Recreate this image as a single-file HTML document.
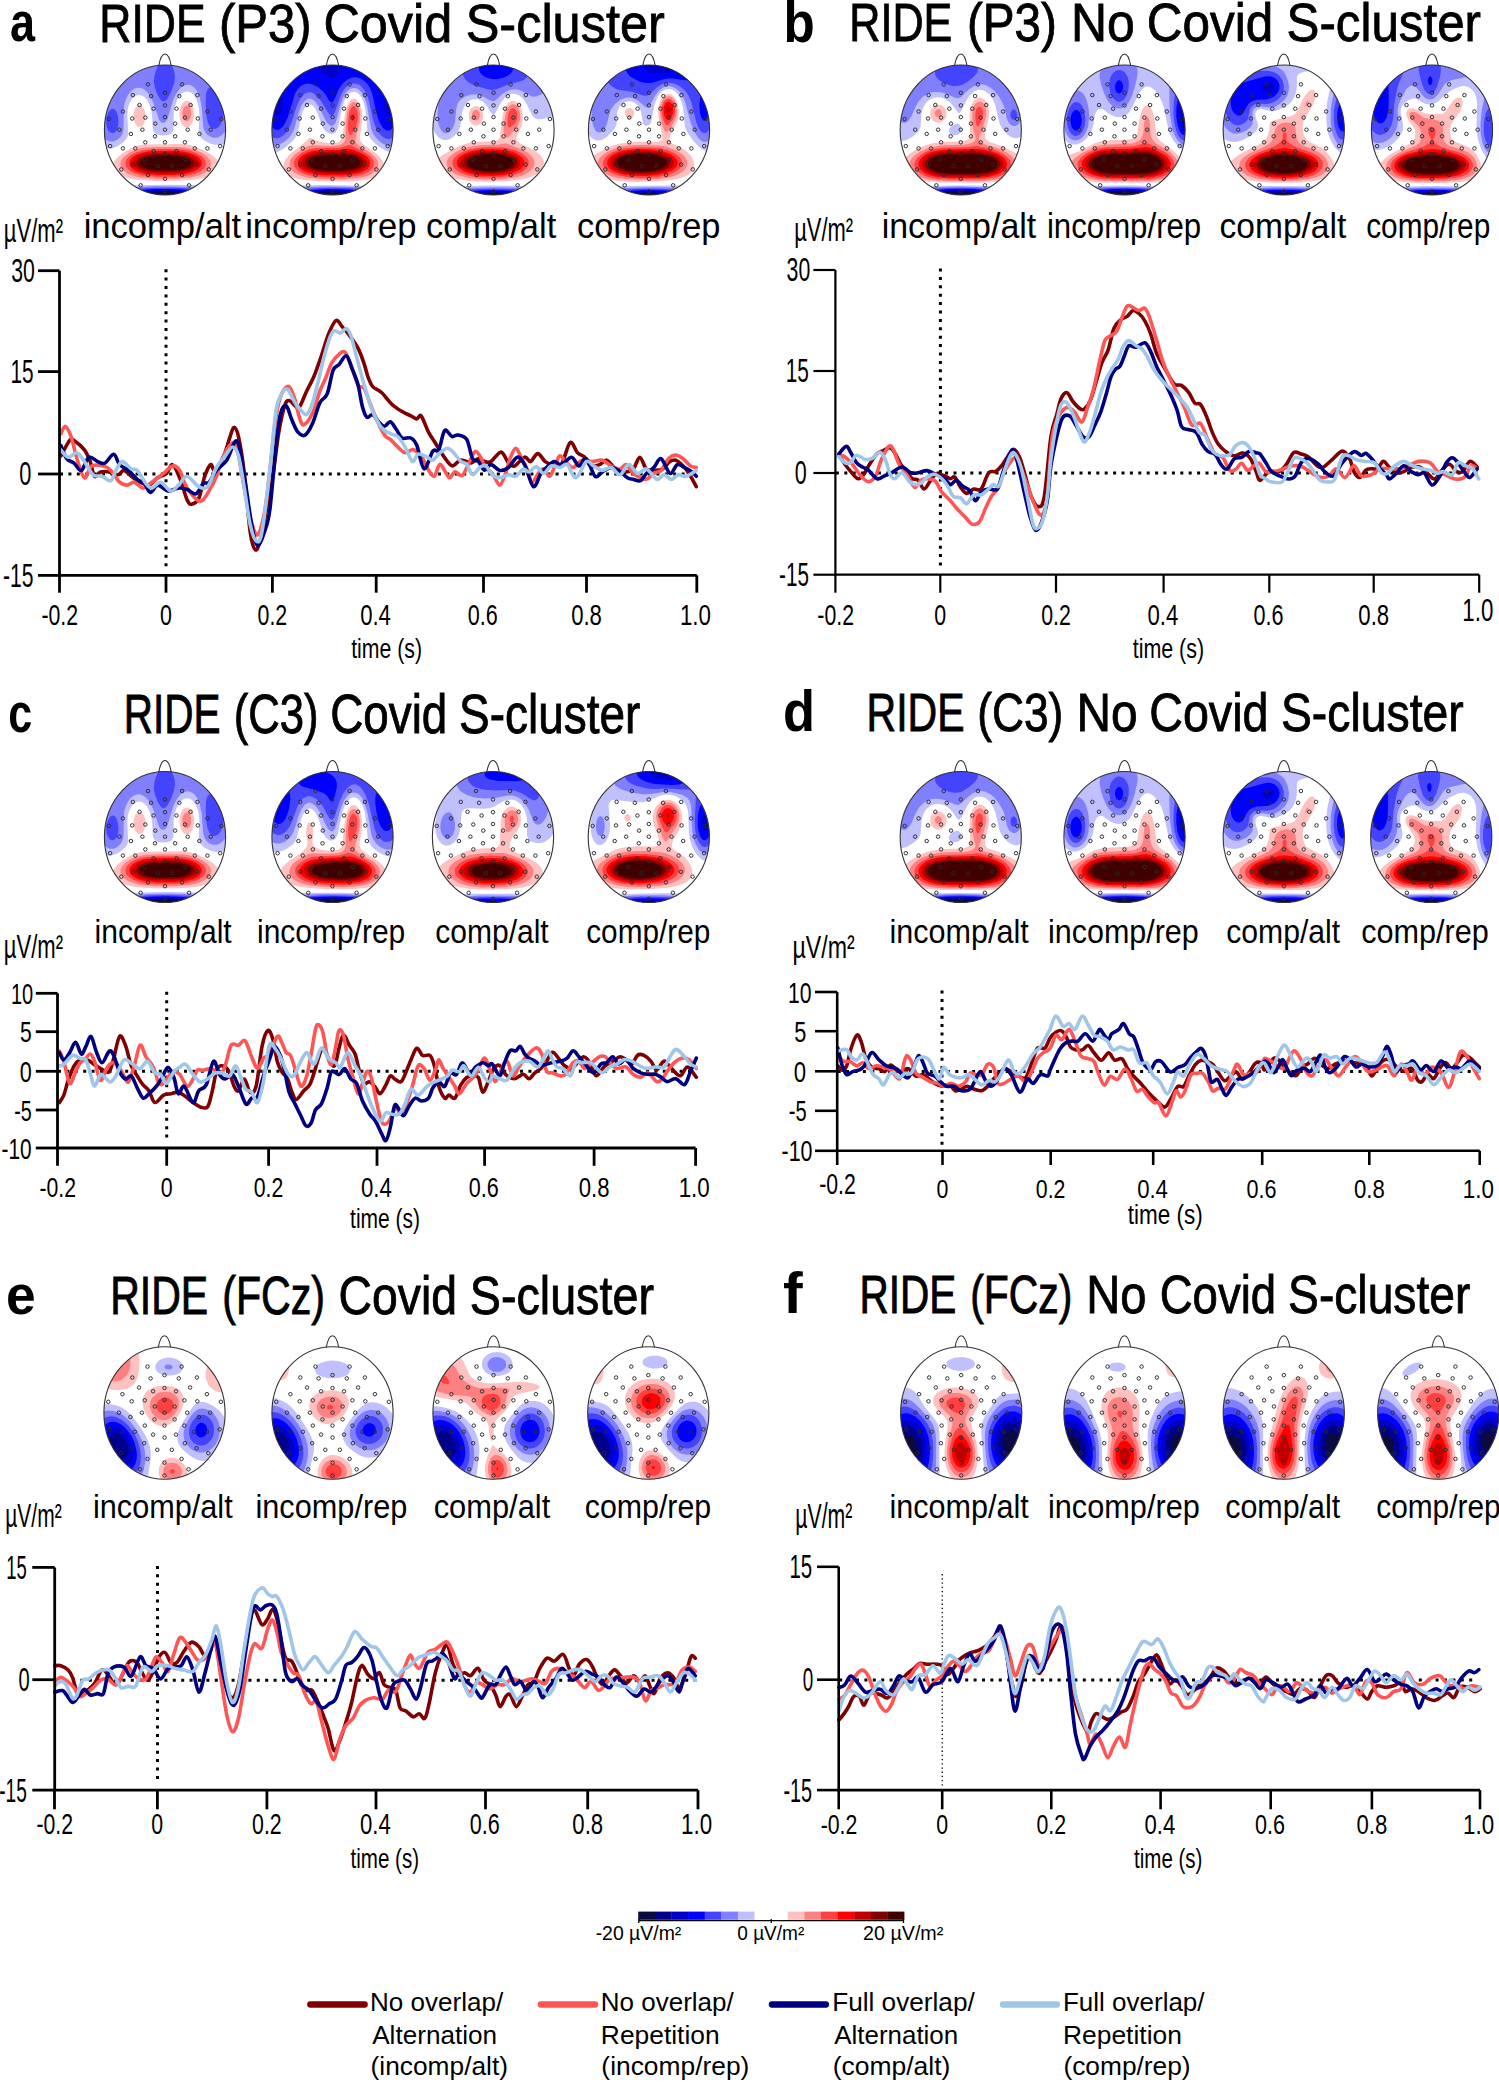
<!DOCTYPE html>
<html><head><meta charset="utf-8"><style>
html,body{margin:0;padding:0;background:#fff;}
body{width:1499px;height:2083px;overflow:hidden;}
svg{display:block;}
text{font-family:"Liberation Sans",sans-serif;font-kerning:none;}
</style></head><body>
<svg width="1499" height="2083" viewBox="0 0 1499 2083">
<rect width="1499" height="2083" fill="#fff"/>
<text transform="translate(9.88 41.46) scale(0.4501 0.5512)" font-size="100" font-weight="bold" fill="#000">a</text>
<text transform="translate(783.62 41.84) scale(0.5120 0.5706)" font-size="100" font-weight="bold" fill="#000">b</text>
<text transform="translate(8.32 732.26) scale(0.4305 0.5549)" font-size="100" font-weight="bold" fill="#000">c</text>
<text transform="translate(783.05 731.24) scale(0.5239 0.5774)" font-size="100" font-weight="bold" fill="#000">d</text>
<text transform="translate(5.91 1314.26) scale(0.5343 0.5549)" font-size="100" font-weight="bold" fill="#000">e</text>
<text transform="translate(782.99 1312.80) scale(0.5914 0.5769)" font-size="100" font-weight="bold" fill="#000">f</text>
<text transform="translate(99.35 41.60) scale(0.4448 0.5407)" font-size="100" fill="#000" stroke="#000" stroke-width="0.8" vector-effect="non-scaling-stroke">RIDE</text>
<text transform="translate(218.96 41.60) scale(0.4906 0.5407)" font-size="100" fill="#000" stroke="#000" stroke-width="0.8" vector-effect="non-scaling-stroke">(P3)</text>
<text transform="translate(323.44 41.60) scale(0.5038 0.5407)" font-size="100" fill="#000" stroke="#000" stroke-width="0.8" vector-effect="non-scaling-stroke">Covid</text>
<text transform="translate(465.71 41.60) scale(0.5047 0.5407)" font-size="100" fill="#000" stroke="#000" stroke-width="0.8" vector-effect="non-scaling-stroke">S-cluster</text>
<text transform="translate(849.26 41.40) scale(0.4315 0.5436)" font-size="100" fill="#000" stroke="#000" stroke-width="0.8" vector-effect="non-scaling-stroke">RIDE</text>
<text transform="translate(966.95 41.40) scale(0.4765 0.5436)" font-size="100" fill="#000" stroke="#000" stroke-width="0.8" vector-effect="non-scaling-stroke">(P3)</text>
<text transform="translate(1071.00 41.40) scale(0.4999 0.5436)" font-size="100" fill="#000" stroke="#000" stroke-width="0.8" vector-effect="non-scaling-stroke">No</text>
<text transform="translate(1146.79 41.40) scale(0.4944 0.5436)" font-size="100" fill="#000" stroke="#000" stroke-width="0.8" vector-effect="non-scaling-stroke">Covid</text>
<text transform="translate(1286.56 41.40) scale(0.4931 0.5436)" font-size="100" fill="#000" stroke="#000" stroke-width="0.8" vector-effect="non-scaling-stroke">S-cluster</text>
<text transform="translate(123.78 732.50) scale(0.4046 0.5523)" font-size="100" fill="#000" stroke="#000" stroke-width="0.8" vector-effect="non-scaling-stroke">RIDE</text>
<text transform="translate(233.70 732.50) scale(0.4362 0.5523)" font-size="100" fill="#000" stroke="#000" stroke-width="0.8" vector-effect="non-scaling-stroke">(C3)</text>
<text transform="translate(330.27 732.50) scale(0.4579 0.5523)" font-size="100" fill="#000" stroke="#000" stroke-width="0.8" vector-effect="non-scaling-stroke">Covid</text>
<text transform="translate(459.11 732.50) scale(0.4594 0.5523)" font-size="100" fill="#000" stroke="#000" stroke-width="0.8" vector-effect="non-scaling-stroke">S-cluster</text>
<text transform="translate(866.53 731.40) scale(0.4103 0.5407)" font-size="100" fill="#000" stroke="#000" stroke-width="0.8" vector-effect="non-scaling-stroke">RIDE</text>
<text transform="translate(977.25 731.40) scale(0.4428 0.5407)" font-size="100" fill="#000" stroke="#000" stroke-width="0.8" vector-effect="non-scaling-stroke">(C3)</text>
<text transform="translate(1076.38 731.40) scale(0.4782 0.5407)" font-size="100" fill="#000" stroke="#000" stroke-width="0.8" vector-effect="non-scaling-stroke">No</text>
<text transform="translate(1149.23 731.40) scale(0.4665 0.5407)" font-size="100" fill="#000" stroke="#000" stroke-width="0.8" vector-effect="non-scaling-stroke">Covid</text>
<text transform="translate(1280.90 731.40) scale(0.4635 0.5407)" font-size="100" fill="#000" stroke="#000" stroke-width="0.8" vector-effect="non-scaling-stroke">S-cluster</text>
<text transform="translate(110.13 1314.00) scale(0.4103 0.5422)" font-size="100" fill="#000" stroke="#000" stroke-width="0.8" vector-effect="non-scaling-stroke">RIDE</text>
<text transform="translate(222.25 1314.00) scale(0.4114 0.5422)" font-size="100" fill="#000" stroke="#000" stroke-width="0.8" vector-effect="non-scaling-stroke">(FCz)</text>
<text transform="translate(338.55 1314.00) scale(0.4637 0.5422)" font-size="100" fill="#000" stroke="#000" stroke-width="0.8" vector-effect="non-scaling-stroke">Covid</text>
<text transform="translate(469.78 1314.00) scale(0.4669 0.5422)" font-size="100" fill="#000" stroke="#000" stroke-width="0.8" vector-effect="non-scaling-stroke">S-cluster</text>
<text transform="translate(859.47 1313.30) scale(0.4054 0.5407)" font-size="100" fill="#000" stroke="#000" stroke-width="0.8" vector-effect="non-scaling-stroke">RIDE</text>
<text transform="translate(970.26 1313.30) scale(0.4088 0.5407)" font-size="100" fill="#000" stroke="#000" stroke-width="0.8" vector-effect="non-scaling-stroke">(FCz)</text>
<text transform="translate(1086.33 1313.30) scale(0.4713 0.5407)" font-size="100" fill="#000" stroke="#000" stroke-width="0.8" vector-effect="non-scaling-stroke">No</text>
<text transform="translate(1159.69 1313.30) scale(0.4555 0.5407)" font-size="100" fill="#000" stroke="#000" stroke-width="0.8" vector-effect="non-scaling-stroke">Covid</text>
<text transform="translate(1288.10 1313.30) scale(0.4620 0.5407)" font-size="100" fill="#000" stroke="#000" stroke-width="0.8" vector-effect="non-scaling-stroke">S-cluster</text>
<text transform="translate(83.69 238.30) scale(0.3457 0.3450)" font-size="100" fill="#000">incomp/alt</text>
<text transform="translate(245.18 238.30) scale(0.3462 0.3450)" font-size="100" fill="#000">incomp/rep</text>
<text transform="translate(426.04 238.30) scale(0.3446 0.3450)" font-size="100" fill="#000">comp/alt</text>
<text transform="translate(577.04 238.30) scale(0.3440 0.3450)" font-size="100" fill="#000">comp/rep</text>
<text transform="translate(881.73 237.50) scale(0.3390 0.3588)" font-size="100" fill="#000">incomp/alt</text>
<text transform="translate(1046.91 237.50) scale(0.3121 0.3588)" font-size="100" fill="#000">incomp/rep</text>
<text transform="translate(1219.58 237.50) scale(0.3352 0.3588)" font-size="100" fill="#000">comp/alt</text>
<text transform="translate(1366.24 237.50) scale(0.2975 0.3588)" font-size="100" fill="#000">comp/rep</text>
<text transform="translate(94.49 942.50) scale(0.3011 0.3312)" font-size="100" fill="#000">incomp/alt</text>
<text transform="translate(257.00 942.50) scale(0.2997 0.3312)" font-size="100" fill="#000">incomp/rep</text>
<text transform="translate(435.22 942.50) scale(0.3003 0.3312)" font-size="100" fill="#000">comp/alt</text>
<text transform="translate(586.24 942.50) scale(0.2975 0.3312)" font-size="100" fill="#000">comp/rep</text>
<text transform="translate(889.46 942.50) scale(0.3056 0.3312)" font-size="100" fill="#000">incomp/alt</text>
<text transform="translate(1047.96 942.50) scale(0.3049 0.3312)" font-size="100" fill="#000">incomp/rep</text>
<text transform="translate(1226.22 942.50) scale(0.3016 0.3312)" font-size="100" fill="#000">comp/alt</text>
<text transform="translate(1361.20 942.50) scale(0.3061 0.3312)" font-size="100" fill="#000">comp/rep</text>
<text transform="translate(92.95 1517.50) scale(0.3067 0.3312)" font-size="100" fill="#000">incomp/alt</text>
<text transform="translate(255.45 1517.50) scale(0.3070 0.3312)" font-size="100" fill="#000">incomp/rep</text>
<text transform="translate(433.69 1517.50) scale(0.3084 0.3312)" font-size="100" fill="#000">comp/alt</text>
<text transform="translate(584.71 1517.50) scale(0.3036 0.3312)" font-size="100" fill="#000">comp/rep</text>
<text transform="translate(889.46 1517.50) scale(0.3056 0.3312)" font-size="100" fill="#000">incomp/alt</text>
<text transform="translate(1047.95 1517.50) scale(0.3070 0.3312)" font-size="100" fill="#000">incomp/rep</text>
<text transform="translate(1225.21 1517.50) scale(0.3043 0.3312)" font-size="100" fill="#000">comp/alt</text>
<text transform="translate(1376.23 1517.50) scale(0.2987 0.3312)" font-size="100" fill="#000">comp/rep</text>
<text transform="translate(3.79 241.70) scale(0.2208 0.3299)" font-size="100" fill="#000">µV/m²</text>
<text transform="translate(794.20 241.30) scale(0.2193 0.3241)" font-size="100" fill="#000">µV/m²</text>
<text transform="translate(3.79 958.30) scale(0.2208 0.3241)" font-size="100" fill="#000">µV/m²</text>
<text transform="translate(792.41 958.30) scale(0.2320 0.3198)" font-size="100" fill="#000">µV/m²</text>
<text transform="translate(5.26 1527.30) scale(0.2100 0.3387)" font-size="100" fill="#000">µV/m²</text>
<text transform="translate(795.25 1528.30) scale(0.2127 0.3488)" font-size="100" fill="#000">µV/m²</text>
<path d="M60.0 472.5h3.0v3.0h-3.0zM68.4 472.5h3.0v3.0h-3.0zM76.8 472.5h3.0v3.0h-3.0zM85.2 472.5h3.0v3.0h-3.0zM93.6 472.5h3.0v3.0h-3.0zM102.0 472.5h3.0v3.0h-3.0zM110.4 472.5h3.0v3.0h-3.0zM118.8 472.5h3.0v3.0h-3.0zM127.2 472.5h3.0v3.0h-3.0zM135.6 472.5h3.0v3.0h-3.0zM144.0 472.5h3.0v3.0h-3.0zM152.4 472.5h3.0v3.0h-3.0zM160.8 472.5h3.0v3.0h-3.0zM169.2 472.5h3.0v3.0h-3.0zM177.6 472.5h3.0v3.0h-3.0zM186.0 472.5h3.0v3.0h-3.0zM194.4 472.5h3.0v3.0h-3.0zM202.8 472.5h3.0v3.0h-3.0zM211.2 472.5h3.0v3.0h-3.0zM219.6 472.5h3.0v3.0h-3.0zM228.0 472.5h3.0v3.0h-3.0zM236.4 472.5h3.0v3.0h-3.0zM244.8 472.5h3.0v3.0h-3.0zM253.2 472.5h3.0v3.0h-3.0zM261.6 472.5h3.0v3.0h-3.0zM270.0 472.5h3.0v3.0h-3.0zM278.4 472.5h3.0v3.0h-3.0zM286.8 472.5h3.0v3.0h-3.0zM295.2 472.5h3.0v3.0h-3.0zM303.6 472.5h3.0v3.0h-3.0zM312.0 472.5h3.0v3.0h-3.0zM320.4 472.5h3.0v3.0h-3.0zM328.8 472.5h3.0v3.0h-3.0zM337.2 472.5h3.0v3.0h-3.0zM345.6 472.5h3.0v3.0h-3.0zM354.0 472.5h3.0v3.0h-3.0zM362.4 472.5h3.0v3.0h-3.0zM370.8 472.5h3.0v3.0h-3.0zM379.2 472.5h3.0v3.0h-3.0zM387.6 472.5h3.0v3.0h-3.0zM396.0 472.5h3.0v3.0h-3.0zM404.4 472.5h3.0v3.0h-3.0zM412.8 472.5h3.0v3.0h-3.0zM421.2 472.5h3.0v3.0h-3.0zM429.6 472.5h3.0v3.0h-3.0zM438.0 472.5h3.0v3.0h-3.0zM446.4 472.5h3.0v3.0h-3.0zM454.8 472.5h3.0v3.0h-3.0zM463.2 472.5h3.0v3.0h-3.0zM471.6 472.5h3.0v3.0h-3.0zM480.0 472.5h3.0v3.0h-3.0zM488.4 472.5h3.0v3.0h-3.0zM496.8 472.5h3.0v3.0h-3.0zM505.2 472.5h3.0v3.0h-3.0zM513.6 472.5h3.0v3.0h-3.0zM522.0 472.5h3.0v3.0h-3.0zM530.4 472.5h3.0v3.0h-3.0zM538.8 472.5h3.0v3.0h-3.0zM547.2 472.5h3.0v3.0h-3.0zM555.6 472.5h3.0v3.0h-3.0zM564.0 472.5h3.0v3.0h-3.0zM572.4 472.5h3.0v3.0h-3.0zM580.8 472.5h3.0v3.0h-3.0zM589.2 472.5h3.0v3.0h-3.0zM597.6 472.5h3.0v3.0h-3.0zM606.0 472.5h3.0v3.0h-3.0zM614.4 472.5h3.0v3.0h-3.0zM622.8 472.5h3.0v3.0h-3.0zM631.2 472.5h3.0v3.0h-3.0zM639.6 472.5h3.0v3.0h-3.0zM648.0 472.5h3.0v3.0h-3.0zM656.4 472.5h3.0v3.0h-3.0zM664.8 472.5h3.0v3.0h-3.0zM673.2 472.5h3.0v3.0h-3.0zM681.6 472.5h3.0v3.0h-3.0zM690.0 472.5h3.0v3.0h-3.0z" fill="#000"/>
<path d="M164.5 269.2h3.0v3.0h-3.0zM164.5 277.6h3.0v3.0h-3.0zM164.5 286.0h3.0v3.0h-3.0zM164.5 294.4h3.0v3.0h-3.0zM164.5 302.8h3.0v3.0h-3.0zM164.5 311.2h3.0v3.0h-3.0zM164.5 319.6h3.0v3.0h-3.0zM164.5 328.0h3.0v3.0h-3.0zM164.5 336.4h3.0v3.0h-3.0zM164.5 344.8h3.0v3.0h-3.0zM164.5 353.2h3.0v3.0h-3.0zM164.5 361.6h3.0v3.0h-3.0zM164.5 370.0h3.0v3.0h-3.0zM164.5 378.4h3.0v3.0h-3.0zM164.5 386.8h3.0v3.0h-3.0zM164.5 395.2h3.0v3.0h-3.0zM164.5 403.6h3.0v3.0h-3.0zM164.5 412.0h3.0v3.0h-3.0zM164.5 420.4h3.0v3.0h-3.0zM164.5 428.8h3.0v3.0h-3.0zM164.5 437.2h3.0v3.0h-3.0zM164.5 445.6h3.0v3.0h-3.0zM164.5 454.0h3.0v3.0h-3.0zM164.5 462.4h3.0v3.0h-3.0zM164.5 470.8h3.0v3.0h-3.0zM164.5 479.2h3.0v3.0h-3.0zM164.5 487.6h3.0v3.0h-3.0zM164.5 496.0h3.0v3.0h-3.0zM164.5 504.4h3.0v3.0h-3.0zM164.5 512.8h3.0v3.0h-3.0zM164.5 521.2h3.0v3.0h-3.0zM164.5 529.6h3.0v3.0h-3.0zM164.5 538.0h3.0v3.0h-3.0zM164.5 546.4h3.0v3.0h-3.0zM164.5 554.8h3.0v3.0h-3.0zM164.5 563.2h3.0v3.0h-3.0z" fill="#000"/>
<path d="M60.9 455.8C62.4 453.2 67.5 443.0 69.7 440.4C71.9 437.8 71.5 438.8 74.0 440.4C76.5 442.0 81.7 446.4 84.4 449.9C87.1 453.4 88.5 457.2 90.2 461.6C91.9 466.0 92.9 474.6 94.6 476.3C96.3 478.0 98.0 472.6 100.5 471.9C103.0 471.2 106.4 471.4 109.3 471.9C112.2 472.4 115.6 475.1 118.1 474.8C120.5 474.6 121.8 470.1 124.0 470.4C126.2 470.6 128.6 474.3 131.3 476.3C134.0 478.3 137.2 480.7 140.1 482.2C143.0 483.7 146.0 485.8 148.9 485.1C151.8 484.4 154.8 479.8 157.7 477.8C160.6 475.9 164.1 475.6 166.5 473.4C168.9 471.2 170.2 463.9 172.4 464.6C174.6 465.3 177.2 471.9 179.7 477.8C182.1 483.7 185.1 495.4 187.1 499.8C189.1 504.2 189.6 504.4 191.5 504.2C193.4 503.9 196.6 502.9 198.8 498.3C201.0 493.7 202.7 481.9 204.7 476.3C206.7 470.7 208.9 465.6 210.6 464.6C212.3 463.6 212.8 471.9 215.0 470.4C217.2 468.9 221.4 461.2 223.8 455.8C226.2 450.4 227.9 443.0 229.6 438.2C231.3 433.4 232.5 427.4 234.0 427.2C235.5 426.9 236.8 429.0 238.5 436.7C240.2 444.4 242.4 457.5 244.3 473.4C246.2 489.3 248.4 519.4 250.2 532.1C252.0 544.8 253.6 548.5 255.3 549.7C257.0 550.9 258.4 547.2 260.5 539.4C262.6 531.6 265.7 513.2 267.8 502.7C269.9 492.1 271.1 487.9 272.9 476.1C274.7 464.3 276.8 443.8 278.8 432.1C280.8 420.4 283.0 411.0 284.7 405.7C286.4 400.4 287.4 400.5 289.1 400.5C290.8 400.5 293.3 404.6 295.0 405.7C296.7 406.8 297.4 409.6 299.4 407.1C301.3 404.7 304.3 396.1 306.7 391.0C309.1 385.9 311.6 382.2 314.0 376.3C316.4 370.4 318.9 362.9 321.4 355.8C323.8 348.7 326.3 339.7 328.7 333.8C331.1 327.9 333.8 321.7 336.0 320.5C338.2 319.3 339.7 323.9 341.9 326.4C344.1 328.8 346.6 331.5 349.3 335.2C352.0 338.9 355.7 343.8 358.1 348.4C360.5 353.0 362.2 358.2 363.9 363.1C365.6 368.0 366.8 373.9 368.3 377.8C369.8 381.7 370.5 384.2 372.7 386.6C374.9 389.1 378.3 389.6 381.5 392.5C384.7 395.4 388.4 401.0 391.8 404.2C395.2 407.4 398.9 409.6 402.1 411.5C405.3 413.4 408.4 414.7 410.9 415.9C413.3 417.1 415.1 418.9 416.8 418.9C418.5 418.9 419.2 413.8 421.2 416.0C423.1 418.2 426.1 427.5 428.5 432.1C430.9 436.7 433.4 439.9 435.8 443.8C438.2 447.7 440.5 451.9 443.2 455.6C445.9 459.3 449.1 465.1 452.0 465.8C454.9 466.5 457.6 460.5 460.8 460.0C464.0 459.5 468.2 463.1 471.1 462.9C474.0 462.6 476.1 458.7 478.4 458.5C480.7 458.3 482.9 461.1 485.0 461.6C487.1 462.1 488.2 463.2 490.9 461.6C493.6 460.0 498.2 451.9 501.1 452.1C504.0 452.4 506.3 460.8 508.5 463.1C510.7 465.4 511.7 467.0 514.4 466.0C517.1 465.0 521.9 457.9 524.6 457.2C527.3 456.5 528.3 462.2 530.5 461.6C532.7 461.0 535.3 453.6 537.8 453.6C540.2 453.6 542.8 459.8 545.2 461.6C547.7 463.4 549.8 464.1 552.5 464.6C555.2 465.1 558.4 468.3 561.3 464.6C564.2 460.9 567.4 444.6 570.1 442.6C572.8 440.6 575.0 450.4 577.5 452.8C580.0 455.2 582.6 455.0 584.8 457.2C587.0 459.4 588.2 464.8 590.7 466.0C593.2 467.2 596.8 465.6 599.5 464.6C602.2 463.6 604.3 459.7 606.8 460.2C609.2 460.7 611.3 465.6 614.2 467.5C617.1 469.4 621.2 471.6 624.4 471.9C627.6 472.1 630.6 471.4 633.2 469.0C635.8 466.6 637.6 457.2 639.8 457.2C642.0 457.2 643.8 466.8 646.4 469.0C649.0 471.2 652.5 470.4 655.2 470.4C657.9 470.4 660.2 470.5 662.6 469.0C665.0 467.5 667.7 463.1 669.9 461.6C672.1 460.1 673.6 459.5 675.8 460.2C678.0 460.9 680.9 463.8 683.1 466.0C685.3 468.2 686.8 470.0 689.0 473.4C691.2 476.8 695.1 484.4 696.3 486.6" fill="none" stroke="#7f0000" stroke-width="3.6" stroke-linejoin="round" stroke-linecap="round"/>
<path d="M60.9 433.8C61.6 432.6 63.6 425.9 65.3 426.4C67.0 426.9 69.1 431.3 71.1 436.7C73.0 442.1 74.8 451.8 77.0 458.7C79.2 465.6 82.0 476.6 84.4 477.8C86.9 479.0 88.5 468.0 91.7 466.0C94.9 464.0 100.2 465.3 103.4 466.0C106.6 466.7 108.1 467.7 110.8 470.4C113.5 473.1 116.9 479.8 119.6 482.2C122.3 484.6 124.5 485.1 126.9 485.1C129.4 485.1 131.6 481.7 134.3 482.2C137.0 482.7 140.2 488.1 143.1 488.1C146.0 488.1 148.5 484.6 151.9 482.2C155.3 479.8 160.2 476.1 163.6 473.4C167.0 470.7 169.7 466.5 172.4 466.0C175.1 465.5 177.2 466.7 179.7 470.4C182.1 474.1 183.7 483.0 187.1 488.1C190.5 493.2 196.4 501.3 200.3 501.3C204.2 501.3 207.9 492.3 210.6 488.1C213.3 483.9 214.4 481.2 216.4 476.3C218.4 471.4 219.9 464.1 222.3 458.7C224.8 453.3 228.7 445.7 231.1 444.0C233.5 442.3 234.8 441.0 237.0 448.4C239.2 455.8 242.1 476.6 244.3 488.1C246.5 499.6 248.0 509.6 250.2 517.4C252.4 525.2 255.1 536.2 257.5 535.0C259.9 533.8 262.8 521.1 264.9 510.1C267.0 499.1 268.2 484.2 270.0 468.8C271.8 453.4 273.9 429.9 275.9 417.4C277.8 404.9 279.5 399.0 281.7 393.9C283.9 388.8 286.9 385.6 289.1 386.6C291.3 387.6 293.3 394.7 295.0 399.8C296.7 404.9 297.9 413.2 299.4 417.4C300.9 421.6 301.6 425.5 303.8 424.8C306.0 424.1 309.9 418.6 312.6 413.0C315.3 407.4 317.7 396.9 319.9 391.0C322.1 385.1 323.9 382.4 325.8 377.8C327.8 373.2 329.4 367.0 331.6 363.1C333.8 359.2 336.8 356.1 339.0 354.3C341.2 352.5 342.9 350.4 344.9 352.1C346.8 353.8 348.5 359.1 350.7 364.6C352.9 370.1 355.9 381.2 358.1 385.1C360.3 389.0 361.9 385.2 363.9 388.1C365.8 391.0 367.8 397.8 369.8 402.7C371.8 407.6 373.2 412.0 375.7 417.4C378.1 422.8 382.1 431.3 384.5 435.0C386.9 438.7 388.1 437.4 390.3 439.4C392.5 441.4 395.2 444.6 397.7 446.8C400.1 449.0 402.3 452.1 405.0 452.6C407.7 453.1 410.9 448.7 413.8 449.7C416.7 450.7 420.2 455.1 422.6 458.5C425.1 461.9 426.5 467.3 428.5 470.2C430.5 473.1 432.4 477.1 434.4 476.1C436.3 475.1 437.8 464.1 440.2 464.4C442.6 464.6 446.7 476.4 449.1 477.6C451.6 478.8 452.7 472.1 454.9 471.7C457.1 471.3 459.9 477.1 462.3 475.4C464.8 473.7 467.4 465.4 469.6 461.4C471.8 457.4 473.6 451.7 475.5 451.2C477.4 450.7 479.7 455.8 481.3 458.5C482.9 461.2 483.2 465.0 485.0 467.5C486.8 470.0 489.9 470.5 492.3 473.4C494.8 476.3 497.5 485.1 499.7 485.1C501.9 485.1 503.8 477.8 505.5 473.4C507.2 469.0 508.3 462.9 510.0 458.7C511.7 454.5 513.8 448.4 515.8 448.4C517.8 448.4 519.7 455.0 521.7 458.7C523.7 462.4 525.9 466.5 527.6 470.4C529.3 474.3 530.0 481.9 532.0 482.2C534.0 482.4 537.3 474.1 539.3 471.9C541.2 469.7 542.0 468.3 543.7 469.0C545.4 469.7 547.7 477.0 549.6 476.3C551.5 475.6 553.7 468.0 555.4 464.6C557.1 461.2 558.2 456.3 559.9 455.8C561.6 455.3 563.5 459.7 565.7 461.6C567.9 463.6 570.4 467.7 573.1 467.5C575.8 467.3 578.7 461.2 581.9 460.2C585.1 459.2 588.7 461.6 592.1 461.6C595.5 461.6 599.2 459.5 602.4 460.2C605.6 460.9 608.3 464.5 611.2 466.0C614.1 467.5 617.5 469.2 620.0 469.0C622.5 468.8 623.9 464.1 625.9 464.6C627.9 465.1 629.8 469.9 631.8 471.9C633.8 473.8 635.2 475.1 637.6 476.3C640.0 477.5 643.7 479.8 646.4 479.3C649.1 478.8 651.3 474.9 653.8 473.4C656.2 471.9 658.6 472.8 661.1 470.4C663.6 467.9 666.0 461.3 668.5 458.7C671.0 456.1 673.4 455.0 675.8 455.0C678.2 455.0 680.6 456.9 683.1 458.7C685.6 460.5 688.3 464.5 690.5 466.0C692.7 467.5 695.3 467.2 696.3 467.5" fill="none" stroke="#ff5555" stroke-width="3.6" stroke-linejoin="round" stroke-linecap="round"/>
<path d="M60.9 445.5C61.9 447.7 64.5 455.8 66.7 458.7C68.9 461.6 71.6 461.2 74.1 463.1C76.5 465.1 79.0 471.4 81.4 470.4C83.9 469.4 86.1 458.7 88.8 457.2C91.5 455.7 94.9 460.6 97.6 461.6C100.3 462.6 102.2 464.3 104.9 463.1C107.6 461.9 111.2 454.1 113.7 454.3C116.2 454.6 117.1 461.9 119.6 464.6C122.0 467.3 125.5 467.9 128.4 470.4C131.3 472.8 134.5 477.1 137.2 479.3C139.9 481.5 142.3 481.5 144.5 483.7C146.7 485.9 148.2 492.3 150.4 492.5C152.6 492.7 154.8 485.4 157.7 485.1C160.6 484.9 164.6 490.5 168.0 491.0C171.4 491.5 175.1 488.4 178.3 488.1C181.5 487.9 184.2 488.5 187.1 489.5C190.0 490.5 193.2 494.9 195.9 493.9C198.6 492.9 201.0 485.6 203.2 483.7C205.4 481.8 206.9 484.4 209.1 482.2C211.3 480.0 213.5 474.1 216.4 470.4C219.3 466.7 223.3 465.1 226.7 460.2C230.1 455.3 234.1 438.4 237.0 441.1C239.9 443.8 241.9 462.4 244.3 476.3C246.8 490.2 249.5 513.2 251.7 524.7C253.9 536.2 255.3 544.3 257.5 545.3C259.7 546.3 262.8 536.8 264.9 530.6C267.0 524.5 268.2 522.4 270.0 508.4C271.8 494.4 274.2 462.4 275.9 446.8C277.6 431.2 278.6 421.4 280.3 414.5C282.0 407.6 284.2 404.7 286.1 405.7C288.1 406.7 290.0 415.9 292.0 420.3C294.0 424.7 295.7 429.7 297.9 432.1C300.1 434.6 302.8 436.5 305.2 435.0C307.6 433.5 310.2 428.7 312.6 423.3C315.1 417.9 317.5 407.6 319.9 402.7C322.3 397.8 325.0 399.3 327.2 393.9C329.4 388.5 331.1 375.3 333.1 370.4C335.1 365.5 336.8 367.0 339.0 364.6C341.2 362.2 344.1 355.1 346.3 355.8C348.5 356.5 350.2 364.1 352.2 369.0C354.2 373.9 356.4 378.8 358.1 385.1C359.8 391.5 361.0 401.7 362.5 407.1C364.0 412.5 365.2 416.2 366.9 417.4C368.6 418.6 370.8 413.8 372.7 414.5C374.6 415.2 376.6 419.9 378.6 421.8C380.6 423.8 382.6 426.2 384.5 426.2C386.4 426.2 388.4 421.3 390.3 421.8C392.2 422.3 394.2 426.5 396.2 429.2C398.2 431.9 399.7 436.5 402.1 438.0C404.6 439.5 408.4 436.8 410.9 438.0C413.3 439.2 414.6 440.2 416.8 445.3C419.0 450.4 421.4 467.8 424.1 468.8C426.8 469.8 430.4 454.4 432.9 451.2C435.3 448.0 436.8 453.1 438.8 449.7C440.8 446.3 442.5 432.8 444.7 430.6C446.9 428.4 449.8 435.8 452.0 436.5C454.2 437.2 455.4 434.5 457.9 435.0C460.3 435.5 464.3 435.5 466.7 439.4C469.1 443.3 470.6 454.8 472.5 458.5C474.4 462.2 476.4 459.4 478.4 461.4C480.4 463.3 482.2 469.7 484.3 470.2C486.4 470.7 488.3 464.6 490.9 464.6C493.5 464.6 496.8 469.9 499.7 470.4C502.6 470.9 505.6 469.7 508.5 467.5C511.4 465.3 514.6 457.7 517.3 457.2C520.0 456.7 521.9 459.7 524.6 464.6C527.3 469.5 530.7 485.1 533.4 486.6C536.1 488.1 538.6 476.6 540.8 473.4C543.0 470.2 544.4 469.5 546.6 467.5C548.8 465.5 551.5 462.1 554.0 461.6C556.5 461.1 558.4 465.3 561.3 464.6C564.2 463.9 568.7 457.0 571.6 457.2C574.5 457.4 576.5 465.8 578.9 466.0C581.3 466.2 583.6 457.0 586.3 458.7C589.0 460.4 592.4 474.1 595.1 476.3C597.8 478.5 599.7 473.4 602.4 471.9C605.1 470.4 608.5 467.8 611.2 467.5C613.9 467.2 615.9 468.7 618.6 470.4C621.3 472.1 625.0 476.3 627.4 477.8C629.8 479.3 631.0 478.8 633.2 479.3C635.4 479.8 638.4 481.7 640.6 480.7C642.8 479.7 644.2 475.6 646.4 473.4C648.6 471.2 651.3 469.9 653.8 467.5C656.2 465.1 658.4 457.7 661.1 458.7C663.8 459.7 667.3 472.4 670.0 473.4C672.7 474.4 674.9 465.6 677.3 464.6C679.7 463.6 682.1 466.3 684.6 467.5C687.1 468.7 690.0 470.4 692.0 471.9C694.0 473.4 695.6 475.6 696.3 476.3" fill="none" stroke="#00007f" stroke-width="3.6" stroke-linejoin="round" stroke-linecap="round"/>
<path d="M60.9 449.9C62.1 451.1 65.5 456.7 68.2 457.2C70.9 457.7 74.3 452.1 77.0 452.8C79.7 453.5 81.7 457.9 84.4 461.6C87.1 465.3 90.3 472.4 93.2 474.8C96.1 477.2 99.1 475.3 102.0 476.3C104.9 477.3 108.4 481.9 110.8 480.7C113.2 479.5 114.6 472.2 116.6 469.0C118.5 465.8 120.0 461.6 122.5 461.6C125.0 461.6 128.9 467.5 131.3 469.0C133.8 470.5 134.8 467.9 137.2 470.4C139.6 472.8 143.6 480.8 146.0 483.7C148.4 486.6 149.5 488.4 151.9 488.1C154.3 487.9 157.5 481.7 160.7 482.2C163.9 482.7 167.8 490.8 171.0 491.0C174.2 491.2 177.0 486.1 179.7 483.7C182.4 481.2 183.9 475.8 187.1 476.3C190.3 476.8 195.4 484.9 198.8 486.6C202.2 488.3 204.7 489.8 207.6 486.6C210.5 483.4 213.5 472.6 216.4 467.5C219.3 462.4 222.5 459.2 225.2 455.8C227.9 452.4 230.4 447.0 232.6 447.0C234.8 447.0 236.6 448.9 238.5 455.8C240.4 462.7 242.4 476.6 244.3 488.1C246.2 499.6 248.2 515.9 250.2 524.7C252.2 533.5 254.2 539.7 256.1 540.9C258.1 542.1 259.6 544.1 261.9 532.1C264.2 520.1 267.7 488.9 270.0 468.8C272.3 448.7 273.9 424.0 275.9 411.5C277.8 399.0 279.8 397.6 281.7 393.9C283.6 390.2 285.4 388.0 287.6 389.5C289.8 391.0 292.8 399.3 295.0 402.7C297.2 406.1 298.9 408.1 300.8 410.1C302.8 412.1 304.7 415.7 306.7 414.5C308.7 413.3 310.7 408.3 312.6 402.7C314.6 397.1 316.4 388.5 318.4 380.7C320.3 372.9 322.3 363.1 324.3 355.8C326.3 348.5 328.5 340.9 330.2 336.7C331.9 332.5 332.9 331.4 334.6 330.8C336.3 330.2 338.4 333.4 340.4 333.0C342.3 332.6 344.6 328.2 346.3 328.6C348.0 329.0 349.2 331.4 350.7 335.2C352.2 339.0 353.4 345.0 355.1 351.4C356.8 357.8 359.0 366.3 361.0 373.4C363.0 380.5 364.9 387.5 366.9 393.9C368.8 400.2 370.3 405.9 372.7 411.5C375.1 417.1 378.6 424.0 381.5 427.7C384.4 431.4 387.6 432.1 390.3 433.6C393.0 435.1 395.2 434.3 397.7 436.5C400.1 438.7 402.6 442.7 405.0 446.8C407.4 450.9 410.2 460.2 412.4 461.4C414.6 462.6 415.8 454.8 418.2 454.1C420.6 453.4 424.6 456.0 427.0 457.0C429.4 458.0 430.7 460.7 432.9 460.0C435.1 459.3 437.8 454.6 440.2 452.6C442.6 450.6 445.4 448.2 447.6 448.2C449.8 448.2 451.3 450.4 453.5 452.6C455.7 454.8 458.6 459.4 460.8 461.4C463.0 463.4 464.8 462.2 466.7 464.4C468.6 466.6 470.3 474.1 472.5 474.6C474.7 475.1 477.7 468.8 479.9 467.3C482.1 465.8 483.6 464.6 485.7 465.8C487.8 467.1 490.0 472.8 492.3 474.8C494.6 476.8 497.0 477.8 499.7 477.8C502.4 477.8 505.8 475.1 508.5 474.8C511.2 474.6 513.3 477.3 515.8 476.3C518.2 475.3 521.0 469.7 523.2 469.0C525.4 468.3 526.8 472.3 529.0 471.9C531.2 471.5 533.9 466.6 536.4 466.8C538.9 467.1 541.3 473.5 543.7 473.4C546.1 473.3 548.3 467.0 551.0 466.0C553.7 465.0 557.2 467.7 559.9 467.5C562.6 467.3 564.5 462.9 567.2 464.6C569.9 466.3 572.8 478.3 576.0 477.8C579.2 477.3 583.4 463.6 586.3 461.6C589.2 459.6 590.9 464.5 593.6 466.0C596.3 467.5 599.5 470.1 602.4 470.4C605.3 470.6 608.3 466.8 611.2 467.5C614.1 468.2 617.1 475.3 620.0 474.8C622.9 474.3 625.9 464.8 628.8 464.6C631.7 464.4 634.7 472.7 637.6 473.4C640.5 474.1 643.2 468.0 646.4 469.0C649.6 470.0 653.8 478.3 656.7 479.3C659.7 480.3 661.7 474.8 664.1 474.8C666.5 474.8 669.0 479.3 671.4 479.3C673.8 479.3 676.2 475.3 678.7 474.8C681.2 474.3 683.2 477.0 686.1 476.3C689.0 475.6 694.6 471.4 696.3 470.4" fill="none" stroke="#9fc5e8" stroke-width="3.6" stroke-linejoin="round" stroke-linecap="round"/>
<path d="M59.5 270.7V575.4H696.8" fill="none" stroke="#000" stroke-width="2.8"/>
<path d="M38.0 270.7H59.5" stroke="#000" stroke-width="2.8"/>
<text transform="translate(11.19 282.00) scale(0.2125 0.3237)" font-size="100" fill="#000">30</text>
<path d="M38.0 371.6H59.5" stroke="#000" stroke-width="2.8"/>
<text transform="translate(10.41 382.90) scale(0.2082 0.3237)" font-size="100" fill="#000">15</text>
<path d="M38.0 474.0H59.5" stroke="#000" stroke-width="2.8"/>
<text transform="translate(19.15 485.30) scale(0.2176 0.3237)" font-size="100" fill="#000">0</text>
<path d="M38.0 575.4H59.5" stroke="#000" stroke-width="2.8"/>
<text transform="translate(3.06 586.70) scale(0.2112 0.3237)" font-size="100" fill="#000">-15</text>
<path d="M59.5 575.4V592.7" stroke="#000" stroke-width="2.8"/>
<text transform="translate(41.46 625.00) scale(0.2125 0.3008)" font-size="100" fill="#000">-0.2</text>
<path d="M166.0 575.4V592.7" stroke="#000" stroke-width="2.8"/>
<text transform="translate(159.97 625.00) scale(0.2134 0.3008)" font-size="100" fill="#000">0</text>
<path d="M272.4 575.4V592.7" stroke="#000" stroke-width="2.8"/>
<text transform="translate(257.57 625.00) scale(0.2129 0.3008)" font-size="100" fill="#000">0.2</text>
<path d="M376.2 575.4V592.7" stroke="#000" stroke-width="2.8"/>
<text transform="translate(360.13 625.00) scale(0.2217 0.3008)" font-size="100" fill="#000">0.4</text>
<path d="M483.5 575.4V592.7" stroke="#000" stroke-width="2.8"/>
<text transform="translate(467.76 625.00) scale(0.2157 0.3008)" font-size="100" fill="#000">0.6</text>
<path d="M586.5 575.4V592.7" stroke="#000" stroke-width="2.8"/>
<text transform="translate(571.13 625.00) scale(0.2218 0.3008)" font-size="100" fill="#000">0.8</text>
<path d="M696.8 575.4V592.7" stroke="#000" stroke-width="2.8"/>
<text transform="translate(679.90 625.00) scale(0.2235 0.3008)" font-size="100" fill="#000">1.0</text>
<text transform="translate(351.18 657.50) scale(0.2125 0.2760)" font-size="100" fill="#000">time (s)</text>
<path d="M835.9 471.5h3.0v3.0h-3.0zM844.3 471.5h3.0v3.0h-3.0zM852.7 471.5h3.0v3.0h-3.0zM861.1 471.5h3.0v3.0h-3.0zM869.5 471.5h3.0v3.0h-3.0zM877.9 471.5h3.0v3.0h-3.0zM886.3 471.5h3.0v3.0h-3.0zM894.7 471.5h3.0v3.0h-3.0zM903.1 471.5h3.0v3.0h-3.0zM911.5 471.5h3.0v3.0h-3.0zM919.9 471.5h3.0v3.0h-3.0zM928.3 471.5h3.0v3.0h-3.0zM936.7 471.5h3.0v3.0h-3.0zM945.1 471.5h3.0v3.0h-3.0zM953.5 471.5h3.0v3.0h-3.0zM961.9 471.5h3.0v3.0h-3.0zM970.3 471.5h3.0v3.0h-3.0zM978.7 471.5h3.0v3.0h-3.0zM987.1 471.5h3.0v3.0h-3.0zM995.5 471.5h3.0v3.0h-3.0zM1003.9 471.5h3.0v3.0h-3.0zM1012.3 471.5h3.0v3.0h-3.0zM1020.7 471.5h3.0v3.0h-3.0zM1029.1 471.5h3.0v3.0h-3.0zM1037.5 471.5h3.0v3.0h-3.0zM1045.9 471.5h3.0v3.0h-3.0zM1054.3 471.5h3.0v3.0h-3.0zM1062.7 471.5h3.0v3.0h-3.0zM1071.1 471.5h3.0v3.0h-3.0zM1079.5 471.5h3.0v3.0h-3.0zM1087.9 471.5h3.0v3.0h-3.0zM1096.3 471.5h3.0v3.0h-3.0zM1104.7 471.5h3.0v3.0h-3.0zM1113.1 471.5h3.0v3.0h-3.0zM1121.5 471.5h3.0v3.0h-3.0zM1129.9 471.5h3.0v3.0h-3.0zM1138.3 471.5h3.0v3.0h-3.0zM1146.7 471.5h3.0v3.0h-3.0zM1155.1 471.5h3.0v3.0h-3.0zM1163.5 471.5h3.0v3.0h-3.0zM1171.9 471.5h3.0v3.0h-3.0zM1180.3 471.5h3.0v3.0h-3.0zM1188.7 471.5h3.0v3.0h-3.0zM1197.1 471.5h3.0v3.0h-3.0zM1205.5 471.5h3.0v3.0h-3.0zM1213.9 471.5h3.0v3.0h-3.0zM1222.3 471.5h3.0v3.0h-3.0zM1230.7 471.5h3.0v3.0h-3.0zM1239.1 471.5h3.0v3.0h-3.0zM1247.5 471.5h3.0v3.0h-3.0zM1255.9 471.5h3.0v3.0h-3.0zM1264.3 471.5h3.0v3.0h-3.0zM1272.7 471.5h3.0v3.0h-3.0zM1281.1 471.5h3.0v3.0h-3.0zM1289.5 471.5h3.0v3.0h-3.0zM1297.9 471.5h3.0v3.0h-3.0zM1306.3 471.5h3.0v3.0h-3.0zM1314.7 471.5h3.0v3.0h-3.0zM1323.1 471.5h3.0v3.0h-3.0zM1331.5 471.5h3.0v3.0h-3.0zM1339.9 471.5h3.0v3.0h-3.0zM1348.3 471.5h3.0v3.0h-3.0zM1356.7 471.5h3.0v3.0h-3.0zM1365.1 471.5h3.0v3.0h-3.0zM1373.5 471.5h3.0v3.0h-3.0zM1381.9 471.5h3.0v3.0h-3.0zM1390.3 471.5h3.0v3.0h-3.0zM1398.7 471.5h3.0v3.0h-3.0zM1407.1 471.5h3.0v3.0h-3.0zM1415.5 471.5h3.0v3.0h-3.0zM1423.9 471.5h3.0v3.0h-3.0zM1432.3 471.5h3.0v3.0h-3.0zM1440.7 471.5h3.0v3.0h-3.0zM1449.1 471.5h3.0v3.0h-3.0zM1457.5 471.5h3.0v3.0h-3.0zM1465.9 471.5h3.0v3.0h-3.0zM1474.3 471.5h3.0v3.0h-3.0z" fill="#000"/>
<path d="M938.9 268.5h3.0v3.0h-3.0zM938.9 276.9h3.0v3.0h-3.0zM938.9 285.3h3.0v3.0h-3.0zM938.9 293.7h3.0v3.0h-3.0zM938.9 302.1h3.0v3.0h-3.0zM938.9 310.5h3.0v3.0h-3.0zM938.9 318.9h3.0v3.0h-3.0zM938.9 327.3h3.0v3.0h-3.0zM938.9 335.7h3.0v3.0h-3.0zM938.9 344.1h3.0v3.0h-3.0zM938.9 352.5h3.0v3.0h-3.0zM938.9 360.9h3.0v3.0h-3.0zM938.9 369.3h3.0v3.0h-3.0zM938.9 377.7h3.0v3.0h-3.0zM938.9 386.1h3.0v3.0h-3.0zM938.9 394.5h3.0v3.0h-3.0zM938.9 402.9h3.0v3.0h-3.0zM938.9 411.3h3.0v3.0h-3.0zM938.9 419.7h3.0v3.0h-3.0zM938.9 428.1h3.0v3.0h-3.0zM938.9 436.5h3.0v3.0h-3.0zM938.9 444.9h3.0v3.0h-3.0zM938.9 453.3h3.0v3.0h-3.0zM938.9 461.7h3.0v3.0h-3.0zM938.9 470.1h3.0v3.0h-3.0zM938.9 478.5h3.0v3.0h-3.0zM938.9 486.9h3.0v3.0h-3.0zM938.9 495.3h3.0v3.0h-3.0zM938.9 503.7h3.0v3.0h-3.0zM938.9 512.1h3.0v3.0h-3.0zM938.9 520.5h3.0v3.0h-3.0zM938.9 528.9h3.0v3.0h-3.0zM938.9 537.3h3.0v3.0h-3.0zM938.9 545.7h3.0v3.0h-3.0zM938.9 554.1h3.0v3.0h-3.0zM938.9 562.5h3.0v3.0h-3.0z" fill="#000"/>
<path d="M838.9 455.2C839.9 456.7 842.8 461.3 844.7 464.0C846.7 466.7 848.4 468.9 850.6 471.4C852.8 473.8 855.8 478.2 858.0 478.7C860.2 479.2 861.8 476.8 863.8 474.3C865.8 471.9 867.5 467.4 869.7 464.0C871.9 460.6 874.8 456.0 877.0 453.8C879.2 451.6 880.7 451.8 882.9 450.8C885.1 449.8 888.0 447.2 890.2 447.9C892.4 448.6 894.4 452.5 896.1 455.2C897.8 457.9 898.8 461.3 900.5 464.0C902.2 466.7 904.4 468.9 906.4 471.4C908.4 473.8 910.3 477.2 912.3 478.7C914.2 480.2 916.1 478.5 918.1 480.2C920.1 481.9 922.0 488.8 924.0 489.0C926.0 489.2 927.9 484.1 929.9 481.6C931.9 479.2 933.3 475.3 935.7 474.3C938.1 473.3 942.0 475.1 944.5 475.8C947.0 476.5 948.7 478.5 950.4 478.7C952.1 478.9 953.1 475.7 954.8 477.2C956.5 478.7 958.7 484.8 960.7 487.5C962.7 490.2 964.4 493.1 966.6 493.4C968.8 493.6 971.5 489.7 973.9 489.0C976.3 488.3 978.8 491.7 981.2 489.0C983.7 486.3 986.2 475.7 988.6 472.8C991.0 469.9 993.7 472.6 995.9 471.4C998.1 470.2 999.8 467.9 1001.8 465.5C1003.8 463.1 1005.6 459.4 1007.6 456.7C1009.6 454.0 1011.5 449.4 1013.5 449.4C1015.5 449.4 1017.4 452.3 1019.4 456.7C1021.4 461.1 1023.3 469.2 1025.3 475.8C1027.2 482.4 1028.9 491.2 1031.1 496.3C1033.3 501.4 1036.3 506.6 1038.5 506.6C1040.7 506.6 1042.2 507.9 1044.3 496.3C1046.4 484.7 1048.8 450.4 1050.9 436.8C1053.0 423.2 1055.0 421.1 1056.7 414.7C1058.4 408.3 1059.4 402.3 1061.1 398.6C1062.8 394.9 1065.0 392.2 1067.0 392.7C1069.0 393.2 1070.7 398.8 1072.9 401.5C1075.1 404.2 1078.2 407.7 1080.2 408.9C1082.2 410.1 1082.9 410.4 1084.6 408.9C1086.3 407.4 1088.5 404.8 1090.5 400.1C1092.5 395.5 1094.5 387.4 1096.4 381.0C1098.4 374.6 1100.2 367.0 1102.2 361.9C1104.2 356.8 1106.1 355.8 1108.1 350.2C1110.1 344.6 1111.8 333.3 1114.0 328.2C1116.2 323.1 1119.1 321.4 1121.3 319.4C1123.5 317.4 1125.2 317.9 1127.2 316.4C1129.2 314.9 1131.1 311.0 1133.1 310.5C1135.0 310.0 1137.0 311.8 1138.9 313.5C1140.9 315.2 1142.8 317.4 1144.8 320.8C1146.8 324.2 1148.8 328.6 1150.7 334.0C1152.7 339.4 1154.1 347.2 1156.5 353.1C1158.9 359.0 1162.3 364.2 1165.3 369.3C1168.2 374.4 1171.5 381.2 1174.2 383.9C1176.9 386.6 1179.1 383.9 1181.5 385.4C1183.9 386.9 1186.6 389.8 1188.8 392.7C1191.0 395.6 1192.7 401.0 1194.7 403.0C1196.7 405.0 1198.6 402.3 1200.6 404.5C1202.5 406.7 1204.5 411.6 1206.4 416.2C1208.4 420.8 1210.3 427.8 1212.3 432.4C1214.3 437.0 1216.0 440.9 1218.2 444.1C1220.4 447.3 1222.8 449.4 1225.5 451.4C1228.2 453.3 1231.4 455.6 1234.3 455.8C1237.2 456.1 1240.4 452.4 1243.1 452.9C1245.8 453.4 1248.3 455.6 1250.5 458.8C1252.7 462.0 1254.7 468.4 1256.3 472.0C1257.9 475.6 1257.9 480.5 1260.0 480.4C1262.1 480.3 1265.6 473.1 1268.8 471.6C1272.0 470.1 1276.2 472.8 1279.1 471.6C1282.0 470.4 1284.0 467.5 1286.4 464.3C1288.9 461.1 1291.3 454.3 1293.8 452.6C1296.2 450.9 1298.7 453.3 1301.1 454.0C1303.5 454.7 1305.7 455.0 1308.4 457.0C1311.1 459.0 1314.8 464.1 1317.2 465.8C1319.7 467.5 1320.6 468.2 1323.1 467.2C1325.5 466.2 1328.7 462.6 1331.9 459.9C1335.1 457.2 1339.3 451.4 1342.2 451.1C1345.1 450.9 1347.5 455.0 1349.5 458.4C1351.5 461.8 1352.2 468.4 1353.9 471.6C1355.6 474.8 1357.8 477.7 1359.8 477.5C1361.8 477.3 1363.8 471.7 1365.7 470.2C1367.7 468.7 1369.5 468.9 1371.5 468.7C1373.5 468.4 1375.4 469.9 1377.4 468.7C1379.4 467.5 1381.3 461.6 1383.3 461.4C1385.3 461.1 1387.0 465.2 1389.2 467.2C1391.4 469.1 1394.1 472.4 1396.5 473.1C1398.9 473.8 1401.3 472.6 1403.8 471.6C1406.2 470.6 1408.5 467.9 1411.2 467.2C1413.9 466.5 1417.1 466.0 1420.0 467.2C1422.9 468.4 1426.3 472.6 1428.8 474.6C1431.2 476.6 1432.5 479.7 1434.7 479.0C1436.9 478.3 1439.6 472.6 1442.0 470.2C1444.4 467.8 1446.8 464.1 1449.3 464.3C1451.8 464.5 1454.5 470.4 1456.7 471.6C1458.9 472.8 1460.3 473.3 1462.5 471.6C1464.7 469.9 1467.5 462.1 1469.9 461.4C1472.4 460.7 1476.0 466.2 1477.2 467.2" fill="none" stroke="#7f0000" stroke-width="3.6" stroke-linejoin="round" stroke-linecap="round"/>
<path d="M838.9 455.2C839.9 455.4 842.5 455.2 844.7 456.7C846.9 458.2 849.4 460.8 852.1 464.0C854.8 467.2 858.2 472.9 860.9 475.8C863.6 478.7 865.8 481.6 868.2 481.6C870.7 481.6 873.4 479.5 875.6 475.8C877.8 472.1 879.2 464.5 881.4 459.6C883.6 454.7 886.8 448.1 888.8 446.4C890.8 444.7 891.5 446.5 893.2 449.4C894.9 452.3 897.0 460.3 899.0 464.0C901.0 467.7 902.9 468.5 904.9 471.4C906.9 474.3 909.1 478.9 910.8 481.6C912.5 484.3 913.5 487.7 915.2 487.5C916.9 487.3 918.9 481.7 921.1 480.2C923.3 478.7 926.0 478.5 928.4 478.7C930.8 478.9 933.5 479.4 935.7 481.6C937.9 483.8 939.2 488.7 941.6 491.9C944.0 495.1 947.7 497.8 950.4 500.7C953.1 503.6 955.2 506.8 957.7 509.5C960.2 512.2 962.7 514.4 965.1 516.9C967.5 519.4 970.0 523.5 972.4 524.2C974.8 524.9 977.6 524.0 979.8 521.3C982.0 518.6 983.6 512.3 985.6 508.1C987.6 503.9 989.5 499.5 991.5 496.3C993.5 493.1 995.4 492.7 997.4 489.0C999.4 485.3 1001.2 478.5 1003.2 474.3C1005.2 470.1 1007.1 466.7 1009.1 464.0C1011.1 461.3 1013.0 457.5 1015.0 458.2C1017.0 458.9 1018.7 463.5 1020.9 468.4C1023.1 473.3 1026.0 481.6 1028.2 487.5C1030.4 493.4 1031.9 499.1 1034.1 503.7C1036.3 508.3 1039.2 516.6 1041.4 515.4C1043.6 514.2 1045.5 509.4 1047.3 496.3C1049.1 483.2 1050.2 450.4 1052.3 436.8C1054.4 423.2 1057.2 419.6 1059.7 414.7C1062.2 409.8 1064.5 407.9 1067.0 407.4C1069.5 406.9 1072.0 409.4 1074.4 411.8C1076.9 414.2 1079.5 422.8 1081.7 422.1C1083.9 421.4 1085.6 412.8 1087.6 407.4C1089.5 402.0 1091.2 398.4 1093.4 389.8C1095.6 381.2 1098.8 364.3 1100.8 356.0C1102.8 347.7 1103.5 343.3 1105.2 339.9C1106.9 336.5 1109.0 337.0 1111.0 335.5C1113.0 334.0 1115.2 333.8 1116.9 331.1C1118.6 328.4 1119.6 323.6 1121.3 319.4C1123.0 315.2 1125.2 308.1 1127.2 306.1C1129.2 304.1 1131.1 306.9 1133.1 307.6C1135.0 308.3 1137.0 310.4 1138.9 310.5C1140.9 310.6 1143.1 307.3 1144.8 308.3C1146.5 309.3 1147.2 311.1 1149.2 316.4C1151.2 321.7 1154.3 332.6 1156.5 339.9C1158.7 347.2 1160.2 354.0 1162.4 360.4C1164.6 366.8 1167.3 372.7 1169.8 378.1C1172.2 383.5 1174.7 387.8 1177.1 392.7C1179.5 397.6 1182.0 402.0 1184.4 407.4C1186.9 412.8 1189.1 422.3 1191.8 425.0C1194.5 427.7 1197.9 421.2 1200.6 423.6C1203.3 426.1 1205.5 434.6 1207.9 439.7C1210.3 444.8 1212.8 451.5 1215.2 454.4C1217.7 457.3 1220.1 454.6 1222.6 457.3C1225.0 460.0 1227.7 468.5 1229.9 470.5C1232.1 472.5 1233.8 470.3 1235.8 469.1C1237.8 467.9 1239.8 463.0 1241.7 463.2C1243.7 463.4 1245.5 470.0 1247.5 470.5C1249.5 471.0 1251.4 467.3 1253.4 466.1C1255.4 464.9 1257.2 462.3 1259.3 463.2C1261.4 464.1 1263.3 470.2 1265.9 471.6C1268.5 473.0 1271.8 472.1 1274.7 471.6C1277.6 471.1 1280.6 469.7 1283.5 468.7C1286.4 467.7 1289.6 466.3 1292.3 465.8C1295.0 465.3 1297.4 465.3 1299.6 465.8C1301.8 466.3 1303.0 467.2 1305.5 468.7C1308.0 470.2 1311.6 473.1 1314.3 474.6C1317.0 476.1 1319.1 477.3 1321.6 477.5C1324.0 477.7 1326.5 477.5 1329.0 476.0C1331.5 474.5 1333.6 468.4 1336.3 468.7C1339.0 468.9 1342.2 478.0 1345.1 477.5C1348.0 477.0 1351.2 466.1 1353.9 465.8C1356.6 465.6 1358.4 474.5 1361.3 476.0C1364.2 477.5 1368.3 475.8 1371.5 474.6C1374.7 473.4 1377.3 469.7 1380.3 468.7C1383.2 467.7 1386.0 468.7 1389.2 468.7C1392.4 468.7 1396.2 469.2 1399.4 468.7C1402.6 468.2 1405.0 467.0 1408.2 465.8C1411.4 464.6 1414.8 461.9 1418.5 461.4C1422.2 460.9 1427.0 461.1 1430.2 462.8C1433.4 464.5 1435.1 469.6 1437.6 471.6C1440.0 473.6 1442.0 473.4 1444.9 474.6C1447.8 475.8 1452.0 478.5 1455.2 479.0C1458.4 479.5 1461.3 479.7 1464.0 477.5C1466.7 475.3 1469.1 467.3 1471.3 465.8C1473.5 464.3 1476.2 468.2 1477.2 468.7" fill="none" stroke="#ff5555" stroke-width="3.6" stroke-linejoin="round" stroke-linecap="round"/>
<path d="M838.9 453.8C840.1 452.6 844.2 446.6 846.2 446.4C848.2 446.1 848.9 449.6 850.6 452.3C852.3 455.0 854.5 460.2 856.5 462.6C858.5 465.1 860.4 465.8 862.4 467.0C864.4 468.2 865.8 467.9 868.2 469.9C870.6 471.8 874.3 477.7 877.0 478.7C879.7 479.7 881.9 476.8 884.4 475.8C886.9 474.8 888.8 474.3 891.7 472.8C894.6 471.3 898.8 467.0 902.0 467.0C905.2 467.0 908.1 471.8 910.8 472.8C913.5 473.8 915.4 473.2 918.1 472.8C920.8 472.4 924.0 470.4 926.9 470.6C929.8 470.9 932.8 473.0 935.7 474.3C938.6 475.6 942.0 477.0 944.5 478.7C947.0 480.4 948.4 484.4 950.4 484.6C952.4 484.9 954.3 480.0 956.3 480.2C958.3 480.4 960.0 484.3 962.2 486.0C964.4 487.7 967.3 487.9 969.5 490.4C971.7 492.8 973.4 500.4 975.4 500.7C977.4 500.9 979.0 493.8 981.2 491.9C983.4 489.9 985.9 489.5 988.6 489.0C991.3 488.5 995.0 491.9 997.4 489.0C999.8 486.1 1001.2 477.0 1003.2 471.4C1005.2 465.8 1007.4 458.8 1009.1 455.2C1010.8 451.6 1012.0 448.6 1013.5 450.1C1015.0 451.6 1016.2 457.3 1017.9 464.0C1019.6 470.7 1021.8 481.8 1023.8 490.4C1025.8 499.0 1027.8 508.8 1029.7 515.4C1031.7 522.0 1033.5 528.9 1035.5 530.1C1037.5 531.3 1039.4 527.6 1041.4 522.7C1043.4 517.8 1045.7 510.1 1047.3 500.7C1048.9 491.3 1049.3 476.8 1050.9 466.1C1052.5 455.5 1054.8 444.9 1056.7 436.8C1058.7 428.7 1060.4 421.1 1062.6 417.7C1064.8 414.3 1067.8 415.0 1070.0 416.2C1072.2 417.4 1073.6 421.6 1075.8 425.0C1078.0 428.4 1081.0 434.8 1083.2 436.8C1085.4 438.8 1087.0 438.8 1089.0 436.8C1091.0 434.8 1092.9 429.2 1094.9 425.0C1096.9 420.8 1098.8 417.2 1100.8 411.8C1102.8 406.4 1104.9 398.6 1106.6 392.7C1108.3 386.8 1109.5 380.5 1111.0 376.6C1112.5 372.7 1113.9 371.0 1115.4 369.3C1116.9 367.6 1118.4 368.5 1119.9 366.3C1121.4 364.1 1122.8 359.4 1124.3 356.0C1125.8 352.6 1126.8 347.3 1128.7 345.8C1130.7 344.3 1133.3 347.7 1136.0 347.2C1138.7 346.7 1142.3 342.1 1144.8 342.8C1147.2 343.5 1148.8 347.7 1150.7 351.6C1152.7 355.5 1154.3 361.4 1156.5 366.3C1158.7 371.2 1161.5 376.1 1163.9 381.0C1166.4 385.9 1169.0 390.8 1171.2 395.7C1173.4 400.6 1175.4 405.2 1177.1 410.3C1178.8 415.4 1179.8 423.3 1181.5 426.5C1183.2 429.7 1185.0 428.4 1187.4 429.4C1189.9 430.4 1193.8 429.9 1196.2 432.4C1198.6 434.8 1200.0 440.9 1202.0 444.1C1204.0 447.3 1205.7 449.7 1207.9 451.4C1210.1 453.1 1213.0 452.2 1215.2 454.4C1217.4 456.6 1219.1 462.2 1221.1 464.7C1223.1 467.1 1224.8 470.1 1227.0 469.1C1229.2 468.1 1231.8 460.8 1234.3 458.8C1236.8 456.8 1239.2 458.5 1241.7 457.3C1244.2 456.1 1246.6 452.1 1249.0 451.4C1251.4 450.7 1254.5 452.5 1256.3 452.9C1258.1 453.3 1258.4 452.4 1260.0 454.0C1261.6 455.6 1264.0 459.9 1265.9 462.8C1267.9 465.7 1268.8 469.2 1271.7 471.6C1274.6 474.1 1280.5 476.3 1283.5 477.5C1286.5 478.7 1287.5 479.2 1289.4 479.0C1291.4 478.8 1293.2 478.7 1295.2 476.0C1297.2 473.3 1298.9 465.7 1301.1 462.8C1303.3 459.9 1305.5 458.1 1308.4 458.4C1311.3 458.6 1316.0 462.1 1318.7 464.3C1321.4 466.5 1322.1 469.7 1324.6 471.6C1327.0 473.6 1330.5 477.5 1333.4 476.0C1336.3 474.5 1338.8 466.8 1342.2 462.8C1345.6 458.8 1350.7 453.0 1353.9 451.8C1357.1 450.6 1359.3 455.2 1361.3 455.5C1363.3 455.8 1364.0 452.8 1365.7 453.3C1367.4 453.8 1369.5 456.3 1371.5 458.4C1373.5 460.5 1375.0 463.1 1377.4 465.8C1379.9 468.5 1384.2 472.4 1386.2 474.6C1388.2 476.8 1387.7 479.0 1389.2 479.0C1390.7 479.0 1392.6 476.8 1395.0 474.6C1397.4 472.4 1401.1 466.3 1403.8 465.8C1406.5 465.3 1408.8 470.1 1411.2 471.6C1413.7 473.1 1416.3 474.4 1418.5 474.6C1420.7 474.9 1422.2 471.4 1424.4 473.1C1426.6 474.8 1429.3 484.2 1431.7 484.9C1434.1 485.6 1436.5 481.2 1439.0 477.5C1441.5 473.8 1444.2 466.1 1446.4 462.8C1448.6 459.5 1450.3 457.7 1452.3 457.7C1454.2 457.7 1456.1 460.5 1458.1 462.8C1460.0 465.1 1462.0 469.2 1464.0 471.6C1466.0 474.1 1467.7 478.0 1469.9 477.5C1472.1 477.0 1476.0 470.2 1477.2 468.7" fill="none" stroke="#00007f" stroke-width="3.6" stroke-linejoin="round" stroke-linecap="round"/>
<path d="M838.9 456.7C839.9 457.7 842.8 461.6 844.7 462.6C846.7 463.6 848.6 463.8 850.6 462.6C852.6 461.4 854.0 455.7 856.5 455.2C859.0 454.7 862.6 459.1 865.3 459.6C868.0 460.1 870.1 459.4 872.6 458.2C875.1 457.0 877.8 451.8 880.0 452.3C882.2 452.8 884.1 457.4 885.8 461.1C887.5 464.8 888.7 471.4 890.2 474.3C891.7 477.2 892.6 478.9 894.6 478.7C896.6 478.4 899.5 472.3 902.0 472.8C904.5 473.3 907.1 479.6 909.3 481.6C911.5 483.6 913.2 484.4 915.2 484.6C917.2 484.9 919.2 484.3 921.1 483.1C923.0 481.9 924.7 478.7 926.9 477.2C929.1 475.7 931.8 474.1 934.3 474.3C936.8 474.6 939.4 476.8 941.6 478.7C943.8 480.6 945.5 483.1 947.5 486.0C949.5 488.9 951.1 494.3 953.3 496.3C955.5 498.3 958.5 496.6 960.7 497.8C962.9 499.0 964.4 504.2 966.6 503.7C968.8 503.2 971.5 496.4 973.9 494.9C976.3 493.4 978.8 495.9 981.2 494.9C983.7 493.9 986.6 490.7 988.6 489.0C990.6 487.3 991.3 485.1 993.0 484.6C994.7 484.1 996.8 488.4 998.8 486.0C1000.8 483.6 1002.7 475.0 1004.7 469.9C1006.7 464.8 1008.9 457.9 1010.6 455.2C1012.3 452.5 1013.3 451.8 1015.0 453.8C1016.7 455.8 1018.9 460.4 1020.9 467.0C1022.9 473.6 1024.8 484.1 1026.7 493.4C1028.7 502.7 1030.9 516.8 1032.6 522.7C1034.3 528.6 1035.3 529.1 1037.0 528.6C1038.7 528.1 1041.1 525.7 1042.9 519.8C1044.7 513.9 1046.4 503.6 1047.7 493.4C1049.0 483.2 1049.4 470.7 1050.9 458.8C1052.4 446.9 1055.0 431.2 1056.7 422.1C1058.4 413.1 1059.4 407.7 1061.1 404.5C1062.8 401.3 1064.8 400.8 1067.0 403.0C1069.2 405.2 1071.7 411.3 1074.4 417.7C1077.1 424.1 1080.8 438.5 1083.2 441.2C1085.6 443.9 1087.0 438.2 1089.0 433.8C1091.0 429.4 1092.9 421.6 1094.9 414.7C1096.9 407.8 1098.8 398.8 1100.8 392.7C1102.8 386.6 1104.6 382.2 1106.6 378.1C1108.5 374.0 1110.5 371.0 1112.5 367.8C1114.5 364.6 1116.7 362.4 1118.4 359.0C1120.1 355.6 1121.1 350.3 1122.8 347.2C1124.5 344.1 1126.5 340.8 1128.7 340.6C1130.9 340.4 1133.8 344.5 1136.0 345.8C1138.2 347.1 1140.0 346.8 1141.9 348.7C1143.9 350.6 1145.8 354.1 1147.7 357.5C1149.7 360.9 1151.1 365.4 1153.6 369.3C1156.0 373.2 1159.5 377.6 1162.4 381.0C1165.3 384.4 1168.3 386.9 1171.2 389.8C1174.1 392.7 1177.3 395.7 1180.0 398.6C1182.7 401.5 1185.2 404.0 1187.4 407.4C1189.6 410.8 1191.2 415.0 1193.2 419.2C1195.2 423.4 1197.1 429.7 1199.1 432.4C1201.1 435.1 1203.0 432.6 1205.0 435.3C1207.0 438.0 1208.8 445.3 1210.8 448.5C1212.8 451.7 1214.5 453.2 1216.7 454.4C1218.9 455.6 1221.9 455.8 1224.1 455.8C1226.3 455.8 1228.0 456.1 1229.9 454.4C1231.9 452.7 1233.6 447.6 1235.8 445.6C1238.0 443.6 1240.9 442.4 1243.1 442.6C1245.3 442.8 1247.0 444.3 1249.0 447.0C1251.0 449.7 1253.1 454.2 1254.9 458.8C1256.7 463.4 1258.2 471.2 1260.0 474.6C1261.8 478.0 1264.0 477.8 1265.9 479.0C1267.9 480.2 1269.0 481.4 1271.7 481.9C1274.4 482.4 1279.3 483.6 1282.0 481.9C1284.7 480.2 1285.9 475.5 1287.9 471.6C1289.9 467.7 1291.8 460.6 1293.8 458.4C1295.8 456.2 1297.4 457.7 1299.6 458.4C1301.8 459.1 1304.8 460.8 1307.0 462.8C1309.2 464.8 1310.6 467.3 1312.8 470.2C1315.0 473.1 1317.5 478.4 1320.2 480.4C1322.9 482.3 1326.6 482.1 1329.0 481.9C1331.4 481.7 1332.6 483.1 1334.8 479.0C1337.0 474.9 1340.0 460.9 1342.2 457.0C1344.4 453.1 1345.6 455.0 1348.1 455.5C1350.5 456.0 1354.0 458.9 1356.9 459.9C1359.8 460.9 1362.8 460.9 1365.7 461.4C1368.6 461.9 1371.8 460.9 1374.5 462.8C1377.2 464.8 1379.6 471.4 1381.8 473.1C1384.0 474.8 1385.5 474.3 1387.7 473.1C1389.9 471.9 1392.3 467.8 1395.0 465.8C1397.7 463.9 1400.9 461.4 1403.8 461.4C1406.7 461.4 1409.7 464.6 1412.6 465.8C1415.5 467.0 1418.5 468.0 1421.4 468.7C1424.3 469.4 1427.5 469.5 1430.2 470.2C1432.9 470.9 1435.4 472.9 1437.6 473.1C1439.8 473.3 1441.0 471.4 1443.5 471.6C1446.0 471.9 1449.9 476.1 1452.3 474.6C1454.7 473.1 1455.9 464.3 1458.1 462.8C1460.3 461.3 1463.0 464.8 1465.5 465.8C1468.0 466.8 1470.6 466.5 1472.8 468.7C1475.0 470.9 1477.7 477.3 1478.7 479.0" fill="none" stroke="#9fc5e8" stroke-width="3.6" stroke-linejoin="round" stroke-linecap="round"/>
<path d="M835.4 270.0V574.7H1479.2" fill="none" stroke="#000" stroke-width="2.2"/>
<path d="M813.4 270.0H835.4" stroke="#000" stroke-width="2.2"/>
<text transform="translate(786.59 281.30) scale(0.2125 0.3237)" font-size="100" fill="#000">30</text>
<path d="M813.4 371.0H835.4" stroke="#000" stroke-width="2.2"/>
<text transform="translate(785.71 382.30) scale(0.2082 0.3237)" font-size="100" fill="#000">15</text>
<path d="M813.4 473.0H835.4" stroke="#000" stroke-width="2.2"/>
<text transform="translate(794.86 484.30) scale(0.2155 0.3237)" font-size="100" fill="#000">0</text>
<path d="M813.4 574.7H835.4" stroke="#000" stroke-width="2.2"/>
<text transform="translate(779.08 586.00) scale(0.2061 0.3237)" font-size="100" fill="#000">-15</text>
<path d="M835.4 574.7V592.7" stroke="#000" stroke-width="2.2"/>
<text transform="translate(817.36 625.00) scale(0.2125 0.3008)" font-size="100" fill="#000">-0.2</text>
<path d="M940.3 574.7V592.7" stroke="#000" stroke-width="2.2"/>
<text transform="translate(934.27 625.00) scale(0.2134 0.3008)" font-size="100" fill="#000">0</text>
<path d="M1056.0 574.7V592.7" stroke="#000" stroke-width="2.2"/>
<text transform="translate(1041.17 625.00) scale(0.2129 0.3008)" font-size="100" fill="#000">0.2</text>
<path d="M1163.6 574.7V592.7" stroke="#000" stroke-width="2.2"/>
<text transform="translate(1147.53 625.00) scale(0.2217 0.3008)" font-size="100" fill="#000">0.4</text>
<path d="M1269.3 574.7V592.7" stroke="#000" stroke-width="2.2"/>
<text transform="translate(1253.56 625.00) scale(0.2157 0.3008)" font-size="100" fill="#000">0.6</text>
<path d="M1373.7 574.7V592.7" stroke="#000" stroke-width="2.2"/>
<text transform="translate(1358.33 625.00) scale(0.2218 0.3008)" font-size="100" fill="#000">0.8</text>
<path d="M1479.2 574.7V592.7" stroke="#000" stroke-width="2.2"/>
<text transform="translate(1462.30 620.50) scale(0.2235 0.3136)" font-size="100" fill="#000">1.0</text>
<text transform="translate(1132.68 658.00) scale(0.2144 0.2760)" font-size="100" fill="#000">time (s)</text>
<path d="M58.0 1069.8h3.0v3.0h-3.0zM66.4 1069.8h3.0v3.0h-3.0zM74.8 1069.8h3.0v3.0h-3.0zM83.2 1069.8h3.0v3.0h-3.0zM91.6 1069.8h3.0v3.0h-3.0zM100.0 1069.8h3.0v3.0h-3.0zM108.4 1069.8h3.0v3.0h-3.0zM116.8 1069.8h3.0v3.0h-3.0zM125.2 1069.8h3.0v3.0h-3.0zM133.6 1069.8h3.0v3.0h-3.0zM142.0 1069.8h3.0v3.0h-3.0zM150.4 1069.8h3.0v3.0h-3.0zM158.8 1069.8h3.0v3.0h-3.0zM167.2 1069.8h3.0v3.0h-3.0zM175.6 1069.8h3.0v3.0h-3.0zM184.0 1069.8h3.0v3.0h-3.0zM192.4 1069.8h3.0v3.0h-3.0zM200.8 1069.8h3.0v3.0h-3.0zM209.2 1069.8h3.0v3.0h-3.0zM217.6 1069.8h3.0v3.0h-3.0zM226.0 1069.8h3.0v3.0h-3.0zM234.4 1069.8h3.0v3.0h-3.0zM242.8 1069.8h3.0v3.0h-3.0zM251.2 1069.8h3.0v3.0h-3.0zM259.6 1069.8h3.0v3.0h-3.0zM268.0 1069.8h3.0v3.0h-3.0zM276.4 1069.8h3.0v3.0h-3.0zM284.8 1069.8h3.0v3.0h-3.0zM293.2 1069.8h3.0v3.0h-3.0zM301.6 1069.8h3.0v3.0h-3.0zM310.0 1069.8h3.0v3.0h-3.0zM318.4 1069.8h3.0v3.0h-3.0zM326.8 1069.8h3.0v3.0h-3.0zM335.2 1069.8h3.0v3.0h-3.0zM343.6 1069.8h3.0v3.0h-3.0zM352.0 1069.8h3.0v3.0h-3.0zM360.4 1069.8h3.0v3.0h-3.0zM368.8 1069.8h3.0v3.0h-3.0zM377.2 1069.8h3.0v3.0h-3.0zM385.6 1069.8h3.0v3.0h-3.0zM394.0 1069.8h3.0v3.0h-3.0zM402.4 1069.8h3.0v3.0h-3.0zM410.8 1069.8h3.0v3.0h-3.0zM419.2 1069.8h3.0v3.0h-3.0zM427.6 1069.8h3.0v3.0h-3.0zM436.0 1069.8h3.0v3.0h-3.0zM444.4 1069.8h3.0v3.0h-3.0zM452.8 1069.8h3.0v3.0h-3.0zM461.2 1069.8h3.0v3.0h-3.0zM469.6 1069.8h3.0v3.0h-3.0zM478.0 1069.8h3.0v3.0h-3.0zM486.4 1069.8h3.0v3.0h-3.0zM494.8 1069.8h3.0v3.0h-3.0zM503.2 1069.8h3.0v3.0h-3.0zM511.6 1069.8h3.0v3.0h-3.0zM520.0 1069.8h3.0v3.0h-3.0zM528.4 1069.8h3.0v3.0h-3.0zM536.8 1069.8h3.0v3.0h-3.0zM545.2 1069.8h3.0v3.0h-3.0zM553.6 1069.8h3.0v3.0h-3.0zM562.0 1069.8h3.0v3.0h-3.0zM570.4 1069.8h3.0v3.0h-3.0zM578.8 1069.8h3.0v3.0h-3.0zM587.2 1069.8h3.0v3.0h-3.0zM595.6 1069.8h3.0v3.0h-3.0zM604.0 1069.8h3.0v3.0h-3.0zM612.4 1069.8h3.0v3.0h-3.0zM620.8 1069.8h3.0v3.0h-3.0zM629.2 1069.8h3.0v3.0h-3.0zM637.6 1069.8h3.0v3.0h-3.0zM646.0 1069.8h3.0v3.0h-3.0zM654.4 1069.8h3.0v3.0h-3.0zM662.8 1069.8h3.0v3.0h-3.0zM671.2 1069.8h3.0v3.0h-3.0zM679.6 1069.8h3.0v3.0h-3.0zM688.0 1069.8h3.0v3.0h-3.0z" fill="#000"/>
<path d="M165.2 991.8h3.0v3.0h-3.0zM165.2 1000.2h3.0v3.0h-3.0zM165.2 1008.6h3.0v3.0h-3.0zM165.2 1017.0h3.0v3.0h-3.0zM165.2 1025.4h3.0v3.0h-3.0zM165.2 1033.8h3.0v3.0h-3.0zM165.2 1042.2h3.0v3.0h-3.0zM165.2 1050.6h3.0v3.0h-3.0zM165.2 1059.0h3.0v3.0h-3.0zM165.2 1067.4h3.0v3.0h-3.0zM165.2 1075.8h3.0v3.0h-3.0zM165.2 1084.2h3.0v3.0h-3.0zM165.2 1092.6h3.0v3.0h-3.0zM165.2 1101.0h3.0v3.0h-3.0zM165.2 1109.4h3.0v3.0h-3.0zM165.2 1117.8h3.0v3.0h-3.0zM165.2 1126.2h3.0v3.0h-3.0zM165.2 1134.6h3.0v3.0h-3.0z" fill="#000"/>
<path d="M59.4 1102.5C60.1 1101.3 62.3 1098.8 63.8 1095.1C65.3 1091.4 66.5 1085.3 68.2 1080.4C69.9 1075.5 72.1 1069.2 74.1 1065.8C76.1 1062.4 77.8 1060.9 80.0 1059.9C82.2 1058.9 84.6 1058.9 87.3 1059.9C90.0 1060.9 93.4 1064.1 96.1 1065.8C98.8 1067.5 101.2 1069.2 103.4 1070.2C105.6 1071.2 107.6 1073.6 109.3 1071.6C111.0 1069.6 112.0 1064.3 113.7 1058.4C115.4 1052.5 117.6 1038.6 119.6 1036.4C121.5 1034.2 123.5 1040.3 125.4 1045.2C127.4 1050.1 129.3 1060.7 131.3 1065.8C133.3 1070.9 135.2 1072.8 137.2 1076.0C139.2 1079.2 141.1 1082.5 143.1 1084.9C145.1 1087.4 146.9 1087.8 148.9 1090.7C150.9 1093.6 152.4 1101.8 154.8 1102.5C157.2 1103.2 160.9 1096.6 163.6 1095.1C166.3 1093.6 168.4 1094.2 170.9 1093.7C173.4 1093.2 175.9 1091.7 178.3 1092.2C180.8 1092.7 183.2 1094.9 185.6 1096.6C188.0 1098.3 190.6 1100.8 193.0 1102.5C195.4 1104.2 197.9 1106.2 200.3 1106.9C202.7 1107.6 205.7 1109.4 207.6 1106.9C209.5 1104.5 210.5 1098.1 212.0 1092.2C213.5 1086.3 214.9 1076.0 216.4 1071.6C217.9 1067.2 218.9 1066.0 220.9 1065.8C222.9 1065.6 226.0 1066.8 228.2 1070.2C230.4 1073.6 232.4 1082.9 234.1 1086.3C235.8 1089.7 236.8 1091.9 238.5 1090.7C240.2 1089.5 242.4 1078.8 244.3 1079.0C246.2 1079.2 248.2 1091.0 250.2 1092.2C252.2 1093.4 254.1 1093.9 256.1 1086.3C258.1 1078.7 260.1 1056.0 262.0 1046.7C263.9 1037.4 266.0 1031.7 267.8 1030.5C269.6 1029.3 271.3 1034.2 272.9 1039.4C274.5 1044.6 275.8 1056.0 277.3 1061.4C278.8 1066.8 280.0 1068.7 281.7 1071.6C283.4 1074.5 285.9 1075.6 287.6 1079.0C289.3 1082.4 290.5 1088.8 292.0 1092.2C293.5 1095.6 294.4 1099.8 296.4 1099.5C298.4 1099.2 301.6 1093.1 303.8 1090.7C306.0 1088.3 307.9 1087.8 309.6 1084.9C311.3 1082.0 312.5 1077.5 314.0 1073.1C315.5 1068.7 316.9 1062.6 318.4 1058.4C319.9 1054.2 321.1 1048.2 322.8 1048.2C324.5 1048.2 326.7 1055.5 328.7 1058.4C330.7 1061.3 332.9 1067.5 334.6 1065.8C336.3 1064.1 337.5 1053.3 339.0 1048.2C340.5 1043.1 341.7 1035.5 343.4 1035.0C345.1 1034.5 347.4 1042.0 349.3 1045.2C351.2 1048.4 353.4 1049.6 355.1 1054.0C356.8 1058.4 358.0 1066.7 359.5 1071.6C361.0 1076.5 362.2 1081.7 363.9 1083.4C365.6 1085.1 367.8 1081.2 369.8 1081.9C371.8 1082.6 374.0 1085.8 375.7 1087.8C377.4 1089.8 378.4 1094.2 380.1 1093.7C381.8 1093.2 384.2 1087.9 385.9 1084.9C387.6 1082.0 388.8 1077.0 390.3 1076.0C391.8 1075.0 393.0 1078.0 394.7 1079.0C396.4 1080.0 398.9 1082.6 400.6 1081.9C402.3 1081.2 403.3 1078.3 405.0 1074.6C406.7 1070.9 408.9 1064.3 410.9 1059.9C412.9 1055.5 414.9 1048.9 416.8 1048.2C418.8 1047.5 420.4 1054.3 422.6 1055.5C424.8 1056.7 428.0 1053.8 430.0 1055.5C432.0 1057.2 432.9 1060.7 434.4 1065.8C435.9 1070.9 437.1 1080.9 438.8 1086.3C440.5 1091.7 443.0 1096.6 444.7 1098.1C446.4 1099.6 447.4 1095.1 449.1 1095.1C450.8 1095.1 452.9 1099.8 454.9 1098.1C456.8 1096.4 458.8 1088.3 460.8 1084.9C462.8 1081.5 464.8 1079.0 466.7 1077.5C468.6 1076.0 470.6 1076.0 472.5 1076.0C474.4 1076.0 476.7 1074.8 478.4 1077.5C480.1 1080.2 481.0 1092.0 482.8 1092.2C484.6 1092.4 487.6 1082.7 489.4 1078.7C491.2 1074.7 492.1 1070.6 493.8 1068.4C495.5 1066.2 497.8 1064.5 499.7 1065.5C501.6 1066.5 503.1 1072.1 505.5 1074.3C507.9 1076.5 511.4 1078.7 514.4 1078.7C517.4 1078.7 520.8 1074.3 523.2 1074.3C525.6 1074.3 527.0 1079.0 529.0 1078.7C531.0 1078.5 532.9 1074.5 534.9 1072.8C536.9 1071.1 538.8 1070.4 540.8 1068.4C542.8 1066.5 544.6 1063.8 546.6 1061.1C548.6 1058.4 550.5 1052.8 552.5 1052.3C554.5 1051.8 556.4 1056.0 558.4 1058.2C560.4 1060.4 562.1 1063.8 564.3 1065.5C566.5 1067.2 569.2 1069.1 571.6 1068.4C574.0 1067.7 577.0 1063.0 578.9 1061.1C580.8 1059.1 581.8 1057.0 583.3 1056.7C584.8 1056.5 586.2 1057.6 587.7 1059.6C589.2 1061.5 590.6 1065.7 592.1 1068.4C593.6 1071.1 594.5 1076.0 596.5 1075.8C598.5 1075.6 601.2 1069.5 603.9 1067.0C606.6 1064.5 610.0 1062.8 612.7 1061.1C615.4 1059.4 617.8 1057.0 620.0 1056.7C622.2 1056.5 623.9 1058.4 625.9 1059.6C627.9 1060.8 629.8 1064.7 631.8 1064.0C633.8 1063.3 635.6 1056.7 637.6 1055.2C639.6 1053.7 641.3 1054.2 643.5 1055.2C645.7 1056.2 648.6 1058.6 650.8 1061.1C653.0 1063.5 654.5 1069.9 656.7 1069.9C658.9 1069.9 661.7 1061.3 664.1 1061.1C666.5 1060.8 668.7 1066.0 671.4 1068.4C674.1 1070.9 677.5 1076.0 680.2 1075.8C682.9 1075.6 684.8 1066.8 687.5 1067.0C690.2 1067.2 694.8 1075.5 696.3 1077.2" fill="none" stroke="#7f0000" stroke-width="3.6" stroke-linejoin="round" stroke-linecap="round"/>
<path d="M59.4 1051.1C60.1 1052.8 62.1 1056.0 63.8 1061.4C65.5 1066.8 67.8 1081.7 69.7 1083.4C71.7 1085.1 73.8 1075.0 75.5 1071.6C77.2 1068.2 78.5 1064.8 80.0 1062.8C81.5 1060.8 82.7 1061.4 84.4 1059.9C86.1 1058.4 88.5 1053.8 90.2 1054.0C91.9 1054.2 92.9 1057.0 94.6 1061.4C96.3 1065.8 98.5 1079.2 100.5 1080.4C102.5 1081.6 104.5 1071.6 106.4 1068.7C108.4 1065.8 110.2 1063.3 112.2 1062.8C114.2 1062.3 116.1 1063.6 118.1 1065.8C120.1 1068.0 122.3 1073.3 124.0 1076.0C125.7 1078.7 126.7 1083.6 128.4 1081.9C130.1 1080.2 132.4 1071.9 134.3 1065.8C136.2 1059.7 138.2 1046.7 140.1 1045.2C142.0 1043.7 143.8 1053.3 146.0 1057.0C148.2 1060.7 151.1 1062.8 153.3 1067.2C155.5 1071.6 157.2 1081.0 159.2 1083.4C161.2 1085.9 162.9 1083.9 165.1 1081.9C167.3 1079.9 170.0 1072.8 172.4 1071.6C174.8 1070.4 177.2 1072.1 179.7 1074.6C182.1 1077.0 184.9 1085.6 187.1 1086.3C189.3 1087.0 191.3 1081.7 193.0 1079.0C194.7 1076.3 195.7 1071.7 197.4 1070.2C199.1 1068.7 201.2 1070.5 203.2 1070.2C205.1 1070.0 207.1 1068.7 209.1 1068.7C211.1 1068.7 213.0 1069.5 215.0 1070.2C217.0 1070.9 219.2 1073.8 220.9 1073.1C222.6 1072.4 223.5 1070.4 225.2 1065.8C226.9 1061.2 228.9 1048.6 231.1 1045.2C233.3 1041.8 236.2 1045.9 238.5 1045.2C240.8 1044.5 242.9 1038.8 245.1 1040.8C247.3 1042.8 249.6 1052.3 251.7 1057.0C253.8 1061.7 255.6 1068.5 257.5 1068.7C259.4 1068.9 261.4 1060.9 263.4 1058.4C265.4 1056.0 267.0 1057.7 269.3 1054.0C271.6 1050.3 275.2 1038.4 277.3 1036.4C279.4 1034.5 280.2 1039.6 281.7 1042.3C283.2 1045.0 284.6 1050.4 286.1 1052.6C287.6 1054.8 289.0 1052.8 290.5 1055.5C292.0 1058.2 293.3 1063.6 295.0 1068.7C296.7 1073.8 298.9 1085.1 300.8 1086.3C302.8 1087.5 305.0 1081.4 306.7 1076.0C308.4 1070.6 309.6 1061.8 311.1 1054.0C312.6 1046.2 314.3 1034.0 315.5 1029.1C316.7 1024.2 317.2 1024.2 318.4 1024.7C319.6 1025.2 321.3 1026.9 322.8 1032.0C324.3 1037.1 325.7 1050.1 327.2 1055.5C328.7 1060.9 330.1 1066.0 331.6 1064.3C333.1 1062.6 334.8 1050.8 336.0 1045.2C337.2 1039.6 337.8 1032.2 339.0 1030.5C340.2 1028.8 341.9 1030.3 343.4 1035.0C344.9 1039.7 346.3 1051.8 347.8 1058.4C349.3 1065.0 350.5 1068.7 352.2 1074.6C353.9 1080.5 356.4 1092.2 358.1 1093.7C359.8 1095.2 361.0 1087.1 362.5 1083.4C364.0 1079.7 365.4 1072.6 366.9 1071.6C368.4 1070.6 369.8 1073.1 371.3 1077.5C372.8 1081.9 374.0 1090.8 375.7 1098.1C377.4 1105.4 379.6 1117.3 381.5 1121.5C383.4 1125.7 385.7 1124.0 387.4 1123.0C389.1 1122.0 390.3 1118.4 391.8 1115.7C393.3 1113.0 394.7 1107.2 396.2 1106.9C397.7 1106.7 398.9 1114.7 400.6 1114.2C402.3 1113.7 404.5 1108.6 406.5 1103.9C408.5 1099.2 410.4 1092.7 412.4 1086.3C414.3 1079.9 416.2 1068.7 418.2 1065.8C420.1 1062.9 422.1 1066.3 424.1 1068.7C426.1 1071.1 428.1 1080.4 430.0 1080.4C431.9 1080.4 434.3 1072.1 435.8 1068.7C437.3 1065.3 437.6 1059.9 438.8 1059.9C440.0 1059.9 441.5 1065.8 443.2 1068.7C444.9 1071.6 447.2 1074.6 449.1 1077.5C451.1 1080.4 453.2 1083.6 454.9 1086.3C456.6 1089.0 457.3 1094.2 459.3 1093.7C461.3 1093.2 464.0 1086.6 466.7 1083.4C469.4 1080.2 473.1 1078.0 475.5 1074.6C477.9 1071.2 479.7 1065.5 481.3 1062.8C482.9 1060.1 483.6 1057.3 485.0 1058.2C486.4 1059.1 487.7 1064.5 489.4 1068.4C491.1 1072.3 493.4 1081.3 495.3 1081.6C497.2 1081.8 499.2 1073.3 501.1 1069.9C503.1 1066.5 505.0 1060.1 507.0 1061.1C509.0 1062.1 510.9 1074.8 512.9 1075.8C514.9 1076.8 516.6 1070.2 518.8 1067.0C521.0 1063.8 523.2 1059.9 526.1 1056.7C529.0 1053.5 533.7 1048.2 536.4 1047.9C539.1 1047.7 540.5 1051.3 542.2 1055.2C543.9 1059.1 544.9 1068.5 546.6 1071.4C548.3 1074.3 550.3 1072.1 552.5 1072.8C554.7 1073.5 557.7 1075.5 559.9 1075.8C562.1 1076.0 563.5 1076.5 565.7 1074.3C567.9 1072.1 570.9 1064.8 573.1 1062.6C575.3 1060.4 577.0 1060.1 578.9 1061.1C580.8 1062.1 582.6 1068.2 584.8 1068.4C587.0 1068.7 589.6 1064.5 592.1 1062.6C594.6 1060.6 597.3 1057.7 599.5 1056.7C601.7 1055.7 603.3 1055.5 605.3 1056.7C607.2 1057.9 609.2 1062.0 611.2 1064.0C613.2 1066.0 614.7 1067.9 617.1 1068.4C619.5 1068.9 623.2 1066.0 625.9 1067.0C628.6 1068.0 630.8 1072.6 633.2 1074.3C635.7 1076.0 638.2 1077.5 640.6 1077.2C643.0 1077.0 645.2 1072.1 647.9 1072.8C650.6 1073.5 654.2 1080.6 656.7 1081.6C659.2 1082.6 660.9 1080.4 662.6 1078.7C664.3 1077.0 665.0 1074.1 667.0 1071.4C669.0 1068.7 671.8 1064.8 674.3 1062.6C676.8 1060.4 679.2 1058.7 681.7 1058.2C684.2 1057.7 686.6 1057.9 689.0 1059.6C691.4 1061.3 695.1 1066.9 696.3 1068.4" fill="none" stroke="#ff5555" stroke-width="3.6" stroke-linejoin="round" stroke-linecap="round"/>
<path d="M59.4 1052.6C60.1 1053.8 62.1 1059.9 63.8 1059.9C65.5 1059.9 67.8 1055.5 69.7 1052.6C71.7 1049.7 73.5 1042.1 75.5 1042.3C77.5 1042.5 79.7 1053.3 81.4 1054.0C83.1 1054.7 84.2 1049.6 85.8 1046.7C87.4 1043.8 89.3 1035.7 91.0 1036.4C92.7 1037.1 94.3 1046.7 96.1 1051.1C97.9 1055.5 99.8 1062.8 102.0 1062.8C104.2 1062.8 107.3 1052.3 109.3 1051.1C111.2 1049.9 112.0 1052.1 113.7 1055.5C115.4 1058.9 117.6 1067.7 119.6 1071.6C121.5 1075.5 123.5 1078.3 125.4 1079.0C127.4 1079.7 129.3 1074.5 131.3 1076.0C133.3 1077.5 135.2 1084.1 137.2 1087.8C139.2 1091.5 141.1 1097.1 143.1 1098.1C145.1 1099.1 146.7 1095.7 148.9 1093.7C151.1 1091.7 154.1 1089.0 156.3 1086.3C158.5 1083.6 160.2 1080.7 162.1 1077.5C164.0 1074.3 166.0 1067.2 168.0 1067.2C170.0 1067.2 172.2 1073.1 173.9 1077.5C175.6 1081.9 176.6 1092.2 178.3 1093.7C180.0 1095.2 181.8 1084.8 184.2 1086.3C186.6 1087.8 190.6 1101.8 193.0 1102.5C195.4 1103.2 196.6 1093.6 198.8 1090.7C201.0 1087.8 203.8 1089.8 206.2 1084.9C208.6 1080.0 211.3 1063.1 213.5 1061.4C215.7 1059.7 217.5 1071.7 219.4 1074.6C221.3 1077.5 223.0 1079.0 225.2 1079.0C227.4 1079.0 230.4 1073.4 232.6 1074.6C234.8 1075.8 236.3 1081.4 238.5 1086.3C240.7 1091.2 243.6 1101.9 245.8 1103.9C248.0 1105.9 249.8 1099.3 251.7 1098.1C253.6 1096.9 255.6 1100.3 257.5 1096.6C259.4 1092.9 261.4 1082.1 263.4 1076.0C265.4 1069.9 267.5 1064.8 269.3 1059.9C271.1 1055.0 272.6 1047.4 274.4 1046.7C276.2 1046.0 278.6 1051.3 280.3 1055.5C282.0 1059.7 283.2 1065.5 284.7 1071.6C286.2 1077.7 287.4 1086.8 289.1 1092.2C290.8 1097.6 293.1 1100.0 295.0 1103.9C296.9 1107.8 299.0 1112.0 300.8 1115.7C302.6 1119.4 304.3 1124.7 306.0 1125.9C307.7 1127.1 309.5 1125.7 311.1 1123.0C312.7 1120.3 313.8 1113.0 315.5 1109.8C317.2 1106.6 319.4 1107.6 321.4 1103.9C323.3 1100.2 325.5 1093.2 327.2 1087.8C328.9 1082.4 329.6 1073.8 331.6 1071.6C333.6 1069.4 336.8 1075.1 339.0 1074.6C341.2 1074.1 342.9 1068.0 344.9 1068.7C346.8 1069.4 348.8 1076.5 350.7 1079.0C352.6 1081.5 354.6 1079.7 356.6 1083.4C358.6 1087.1 360.3 1095.9 362.5 1101.0C364.7 1106.1 367.6 1110.8 369.8 1114.2C372.0 1117.6 373.8 1118.3 375.7 1121.5C377.6 1124.7 379.8 1130.1 381.5 1133.3C383.2 1136.5 384.4 1141.6 385.9 1140.6C387.4 1139.6 388.8 1133.3 390.3 1127.4C391.8 1121.5 393.2 1108.3 394.7 1105.4C396.2 1102.5 397.7 1108.1 399.2 1109.8C400.7 1111.5 401.9 1116.4 403.6 1115.7C405.3 1115.0 407.4 1108.3 409.4 1105.4C411.3 1102.5 413.3 1098.8 415.3 1098.1C417.3 1097.4 419.0 1101.0 421.2 1101.0C423.4 1101.0 426.6 1100.3 428.5 1098.1C430.4 1095.9 431.2 1090.5 432.9 1087.8C434.6 1085.1 436.8 1082.2 438.8 1081.9C440.8 1081.7 442.8 1087.8 444.7 1086.3C446.6 1084.8 448.6 1075.0 450.5 1073.1C452.4 1071.1 454.4 1076.3 456.4 1074.6C458.4 1072.9 460.1 1063.0 462.3 1062.8C464.5 1062.5 467.4 1072.4 469.6 1073.1C471.8 1073.8 473.3 1068.9 475.5 1067.2C477.7 1065.5 480.6 1063.0 482.8 1062.8C485.0 1062.6 487.1 1065.6 488.7 1065.8C490.3 1066.0 490.5 1062.3 492.3 1064.0C494.1 1065.7 497.7 1075.8 499.7 1075.8C501.7 1075.8 502.4 1068.2 504.1 1064.0C505.8 1059.8 508.1 1053.0 510.0 1050.8C511.9 1048.6 514.1 1051.5 515.8 1050.8C517.5 1050.1 518.7 1045.9 520.2 1046.4C521.7 1046.9 523.1 1051.8 524.6 1053.8C526.1 1055.8 527.3 1057.0 529.0 1058.2C530.7 1059.4 532.9 1059.9 534.9 1061.1C536.9 1062.3 538.8 1065.0 540.8 1065.5C542.8 1066.0 544.6 1064.5 546.6 1064.0C548.6 1063.5 550.0 1063.1 552.5 1062.6C555.0 1062.1 558.8 1061.8 561.3 1061.1C563.8 1060.4 565.2 1059.9 567.2 1058.2C569.2 1056.5 571.2 1051.0 573.1 1050.8C575.0 1050.5 576.7 1054.2 578.9 1056.7C581.1 1059.2 583.8 1062.8 586.3 1065.5C588.8 1068.2 591.1 1073.0 593.6 1072.8C596.1 1072.5 598.8 1065.7 601.0 1064.0C603.2 1062.3 604.8 1063.8 606.8 1062.6C608.8 1061.4 610.7 1056.5 612.7 1056.7C614.7 1056.9 616.4 1063.5 618.6 1064.0C620.8 1064.5 623.5 1058.9 625.9 1059.6C628.3 1060.3 630.8 1066.2 633.2 1068.4C635.7 1070.6 638.2 1071.8 640.6 1072.8C643.0 1073.8 645.5 1074.0 647.9 1074.3C650.3 1074.5 653.0 1073.8 655.2 1074.3C657.4 1074.8 659.1 1076.0 661.1 1077.2C663.1 1078.4 664.5 1081.3 667.0 1081.6C669.5 1081.8 672.9 1078.2 675.8 1078.7C678.7 1079.2 682.1 1085.8 684.6 1084.6C687.1 1083.4 688.5 1075.8 690.5 1071.4C692.5 1067.0 695.3 1060.4 696.3 1058.2" fill="none" stroke="#00007f" stroke-width="3.6" stroke-linejoin="round" stroke-linecap="round"/>
<path d="M59.4 1065.8C60.1 1065.5 61.6 1066.0 63.8 1064.3C66.0 1062.6 69.9 1056.5 72.6 1055.5C75.3 1054.5 77.8 1057.7 80.0 1058.4C82.2 1059.1 84.1 1057.5 85.8 1059.9C87.5 1062.4 88.7 1068.7 90.2 1073.1C91.7 1077.5 92.9 1086.0 94.6 1086.3C96.3 1086.5 98.5 1075.8 100.5 1074.6C102.5 1073.4 104.7 1077.8 106.4 1079.0C108.1 1080.2 109.1 1082.6 110.8 1081.9C112.5 1081.2 114.4 1078.3 116.6 1074.6C118.8 1070.9 121.3 1061.6 124.0 1059.9C126.7 1058.2 130.1 1062.8 132.8 1064.3C135.5 1065.8 137.7 1069.2 140.1 1068.7C142.5 1068.2 145.1 1060.7 147.5 1061.4C149.9 1062.1 152.6 1070.9 154.8 1073.1C157.0 1075.3 158.8 1072.9 160.7 1074.6C162.6 1076.3 164.3 1083.9 166.5 1083.4C168.7 1082.9 171.7 1074.3 173.9 1071.6C176.1 1068.9 177.8 1068.4 179.7 1067.2C181.6 1066.0 183.4 1063.1 185.6 1064.3C187.8 1065.5 190.6 1071.7 193.0 1074.6C195.4 1077.5 197.9 1081.2 200.3 1081.9C202.7 1082.6 205.2 1080.5 207.6 1079.0C210.0 1077.5 212.6 1074.1 215.0 1073.1C217.4 1072.1 219.9 1072.6 222.3 1073.1C224.7 1073.6 227.4 1077.2 229.6 1076.0C231.8 1074.8 233.5 1065.3 235.5 1065.8C237.5 1066.3 239.7 1075.1 241.4 1079.0C243.1 1082.9 244.1 1087.1 245.8 1089.3C247.5 1091.5 249.8 1090.0 251.7 1092.2C253.6 1094.4 255.6 1104.2 257.5 1102.5C259.4 1100.8 261.4 1091.5 263.4 1081.9C265.4 1072.4 267.2 1050.6 269.3 1045.2C271.4 1039.8 273.8 1047.1 275.9 1049.6C278.0 1052.0 279.8 1056.0 281.7 1059.9C283.6 1063.8 285.6 1070.4 287.6 1073.1C289.6 1075.8 291.5 1077.5 293.5 1076.0C295.5 1074.5 297.2 1068.2 299.4 1064.3C301.6 1060.4 304.3 1052.6 306.7 1052.6C309.1 1052.6 311.6 1065.0 314.0 1064.3C316.4 1063.6 318.9 1049.2 321.4 1048.2C323.8 1047.2 326.3 1056.0 328.7 1058.4C331.1 1060.8 334.1 1061.3 336.0 1062.8C337.9 1064.3 338.4 1068.9 340.4 1067.2C342.4 1065.5 345.4 1052.8 347.8 1052.6C350.2 1052.4 352.9 1061.9 355.1 1065.8C357.3 1069.7 359.0 1071.3 361.0 1076.0C363.0 1080.7 364.9 1088.3 366.9 1093.7C368.8 1099.1 370.5 1103.7 372.7 1108.3C374.9 1112.9 377.9 1120.8 380.1 1121.5C382.3 1122.2 383.9 1113.9 385.9 1112.7C387.8 1111.5 389.6 1114.0 391.8 1114.2C394.0 1114.5 397.0 1115.9 399.2 1114.2C401.4 1112.5 403.1 1108.1 405.0 1103.9C406.9 1099.8 408.7 1090.8 410.9 1089.3C413.1 1087.8 415.5 1095.6 418.2 1095.1C420.9 1094.6 424.3 1088.5 427.0 1086.3C429.7 1084.1 431.9 1083.1 434.4 1081.9C436.8 1080.7 439.5 1080.0 441.7 1079.0C443.9 1078.0 445.9 1077.5 447.6 1076.0C449.3 1074.5 450.1 1070.9 452.0 1070.2C453.9 1069.5 457.4 1072.3 459.3 1071.6C461.2 1070.9 461.7 1065.1 463.7 1065.8C465.7 1066.5 468.7 1075.8 471.1 1076.0C473.6 1076.2 476.2 1067.0 478.4 1067.2C480.6 1067.5 482.4 1075.0 484.3 1077.5C486.2 1080.0 488.7 1082.2 490.0 1081.9C491.3 1081.6 490.7 1076.3 492.3 1075.8C493.9 1075.3 497.2 1078.0 499.7 1078.7C502.1 1079.4 504.6 1081.9 507.0 1080.2C509.4 1078.5 512.2 1071.3 514.4 1068.4C516.6 1065.5 517.8 1063.8 520.2 1062.6C522.6 1061.4 526.1 1060.4 529.0 1061.1C531.9 1061.8 535.3 1067.5 537.8 1067.0C540.2 1066.5 542.0 1060.9 543.7 1058.2C545.4 1055.5 546.6 1050.6 548.1 1050.8C549.6 1051.0 551.0 1056.9 552.5 1059.6C554.0 1062.3 555.2 1065.5 556.9 1067.0C558.6 1068.5 560.6 1066.9 562.8 1068.4C565.0 1069.9 567.9 1076.8 570.1 1075.8C572.3 1074.8 574.0 1064.8 576.0 1062.6C578.0 1060.4 579.4 1062.6 581.9 1062.6C584.4 1062.6 588.3 1061.6 590.7 1062.6C593.1 1063.6 594.5 1066.7 596.5 1068.4C598.5 1070.1 600.2 1073.0 602.4 1072.8C604.6 1072.6 607.2 1068.5 609.7 1067.0C612.2 1065.5 614.7 1065.2 617.1 1064.0C619.5 1062.8 622.0 1060.1 624.4 1059.6C626.8 1059.1 629.3 1060.1 631.8 1061.1C634.2 1062.1 636.7 1064.3 639.1 1065.5C641.5 1066.7 643.7 1068.2 646.4 1068.4C649.1 1068.7 652.2 1067.2 655.2 1067.0C658.2 1066.8 661.6 1068.7 664.1 1067.0C666.6 1065.3 668.0 1059.6 670.0 1056.7C672.0 1053.8 673.6 1049.7 675.8 1049.4C678.0 1049.2 680.6 1052.8 683.1 1055.2C685.6 1057.6 688.3 1062.0 690.5 1064.0C692.7 1066.0 695.3 1066.5 696.3 1067.0" fill="none" stroke="#9fc5e8" stroke-width="3.6" stroke-linejoin="round" stroke-linecap="round"/>
<path d="M57.5 993.3V1148.0H695.6" fill="none" stroke="#000" stroke-width="2.8"/>
<path d="M35.8 993.3H57.5" stroke="#000" stroke-width="2.8"/>
<text transform="translate(10.97 1003.80) scale(0.2006 0.3008)" font-size="100" fill="#000">10</text>
<path d="M35.8 1031.7H57.5" stroke="#000" stroke-width="2.8"/>
<text transform="translate(19.96 1042.20) scale(0.2109 0.3008)" font-size="100" fill="#000">5</text>
<path d="M35.8 1071.3H57.5" stroke="#000" stroke-width="2.8"/>
<text transform="translate(19.66 1081.80) scale(0.2155 0.3008)" font-size="100" fill="#000">0</text>
<path d="M35.8 1110.0H57.5" stroke="#000" stroke-width="2.8"/>
<text transform="translate(14.13 1120.50) scale(0.1968 0.3008)" font-size="100" fill="#000">-5</text>
<path d="M35.8 1148.0H57.5" stroke="#000" stroke-width="2.8"/>
<text transform="translate(1.58 1158.50) scale(0.2078 0.3008)" font-size="100" fill="#000">-10</text>
<path d="M57.5 1148.0V1165.8" stroke="#000" stroke-width="2.8"/>
<text transform="translate(39.46 1197.30) scale(0.2125 0.2836)" font-size="100" fill="#000">-0.2</text>
<path d="M166.7 1148.0V1165.8" stroke="#000" stroke-width="2.8"/>
<text transform="translate(160.67 1197.30) scale(0.2134 0.2836)" font-size="100" fill="#000">0</text>
<path d="M268.6 1148.0V1165.8" stroke="#000" stroke-width="2.8"/>
<text transform="translate(253.77 1197.30) scale(0.2129 0.2836)" font-size="100" fill="#000">0.2</text>
<path d="M377.0 1148.0V1165.8" stroke="#000" stroke-width="2.8"/>
<text transform="translate(360.93 1197.30) scale(0.2217 0.2836)" font-size="100" fill="#000">0.4</text>
<path d="M484.6 1148.0V1165.8" stroke="#000" stroke-width="2.8"/>
<text transform="translate(468.86 1197.30) scale(0.2157 0.2836)" font-size="100" fill="#000">0.6</text>
<path d="M594.1 1148.0V1165.8" stroke="#000" stroke-width="2.8"/>
<text transform="translate(578.73 1197.30) scale(0.2218 0.2836)" font-size="100" fill="#000">0.8</text>
<path d="M695.6 1148.0V1165.8" stroke="#000" stroke-width="2.8"/>
<text transform="translate(678.70 1197.30) scale(0.2235 0.2836)" font-size="100" fill="#000">1.0</text>
<text transform="translate(350.08 1228.00) scale(0.2101 0.2760)" font-size="100" fill="#000">time (s)</text>
<path d="M837.7 1070.0h3.0v3.0h-3.0zM846.1 1070.0h3.0v3.0h-3.0zM854.5 1070.0h3.0v3.0h-3.0zM862.9 1070.0h3.0v3.0h-3.0zM871.3 1070.0h3.0v3.0h-3.0zM879.7 1070.0h3.0v3.0h-3.0zM888.1 1070.0h3.0v3.0h-3.0zM896.5 1070.0h3.0v3.0h-3.0zM904.9 1070.0h3.0v3.0h-3.0zM913.3 1070.0h3.0v3.0h-3.0zM921.7 1070.0h3.0v3.0h-3.0zM930.1 1070.0h3.0v3.0h-3.0zM938.5 1070.0h3.0v3.0h-3.0zM946.9 1070.0h3.0v3.0h-3.0zM955.3 1070.0h3.0v3.0h-3.0zM963.7 1070.0h3.0v3.0h-3.0zM972.1 1070.0h3.0v3.0h-3.0zM980.5 1070.0h3.0v3.0h-3.0zM988.9 1070.0h3.0v3.0h-3.0zM997.3 1070.0h3.0v3.0h-3.0zM1005.7 1070.0h3.0v3.0h-3.0zM1014.1 1070.0h3.0v3.0h-3.0zM1022.5 1070.0h3.0v3.0h-3.0zM1030.9 1070.0h3.0v3.0h-3.0zM1039.3 1070.0h3.0v3.0h-3.0zM1047.7 1070.0h3.0v3.0h-3.0zM1056.1 1070.0h3.0v3.0h-3.0zM1064.5 1070.0h3.0v3.0h-3.0zM1072.9 1070.0h3.0v3.0h-3.0zM1081.3 1070.0h3.0v3.0h-3.0zM1089.7 1070.0h3.0v3.0h-3.0zM1098.1 1070.0h3.0v3.0h-3.0zM1106.5 1070.0h3.0v3.0h-3.0zM1114.9 1070.0h3.0v3.0h-3.0zM1123.3 1070.0h3.0v3.0h-3.0zM1131.7 1070.0h3.0v3.0h-3.0zM1140.1 1070.0h3.0v3.0h-3.0zM1148.5 1070.0h3.0v3.0h-3.0zM1156.9 1070.0h3.0v3.0h-3.0zM1165.3 1070.0h3.0v3.0h-3.0zM1173.7 1070.0h3.0v3.0h-3.0zM1182.1 1070.0h3.0v3.0h-3.0zM1190.5 1070.0h3.0v3.0h-3.0zM1198.9 1070.0h3.0v3.0h-3.0zM1207.3 1070.0h3.0v3.0h-3.0zM1215.7 1070.0h3.0v3.0h-3.0zM1224.1 1070.0h3.0v3.0h-3.0zM1232.5 1070.0h3.0v3.0h-3.0zM1240.9 1070.0h3.0v3.0h-3.0zM1249.3 1070.0h3.0v3.0h-3.0zM1257.7 1070.0h3.0v3.0h-3.0zM1266.1 1070.0h3.0v3.0h-3.0zM1274.5 1070.0h3.0v3.0h-3.0zM1282.9 1070.0h3.0v3.0h-3.0zM1291.3 1070.0h3.0v3.0h-3.0zM1299.7 1070.0h3.0v3.0h-3.0zM1308.1 1070.0h3.0v3.0h-3.0zM1316.5 1070.0h3.0v3.0h-3.0zM1324.9 1070.0h3.0v3.0h-3.0zM1333.3 1070.0h3.0v3.0h-3.0zM1341.7 1070.0h3.0v3.0h-3.0zM1350.1 1070.0h3.0v3.0h-3.0zM1358.5 1070.0h3.0v3.0h-3.0zM1366.9 1070.0h3.0v3.0h-3.0zM1375.3 1070.0h3.0v3.0h-3.0zM1383.7 1070.0h3.0v3.0h-3.0zM1392.1 1070.0h3.0v3.0h-3.0zM1400.5 1070.0h3.0v3.0h-3.0zM1408.9 1070.0h3.0v3.0h-3.0zM1417.3 1070.0h3.0v3.0h-3.0zM1425.7 1070.0h3.0v3.0h-3.0zM1434.1 1070.0h3.0v3.0h-3.0zM1442.5 1070.0h3.0v3.0h-3.0zM1450.9 1070.0h3.0v3.0h-3.0zM1459.3 1070.0h3.0v3.0h-3.0zM1467.7 1070.0h3.0v3.0h-3.0zM1476.1 1070.0h3.0v3.0h-3.0z" fill="#000"/>
<path d="M940.5 990.5h3.0v3.0h-3.0zM940.5 998.9h3.0v3.0h-3.0zM940.5 1007.3h3.0v3.0h-3.0zM940.5 1015.7h3.0v3.0h-3.0zM940.5 1024.1h3.0v3.0h-3.0zM940.5 1032.5h3.0v3.0h-3.0zM940.5 1040.9h3.0v3.0h-3.0zM940.5 1049.3h3.0v3.0h-3.0zM940.5 1057.7h3.0v3.0h-3.0zM940.5 1066.1h3.0v3.0h-3.0zM940.5 1074.5h3.0v3.0h-3.0zM940.5 1082.9h3.0v3.0h-3.0zM940.5 1091.3h3.0v3.0h-3.0zM940.5 1099.7h3.0v3.0h-3.0zM940.5 1108.1h3.0v3.0h-3.0zM940.5 1116.5h3.0v3.0h-3.0zM940.5 1124.9h3.0v3.0h-3.0zM940.5 1133.3h3.0v3.0h-3.0zM940.5 1141.7h3.0v3.0h-3.0z" fill="#000"/>
<path d="M837.9 1065.8C838.6 1066.5 840.8 1070.2 842.3 1070.2C843.8 1070.2 845.2 1069.5 846.7 1065.8C848.2 1062.1 849.4 1053.3 851.1 1048.2C852.8 1043.1 855.3 1036.0 857.0 1035.0C858.7 1034.0 859.9 1038.4 861.4 1042.3C862.9 1046.2 864.1 1054.2 865.8 1058.4C867.5 1062.6 869.5 1065.5 871.7 1067.2C873.9 1068.9 876.8 1068.0 879.0 1068.7C881.2 1069.4 882.9 1072.2 884.9 1071.6C886.9 1071.0 888.6 1065.0 890.8 1065.0C893.0 1065.0 895.9 1070.7 898.1 1071.6C900.3 1072.5 902.3 1070.7 904.0 1070.2C905.7 1069.7 906.4 1067.7 908.4 1068.7C910.4 1069.7 913.2 1075.0 915.7 1076.0C918.2 1077.0 920.9 1074.1 923.1 1074.6C925.3 1075.1 927.0 1077.5 928.9 1079.0C930.8 1080.5 932.6 1082.2 934.8 1083.4C937.0 1084.6 939.6 1086.0 942.1 1086.3C944.6 1086.5 947.3 1084.2 949.5 1084.9C951.7 1085.6 953.3 1090.0 955.3 1090.7C957.2 1091.4 959.2 1090.0 961.2 1089.3C963.2 1088.6 964.9 1086.3 967.1 1086.3C969.3 1086.3 972.0 1088.6 974.4 1089.3C976.8 1090.0 979.6 1091.2 981.8 1090.7C984.0 1090.2 985.6 1088.2 987.6 1086.3C989.6 1084.3 991.5 1081.2 993.5 1079.0C995.5 1076.8 997.4 1074.8 999.4 1073.1C1001.4 1071.4 1003.2 1069.0 1005.2 1068.7C1007.2 1068.5 1008.9 1070.4 1011.1 1071.6C1013.3 1072.8 1016.0 1075.0 1018.5 1076.0C1021.0 1077.0 1023.6 1079.7 1025.8 1077.5C1028.0 1075.3 1029.8 1067.7 1031.7 1062.8C1033.7 1057.9 1035.3 1050.6 1037.5 1048.2C1039.7 1045.8 1042.8 1049.9 1044.9 1048.2C1047.0 1046.5 1048.2 1040.9 1050.0 1038.2C1051.8 1035.5 1054.0 1033.5 1055.9 1032.3C1057.9 1031.1 1060.0 1030.1 1061.7 1030.8C1063.4 1031.5 1064.6 1034.0 1066.1 1036.7C1067.6 1039.4 1068.8 1044.8 1070.5 1047.0C1072.2 1049.2 1074.4 1049.4 1076.4 1049.9C1078.4 1050.4 1080.3 1050.6 1082.3 1049.9C1084.3 1049.2 1086.2 1045.0 1088.2 1045.5C1090.2 1046.0 1091.8 1050.3 1094.0 1052.8C1096.2 1055.2 1099.0 1060.2 1101.4 1060.2C1103.9 1060.2 1106.5 1052.8 1108.7 1052.8C1110.9 1052.8 1112.4 1059.2 1114.6 1060.2C1116.8 1061.2 1119.7 1057.2 1121.9 1058.7C1124.1 1060.2 1125.8 1066.1 1127.8 1069.0C1129.8 1071.9 1131.5 1073.8 1133.7 1076.3C1135.9 1078.8 1138.6 1081.0 1141.0 1083.7C1143.4 1086.4 1145.8 1089.8 1148.3 1092.5C1150.8 1095.2 1153.0 1097.4 1155.7 1099.8C1158.4 1102.2 1162.1 1107.1 1164.5 1107.1C1166.9 1107.1 1168.1 1103.2 1170.3 1099.8C1172.5 1096.4 1175.5 1088.8 1177.7 1086.6C1179.9 1084.4 1181.6 1088.5 1183.6 1086.6C1185.5 1084.6 1187.5 1078.6 1189.4 1074.9C1191.4 1071.2 1193.3 1067.0 1195.3 1064.6C1197.3 1062.1 1199.2 1060.7 1201.2 1060.2C1203.2 1059.7 1205.0 1060.9 1207.0 1061.6C1209.0 1062.3 1210.9 1062.6 1212.9 1064.6C1214.9 1066.6 1216.8 1070.7 1218.8 1073.4C1220.8 1076.1 1222.6 1080.2 1224.6 1080.7C1226.5 1081.2 1228.5 1077.8 1230.5 1076.3C1232.5 1074.8 1234.4 1071.4 1236.4 1071.9C1238.4 1072.4 1240.1 1079.3 1242.3 1079.3C1244.5 1079.3 1247.4 1074.6 1249.6 1071.9C1251.8 1069.2 1253.5 1064.6 1255.5 1063.1C1257.5 1061.6 1259.7 1062.0 1261.3 1063.1C1262.9 1064.2 1262.9 1070.7 1265.0 1069.9C1267.1 1069.1 1271.3 1059.7 1273.8 1058.2C1276.2 1056.7 1277.5 1059.1 1279.7 1061.1C1281.9 1063.0 1284.3 1067.5 1287.0 1069.9C1289.7 1072.4 1293.3 1076.3 1295.8 1075.8C1298.2 1075.3 1299.7 1069.0 1301.7 1067.0C1303.7 1065.0 1305.4 1065.5 1307.6 1064.0C1309.8 1062.5 1312.5 1058.0 1314.9 1058.2C1317.3 1058.5 1320.0 1063.8 1322.2 1065.5C1324.4 1067.2 1325.9 1068.7 1328.1 1068.4C1330.3 1068.2 1332.7 1065.2 1335.4 1064.0C1338.1 1062.8 1341.3 1061.3 1344.3 1061.1C1347.2 1060.9 1350.2 1062.1 1353.1 1062.6C1356.0 1063.1 1359.5 1063.0 1361.9 1064.0C1364.3 1065.0 1366.0 1066.4 1367.7 1068.4C1369.4 1070.4 1370.1 1076.5 1372.1 1075.8C1374.1 1075.1 1377.3 1066.7 1379.5 1064.0C1381.7 1061.3 1383.3 1060.1 1385.3 1059.6C1387.2 1059.1 1389.2 1059.9 1391.2 1061.1C1393.2 1062.3 1394.9 1065.3 1397.1 1067.0C1399.3 1068.7 1402.0 1071.2 1404.4 1071.4C1406.9 1071.6 1409.6 1066.9 1411.8 1068.4C1414.0 1069.9 1415.9 1078.0 1417.6 1080.2C1419.3 1082.4 1420.3 1082.6 1422.0 1081.6C1423.7 1080.6 1425.9 1074.8 1427.9 1074.3C1429.9 1073.8 1431.8 1079.7 1433.8 1078.7C1435.8 1077.7 1437.8 1071.1 1439.7 1068.4C1441.7 1065.7 1443.5 1062.6 1445.5 1062.6C1447.5 1062.6 1449.4 1068.4 1451.4 1068.4C1453.4 1068.4 1455.3 1064.8 1457.3 1062.6C1459.2 1060.4 1460.9 1055.9 1463.1 1055.2C1465.3 1054.5 1468.3 1056.7 1470.5 1058.2C1472.7 1059.7 1474.8 1062.5 1476.3 1064.0C1477.8 1065.5 1478.8 1066.5 1479.3 1067.0" fill="none" stroke="#7f0000" stroke-width="3.6" stroke-linejoin="round" stroke-linecap="round"/>
<path d="M837.9 1055.5C838.9 1056.5 841.8 1060.4 843.8 1061.4C845.8 1062.4 847.5 1060.7 849.7 1061.4C851.9 1062.1 854.8 1065.6 857.0 1065.8C859.2 1066.0 860.9 1062.3 862.9 1062.8C864.9 1063.3 866.6 1068.2 868.8 1068.7C871.0 1069.2 873.7 1066.0 876.1 1065.8C878.5 1065.5 881.0 1066.5 883.4 1067.2C885.8 1067.9 888.1 1068.2 890.8 1070.2C893.5 1072.2 897.4 1080.2 899.6 1079.0C901.8 1077.8 902.8 1066.7 904.0 1062.8C905.2 1058.9 905.7 1055.7 906.9 1055.5C908.1 1055.3 909.8 1058.5 911.3 1061.4C912.8 1064.3 913.7 1070.4 915.7 1073.1C917.7 1075.8 920.7 1076.0 923.1 1077.5C925.5 1079.0 928.0 1080.9 930.4 1081.9C932.8 1082.9 935.5 1082.7 937.7 1083.4C939.9 1084.1 941.4 1086.3 943.6 1086.3C945.8 1086.3 948.5 1083.4 951.0 1083.4C953.5 1083.4 955.9 1086.5 958.3 1086.3C960.7 1086.0 963.6 1084.1 965.6 1081.9C967.6 1079.7 968.3 1074.3 970.0 1073.1C971.7 1071.9 973.9 1074.3 975.9 1074.6C977.9 1074.8 979.8 1076.3 981.8 1074.6C983.8 1072.9 985.6 1065.5 987.6 1064.3C989.6 1063.1 991.8 1064.0 993.5 1067.2C995.2 1070.4 996.2 1080.7 997.9 1083.4C999.6 1086.1 1001.6 1084.1 1003.8 1083.4C1006.0 1082.7 1008.6 1080.2 1011.1 1079.0C1013.6 1077.8 1016.0 1075.5 1018.5 1076.0C1021.0 1076.5 1023.6 1082.6 1025.8 1081.9C1028.0 1081.2 1029.8 1075.5 1031.7 1071.6C1033.7 1067.7 1035.5 1061.6 1037.5 1058.4C1039.5 1055.2 1041.3 1054.3 1043.4 1052.6C1045.5 1050.9 1047.9 1051.3 1050.0 1048.4C1052.1 1045.5 1054.0 1036.7 1055.9 1035.2C1057.9 1033.7 1059.5 1040.6 1061.7 1039.6C1063.9 1038.6 1066.9 1029.2 1069.1 1029.4C1071.3 1029.7 1073.0 1036.7 1074.9 1041.1C1076.9 1045.5 1078.6 1052.9 1080.8 1055.8C1083.0 1058.7 1086.0 1057.7 1088.2 1058.7C1090.4 1059.7 1092.3 1059.1 1094.0 1061.6C1095.7 1064.0 1096.7 1069.5 1098.4 1073.4C1100.1 1077.3 1102.3 1084.6 1104.3 1085.1C1106.3 1085.6 1108.0 1077.3 1110.2 1076.3C1112.4 1075.3 1115.0 1080.5 1117.5 1079.3C1120.0 1078.1 1122.7 1069.2 1124.9 1069.0C1127.1 1068.8 1128.8 1074.1 1130.7 1077.8C1132.7 1081.5 1134.6 1089.0 1136.6 1091.0C1138.6 1093.0 1140.5 1088.5 1142.5 1089.5C1144.5 1090.5 1146.3 1094.7 1148.3 1096.9C1150.2 1099.1 1152.5 1101.7 1154.2 1102.7C1155.9 1103.7 1156.6 1100.5 1158.6 1102.7C1160.5 1104.9 1163.7 1115.9 1165.9 1115.9C1168.1 1115.9 1170.1 1106.9 1171.8 1102.7C1173.5 1098.5 1174.7 1092.0 1176.2 1091.0C1177.7 1090.0 1179.1 1096.9 1180.6 1096.9C1182.1 1096.9 1183.3 1094.7 1185.0 1091.0C1186.7 1087.3 1188.9 1077.8 1190.9 1074.9C1192.9 1072.0 1194.8 1073.7 1196.8 1073.4C1198.8 1073.2 1200.6 1071.9 1202.6 1073.4C1204.5 1074.9 1206.8 1079.3 1208.5 1082.2C1210.2 1085.1 1211.2 1090.0 1212.9 1091.0C1214.6 1092.0 1216.8 1088.3 1218.8 1088.1C1220.8 1087.8 1222.9 1090.5 1224.6 1089.5C1226.3 1088.5 1227.4 1085.9 1229.1 1082.2C1230.8 1078.5 1233.4 1070.4 1234.9 1067.5C1236.4 1064.6 1236.4 1063.4 1237.9 1064.6C1239.4 1065.8 1241.8 1073.4 1243.7 1074.9C1245.7 1076.4 1247.6 1073.7 1249.6 1073.4C1251.6 1073.2 1253.3 1075.4 1255.5 1073.4C1257.7 1071.4 1261.2 1064.1 1262.8 1061.6C1264.4 1059.1 1263.7 1058.3 1265.0 1058.2C1266.3 1058.1 1269.0 1059.9 1270.9 1061.1C1272.9 1062.3 1274.5 1064.3 1276.7 1065.5C1278.9 1066.7 1281.9 1069.9 1284.1 1068.4C1286.3 1066.9 1288.3 1059.6 1290.0 1056.7C1291.7 1053.8 1292.7 1050.5 1294.4 1050.8C1296.1 1051.0 1298.2 1054.8 1300.2 1058.2C1302.2 1061.6 1304.1 1068.5 1306.1 1071.4C1308.1 1074.3 1310.0 1076.5 1312.0 1075.8C1314.0 1075.1 1315.6 1069.7 1317.8 1067.0C1320.0 1064.3 1323.0 1059.6 1325.2 1059.6C1327.4 1059.6 1328.8 1064.3 1331.0 1067.0C1333.2 1069.7 1336.0 1075.8 1338.4 1075.8C1340.9 1075.8 1343.0 1070.2 1345.7 1067.0C1348.4 1063.8 1352.0 1057.7 1354.5 1056.7C1357.0 1055.7 1358.2 1058.6 1360.4 1061.1C1362.6 1063.5 1365.0 1069.9 1367.7 1071.4C1370.4 1072.9 1373.3 1070.9 1376.5 1069.9C1379.7 1068.9 1383.8 1064.5 1386.8 1065.5C1389.8 1066.5 1391.8 1076.0 1394.2 1075.8C1396.7 1075.5 1399.3 1064.5 1401.5 1064.0C1403.7 1063.5 1405.7 1070.1 1407.4 1072.8C1409.1 1075.5 1410.1 1080.9 1411.8 1080.2C1413.5 1079.5 1415.4 1069.4 1417.6 1068.4C1419.8 1067.4 1422.5 1074.5 1425.0 1074.3C1427.5 1074.1 1429.6 1067.2 1432.3 1067.0C1435.0 1066.8 1438.4 1069.4 1441.1 1072.8C1443.8 1076.2 1446.3 1087.5 1448.5 1087.5C1450.7 1087.5 1452.3 1078.7 1454.3 1072.8C1456.2 1066.9 1458.2 1055.2 1460.2 1052.3C1462.2 1049.4 1463.9 1052.5 1466.1 1055.2C1468.3 1057.9 1471.2 1064.5 1473.4 1068.4C1475.6 1072.3 1478.3 1077.0 1479.3 1078.7" fill="none" stroke="#ff5555" stroke-width="3.6" stroke-linejoin="round" stroke-linecap="round"/>
<path d="M837.9 1048.2C838.6 1051.1 840.8 1061.4 842.3 1065.8C843.8 1070.2 845.0 1073.6 846.7 1074.6C848.4 1075.6 850.6 1072.3 852.6 1071.6C854.6 1070.9 856.5 1071.2 858.5 1070.2C860.5 1069.2 862.2 1068.7 864.4 1065.8C866.6 1062.9 869.3 1053.6 871.7 1052.6C874.1 1051.6 876.5 1057.7 879.0 1059.9C881.5 1062.1 883.5 1064.3 886.4 1065.8C889.3 1067.3 893.9 1067.2 896.6 1068.7C899.3 1070.2 900.5 1073.1 902.5 1074.6C904.5 1076.1 906.4 1079.0 908.4 1077.5C910.4 1076.0 912.6 1069.5 914.3 1065.8C916.0 1062.1 917.2 1056.0 918.7 1055.5C920.2 1055.0 921.6 1059.9 923.1 1062.8C924.6 1065.7 925.5 1070.9 927.5 1073.1C929.5 1075.3 932.6 1074.5 934.8 1076.0C937.0 1077.5 938.8 1080.2 940.7 1081.9C942.7 1083.6 944.3 1085.6 946.5 1086.3C948.7 1087.0 951.4 1085.6 953.9 1086.3C956.4 1087.0 958.5 1090.2 961.2 1090.7C963.9 1091.2 967.8 1090.8 970.0 1089.3C972.2 1087.8 972.7 1084.9 974.4 1081.9C976.1 1079.0 978.3 1071.6 980.3 1071.6C982.3 1071.6 984.5 1079.5 986.2 1081.9C987.9 1084.4 988.9 1086.3 990.6 1086.3C992.3 1086.3 994.2 1084.8 996.4 1081.9C998.6 1079.0 1001.3 1069.9 1003.8 1068.7C1006.2 1067.5 1008.4 1070.7 1011.1 1074.6C1013.8 1078.5 1017.2 1091.5 1019.9 1092.2C1022.6 1092.9 1025.1 1080.5 1027.3 1079.0C1029.5 1077.5 1030.9 1084.1 1033.1 1083.4C1035.3 1082.7 1038.0 1075.8 1040.5 1074.6C1043.0 1073.4 1046.2 1076.7 1047.8 1076.0C1049.4 1075.3 1048.9 1073.0 1050.0 1070.4C1051.1 1067.8 1052.7 1063.9 1054.4 1060.2C1056.1 1056.5 1058.3 1051.3 1060.3 1048.4C1062.2 1045.5 1064.1 1043.8 1066.1 1042.6C1068.0 1041.4 1070.0 1041.3 1072.0 1041.1C1074.0 1040.8 1075.7 1042.3 1077.9 1041.1C1080.1 1039.9 1082.8 1033.8 1085.2 1033.8C1087.7 1033.8 1090.6 1041.1 1092.6 1041.1C1094.6 1041.1 1095.8 1035.8 1097.0 1033.8C1098.2 1031.8 1098.7 1029.2 1099.9 1029.4C1101.1 1029.6 1102.8 1033.5 1104.3 1035.2C1105.8 1036.9 1107.5 1039.8 1108.7 1039.6C1109.9 1039.4 1109.9 1035.5 1111.6 1033.8C1113.3 1032.1 1117.0 1031.1 1119.0 1029.4C1121.0 1027.7 1121.7 1022.8 1123.4 1023.5C1125.1 1024.2 1127.6 1031.6 1129.3 1033.8C1131.0 1036.0 1132.2 1034.3 1133.7 1036.7C1135.2 1039.1 1136.6 1044.2 1138.1 1048.4C1139.6 1052.6 1141.0 1058.4 1142.5 1061.6C1144.0 1064.8 1145.4 1066.3 1146.9 1067.5C1148.4 1068.7 1149.8 1070.0 1151.3 1069.0C1152.8 1068.0 1154.0 1062.8 1155.7 1061.6C1157.4 1060.4 1159.1 1059.9 1161.5 1061.6C1163.9 1063.3 1167.6 1070.9 1170.3 1071.9C1173.0 1072.9 1175.2 1068.7 1177.7 1067.5C1180.2 1066.3 1182.8 1066.3 1185.0 1064.6C1187.2 1062.9 1188.9 1059.4 1190.9 1057.2C1192.9 1055.0 1195.1 1052.9 1196.8 1051.4C1198.5 1049.9 1199.7 1047.7 1201.2 1048.4C1202.7 1049.1 1204.4 1052.1 1205.6 1055.8C1206.8 1059.5 1207.5 1066.0 1208.5 1070.4C1209.5 1074.8 1209.9 1080.7 1211.4 1082.2C1212.9 1083.7 1215.6 1078.3 1217.3 1079.3C1219.0 1080.3 1220.2 1085.4 1221.7 1088.1C1223.2 1090.8 1224.4 1095.7 1226.1 1095.4C1227.8 1095.2 1230.0 1089.3 1232.0 1086.6C1234.0 1083.9 1235.7 1080.8 1237.9 1079.3C1240.1 1077.8 1242.8 1078.8 1245.2 1077.8C1247.6 1076.8 1250.3 1075.1 1252.5 1073.4C1254.7 1071.7 1256.3 1069.5 1258.4 1067.5C1260.5 1065.5 1263.2 1061.4 1265.0 1061.1C1266.8 1060.8 1267.9 1063.5 1269.4 1065.5C1270.9 1067.5 1272.3 1072.5 1273.8 1072.8C1275.3 1073.0 1276.7 1069.2 1278.2 1067.0C1279.7 1064.8 1281.1 1059.4 1282.6 1059.6C1284.1 1059.8 1285.5 1065.7 1287.0 1068.4C1288.5 1071.1 1289.7 1075.5 1291.4 1075.8C1293.1 1076.0 1295.1 1071.1 1297.3 1069.9C1299.5 1068.7 1302.4 1068.2 1304.6 1068.4C1306.8 1068.7 1308.5 1072.6 1310.5 1071.4C1312.5 1070.2 1314.7 1063.8 1316.4 1061.1C1318.1 1058.4 1319.3 1054.2 1320.8 1055.2C1322.3 1056.2 1323.7 1064.1 1325.2 1067.0C1326.7 1069.9 1327.6 1072.8 1329.6 1072.8C1331.5 1072.8 1334.5 1069.7 1336.9 1067.0C1339.4 1064.3 1342.1 1057.9 1344.3 1056.7C1346.5 1055.5 1348.1 1057.9 1350.1 1059.6C1352.0 1061.3 1354.0 1066.3 1356.0 1067.0C1358.0 1067.7 1359.7 1064.0 1361.9 1064.0C1364.1 1064.0 1366.8 1066.8 1369.2 1067.0C1371.6 1067.2 1374.3 1067.2 1376.5 1065.5C1378.7 1063.8 1380.7 1059.9 1382.4 1056.7C1384.1 1053.5 1385.3 1046.7 1386.8 1046.4C1388.3 1046.2 1389.7 1051.0 1391.2 1055.2C1392.7 1059.4 1393.9 1069.7 1395.6 1071.4C1397.3 1073.1 1399.3 1066.7 1401.5 1065.5C1403.7 1064.3 1406.8 1064.7 1408.8 1064.0C1410.8 1063.3 1411.2 1060.1 1413.2 1061.1C1415.2 1062.1 1418.4 1069.2 1420.6 1069.9C1422.8 1070.6 1424.2 1065.2 1426.4 1065.5C1428.6 1065.8 1431.3 1072.1 1433.8 1071.4C1436.2 1070.7 1438.6 1061.6 1441.1 1061.1C1443.5 1060.6 1446.0 1067.4 1448.5 1068.4C1451.0 1069.4 1453.6 1067.0 1455.8 1067.0C1458.0 1067.0 1459.5 1069.4 1461.7 1068.4C1463.9 1067.4 1466.8 1061.8 1469.0 1061.1C1471.2 1060.4 1473.2 1062.8 1474.9 1064.0C1476.6 1065.2 1478.6 1067.7 1479.3 1068.4" fill="none" stroke="#00007f" stroke-width="3.6" stroke-linejoin="round" stroke-linecap="round"/>
<path d="M837.9 1051.1C839.4 1050.8 844.5 1048.6 846.7 1049.6C848.9 1050.6 849.4 1055.3 851.1 1057.0C852.8 1058.7 855.0 1060.4 857.0 1059.9C859.0 1059.4 860.9 1053.0 862.9 1054.0C864.9 1055.0 867.1 1062.4 868.8 1065.8C870.5 1069.2 871.5 1072.4 873.2 1074.6C874.9 1076.8 877.3 1077.3 879.0 1079.0C880.7 1080.7 881.7 1085.6 883.4 1084.9C885.1 1084.2 887.6 1076.6 889.3 1074.6C891.0 1072.6 892.0 1072.6 893.7 1073.1C895.4 1073.6 897.7 1077.5 899.6 1077.5C901.5 1077.5 903.5 1073.8 905.4 1073.1C907.3 1072.4 909.3 1075.3 911.3 1073.1C913.3 1070.9 915.2 1062.6 917.2 1059.9C919.2 1057.2 921.2 1057.0 923.1 1057.0C925.0 1057.0 927.2 1058.0 928.9 1059.9C930.6 1061.9 931.6 1065.5 933.3 1068.7C935.0 1071.9 937.5 1079.2 939.2 1079.0C940.9 1078.8 941.9 1067.9 943.6 1067.2C945.3 1066.5 947.3 1072.9 949.5 1074.6C951.7 1076.3 954.6 1077.0 956.8 1077.5C959.0 1078.0 960.7 1078.0 962.7 1077.5C964.7 1077.0 966.7 1074.3 968.6 1074.6C970.5 1074.8 972.2 1077.3 974.4 1079.0C976.6 1080.7 979.3 1084.7 981.8 1084.9C984.2 1085.1 986.9 1080.9 989.1 1080.4C991.3 1079.9 993.0 1082.9 995.0 1081.9C997.0 1080.9 998.6 1078.3 1000.8 1074.6C1003.0 1070.9 1006.0 1060.4 1008.2 1059.9C1010.4 1059.4 1012.2 1069.4 1014.1 1071.6C1016.0 1073.8 1018.0 1074.1 1019.9 1073.1C1021.8 1072.1 1023.6 1069.0 1025.8 1065.8C1028.0 1062.6 1030.6 1057.2 1033.1 1054.0C1035.5 1050.8 1038.0 1050.1 1040.5 1046.7C1043.0 1043.3 1046.2 1036.4 1047.8 1033.5C1049.4 1030.6 1048.7 1032.3 1050.0 1029.4C1051.3 1026.5 1053.7 1016.6 1055.9 1016.1C1058.1 1015.6 1061.0 1025.2 1063.2 1026.4C1065.4 1027.6 1067.1 1023.0 1069.1 1023.5C1071.0 1024.0 1072.7 1030.6 1074.9 1029.4C1077.1 1028.2 1080.1 1016.8 1082.3 1016.1C1084.5 1015.4 1086.2 1021.8 1088.2 1025.0C1090.2 1028.2 1092.0 1033.2 1094.0 1035.2C1096.0 1037.2 1097.7 1035.7 1099.9 1036.7C1102.1 1037.7 1105.0 1038.9 1107.2 1041.1C1109.4 1043.3 1110.9 1048.9 1113.1 1049.9C1115.3 1050.9 1118.0 1047.0 1120.4 1047.0C1122.9 1047.0 1125.6 1049.4 1127.8 1049.9C1130.0 1050.4 1131.8 1047.7 1133.7 1049.9C1135.7 1052.1 1137.3 1060.9 1139.5 1063.1C1141.7 1065.3 1144.7 1061.1 1146.9 1063.1C1149.1 1065.1 1150.5 1071.7 1152.7 1074.9C1154.9 1078.1 1157.6 1079.0 1160.1 1082.2C1162.5 1085.4 1165.2 1093.9 1167.4 1093.9C1169.6 1093.9 1171.6 1085.9 1173.3 1082.2C1175.0 1078.5 1176.0 1072.9 1177.7 1071.9C1179.4 1070.9 1181.6 1077.5 1183.6 1076.3C1185.5 1075.1 1187.2 1068.3 1189.4 1064.6C1191.6 1060.9 1194.3 1055.3 1196.8 1054.3C1199.2 1053.3 1201.7 1056.8 1204.1 1058.7C1206.5 1060.7 1209.0 1064.3 1211.4 1066.0C1213.9 1067.7 1216.1 1068.0 1218.8 1069.0C1221.5 1070.0 1224.9 1070.0 1227.6 1071.9C1230.3 1073.9 1232.2 1078.2 1234.9 1080.7C1237.6 1083.2 1241.0 1086.3 1243.7 1086.6C1246.4 1086.8 1248.6 1085.4 1251.1 1082.2C1253.5 1079.0 1256.2 1070.7 1258.4 1067.5C1260.6 1064.3 1262.2 1062.2 1264.3 1063.1C1266.4 1064.0 1268.8 1073.6 1270.9 1072.8C1273.0 1072.0 1274.5 1062.8 1276.7 1058.2C1278.9 1053.6 1281.9 1045.7 1284.1 1045.0C1286.3 1044.3 1287.8 1050.1 1290.0 1053.8C1292.2 1057.5 1294.6 1066.3 1297.3 1067.0C1300.0 1067.7 1303.6 1058.9 1306.1 1058.2C1308.5 1057.5 1310.3 1060.4 1312.0 1062.6C1313.7 1064.8 1314.5 1072.6 1316.4 1071.4C1318.4 1070.2 1321.5 1057.4 1323.7 1055.2C1325.9 1053.0 1327.4 1058.0 1329.6 1058.2C1331.8 1058.5 1334.7 1055.7 1336.9 1056.7C1339.1 1057.7 1340.6 1063.8 1342.8 1064.0C1345.0 1064.2 1347.4 1058.9 1350.1 1058.2C1352.8 1057.5 1356.0 1058.9 1358.9 1059.6C1361.8 1060.3 1364.8 1062.1 1367.7 1062.6C1370.6 1063.1 1373.8 1064.3 1376.5 1062.6C1379.2 1060.9 1381.9 1053.3 1383.9 1052.3C1385.9 1051.3 1386.6 1053.5 1388.3 1056.7C1390.0 1059.9 1392.2 1069.9 1394.2 1071.4C1396.2 1072.9 1397.8 1066.5 1400.0 1065.5C1402.2 1064.5 1405.2 1065.8 1407.4 1065.5C1409.6 1065.2 1411.2 1062.8 1413.2 1064.0C1415.2 1065.2 1416.9 1070.8 1419.1 1072.8C1421.3 1074.8 1424.0 1073.8 1426.4 1075.8C1428.9 1077.8 1431.3 1084.4 1433.8 1084.6C1436.2 1084.8 1438.6 1079.7 1441.1 1077.2C1443.5 1074.8 1446.0 1070.6 1448.5 1069.9C1451.0 1069.2 1453.4 1073.0 1455.8 1072.8C1458.2 1072.5 1460.6 1069.9 1463.1 1068.4C1465.5 1066.9 1467.8 1063.5 1470.5 1064.0C1473.2 1064.5 1477.8 1070.2 1479.3 1071.4" fill="none" stroke="#9fc5e8" stroke-width="3.6" stroke-linejoin="round" stroke-linecap="round"/>
<path d="M837.2 992.0V1150.8H1479.7" fill="none" stroke="#000" stroke-width="2.6"/>
<path d="M815.0 992.0H837.2" stroke="#000" stroke-width="2.6"/>
<text transform="translate(788.09 1002.50) scale(0.2116 0.3008)" font-size="100" fill="#000">10</text>
<path d="M815.0 1031.2H837.2" stroke="#000" stroke-width="2.6"/>
<text transform="translate(794.13 1041.70) scale(0.2172 0.3008)" font-size="100" fill="#000">5</text>
<path d="M815.0 1071.3H837.2" stroke="#000" stroke-width="2.6"/>
<text transform="translate(793.83 1081.80) scale(0.2217 0.3008)" font-size="100" fill="#000">0</text>
<path d="M815.0 1110.8H837.2" stroke="#000" stroke-width="2.6"/>
<text transform="translate(788.81 1121.30) scale(0.2006 0.3008)" font-size="100" fill="#000">-5</text>
<path d="M815.0 1150.8H837.2" stroke="#000" stroke-width="2.6"/>
<text transform="translate(781.55 1161.30) scale(0.2144 0.3008)" font-size="100" fill="#000">-10</text>
<path d="M837.2 1150.8V1165.0" stroke="#000" stroke-width="2.6"/>
<text transform="translate(819.16 1194.00) scale(0.2125 0.2864)" font-size="100" fill="#000">-0.2</text>
<path d="M942.5 1150.8V1165.0" stroke="#000" stroke-width="2.6"/>
<text transform="translate(936.47 1197.60) scale(0.2134 0.2607)" font-size="100" fill="#000">0</text>
<path d="M1050.7 1150.8V1165.0" stroke="#000" stroke-width="2.6"/>
<text transform="translate(1035.87 1197.60) scale(0.2129 0.2607)" font-size="100" fill="#000">0.2</text>
<path d="M1153.2 1150.8V1165.0" stroke="#000" stroke-width="2.6"/>
<text transform="translate(1137.13 1197.60) scale(0.2217 0.2607)" font-size="100" fill="#000">0.4</text>
<path d="M1262.2 1150.8V1165.0" stroke="#000" stroke-width="2.6"/>
<text transform="translate(1246.46 1197.60) scale(0.2157 0.2607)" font-size="100" fill="#000">0.6</text>
<path d="M1369.3 1150.8V1165.0" stroke="#000" stroke-width="2.6"/>
<text transform="translate(1353.93 1197.60) scale(0.2218 0.2607)" font-size="100" fill="#000">0.8</text>
<path d="M1479.7 1150.8V1165.0" stroke="#000" stroke-width="2.6"/>
<text transform="translate(1462.80 1197.60) scale(0.2235 0.2607)" font-size="100" fill="#000">1.0</text>
<text transform="translate(1127.86 1224.00) scale(0.2251 0.2760)" font-size="100" fill="#000">time (s)</text>
<path d="M55.2 1678.7h3.0v3.0h-3.0zM63.6 1678.7h3.0v3.0h-3.0zM72.0 1678.7h3.0v3.0h-3.0zM80.4 1678.7h3.0v3.0h-3.0zM88.8 1678.7h3.0v3.0h-3.0zM97.2 1678.7h3.0v3.0h-3.0zM105.6 1678.7h3.0v3.0h-3.0zM114.0 1678.7h3.0v3.0h-3.0zM122.4 1678.7h3.0v3.0h-3.0zM130.8 1678.7h3.0v3.0h-3.0zM139.2 1678.7h3.0v3.0h-3.0zM147.6 1678.7h3.0v3.0h-3.0zM156.0 1678.7h3.0v3.0h-3.0zM164.4 1678.7h3.0v3.0h-3.0zM172.8 1678.7h3.0v3.0h-3.0zM181.2 1678.7h3.0v3.0h-3.0zM189.6 1678.7h3.0v3.0h-3.0zM198.0 1678.7h3.0v3.0h-3.0zM206.4 1678.7h3.0v3.0h-3.0zM214.8 1678.7h3.0v3.0h-3.0zM223.2 1678.7h3.0v3.0h-3.0zM231.6 1678.7h3.0v3.0h-3.0zM240.0 1678.7h3.0v3.0h-3.0zM248.4 1678.7h3.0v3.0h-3.0zM256.8 1678.7h3.0v3.0h-3.0zM265.2 1678.7h3.0v3.0h-3.0zM273.6 1678.7h3.0v3.0h-3.0zM282.0 1678.7h3.0v3.0h-3.0zM290.4 1678.7h3.0v3.0h-3.0zM298.8 1678.7h3.0v3.0h-3.0zM307.2 1678.7h3.0v3.0h-3.0zM315.6 1678.7h3.0v3.0h-3.0zM324.0 1678.7h3.0v3.0h-3.0zM332.4 1678.7h3.0v3.0h-3.0zM340.8 1678.7h3.0v3.0h-3.0zM349.2 1678.7h3.0v3.0h-3.0zM357.6 1678.7h3.0v3.0h-3.0zM366.0 1678.7h3.0v3.0h-3.0zM374.4 1678.7h3.0v3.0h-3.0zM382.8 1678.7h3.0v3.0h-3.0zM391.2 1678.7h3.0v3.0h-3.0zM399.6 1678.7h3.0v3.0h-3.0zM408.0 1678.7h3.0v3.0h-3.0zM416.4 1678.7h3.0v3.0h-3.0zM424.8 1678.7h3.0v3.0h-3.0zM433.2 1678.7h3.0v3.0h-3.0zM441.6 1678.7h3.0v3.0h-3.0zM450.0 1678.7h3.0v3.0h-3.0zM458.4 1678.7h3.0v3.0h-3.0zM466.8 1678.7h3.0v3.0h-3.0zM475.2 1678.7h3.0v3.0h-3.0zM483.6 1678.7h3.0v3.0h-3.0zM492.0 1678.7h3.0v3.0h-3.0zM500.4 1678.7h3.0v3.0h-3.0zM508.8 1678.7h3.0v3.0h-3.0zM517.2 1678.7h3.0v3.0h-3.0zM525.6 1678.7h3.0v3.0h-3.0zM534.0 1678.7h3.0v3.0h-3.0zM542.4 1678.7h3.0v3.0h-3.0zM550.8 1678.7h3.0v3.0h-3.0zM559.2 1678.7h3.0v3.0h-3.0zM567.6 1678.7h3.0v3.0h-3.0zM576.0 1678.7h3.0v3.0h-3.0zM584.4 1678.7h3.0v3.0h-3.0zM592.8 1678.7h3.0v3.0h-3.0zM601.2 1678.7h3.0v3.0h-3.0zM609.6 1678.7h3.0v3.0h-3.0zM618.0 1678.7h3.0v3.0h-3.0zM626.4 1678.7h3.0v3.0h-3.0zM634.8 1678.7h3.0v3.0h-3.0zM643.2 1678.7h3.0v3.0h-3.0zM651.6 1678.7h3.0v3.0h-3.0zM660.0 1678.7h3.0v3.0h-3.0zM668.4 1678.7h3.0v3.0h-3.0zM676.8 1678.7h3.0v3.0h-3.0zM685.2 1678.7h3.0v3.0h-3.0zM693.6 1678.7h3.0v3.0h-3.0z" fill="#000"/>
<path d="M156.0 1565.9h3.0v3.0h-3.0zM156.0 1574.3h3.0v3.0h-3.0zM156.0 1582.7h3.0v3.0h-3.0zM156.0 1591.1h3.0v3.0h-3.0zM156.0 1599.5h3.0v3.0h-3.0zM156.0 1607.9h3.0v3.0h-3.0zM156.0 1616.3h3.0v3.0h-3.0zM156.0 1624.7h3.0v3.0h-3.0zM156.0 1633.1h3.0v3.0h-3.0zM156.0 1641.5h3.0v3.0h-3.0zM156.0 1649.9h3.0v3.0h-3.0zM156.0 1658.3h3.0v3.0h-3.0zM156.0 1666.7h3.0v3.0h-3.0zM156.0 1675.1h3.0v3.0h-3.0zM156.0 1683.5h3.0v3.0h-3.0zM156.0 1691.9h3.0v3.0h-3.0zM156.0 1700.3h3.0v3.0h-3.0zM156.0 1708.7h3.0v3.0h-3.0zM156.0 1717.1h3.0v3.0h-3.0zM156.0 1725.5h3.0v3.0h-3.0zM156.0 1733.9h3.0v3.0h-3.0zM156.0 1742.3h3.0v3.0h-3.0zM156.0 1750.7h3.0v3.0h-3.0zM156.0 1759.1h3.0v3.0h-3.0zM156.0 1767.5h3.0v3.0h-3.0zM156.0 1775.9h3.0v3.0h-3.0z" fill="#000"/>
<path d="M54.9 1665.7C55.9 1665.7 58.6 1665.0 60.8 1665.7C63.0 1666.4 66.1 1668.1 68.1 1670.1C70.0 1672.0 71.0 1673.7 72.5 1677.4C74.0 1681.1 75.5 1689.2 77.0 1692.1C78.5 1695.0 79.7 1695.2 81.4 1695.0C83.1 1694.8 85.0 1692.5 87.2 1690.6C89.4 1688.6 92.1 1686.7 94.6 1683.3C97.0 1679.9 99.7 1671.6 101.9 1670.1C104.1 1668.6 105.8 1672.3 107.8 1674.5C109.8 1676.7 111.9 1681.8 113.6 1683.3C115.3 1684.8 116.3 1685.3 118.0 1683.3C119.7 1681.3 121.9 1675.2 123.9 1671.5C125.9 1667.8 127.6 1662.8 129.8 1661.3C132.0 1659.8 135.2 1661.0 137.1 1662.7C139.0 1664.4 139.8 1668.6 141.5 1671.5C143.2 1674.4 145.4 1680.3 147.4 1680.3C149.4 1680.3 151.4 1675.4 153.3 1671.5C155.2 1667.6 157.2 1660.1 159.1 1656.9C161.0 1653.7 163.0 1651.5 165.0 1652.5C167.0 1653.5 169.0 1661.0 170.9 1662.7C172.8 1664.4 174.5 1664.7 176.7 1662.7C178.9 1660.8 181.6 1654.4 184.1 1651.0C186.6 1647.6 188.9 1642.9 191.4 1642.2C193.9 1641.5 196.6 1644.4 198.8 1646.6C201.0 1648.8 202.7 1654.7 204.6 1655.4C206.5 1656.1 208.8 1654.2 210.5 1651.0C212.2 1647.8 213.2 1634.8 214.9 1636.3C216.6 1637.8 218.9 1651.2 220.8 1659.8C222.8 1668.4 224.7 1681.3 226.6 1687.7C228.5 1694.1 230.5 1698.5 232.5 1698.0C234.5 1697.5 236.4 1692.6 238.4 1684.8C240.4 1677.0 242.4 1662.0 244.3 1651.0C246.2 1640.0 248.4 1625.5 250.1 1618.7C251.8 1611.9 252.5 1608.9 254.5 1609.9C256.5 1610.9 259.7 1623.1 261.9 1624.6C264.1 1626.1 265.9 1621.2 267.7 1618.7C269.4 1616.2 270.9 1609.6 272.4 1609.6C273.9 1609.5 275.3 1613.3 276.8 1618.4C278.3 1623.5 279.7 1633.8 281.2 1640.4C282.7 1647.0 283.9 1654.7 285.6 1658.1C287.3 1661.5 289.8 1659.0 291.5 1661.0C293.2 1663.0 294.4 1666.1 295.9 1669.8C297.4 1673.5 298.6 1679.6 300.3 1683.0C302.0 1686.4 304.2 1689.1 306.2 1690.3C308.1 1691.5 310.1 1688.3 312.0 1690.3C313.9 1692.3 315.9 1697.7 317.9 1702.1C319.9 1706.5 322.1 1712.4 323.8 1716.8C325.5 1721.2 326.5 1722.9 328.2 1728.5C329.9 1734.1 332.1 1748.5 334.0 1750.5C335.9 1752.5 337.9 1744.9 339.9 1740.2C341.9 1735.5 343.8 1728.9 345.8 1722.6C347.8 1716.2 349.8 1709.9 351.7 1702.1C353.6 1694.3 355.8 1681.8 357.5 1675.7C359.2 1669.6 360.2 1665.7 361.9 1665.4C363.6 1665.2 365.8 1672.0 367.8 1674.2C369.8 1676.4 371.8 1678.8 373.7 1678.6C375.6 1678.3 377.8 1671.7 379.5 1672.7C381.2 1673.7 382.3 1682.0 384.0 1684.5C385.7 1687.0 387.9 1686.4 389.8 1687.4C391.8 1688.4 394.0 1686.9 395.7 1690.3C397.4 1693.7 398.4 1704.6 400.1 1708.0C401.8 1711.4 403.7 1709.4 405.9 1710.9C408.1 1712.4 411.1 1716.3 413.3 1716.8C415.5 1717.3 417.2 1713.6 419.2 1713.8C421.1 1714.0 423.3 1720.2 425.0 1718.2C426.7 1716.2 427.7 1709.7 429.4 1702.1C431.1 1694.5 433.3 1680.5 435.3 1672.7C437.3 1664.9 439.2 1659.7 441.2 1655.1C443.2 1650.5 445.2 1643.4 447.1 1644.9C449.1 1646.4 450.9 1659.0 452.9 1663.9C454.8 1668.8 456.8 1672.7 458.8 1674.2C460.8 1675.7 462.8 1672.5 464.7 1672.7C466.6 1673.0 468.3 1676.4 470.5 1675.7C472.7 1675.0 475.6 1667.5 477.9 1668.3C480.1 1669.0 482.0 1677.5 484.0 1680.2C486.0 1682.9 487.9 1682.1 489.9 1684.6C491.8 1687.0 494.0 1691.2 495.7 1694.9C497.4 1698.6 498.4 1706.4 500.1 1706.6C501.8 1706.8 504.3 1698.2 506.0 1696.3C507.7 1694.3 508.7 1693.2 510.4 1694.9C512.1 1696.6 514.3 1706.4 516.3 1706.6C518.3 1706.8 520.2 1700.0 522.2 1696.3C524.2 1692.6 526.0 1687.0 528.0 1684.6C530.0 1682.1 531.9 1684.3 533.9 1681.6C535.9 1678.9 537.6 1672.3 539.8 1668.4C542.0 1664.5 544.7 1659.4 547.1 1658.2C549.5 1657.0 551.7 1661.7 554.4 1661.1C557.1 1660.5 560.8 1653.3 563.3 1654.5C565.8 1655.7 567.4 1664.9 569.1 1668.4C570.8 1672.0 571.8 1676.5 573.5 1675.8C575.2 1675.1 577.2 1666.7 579.4 1664.0C581.6 1661.3 584.5 1659.1 586.7 1659.6C588.9 1660.1 590.9 1664.1 592.6 1667.0C594.3 1669.9 595.3 1674.3 597.0 1677.2C598.7 1680.1 600.9 1684.8 602.9 1684.6C604.9 1684.4 606.8 1678.2 608.7 1675.8C610.7 1673.3 612.6 1669.9 614.6 1669.9C616.6 1669.9 618.5 1673.6 620.5 1675.8C622.5 1678.0 624.2 1683.1 626.4 1683.1C628.6 1683.1 631.5 1676.0 633.7 1675.8C635.9 1675.5 637.7 1681.6 639.6 1681.6C641.5 1681.6 643.7 1675.1 645.4 1675.8C647.1 1676.5 648.3 1683.1 649.8 1686.0C651.3 1688.9 652.6 1694.6 654.3 1693.4C656.0 1692.2 657.9 1682.1 660.1 1678.7C662.3 1675.3 665.3 1673.0 667.5 1672.8C669.7 1672.5 671.3 1674.8 673.3 1677.2C675.2 1679.7 677.2 1687.7 679.2 1687.5C681.2 1687.3 683.1 1680.9 685.1 1675.8C687.1 1670.7 689.3 1659.6 691.0 1656.7C692.7 1653.8 694.6 1658.0 695.3 1658.2" fill="none" stroke="#7f0000" stroke-width="3.6" stroke-linejoin="round" stroke-linecap="round"/>
<path d="M54.9 1681.8C55.9 1681.1 58.6 1677.4 60.8 1677.4C63.0 1677.4 65.9 1680.1 68.1 1681.8C70.3 1683.5 72.0 1685.2 74.0 1687.7C76.0 1690.2 77.9 1695.5 79.9 1696.5C81.9 1697.5 83.6 1695.1 85.8 1693.6C88.0 1692.1 90.7 1689.9 93.1 1687.7C95.5 1685.5 98.0 1681.8 100.4 1680.3C102.9 1678.8 105.3 1678.2 107.8 1678.9C110.2 1679.6 112.9 1685.0 115.1 1684.7C117.3 1684.5 119.0 1680.6 121.0 1677.4C123.0 1674.2 124.8 1666.4 126.8 1665.7C128.8 1665.0 130.7 1670.8 132.7 1673.0C134.7 1675.2 136.4 1678.0 138.6 1679.0C140.8 1680.0 143.7 1681.2 145.9 1679.0C148.1 1676.8 150.1 1669.4 151.8 1665.7C153.5 1662.0 154.5 1657.4 156.2 1656.9C157.9 1656.4 160.1 1660.3 162.1 1662.7C164.1 1665.1 166.1 1673.0 168.0 1671.5C169.9 1670.0 171.9 1659.6 173.8 1654.0C175.8 1648.4 177.7 1639.8 179.7 1637.8C181.7 1635.8 183.6 1640.0 185.6 1642.2C187.6 1644.4 189.4 1648.1 191.4 1651.0C193.4 1653.9 195.3 1658.3 197.3 1659.8C199.3 1661.3 201.2 1661.0 203.2 1659.8C205.1 1658.6 207.1 1655.4 209.0 1652.5C210.9 1649.6 212.9 1638.0 214.9 1642.2C216.9 1646.4 218.9 1665.4 220.8 1677.4C222.8 1689.4 224.7 1705.0 226.6 1714.1C228.5 1723.1 230.5 1731.0 232.5 1731.7C234.5 1732.4 236.4 1726.3 238.4 1718.5C240.4 1710.7 242.4 1695.2 244.3 1684.7C246.2 1674.2 248.4 1662.2 250.1 1655.4C251.8 1648.6 252.5 1644.9 254.5 1643.7C256.5 1642.5 259.7 1650.5 261.9 1648.1C264.1 1645.6 265.9 1633.7 267.7 1629.0C269.4 1624.3 270.9 1619.5 272.4 1619.9C273.9 1620.3 275.3 1626.2 276.8 1631.6C278.3 1637.0 279.5 1646.8 281.2 1652.2C282.9 1657.6 285.1 1660.5 287.1 1663.9C289.1 1667.3 291.1 1670.7 293.0 1672.7C294.9 1674.7 296.9 1672.3 298.8 1675.7C300.8 1679.1 302.7 1688.7 304.7 1693.3C306.7 1697.9 308.7 1702.1 310.6 1703.6C312.6 1705.1 314.4 1698.7 316.4 1702.1C318.3 1705.5 320.3 1716.8 322.3 1724.1C324.3 1731.4 326.2 1740.2 328.2 1746.1C330.1 1752.0 332.1 1760.5 334.0 1759.3C335.9 1758.1 337.9 1744.4 339.9 1738.8C341.9 1733.2 343.6 1729.0 345.8 1725.6C348.0 1722.2 350.9 1721.4 353.1 1718.2C355.3 1715.0 357.0 1709.4 359.0 1706.5C361.0 1703.6 362.4 1702.1 364.9 1700.6C367.3 1699.1 370.8 1697.9 373.7 1697.7C376.6 1697.5 380.1 1700.4 382.5 1699.2C384.9 1698.0 386.1 1691.5 388.3 1690.3C390.5 1689.1 393.5 1694.2 395.7 1691.8C397.9 1689.4 399.9 1680.3 401.6 1675.7C403.3 1671.1 404.5 1667.3 406.0 1663.9C407.5 1660.5 408.9 1655.1 410.4 1655.1C411.9 1655.1 413.3 1661.7 414.8 1663.9C416.3 1666.1 417.7 1668.8 419.2 1668.3C420.7 1667.8 422.1 1663.7 423.6 1661.0C425.1 1658.3 426.1 1654.2 428.0 1652.2C429.9 1650.2 433.1 1650.5 435.3 1649.3C437.5 1648.1 439.2 1646.1 441.2 1644.9C443.2 1643.7 445.2 1640.7 447.1 1641.9C449.1 1643.1 450.9 1648.0 452.9 1652.2C454.8 1656.4 456.8 1661.3 458.8 1666.9C460.8 1672.5 462.8 1681.8 464.7 1685.9C466.6 1690.1 468.6 1692.3 470.5 1691.8C472.4 1691.3 474.4 1684.2 476.4 1683.0C478.4 1681.8 480.1 1683.5 482.3 1684.5C484.6 1685.5 487.4 1689.0 489.9 1689.0C492.4 1689.0 494.8 1685.3 497.2 1684.6C499.6 1683.9 502.1 1685.6 504.5 1684.6C506.9 1683.6 509.4 1679.2 511.9 1678.7C514.4 1678.2 516.8 1681.3 519.2 1681.6C521.7 1681.8 524.4 1680.7 526.6 1680.2C528.8 1679.7 530.2 1678.5 532.4 1678.7C534.6 1678.9 537.6 1680.9 539.8 1681.6C542.0 1682.3 543.6 1684.8 545.6 1683.1C547.6 1681.4 549.5 1673.9 551.5 1671.4C553.5 1669.0 555.4 1668.7 557.4 1668.4C559.4 1668.2 561.3 1668.9 563.3 1669.9C565.2 1670.9 567.1 1673.1 569.1 1674.3C571.1 1675.5 573.0 1675.5 575.0 1677.2C577.0 1678.9 579.2 1682.9 580.9 1684.6C582.6 1686.3 583.6 1688.0 585.3 1687.5C587.0 1687.0 588.9 1681.1 591.1 1681.6C593.3 1682.1 596.3 1689.7 598.5 1690.4C600.7 1691.1 602.3 1688.0 604.3 1686.0C606.2 1684.0 608.0 1679.9 610.2 1678.7C612.4 1677.5 615.2 1679.0 617.6 1678.7C620.0 1678.5 622.2 1677.5 624.9 1677.2C627.6 1677.0 631.2 1676.2 633.7 1677.2C636.2 1678.2 637.7 1679.2 639.6 1683.1C641.5 1687.0 643.5 1699.5 645.4 1700.7C647.3 1701.9 649.1 1692.6 651.3 1690.4C653.5 1688.2 656.4 1688.5 658.6 1687.5C660.8 1686.5 662.5 1685.1 664.5 1684.6C666.5 1684.1 668.4 1685.1 670.4 1684.6C672.4 1684.1 674.3 1684.0 676.3 1681.6C678.2 1679.1 679.9 1672.3 682.1 1669.9C684.3 1667.5 687.3 1666.8 689.5 1667.0C691.7 1667.2 694.3 1670.7 695.3 1671.4" fill="none" stroke="#ff5555" stroke-width="3.6" stroke-linejoin="round" stroke-linecap="round"/>
<path d="M54.9 1692.1C56.1 1691.8 60.3 1690.1 62.3 1690.6C64.3 1691.1 65.0 1693.0 66.7 1695.0C68.4 1697.0 70.5 1702.2 72.5 1702.4C74.5 1702.7 76.4 1698.7 78.4 1696.5C80.4 1694.3 82.3 1689.5 84.3 1689.2C86.3 1689.0 88.0 1694.3 90.2 1695.0C92.4 1695.7 95.3 1693.8 97.5 1693.6C99.7 1693.4 101.7 1696.8 103.4 1693.6C105.1 1690.4 106.1 1678.9 107.8 1674.5C109.5 1670.1 110.9 1668.3 113.6 1667.1C116.3 1665.9 121.0 1665.6 123.9 1667.1C126.9 1668.6 128.6 1677.7 131.3 1676.0C134.0 1674.3 137.7 1658.6 140.1 1656.9C142.5 1655.2 143.7 1663.8 145.9 1665.7C148.1 1667.7 150.9 1666.4 153.3 1668.6C155.8 1670.8 158.2 1678.9 160.6 1678.9C163.0 1678.9 165.6 1670.6 168.0 1668.6C170.4 1666.6 173.1 1667.6 175.3 1667.1C177.5 1666.6 179.2 1667.4 181.2 1665.7C183.1 1664.0 185.1 1656.2 187.0 1656.9C188.9 1657.6 190.9 1664.2 192.9 1670.1C194.9 1676.0 196.9 1691.4 198.8 1692.1C200.8 1692.8 202.7 1681.3 204.6 1674.5C206.5 1667.7 208.8 1657.4 210.5 1651.0C212.2 1644.6 213.2 1634.3 214.9 1636.3C216.6 1638.2 218.6 1652.9 220.8 1662.7C223.0 1672.5 225.9 1687.9 228.1 1695.0C230.3 1702.1 232.0 1706.3 234.0 1705.3C236.0 1704.3 238.0 1698.2 239.9 1689.2C241.8 1680.2 243.5 1664.5 245.7 1651.0C247.9 1637.5 250.7 1615.2 253.1 1608.4C255.5 1601.6 258.2 1610.4 260.4 1609.9C262.6 1609.4 264.3 1606.3 266.3 1605.5C268.3 1604.7 270.6 1603.8 272.4 1605.2C274.1 1606.6 275.3 1608.1 276.8 1614.0C278.3 1619.9 279.7 1630.6 281.2 1640.4C282.7 1650.2 283.9 1665.9 285.6 1672.7C287.3 1679.5 289.5 1680.5 291.5 1681.5C293.5 1682.5 295.4 1677.9 297.4 1678.6C299.3 1679.3 301.2 1684.0 303.2 1685.9C305.1 1687.9 307.1 1688.1 309.1 1690.3C311.1 1692.5 312.8 1696.2 315.0 1699.2C317.2 1702.2 319.9 1707.3 322.3 1708.0C324.7 1708.7 327.4 1705.1 329.6 1703.6C331.8 1702.1 333.5 1702.9 335.5 1699.2C337.5 1695.5 339.7 1687.1 341.4 1681.5C343.1 1675.9 344.1 1668.6 345.8 1665.4C347.5 1662.2 349.8 1664.0 351.7 1662.5C353.6 1661.0 355.6 1659.0 357.5 1656.6C359.4 1654.1 361.7 1648.8 363.4 1647.8C365.1 1646.8 366.3 1648.5 367.8 1650.7C369.3 1652.9 370.7 1655.9 372.2 1661.0C373.7 1666.1 375.1 1675.1 376.6 1681.5C378.1 1687.9 379.3 1694.8 381.0 1699.2C382.7 1703.6 384.9 1710.2 386.9 1708.0C388.8 1705.8 391.0 1690.3 392.7 1685.9C394.4 1681.5 395.2 1682.5 397.2 1681.5C399.2 1680.5 402.3 1678.9 404.5 1680.1C406.7 1681.3 408.4 1685.7 410.4 1688.9C412.3 1692.1 414.5 1699.5 416.2 1699.2C417.9 1699.0 418.9 1693.3 420.6 1687.4C422.3 1681.5 424.5 1668.3 426.5 1663.9C428.5 1659.5 430.7 1662.0 432.4 1661.0C434.1 1660.0 435.1 1659.3 436.8 1658.1C438.5 1656.9 440.8 1653.0 442.7 1653.7C444.6 1654.4 446.6 1658.3 448.5 1662.5C450.4 1666.7 452.7 1676.6 454.4 1678.6C456.1 1680.5 456.9 1673.7 458.8 1674.2C460.8 1674.7 463.7 1679.3 466.1 1681.5C468.6 1683.7 471.1 1684.7 473.5 1687.4C475.9 1690.1 479.1 1696.5 480.8 1697.7C482.6 1699.0 482.5 1697.1 484.0 1694.9C485.5 1692.7 487.9 1686.3 489.9 1684.6C491.8 1682.9 494.0 1686.1 495.7 1684.6C497.4 1683.1 498.4 1678.7 500.1 1675.8C501.8 1672.9 504.3 1667.0 506.0 1667.0C507.7 1667.0 508.9 1672.9 510.4 1675.8C511.9 1678.7 513.1 1683.6 514.8 1684.6C516.5 1685.6 518.7 1680.6 520.7 1681.6C522.7 1682.6 524.4 1690.4 526.6 1690.4C528.8 1690.4 532.0 1682.1 533.9 1681.6C535.8 1681.1 536.8 1684.8 538.3 1687.5C539.8 1690.2 541.0 1697.8 542.7 1697.8C544.4 1697.8 546.4 1690.7 548.6 1687.5C550.8 1684.3 553.7 1681.9 555.9 1678.7C558.1 1675.5 559.8 1669.1 561.8 1668.4C563.8 1667.7 566.0 1672.3 567.7 1674.3C569.4 1676.3 570.4 1679.7 572.1 1680.2C573.8 1680.7 575.7 1678.7 577.9 1677.2C580.1 1675.7 582.8 1671.9 585.3 1671.4C587.8 1670.9 590.4 1673.3 592.6 1674.3C594.8 1675.3 596.5 1675.5 598.5 1677.2C600.5 1678.9 602.3 1682.9 604.3 1684.6C606.2 1686.3 608.2 1688.7 610.2 1687.5C612.2 1686.3 614.1 1678.2 616.1 1677.2C618.1 1676.2 620.0 1679.6 622.0 1681.6C624.0 1683.6 625.4 1686.5 627.8 1689.0C630.2 1691.5 633.9 1696.3 636.6 1696.3C639.3 1696.3 641.5 1689.7 644.0 1689.0C646.5 1688.3 648.6 1693.1 651.3 1691.9C654.0 1690.7 657.4 1684.3 660.1 1681.6C662.8 1678.9 665.3 1675.8 667.5 1675.8C669.7 1675.8 671.3 1678.9 673.3 1681.6C675.2 1684.3 677.5 1692.4 679.2 1691.9C680.9 1691.4 682.1 1682.6 683.6 1678.7C685.1 1674.8 686.0 1668.9 688.0 1668.4C690.0 1667.9 694.1 1674.6 695.3 1675.8" fill="none" stroke="#00007f" stroke-width="3.6" stroke-linejoin="round" stroke-linecap="round"/>
<path d="M54.9 1686.2C55.6 1685.5 57.6 1682.3 59.3 1681.8C61.0 1681.3 63.0 1680.6 65.2 1683.3C67.4 1686.0 70.5 1696.0 72.5 1698.0C74.5 1700.0 75.3 1698.0 77.0 1695.0C78.7 1692.0 80.8 1683.0 82.8 1680.3C84.8 1677.6 86.5 1680.1 88.7 1678.9C90.9 1677.7 93.5 1674.5 96.0 1673.0C98.5 1671.5 101.2 1670.6 103.4 1670.1C105.6 1669.6 107.2 1668.9 109.2 1670.1C111.2 1671.3 113.1 1674.5 115.1 1677.4C117.1 1680.3 118.8 1686.2 121.0 1687.7C123.2 1689.2 125.9 1686.5 128.3 1686.2C130.8 1686.0 133.2 1689.4 135.7 1686.2C138.1 1683.0 140.3 1669.5 143.0 1667.1C145.7 1664.6 149.4 1671.7 151.8 1671.5C154.2 1671.3 155.0 1666.7 157.7 1665.7C160.4 1664.7 165.1 1665.2 168.0 1665.7C170.9 1666.2 172.6 1667.9 175.3 1668.6C178.0 1669.3 181.2 1669.6 184.1 1670.1C187.0 1670.6 190.4 1672.7 192.9 1671.5C195.4 1670.3 196.6 1665.6 198.8 1662.7C201.0 1659.8 203.9 1657.8 206.1 1653.9C208.3 1650.0 210.3 1644.0 212.0 1639.3C213.7 1634.6 214.9 1625.0 216.4 1626.0C217.9 1627.0 219.1 1635.8 220.8 1645.1C222.5 1654.4 224.7 1672.2 226.6 1681.8C228.5 1691.3 230.5 1701.4 232.5 1702.4C234.5 1703.4 236.4 1696.8 238.4 1687.7C240.4 1678.7 241.9 1662.8 244.3 1648.1C246.8 1633.4 250.2 1609.6 253.1 1599.6C256.0 1589.6 259.5 1588.9 261.9 1587.9C264.3 1586.9 265.9 1592.4 267.7 1593.8C269.4 1595.2 270.9 1596.0 272.4 1596.4C273.9 1596.8 275.1 1594.4 276.8 1596.4C278.5 1598.4 280.8 1602.8 282.7 1608.2C284.6 1613.6 286.6 1621.1 288.5 1628.7C290.4 1636.3 292.7 1647.8 294.4 1653.7C296.1 1659.6 297.3 1661.2 298.8 1663.9C300.3 1666.6 301.5 1670.0 303.2 1669.8C304.9 1669.6 307.1 1664.7 309.1 1662.5C311.1 1660.3 313.1 1656.4 315.0 1656.6C316.9 1656.8 318.6 1661.2 320.8 1663.9C323.0 1666.6 326.0 1672.5 328.2 1672.7C330.4 1673.0 331.8 1668.1 334.0 1665.4C336.2 1662.7 339.2 1659.8 341.4 1656.6C343.6 1653.4 345.1 1650.5 347.3 1646.3C349.5 1642.1 352.2 1632.8 354.6 1631.6C357.0 1630.4 359.2 1636.5 361.9 1639.0C364.6 1641.5 368.2 1644.8 370.7 1646.3C373.1 1647.8 374.6 1646.1 376.6 1647.8C378.6 1649.5 380.3 1653.4 382.5 1656.6C384.7 1659.8 387.4 1663.7 389.8 1666.9C392.2 1670.1 395.0 1675.2 397.2 1675.7C399.4 1676.2 400.8 1671.5 403.0 1669.8C405.2 1668.1 407.9 1667.4 410.4 1665.4C412.8 1663.5 415.3 1659.8 417.7 1658.1C420.1 1656.4 422.3 1656.1 425.0 1655.1C427.7 1654.1 431.1 1652.0 433.8 1652.2C436.5 1652.5 439.0 1655.1 441.2 1656.6C443.4 1658.1 445.2 1658.8 447.1 1661.0C449.1 1663.2 450.9 1668.1 452.9 1669.8C454.8 1671.5 456.8 1668.6 458.8 1671.3C460.8 1674.0 462.8 1681.8 464.7 1685.9C466.6 1690.1 468.6 1696.7 470.5 1696.2C472.4 1695.7 474.4 1686.9 476.4 1683.0C478.4 1679.1 480.1 1673.9 482.3 1672.7C484.6 1671.5 487.7 1674.5 489.9 1675.8C492.1 1677.0 493.5 1679.5 495.7 1680.2C497.9 1680.9 500.7 1678.7 503.1 1680.2C505.6 1681.7 508.2 1685.8 510.4 1689.0C512.6 1692.2 514.3 1698.3 516.3 1699.3C518.3 1700.3 520.2 1695.9 522.2 1694.9C524.2 1693.9 526.0 1694.6 528.0 1693.4C530.0 1692.2 531.9 1688.7 533.9 1687.5C535.9 1686.3 537.6 1684.8 539.8 1686.0C542.0 1687.2 544.9 1694.4 547.1 1694.9C549.3 1695.4 551.0 1692.4 553.0 1689.0C555.0 1685.6 556.6 1677.0 558.8 1674.3C561.0 1671.6 563.8 1673.5 566.2 1672.8C568.7 1672.1 571.0 1670.4 573.5 1669.9C576.0 1669.4 578.4 1668.9 580.9 1669.9C583.4 1670.9 585.8 1673.8 588.2 1675.8C590.6 1677.8 593.3 1681.6 595.5 1681.6C597.7 1681.6 599.4 1676.8 601.4 1675.8C603.4 1674.8 605.3 1674.6 607.3 1675.8C609.3 1677.0 611.0 1681.4 613.2 1683.1C615.4 1684.8 618.1 1685.3 620.5 1686.0C622.9 1686.7 625.3 1686.5 627.8 1687.5C630.2 1688.5 632.8 1693.4 635.2 1691.9C637.7 1690.4 640.1 1681.2 642.5 1678.7C644.9 1676.2 647.1 1677.7 649.8 1677.2C652.5 1676.7 656.1 1674.8 658.6 1675.8C661.1 1676.8 662.5 1680.4 664.5 1683.1C666.5 1685.8 668.4 1691.9 670.4 1691.9C672.4 1691.9 674.1 1686.3 676.3 1683.1C678.5 1679.9 681.4 1674.3 683.6 1672.8C685.8 1671.3 687.5 1673.1 689.5 1674.3C691.5 1675.5 694.3 1679.2 695.3 1680.2" fill="none" stroke="#9fc5e8" stroke-width="3.6" stroke-linejoin="round" stroke-linecap="round"/>
<path d="M54.7 1567.4V1790.1H698.0" fill="none" stroke="#000" stroke-width="2.8"/>
<path d="M32.3 1567.4H54.7" stroke="#000" stroke-width="2.8"/>
<text transform="translate(6.30 1578.90) scale(0.1841 0.3294)" font-size="100" fill="#000">15</text>
<path d="M32.3 1679.7H54.7" stroke="#000" stroke-width="2.8"/>
<text transform="translate(18.42 1691.20) scale(0.2008 0.3294)" font-size="100" fill="#000">0</text>
<path d="M32.3 1790.1H54.7" stroke="#000" stroke-width="2.8"/>
<text transform="translate(-0.85 1801.60) scale(0.1913 0.3294)" font-size="100" fill="#000">-15</text>
<path d="M54.5 1790.1V1809.3" stroke="#000" stroke-width="2.8"/>
<text transform="translate(36.46 1833.80) scale(0.2125 0.2879)" font-size="100" fill="#000">-0.2</text>
<path d="M157.4 1790.1V1809.3" stroke="#000" stroke-width="2.8"/>
<text transform="translate(151.37 1833.80) scale(0.2134 0.2879)" font-size="100" fill="#000">0</text>
<path d="M266.9 1790.1V1809.3" stroke="#000" stroke-width="2.8"/>
<text transform="translate(252.07 1833.80) scale(0.2129 0.2879)" font-size="100" fill="#000">0.2</text>
<path d="M376.0 1790.1V1809.3" stroke="#000" stroke-width="2.8"/>
<text transform="translate(359.93 1833.80) scale(0.2217 0.2879)" font-size="100" fill="#000">0.4</text>
<path d="M485.5 1790.1V1809.3" stroke="#000" stroke-width="2.8"/>
<text transform="translate(469.76 1833.80) scale(0.2157 0.2879)" font-size="100" fill="#000">0.6</text>
<path d="M587.7 1790.1V1809.3" stroke="#000" stroke-width="2.8"/>
<text transform="translate(572.33 1833.80) scale(0.2218 0.2879)" font-size="100" fill="#000">0.8</text>
<path d="M698.0 1790.1V1809.3" stroke="#000" stroke-width="2.8"/>
<text transform="translate(681.10 1833.80) scale(0.2235 0.2879)" font-size="100" fill="#000">1.0</text>
<text transform="translate(350.59 1868.00) scale(0.2055 0.2760)" font-size="100" fill="#000">time (s)</text>
<path d="M839.2 1678.5h3.0v3.0h-3.0zM847.6 1678.5h3.0v3.0h-3.0zM856.0 1678.5h3.0v3.0h-3.0zM864.4 1678.5h3.0v3.0h-3.0zM872.8 1678.5h3.0v3.0h-3.0zM881.2 1678.5h3.0v3.0h-3.0zM889.6 1678.5h3.0v3.0h-3.0zM898.0 1678.5h3.0v3.0h-3.0zM906.4 1678.5h3.0v3.0h-3.0zM914.8 1678.5h3.0v3.0h-3.0zM923.2 1678.5h3.0v3.0h-3.0zM931.6 1678.5h3.0v3.0h-3.0zM940.0 1678.5h3.0v3.0h-3.0zM948.4 1678.5h3.0v3.0h-3.0zM956.8 1678.5h3.0v3.0h-3.0zM965.2 1678.5h3.0v3.0h-3.0zM973.6 1678.5h3.0v3.0h-3.0zM982.0 1678.5h3.0v3.0h-3.0zM990.4 1678.5h3.0v3.0h-3.0zM998.8 1678.5h3.0v3.0h-3.0zM1007.2 1678.5h3.0v3.0h-3.0zM1015.6 1678.5h3.0v3.0h-3.0zM1024.0 1678.5h3.0v3.0h-3.0zM1032.4 1678.5h3.0v3.0h-3.0zM1040.8 1678.5h3.0v3.0h-3.0zM1049.2 1678.5h3.0v3.0h-3.0zM1057.6 1678.5h3.0v3.0h-3.0zM1066.0 1678.5h3.0v3.0h-3.0zM1074.4 1678.5h3.0v3.0h-3.0zM1082.8 1678.5h3.0v3.0h-3.0zM1091.2 1678.5h3.0v3.0h-3.0zM1099.6 1678.5h3.0v3.0h-3.0zM1108.0 1678.5h3.0v3.0h-3.0zM1116.4 1678.5h3.0v3.0h-3.0zM1124.8 1678.5h3.0v3.0h-3.0zM1133.2 1678.5h3.0v3.0h-3.0zM1141.6 1678.5h3.0v3.0h-3.0zM1150.0 1678.5h3.0v3.0h-3.0zM1158.4 1678.5h3.0v3.0h-3.0zM1166.8 1678.5h3.0v3.0h-3.0zM1175.2 1678.5h3.0v3.0h-3.0zM1183.6 1678.5h3.0v3.0h-3.0zM1192.0 1678.5h3.0v3.0h-3.0zM1200.4 1678.5h3.0v3.0h-3.0zM1208.8 1678.5h3.0v3.0h-3.0zM1217.2 1678.5h3.0v3.0h-3.0zM1225.6 1678.5h3.0v3.0h-3.0zM1234.0 1678.5h3.0v3.0h-3.0zM1242.4 1678.5h3.0v3.0h-3.0zM1250.8 1678.5h3.0v3.0h-3.0zM1259.2 1678.5h3.0v3.0h-3.0zM1267.6 1678.5h3.0v3.0h-3.0zM1276.0 1678.5h3.0v3.0h-3.0zM1284.4 1678.5h3.0v3.0h-3.0zM1292.8 1678.5h3.0v3.0h-3.0zM1301.2 1678.5h3.0v3.0h-3.0zM1309.6 1678.5h3.0v3.0h-3.0zM1318.0 1678.5h3.0v3.0h-3.0zM1326.4 1678.5h3.0v3.0h-3.0zM1334.8 1678.5h3.0v3.0h-3.0zM1343.2 1678.5h3.0v3.0h-3.0zM1351.6 1678.5h3.0v3.0h-3.0zM1360.0 1678.5h3.0v3.0h-3.0zM1368.4 1678.5h3.0v3.0h-3.0zM1376.8 1678.5h3.0v3.0h-3.0zM1385.2 1678.5h3.0v3.0h-3.0zM1393.6 1678.5h3.0v3.0h-3.0zM1402.0 1678.5h3.0v3.0h-3.0zM1410.4 1678.5h3.0v3.0h-3.0zM1418.8 1678.5h3.0v3.0h-3.0zM1427.2 1678.5h3.0v3.0h-3.0zM1435.6 1678.5h3.0v3.0h-3.0zM1444.0 1678.5h3.0v3.0h-3.0zM1452.4 1678.5h3.0v3.0h-3.0zM1460.8 1678.5h3.0v3.0h-3.0zM1469.2 1678.5h3.0v3.0h-3.0z" fill="#000"/>
<path d="M941.6 1574.1h1.3v1.3h-1.3zM941.6 1578.3h1.3v1.3h-1.3zM941.6 1582.5h1.3v1.3h-1.3zM941.6 1586.8h1.3v1.3h-1.3zM941.6 1591.0h1.3v1.3h-1.3zM941.6 1595.2h1.3v1.3h-1.3zM941.6 1599.4h1.3v1.3h-1.3zM941.6 1603.6h1.3v1.3h-1.3zM941.6 1607.8h1.3v1.3h-1.3zM941.6 1612.0h1.3v1.3h-1.3zM941.6 1616.2h1.3v1.3h-1.3zM941.6 1620.4h1.3v1.3h-1.3zM941.6 1624.6h1.3v1.3h-1.3zM941.6 1628.8h1.3v1.3h-1.3zM941.6 1633.0h1.3v1.3h-1.3zM941.6 1637.2h1.3v1.3h-1.3zM941.6 1641.4h1.3v1.3h-1.3zM941.6 1645.6h1.3v1.3h-1.3zM941.6 1649.8h1.3v1.3h-1.3zM941.6 1654.0h1.3v1.3h-1.3zM941.6 1658.2h1.3v1.3h-1.3zM941.6 1662.4h1.3v1.3h-1.3zM941.6 1666.6h1.3v1.3h-1.3zM941.6 1670.8h1.3v1.3h-1.3zM941.6 1675.0h1.3v1.3h-1.3zM941.6 1679.2h1.3v1.3h-1.3zM941.6 1683.4h1.3v1.3h-1.3zM941.6 1687.6h1.3v1.3h-1.3zM941.6 1691.8h1.3v1.3h-1.3zM941.6 1696.0h1.3v1.3h-1.3zM941.6 1700.2h1.3v1.3h-1.3zM941.6 1704.4h1.3v1.3h-1.3zM941.6 1708.6h1.3v1.3h-1.3zM941.6 1712.8h1.3v1.3h-1.3zM941.6 1717.0h1.3v1.3h-1.3zM941.6 1721.2h1.3v1.3h-1.3zM941.6 1725.4h1.3v1.3h-1.3zM941.6 1729.6h1.3v1.3h-1.3zM941.6 1733.8h1.3v1.3h-1.3zM941.6 1738.0h1.3v1.3h-1.3zM941.6 1742.2h1.3v1.3h-1.3zM941.6 1746.4h1.3v1.3h-1.3zM941.6 1750.6h1.3v1.3h-1.3zM941.6 1754.8h1.3v1.3h-1.3zM941.6 1759.0h1.3v1.3h-1.3zM941.6 1763.2h1.3v1.3h-1.3zM941.6 1767.4h1.3v1.3h-1.3zM941.6 1771.6h1.3v1.3h-1.3zM941.6 1775.8h1.3v1.3h-1.3zM941.6 1780.0h1.3v1.3h-1.3zM941.6 1784.2h1.3v1.3h-1.3z" fill="#000"/>
<path d="M838.9 1720.0C839.9 1718.8 843.1 1715.0 844.8 1712.6C846.5 1710.1 847.7 1708.0 849.2 1705.3C850.7 1702.6 851.9 1698.0 853.6 1696.5C855.3 1695.0 857.8 1695.0 859.5 1696.5C861.2 1698.0 862.2 1705.8 863.9 1705.3C865.6 1704.8 867.8 1695.5 869.8 1693.6C871.8 1691.6 873.6 1693.4 875.6 1693.6C877.6 1693.8 879.5 1694.3 881.5 1695.0C883.5 1695.7 885.4 1698.5 887.4 1698.0C889.4 1697.5 891.2 1694.5 893.2 1692.1C895.2 1689.6 896.9 1686.2 899.1 1683.3C901.3 1680.4 904.0 1677.0 906.4 1674.5C908.8 1672.0 911.6 1670.4 913.8 1668.6C916.0 1666.8 917.5 1664.2 919.7 1663.5C921.9 1662.8 924.3 1664.1 927.0 1664.2C929.7 1664.3 933.3 1664.0 935.8 1664.2C938.2 1664.5 939.8 1664.0 941.7 1665.7C943.7 1667.4 945.5 1674.0 947.5 1674.5C949.5 1675.0 951.4 1671.0 953.4 1668.6C955.4 1666.1 957.3 1662.0 959.3 1659.8C961.3 1657.6 963.2 1656.6 965.2 1655.4C967.2 1654.2 969.0 1653.2 971.0 1652.5C973.0 1651.8 974.9 1651.7 976.9 1651.0C978.9 1650.3 980.8 1649.3 982.8 1648.1C984.8 1646.9 986.6 1645.7 988.6 1643.7C990.6 1641.7 992.8 1638.5 994.5 1636.3C996.2 1634.1 997.2 1628.9 998.9 1630.4C1000.6 1631.9 1003.1 1638.5 1004.8 1645.1C1006.5 1651.7 1007.7 1662.8 1009.2 1670.1C1010.7 1677.4 1012.4 1684.8 1013.6 1689.2C1014.8 1693.6 1015.3 1697.0 1016.5 1696.5C1017.7 1696.0 1019.4 1691.3 1020.9 1686.2C1022.4 1681.1 1023.8 1670.8 1025.3 1665.7C1026.8 1660.6 1028.0 1654.9 1029.7 1655.4C1031.4 1655.9 1033.9 1665.7 1035.6 1668.6C1037.3 1671.5 1038.3 1674.3 1040.0 1673.0C1041.7 1671.7 1044.0 1664.7 1045.9 1660.8C1047.9 1656.9 1050.0 1653.2 1051.7 1649.5C1053.5 1645.8 1054.9 1642.7 1056.4 1638.7C1057.9 1634.7 1059.3 1625.5 1060.8 1625.5C1062.3 1625.5 1063.7 1631.6 1065.2 1638.7C1066.7 1645.8 1068.1 1658.3 1069.6 1668.1C1071.1 1677.9 1072.3 1689.3 1074.0 1697.4C1075.7 1705.5 1077.7 1710.9 1079.9 1716.5C1082.1 1722.1 1085.2 1730.5 1087.2 1731.2C1089.2 1731.9 1090.1 1723.8 1091.6 1720.9C1093.1 1718.0 1094.3 1714.3 1096.0 1713.6C1097.7 1712.9 1099.9 1715.5 1101.9 1716.5C1103.9 1717.5 1105.6 1719.4 1107.8 1719.4C1110.0 1719.4 1112.9 1717.7 1115.1 1716.5C1117.3 1715.3 1119.0 1713.3 1121.0 1712.1C1123.0 1710.9 1125.0 1711.7 1126.9 1709.2C1128.9 1706.8 1130.8 1702.1 1132.7 1697.4C1134.7 1692.8 1136.6 1685.2 1138.6 1681.3C1140.6 1677.4 1142.5 1676.8 1144.5 1673.9C1146.5 1671.0 1148.3 1666.9 1150.3 1663.7C1152.2 1660.5 1154.5 1655.2 1156.2 1654.9C1157.9 1654.7 1159.1 1659.0 1160.6 1662.2C1162.1 1665.4 1163.5 1670.2 1165.0 1673.9C1166.5 1677.6 1167.7 1683.2 1169.4 1684.2C1171.1 1685.2 1173.3 1679.5 1175.3 1679.8C1177.3 1680.0 1179.2 1683.2 1181.2 1685.7C1183.2 1688.2 1185.0 1693.5 1187.0 1694.5C1189.0 1695.5 1190.9 1693.0 1192.9 1691.5C1194.9 1690.0 1196.8 1687.2 1198.8 1685.7C1200.8 1684.2 1202.6 1684.2 1204.6 1682.7C1206.5 1681.2 1208.5 1679.3 1210.5 1676.9C1212.5 1674.5 1214.2 1669.1 1216.4 1668.1C1218.6 1667.1 1221.5 1669.3 1223.7 1671.0C1225.9 1672.7 1227.6 1676.3 1229.6 1678.3C1231.6 1680.2 1233.5 1682.0 1235.5 1682.7C1237.5 1683.4 1239.1 1683.4 1241.3 1682.7C1243.5 1682.0 1246.5 1678.8 1248.7 1678.3C1250.9 1677.8 1252.6 1679.1 1254.6 1679.8C1256.5 1680.5 1258.5 1683.2 1260.4 1682.7C1262.3 1682.2 1264.1 1677.0 1266.0 1677.0C1267.9 1677.0 1269.7 1680.8 1271.9 1682.8C1274.1 1684.8 1276.8 1687.2 1279.2 1688.7C1281.6 1690.2 1284.0 1690.6 1286.5 1691.6C1289.0 1692.6 1291.7 1695.1 1293.9 1694.6C1296.1 1694.1 1297.6 1689.4 1299.8 1688.7C1302.0 1688.0 1304.7 1688.7 1307.1 1690.2C1309.5 1691.7 1312.2 1698.2 1314.4 1697.5C1316.6 1696.8 1318.3 1689.5 1320.3 1685.8C1322.3 1682.1 1324.2 1677.2 1326.2 1675.5C1328.2 1673.8 1330.0 1674.3 1332.0 1675.5C1334.0 1676.7 1335.7 1680.8 1337.9 1682.8C1340.1 1684.8 1342.8 1686.7 1345.3 1687.2C1347.8 1687.7 1350.2 1685.1 1352.6 1685.8C1355.0 1686.5 1357.5 1689.4 1359.9 1691.6C1362.4 1693.8 1365.3 1699.0 1367.3 1699.0C1369.3 1699.0 1370.0 1693.8 1371.7 1691.6C1373.4 1689.4 1375.1 1686.5 1377.5 1685.8C1379.9 1685.1 1383.6 1687.2 1386.3 1687.2C1389.0 1687.2 1391.2 1686.5 1393.7 1685.8C1396.2 1685.1 1399.0 1681.8 1401.0 1682.8C1403.0 1683.8 1403.7 1690.6 1405.4 1691.6C1407.1 1692.6 1409.1 1688.7 1411.3 1688.7C1413.5 1688.7 1416.1 1690.1 1418.6 1691.6C1421.0 1693.1 1423.3 1696.0 1426.0 1697.5C1428.7 1699.0 1432.1 1700.7 1434.8 1700.4C1437.5 1700.2 1439.9 1697.2 1442.1 1696.0C1444.3 1694.8 1446.0 1692.8 1448.0 1693.1C1450.0 1693.3 1452.0 1698.5 1453.9 1697.5C1455.9 1696.5 1457.5 1688.9 1459.7 1687.2C1461.9 1685.5 1464.6 1686.5 1467.1 1687.2C1469.5 1687.9 1472.2 1691.3 1474.4 1691.6C1476.6 1691.8 1479.3 1689.2 1480.3 1688.7" fill="none" stroke="#7f0000" stroke-width="3.6" stroke-linejoin="round" stroke-linecap="round"/>
<path d="M838.9 1699.4C839.9 1698.7 842.8 1697.5 844.8 1695.0C846.8 1692.5 848.8 1688.1 850.7 1684.7C852.7 1681.3 854.5 1676.9 856.5 1674.5C858.5 1672.1 860.4 1669.8 862.4 1670.1C864.4 1670.3 866.3 1672.3 868.3 1676.0C870.3 1679.7 872.2 1687.2 874.2 1692.1C876.2 1697.0 878.0 1702.1 880.0 1705.3C882.0 1708.5 883.9 1711.5 885.9 1711.2C887.9 1711.0 890.1 1707.0 891.8 1703.8C893.5 1700.6 894.5 1695.5 896.2 1692.1C897.9 1688.7 899.8 1685.8 902.0 1683.3C904.2 1680.8 907.2 1679.9 909.4 1677.4C911.6 1675.0 913.3 1670.8 915.3 1668.6C917.2 1666.4 919.4 1663.2 921.1 1664.2C922.8 1665.2 924.0 1670.8 925.5 1674.5C927.0 1678.2 928.2 1685.2 929.9 1686.2C931.6 1687.2 933.8 1682.0 935.8 1680.3C937.8 1678.6 939.8 1678.2 941.7 1676.0C943.7 1673.8 945.5 1669.5 947.5 1667.1C949.5 1664.6 951.4 1661.5 953.4 1661.3C955.4 1661.1 957.3 1664.0 959.3 1665.7C961.3 1667.4 963.2 1671.5 965.2 1671.5C967.2 1671.5 969.0 1668.1 971.0 1665.7C973.0 1663.3 974.9 1659.1 976.9 1656.9C978.9 1654.7 980.8 1653.5 982.8 1652.5C984.8 1651.5 986.6 1653.2 988.6 1651.0C990.6 1648.8 992.8 1642.5 994.5 1639.3C996.2 1636.1 997.2 1631.9 998.9 1631.9C1000.6 1631.9 1002.8 1634.7 1004.8 1639.3C1006.8 1643.9 1009.0 1653.7 1010.7 1659.8C1012.4 1665.9 1013.4 1675.4 1015.1 1675.9C1016.8 1676.4 1019.0 1667.6 1020.9 1662.7C1022.8 1657.8 1024.8 1649.3 1026.8 1646.6C1028.8 1643.9 1030.8 1643.4 1032.7 1646.6C1034.7 1649.8 1036.5 1663.5 1038.5 1665.7C1040.5 1667.9 1042.4 1663.0 1044.4 1659.8C1046.4 1656.6 1048.0 1650.8 1050.3 1646.6C1052.5 1642.3 1055.9 1637.3 1057.9 1634.3C1059.9 1631.3 1060.8 1626.7 1062.3 1628.4C1063.8 1630.1 1065.2 1638.0 1066.7 1644.6C1068.2 1651.2 1069.6 1659.5 1071.1 1668.1C1072.6 1676.6 1073.8 1688.1 1075.5 1695.9C1077.2 1703.7 1079.5 1708.6 1081.4 1715.0C1083.4 1721.4 1085.7 1729.2 1087.2 1734.1C1088.7 1739.0 1088.7 1744.4 1090.2 1744.4C1091.7 1744.4 1094.0 1734.1 1096.0 1734.1C1098.0 1734.1 1099.9 1740.5 1101.9 1744.4C1103.9 1748.3 1105.8 1757.4 1107.8 1757.6C1109.8 1757.8 1111.6 1749.2 1113.6 1745.8C1115.5 1742.4 1117.5 1736.8 1119.5 1737.0C1121.5 1737.2 1123.7 1749.0 1125.4 1747.3C1127.1 1745.6 1128.1 1734.6 1129.8 1726.8C1131.5 1719.0 1134.0 1707.6 1135.7 1700.3C1137.4 1693.0 1138.6 1688.1 1140.1 1682.7C1141.6 1677.3 1143.0 1671.3 1144.5 1668.1C1146.0 1664.9 1147.2 1663.5 1148.9 1663.7C1150.6 1663.9 1152.8 1667.8 1154.7 1669.5C1156.7 1671.2 1158.6 1671.7 1160.6 1673.9C1162.6 1676.1 1164.8 1679.5 1166.5 1682.7C1168.2 1685.9 1169.2 1690.8 1170.9 1693.0C1172.6 1695.2 1174.8 1693.7 1176.7 1695.9C1178.7 1698.1 1180.6 1704.2 1182.6 1706.2C1184.6 1708.2 1186.5 1708.0 1188.5 1707.7C1190.5 1707.5 1192.5 1706.7 1194.4 1704.7C1196.4 1702.7 1198.5 1699.1 1200.2 1695.9C1201.9 1692.7 1202.9 1688.6 1204.6 1685.7C1206.3 1682.8 1208.5 1680.3 1210.5 1678.3C1212.5 1676.3 1214.5 1674.6 1216.4 1673.9C1218.4 1673.2 1220.2 1672.4 1222.2 1673.9C1224.2 1675.4 1226.1 1681.7 1228.1 1682.7C1230.1 1683.7 1232.0 1682.0 1234.0 1679.8C1236.0 1677.6 1238.0 1670.7 1239.9 1669.5C1241.9 1668.3 1243.5 1671.5 1245.7 1672.5C1247.9 1673.5 1250.9 1673.7 1253.1 1675.4C1255.3 1677.1 1257.0 1680.5 1258.9 1682.7C1260.9 1684.9 1262.6 1686.6 1264.8 1688.6C1267.0 1690.6 1269.8 1695.1 1271.9 1694.6C1274.1 1694.1 1275.8 1687.0 1277.7 1685.8C1279.7 1684.6 1281.6 1686.2 1283.6 1687.2C1285.6 1688.2 1287.3 1692.3 1289.5 1691.6C1291.7 1690.9 1294.6 1683.5 1296.8 1682.8C1299.0 1682.1 1300.7 1685.7 1302.7 1687.2C1304.7 1688.7 1306.4 1690.6 1308.6 1691.6C1310.8 1692.6 1313.2 1693.8 1315.9 1693.1C1318.6 1692.4 1322.0 1687.2 1324.7 1687.2C1327.4 1687.2 1329.5 1692.8 1332.0 1693.1C1334.5 1693.3 1337.0 1689.9 1339.4 1688.7C1341.9 1687.5 1344.2 1686.3 1346.7 1685.8C1349.2 1685.3 1351.9 1684.3 1354.1 1685.8C1356.3 1687.3 1358.0 1695.3 1359.9 1694.6C1361.9 1693.9 1363.8 1683.4 1365.8 1681.4C1367.8 1679.4 1369.8 1680.6 1371.7 1682.8C1373.7 1685.0 1375.1 1692.1 1377.5 1694.6C1379.9 1697.0 1383.6 1698.0 1386.3 1697.5C1389.0 1697.0 1391.2 1693.1 1393.7 1691.6C1396.2 1690.1 1398.8 1691.9 1401.0 1688.7C1403.2 1685.5 1404.7 1673.6 1406.9 1672.6C1409.1 1671.6 1411.5 1680.8 1414.2 1682.8C1416.9 1684.8 1420.3 1685.0 1423.0 1684.3C1425.7 1683.6 1427.7 1679.9 1430.4 1678.4C1433.1 1676.9 1436.8 1675.0 1439.2 1675.5C1441.7 1676.0 1443.1 1679.7 1445.1 1681.4C1447.0 1683.1 1449.0 1685.3 1450.9 1685.8C1452.9 1686.3 1454.6 1683.8 1456.8 1684.3C1459.0 1684.8 1461.6 1688.5 1464.1 1688.7C1466.5 1689.0 1469.0 1686.0 1471.5 1685.8C1474.0 1685.5 1477.6 1687.0 1478.8 1687.2" fill="none" stroke="#ff5555" stroke-width="3.6" stroke-linejoin="round" stroke-linecap="round"/>
<path d="M838.9 1687.7C839.9 1687.2 842.8 1686.7 844.8 1684.7C846.8 1682.8 848.5 1676.2 850.7 1676.0C852.9 1675.8 855.5 1680.6 858.0 1683.3C860.5 1686.0 862.9 1690.9 865.4 1692.1C867.9 1693.3 870.3 1691.1 872.7 1690.6C875.1 1690.1 877.5 1688.7 880.0 1689.2C882.5 1689.7 885.2 1694.1 887.4 1693.6C889.6 1693.1 891.2 1689.2 893.2 1686.2C895.2 1683.2 897.1 1676.9 899.1 1675.9C901.1 1674.9 902.8 1679.3 905.0 1680.3C907.2 1681.3 910.1 1682.3 912.3 1681.8C914.5 1681.3 916.0 1675.7 918.2 1677.4C920.4 1679.1 923.0 1690.9 925.5 1692.1C928.0 1693.3 930.2 1686.4 932.9 1684.7C935.6 1683.0 938.8 1684.5 941.7 1681.8C944.6 1679.1 947.8 1668.6 950.5 1668.6C953.2 1668.6 955.6 1682.3 957.8 1681.8C960.0 1681.3 961.7 1670.3 963.7 1665.7C965.7 1661.1 967.7 1654.6 969.6 1653.9C971.5 1653.2 973.2 1661.3 975.4 1661.3C977.6 1661.3 980.6 1656.1 982.8 1653.9C985.0 1651.7 986.6 1650.5 988.6 1648.1C990.6 1645.7 992.5 1643.0 994.5 1639.3C996.5 1635.6 998.4 1624.5 1000.4 1626.0C1002.4 1627.5 1004.5 1638.3 1006.2 1648.1C1007.9 1657.9 1009.2 1674.2 1010.7 1684.7C1012.2 1695.2 1013.4 1711.2 1015.1 1711.2C1016.8 1711.2 1019.0 1693.3 1020.9 1684.7C1022.8 1676.1 1024.8 1664.4 1026.8 1659.8C1028.8 1655.2 1030.8 1655.4 1032.7 1656.9C1034.7 1658.4 1036.8 1666.6 1038.5 1668.6C1040.2 1670.5 1041.4 1671.5 1042.9 1668.6C1044.4 1665.7 1045.8 1657.1 1047.3 1651.0C1048.8 1644.9 1049.9 1636.4 1051.7 1631.9C1053.5 1627.4 1056.1 1624.3 1057.9 1624.0C1059.7 1623.7 1060.8 1625.0 1062.3 1629.9C1063.8 1634.8 1065.2 1642.2 1066.7 1653.4C1068.2 1664.7 1069.6 1684.0 1071.1 1697.4C1072.6 1710.9 1073.8 1724.5 1075.5 1734.1C1077.2 1743.6 1079.9 1750.5 1081.4 1754.7C1082.9 1758.9 1082.8 1760.6 1084.3 1759.1C1085.8 1757.6 1088.2 1749.5 1090.2 1745.8C1092.2 1742.1 1093.8 1739.7 1096.0 1737.0C1098.2 1734.3 1101.0 1732.4 1103.4 1729.7C1105.9 1727.0 1108.3 1724.1 1110.7 1720.9C1113.1 1717.7 1115.8 1714.5 1118.0 1710.6C1120.2 1706.7 1121.9 1702.5 1123.9 1697.4C1125.9 1692.3 1128.1 1684.7 1129.8 1679.8C1131.5 1674.9 1132.7 1671.3 1134.2 1668.1C1135.7 1664.9 1136.9 1661.9 1138.6 1660.7C1140.3 1659.5 1142.5 1661.2 1144.5 1660.7C1146.5 1660.2 1148.6 1658.0 1150.3 1657.8C1152.0 1657.6 1153.2 1657.8 1154.7 1659.3C1156.2 1660.8 1157.4 1664.4 1159.1 1666.6C1160.8 1668.8 1163.0 1670.5 1165.0 1672.5C1167.0 1674.5 1169.0 1676.8 1170.9 1678.3C1172.9 1679.8 1174.8 1681.5 1176.7 1681.3C1178.7 1681.1 1180.6 1676.2 1182.6 1676.9C1184.6 1677.6 1186.5 1683.8 1188.5 1685.7C1190.5 1687.7 1192.5 1688.4 1194.4 1688.6C1196.4 1688.8 1198.2 1688.1 1200.2 1687.1C1202.2 1686.1 1204.1 1684.7 1206.1 1682.7C1208.1 1680.8 1210.0 1676.6 1212.0 1675.4C1214.0 1674.2 1215.8 1675.2 1217.8 1675.4C1219.8 1675.7 1221.7 1676.2 1223.7 1676.9C1225.7 1677.6 1227.6 1678.3 1229.6 1679.8C1231.6 1681.3 1233.5 1685.2 1235.5 1685.7C1237.5 1686.2 1239.1 1683.9 1241.3 1682.7C1243.5 1681.5 1246.5 1678.3 1248.7 1678.3C1250.9 1678.3 1252.6 1681.0 1254.6 1682.7C1256.5 1684.4 1258.5 1689.1 1260.4 1688.6C1262.3 1688.1 1263.8 1680.9 1266.0 1679.9C1268.2 1678.9 1270.8 1681.6 1273.3 1682.8C1275.8 1684.0 1278.2 1687.0 1280.7 1687.2C1283.2 1687.5 1285.8 1683.1 1288.0 1684.3C1290.2 1685.5 1292.2 1691.7 1293.9 1694.6C1295.6 1697.5 1296.3 1701.2 1298.3 1701.9C1300.2 1702.6 1302.9 1700.2 1305.6 1699.0C1308.3 1697.8 1312.0 1696.8 1314.4 1694.6C1316.9 1692.4 1318.3 1686.0 1320.3 1685.8C1322.3 1685.5 1324.2 1692.6 1326.2 1693.1C1328.2 1693.6 1330.0 1689.4 1332.0 1688.7C1334.0 1688.0 1335.5 1690.4 1337.9 1688.7C1340.4 1687.0 1344.2 1678.9 1346.7 1678.4C1349.2 1677.9 1350.4 1685.8 1352.6 1685.8C1354.8 1685.8 1357.5 1681.1 1359.9 1678.4C1362.4 1675.7 1364.8 1669.1 1367.3 1669.6C1369.8 1670.1 1372.4 1679.9 1374.6 1681.4C1376.8 1682.9 1378.5 1679.6 1380.5 1678.4C1382.5 1677.2 1384.1 1673.8 1386.3 1674.0C1388.5 1674.2 1391.2 1678.2 1393.7 1679.9C1396.2 1681.6 1398.8 1683.3 1401.0 1684.3C1403.2 1685.3 1404.9 1684.6 1406.9 1685.8C1408.9 1687.0 1410.8 1687.9 1412.8 1691.6C1414.8 1695.3 1416.6 1707.1 1418.6 1707.8C1420.5 1708.5 1422.5 1698.7 1424.5 1696.0C1426.5 1693.3 1428.5 1692.8 1430.4 1691.6C1432.4 1690.4 1434.2 1688.7 1436.2 1688.7C1438.2 1688.7 1440.1 1691.6 1442.1 1691.6C1444.1 1691.6 1445.8 1689.4 1448.0 1688.7C1450.2 1688.0 1453.1 1688.9 1455.3 1687.2C1457.5 1685.5 1459.0 1681.1 1461.2 1678.4C1463.4 1675.7 1466.3 1672.1 1468.5 1671.1C1470.7 1670.1 1472.7 1672.8 1474.4 1672.6C1476.1 1672.3 1478.1 1670.1 1478.8 1669.6" fill="none" stroke="#00007f" stroke-width="3.6" stroke-linejoin="round" stroke-linecap="round"/>
<path d="M838.9 1711.2C839.6 1709.0 841.6 1701.4 843.3 1698.0C845.0 1694.6 847.0 1691.3 849.2 1690.6C851.4 1689.9 854.0 1692.4 856.5 1693.6C859.0 1694.8 861.4 1698.0 863.9 1698.0C866.4 1698.0 868.5 1696.3 871.2 1693.6C873.9 1690.9 877.5 1682.3 880.0 1681.8C882.5 1681.3 883.7 1688.4 885.9 1690.6C888.1 1692.8 891.0 1695.7 893.2 1695.0C895.4 1694.3 897.4 1688.9 899.1 1686.2C900.8 1683.5 902.0 1679.2 903.5 1678.9C905.0 1678.7 906.4 1683.0 907.9 1684.7C909.4 1686.4 910.6 1690.7 912.3 1689.2C914.0 1687.7 916.0 1678.4 918.2 1675.9C920.4 1673.5 923.0 1676.2 925.5 1674.5C928.0 1672.8 930.4 1666.0 932.9 1665.7C935.4 1665.5 938.2 1673.5 940.2 1673.0C942.2 1672.5 943.1 1665.6 944.6 1662.7C946.1 1659.8 947.0 1655.9 949.0 1655.4C951.0 1654.9 954.1 1658.3 956.3 1659.8C958.5 1661.3 960.2 1664.2 962.2 1664.2C964.2 1664.2 965.7 1659.5 968.1 1659.8C970.5 1660.0 974.5 1666.7 976.9 1665.7C979.3 1664.7 980.8 1657.8 982.8 1653.9C984.8 1650.0 986.6 1644.9 988.6 1642.2C990.6 1639.5 992.5 1639.0 994.5 1637.8C996.5 1636.6 998.4 1632.2 1000.4 1634.9C1002.4 1637.6 1004.5 1647.1 1006.2 1653.9C1007.9 1660.7 1009.2 1669.3 1010.7 1675.9C1012.2 1682.5 1013.4 1693.6 1015.1 1693.6C1016.8 1693.6 1019.0 1682.0 1020.9 1675.9C1022.8 1669.8 1024.8 1659.1 1026.8 1656.9C1028.8 1654.7 1030.8 1660.3 1032.7 1662.7C1034.7 1665.1 1036.5 1672.5 1038.5 1671.5C1040.5 1670.5 1042.4 1664.5 1044.4 1656.9C1046.4 1649.3 1048.0 1634.2 1050.3 1626.0C1052.5 1617.8 1055.9 1610.2 1057.9 1607.9C1059.9 1605.6 1060.8 1608.4 1062.3 1612.3C1063.8 1616.2 1065.2 1623.1 1066.7 1631.4C1068.2 1639.7 1069.6 1651.7 1071.1 1662.2C1072.6 1672.7 1073.8 1685.5 1075.5 1694.5C1077.2 1703.5 1079.5 1710.6 1081.4 1716.5C1083.4 1722.4 1085.2 1727.2 1087.2 1729.7C1089.2 1732.2 1091.1 1732.9 1093.1 1731.2C1095.1 1729.5 1097.0 1723.6 1099.0 1719.4C1101.0 1715.2 1102.8 1707.7 1104.8 1706.2C1106.8 1704.7 1108.7 1712.3 1110.7 1710.6C1112.7 1708.9 1114.6 1701.0 1116.6 1695.9C1118.5 1690.8 1120.5 1684.4 1122.4 1679.8C1124.4 1675.2 1126.1 1672.5 1128.3 1668.1C1130.5 1663.7 1133.2 1657.8 1135.7 1653.4C1138.2 1649.0 1140.3 1643.1 1143.0 1641.6C1145.7 1640.1 1149.3 1645.1 1151.8 1644.6C1154.2 1644.1 1155.8 1638.2 1157.7 1638.7C1159.7 1639.2 1161.5 1643.6 1163.5 1647.5C1165.5 1651.4 1167.4 1658.0 1169.4 1662.2C1171.4 1666.4 1173.3 1669.3 1175.3 1672.5C1177.3 1675.7 1179.5 1677.4 1181.2 1681.3C1182.9 1685.2 1184.1 1693.2 1185.6 1695.9C1187.1 1698.6 1188.3 1699.6 1190.0 1697.4C1191.7 1695.2 1193.8 1685.4 1195.8 1682.7C1197.8 1680.0 1199.7 1683.7 1201.7 1681.3C1203.7 1678.9 1205.9 1670.5 1207.6 1668.1C1209.3 1665.6 1210.3 1665.9 1212.0 1666.6C1213.7 1667.3 1215.6 1671.0 1217.8 1672.5C1220.0 1674.0 1223.2 1674.2 1225.2 1675.4C1227.2 1676.6 1228.1 1680.0 1229.6 1679.8C1231.1 1679.5 1232.3 1673.9 1234.0 1673.9C1235.7 1673.9 1238.0 1678.1 1239.9 1679.8C1241.9 1681.5 1243.8 1683.2 1245.7 1684.2C1247.7 1685.2 1249.6 1683.8 1251.6 1685.7C1253.6 1687.7 1255.5 1693.2 1257.5 1695.9C1259.5 1698.6 1261.9 1701.5 1263.3 1701.8C1264.7 1702.1 1264.6 1699.7 1266.0 1697.5C1267.4 1695.3 1269.7 1689.9 1271.9 1688.7C1274.1 1687.5 1276.8 1688.7 1279.2 1690.2C1281.6 1691.7 1283.8 1696.0 1286.5 1697.5C1289.2 1699.0 1293.0 1700.5 1295.4 1699.0C1297.9 1697.5 1299.2 1691.4 1301.2 1688.7C1303.2 1686.0 1305.1 1682.8 1307.1 1682.8C1309.1 1682.8 1311.0 1687.5 1313.0 1688.7C1315.0 1689.9 1316.8 1688.7 1318.8 1690.2C1320.8 1691.7 1322.5 1698.0 1324.7 1697.5C1326.9 1697.0 1329.8 1687.7 1332.0 1687.2C1334.2 1686.7 1335.9 1692.4 1337.9 1694.6C1339.9 1696.8 1341.8 1699.9 1343.8 1700.4C1345.8 1700.9 1347.8 1699.9 1349.7 1697.5C1351.7 1695.1 1353.3 1687.3 1355.5 1685.8C1357.7 1684.3 1360.7 1689.7 1362.9 1688.7C1365.1 1687.7 1366.8 1682.8 1368.7 1679.9C1370.7 1677.0 1372.6 1671.8 1374.6 1671.1C1376.6 1670.4 1378.5 1673.5 1380.5 1675.5C1382.5 1677.5 1384.1 1682.8 1386.3 1682.8C1388.5 1682.8 1391.2 1676.0 1393.7 1675.5C1396.2 1675.0 1398.8 1680.2 1401.0 1679.9C1403.2 1679.7 1404.9 1673.5 1406.9 1674.0C1408.9 1674.5 1410.8 1680.3 1412.8 1682.8C1414.8 1685.2 1416.4 1687.0 1418.6 1688.7C1420.8 1690.4 1423.5 1692.4 1426.0 1693.1C1428.5 1693.8 1430.8 1692.8 1433.3 1693.1C1435.8 1693.3 1438.5 1695.8 1440.7 1694.6C1442.9 1693.4 1444.8 1688.2 1446.5 1685.8C1448.2 1683.3 1449.2 1679.9 1450.9 1679.9C1452.6 1679.9 1454.8 1683.8 1456.8 1685.8C1458.8 1687.8 1460.8 1691.4 1462.7 1691.6C1464.7 1691.8 1466.5 1687.4 1468.5 1687.2C1470.5 1687.0 1472.4 1690.2 1474.4 1690.2C1476.4 1690.2 1479.3 1687.7 1480.3 1687.2" fill="none" stroke="#9fc5e8" stroke-width="3.6" stroke-linejoin="round" stroke-linecap="round"/>
<path d="M838.7 1566.8V1790.1H1480.0" fill="none" stroke="#000" stroke-width="2.6"/>
<path d="M817.0 1566.8H838.7" stroke="#000" stroke-width="2.6"/>
<text transform="translate(789.44 1578.30) scale(0.2042 0.3294)" font-size="100" fill="#000">15</text>
<path d="M817.0 1679.7H838.7" stroke="#000" stroke-width="2.6"/>
<text transform="translate(802.86 1691.20) scale(0.1883 0.3294)" font-size="100" fill="#000">0</text>
<path d="M817.0 1790.1H838.7" stroke="#000" stroke-width="2.6"/>
<text transform="translate(783.52 1801.60) scale(0.1980 0.3294)" font-size="100" fill="#000">-15</text>
<path d="M838.7 1790.1V1809.3" stroke="#000" stroke-width="2.6"/>
<text transform="translate(820.66 1833.70) scale(0.2125 0.2764)" font-size="100" fill="#000">-0.2</text>
<path d="M942.2 1790.1V1809.3" stroke="#000" stroke-width="2.6"/>
<text transform="translate(936.17 1833.70) scale(0.2134 0.2764)" font-size="100" fill="#000">0</text>
<path d="M1051.3 1790.1V1809.3" stroke="#000" stroke-width="2.6"/>
<text transform="translate(1036.47 1833.70) scale(0.2129 0.2764)" font-size="100" fill="#000">0.2</text>
<path d="M1160.6 1790.1V1809.3" stroke="#000" stroke-width="2.6"/>
<text transform="translate(1144.53 1833.70) scale(0.2217 0.2764)" font-size="100" fill="#000">0.4</text>
<path d="M1270.7 1790.1V1809.3" stroke="#000" stroke-width="2.6"/>
<text transform="translate(1254.96 1833.70) scale(0.2157 0.2764)" font-size="100" fill="#000">0.6</text>
<path d="M1371.9 1790.1V1809.3" stroke="#000" stroke-width="2.6"/>
<text transform="translate(1356.53 1833.70) scale(0.2218 0.2764)" font-size="100" fill="#000">0.8</text>
<path d="M1480.0 1790.1V1809.3" stroke="#000" stroke-width="2.6"/>
<text transform="translate(1463.10 1833.70) scale(0.2235 0.2764)" font-size="100" fill="#000">1.0</text>
<text transform="translate(1134.09 1868.00) scale(0.2052 0.2760)" font-size="100" fill="#000">time (s)</text>
<defs></defs>
<clipPath id="ha1"><ellipse cx="165.00" cy="130.00" rx="60.60" ry="65.00"/></clipPath>
<g clip-path="url(#ha1)">
<ellipse cx="165.00" cy="130.00" rx="60.60" ry="65.00" fill="#fff"/>
<path d="M185.2 100.9L188.1 100.7L190.9 102.6L193.0 106.3L194.2 112.3L193.9 117.4L192.5 122.4L190.0 126.3L187.1 127.6L184.3 126.8L182.1 124.4L180.3 120.4L179.4 115.4L179.7 110.3L180.8 106.3L182.4 103.2ZM139.1 105.2L141.0 105.6L141.9 106.2L143.6 108.3L144.9 111.3L145.5 115.4L145.2 119.4L144.0 123.4L141.9 126.2L140.0 127.1L138.2 126.8L137.2 126.2L135.3 123.8L134.1 120.4L133.5 116.4L133.8 112.3L135.2 108.3L137.2 105.9ZM142.9 144.6L182.4 144.1L186.2 144.3L190.9 145.3L196.5 147.2L203.1 150.0L208.2 152.7L212.8 155.8L216.1 158.8L217.7 160.8L218.9 163.8L218.8 166.9L217.4 169.9L214.5 172.9L211.4 174.9L206.9 176.9L201.3 178.5L195.6 179.6L180.5 180.8L153.2 180.9L135.3 179.5L127.7 178.0L122.2 176.1L118.2 173.9L114.9 170.9L113.3 167.9L113.0 165.9L113.2 163.8L114.6 160.8L118.1 156.8L124.0 152.2L130.6 148.4L137.2 145.7Z" fill="#ffc0c0" fill-rule="evenodd"/>
<path d="M230.4 59.8L230.4 140.8L225.7 143.2L222.0 144.4L219.1 144.9L215.4 144.8L211.6 144.0L206.9 142.0L203.1 139.7L200.8 137.6L199.5 135.6L198.7 132.5L199.3 113.3L198.7 107.3L197.5 102.2L195.6 97.7L193.0 94.1L190.0 92.1L187.1 91.5L184.3 92.0L181.2 94.1L178.7 97.2L176.2 102.2L174.7 107.3L173.7 113.3L173.5 129.5L172.9 131.5L171.1 133.7L167.4 135.2L161.7 135.5L157.0 134.6L154.2 132.6L153.2 130.8L152.7 128.5L152.3 118.4L151.7 112.3L149.4 104.2L147.3 100.2L144.8 97.2L141.9 95.4L138.2 94.9L135.3 95.9L132.5 98.3L130.0 102.2L128.5 106.3L127.7 110.3L127.3 115.4L128.2 133.5L127.6 136.6L125.9 139.6L123.1 142.4L120.1 144.6L116.5 146.7L112.7 148.0L109.9 148.4L107.1 148.2L104.3 147.5L100.6 145.7L99.6 145.0L99.6 59.8ZM165.5 184.7L192.8 185.1L207.8 185.9L221.0 187.4L230.4 189.5L230.4 200.2L99.6 200.2L99.6 189.4L107.1 187.7L115.6 186.4L125.9 185.5Z" fill="#c0c0ff" fill-rule="evenodd"/>
<path d="M185.2 106.1L187.1 105.5L189.0 106.5L190.3 108.3L191.1 111.3L191.1 115.4L190.3 118.4L189.0 120.3L187.1 121.3L185.2 120.8L184.3 119.9L183.4 118.3L182.5 115.4L182.4 112.3L182.8 110.3L183.5 108.3ZM145.7 147.6L157.9 147.1L178.7 147.0L185.2 147.5L191.8 148.9L200.3 152.1L204.1 154.3L207.3 156.8L210.3 160.8L211.0 163.8L210.7 165.9L209.2 168.9L207.3 170.9L204.1 173.1L199.4 175.2L194.7 176.6L189.0 177.7L175.8 178.8L154.2 178.8L140.0 177.4L133.5 175.8L128.7 174.0L125.0 171.7L122.1 168.9L120.6 165.9L120.5 162.8L121.1 160.8L122.3 158.8L125.1 155.8L129.4 152.7L134.4 150.3L140.0 148.5Z" fill="#ff8080" fill-rule="evenodd"/>
<path d="M128.9 59.8L201.9 59.8L214.4 63.7L219.1 65.8L222.9 68.1L226.7 71.0L230.4 74.9L230.4 120.9L226.5 129.5L224.4 132.5L222.0 135.0L219.1 136.9L216.3 137.7L213.5 137.7L210.7 136.8L207.8 135.1L206.0 133.2L204.4 130.5L203.2 126.5L201.7 107.3L199.7 97.2L198.2 93.1L196.5 90.2L194.7 87.9L191.8 85.7L189.0 84.7L185.2 84.9L181.5 86.9L178.7 89.9L175.8 94.3L173.1 100.2L167.4 119.2L165.5 122.0L163.6 122.9L161.7 122.6L160.8 122.0L158.9 119.5L153.5 103.2L151.3 98.2L148.8 94.1L146.6 91.5L143.8 89.2L141.0 88.0L138.2 87.7L134.4 88.6L130.6 91.4L127.8 95.2L125.5 100.2L124.4 104.2L123.8 109.3L123.6 128.5L122.9 132.5L121.5 135.6L120.0 137.6L117.8 139.6L113.7 141.6L109.9 141.6L106.1 139.9L104.3 138.2L102.3 135.6L99.6 129.3L99.6 76.8L104.5 71.9L110.2 67.9L117.4 64.1ZM138.2 187.0L156.1 186.3L175.8 186.4L193.7 187.2L206.9 188.5L221.0 191.4L230.4 194.9L230.4 200.2L99.6 200.2L99.6 194.9L105.2 192.5L111.8 190.6L120.3 188.9Z" fill="#8080ff" fill-rule="evenodd"/>
<path d="M148.5 149.6L159.8 149.1L175.8 149.1L183.4 149.6L190.0 150.8L196.5 153.2L202.3 156.8L204.2 158.8L205.4 160.8L205.9 162.8L205.8 164.8L204.3 167.9L202.2 169.9L199.1 171.9L195.6 173.5L187.1 175.7L174.9 176.8L156.1 176.8L142.9 175.5L138.2 174.3L133.5 172.6L129.7 170.4L127.0 167.9L125.8 165.9L125.3 162.8L126.3 159.8L128.8 156.8L132.5 154.1L137.2 152.0L142.9 150.4Z" fill="#ff4040" fill-rule="evenodd"/>
<path d="M162.2 59.8L167.8 59.8L169.8 61.8L171.7 64.9L173.4 68.9L174.5 72.9L175.0 77.0L174.2 83.0L171.0 92.1L167.4 98.7L165.5 100.7L163.6 101.4L162.5 101.2L160.8 100.0L157.9 95.6L155.0 88.1L153.9 82.0L154.4 76.0L156.1 69.9L158.9 63.8ZM210.7 87.0L212.6 86.7L215.4 87.4L217.3 88.6L219.1 90.5L221.0 93.3L222.3 96.2L224.0 103.2L224.2 107.3L224.0 112.3L222.3 120.4L221.0 123.6L219.1 126.4L217.3 128.1L215.4 128.9L213.5 128.9L211.6 128.1L209.2 125.5L207.5 121.4L206.4 115.4L205.7 103.2L206.0 94.1L206.8 91.1L207.8 89.1L208.8 88.0ZM111.8 108.9L113.7 108.8L114.6 109.2L116.5 111.7L117.9 116.4L118.5 121.4L118.3 125.5L117.1 129.5L115.6 131.8L114.6 132.6L112.7 133.2L109.9 132.3L108.0 130.1L106.7 126.5L106.2 122.4L106.6 117.4L107.9 113.3L109.9 110.3ZM147.6 188.1L161.7 187.7L175.8 187.8L190.0 188.6L201.3 189.8L211.6 191.8L219.5 194.1L225.7 197.2L228.9 200.2L101.1 200.2L103.0 198.2L106.1 196.1L110.9 194.0L116.9 192.1L130.6 189.5Z" fill="#4444ff" fill-rule="evenodd"/>
<path d="M147.6 151.6L157.0 150.9L171.1 150.8L180.5 151.2L187.1 152.2L192.8 153.9L198.0 156.8L200.9 159.8L201.7 161.8L201.8 163.8L201.1 165.9L199.6 167.9L197.1 169.9L193.7 171.6L185.2 173.9L173.9 175.0L157.0 175.0L144.8 173.7L140.0 172.5L136.0 170.9L132.7 168.9L130.7 166.9L129.6 164.8L129.5 161.8L130.3 159.8L131.9 157.8L134.6 155.8L138.2 154.0L142.9 152.5Z" fill="#ff0000" fill-rule="evenodd"/>
<path d="M154.2 189.1L166.4 188.9L178.7 189.2L189.0 189.9L199.4 191.3L207.8 193.0L214.6 195.1L219.1 197.3L222.5 200.2L107.5 200.2L109.6 198.2L113.0 196.2L117.4 194.4L123.1 192.8L137.2 190.3Z" fill="#0000ff" fill-rule="evenodd"/>
<path d="M153.2 152.7L173.9 152.5L180.5 152.9L186.2 153.8L191.8 155.8L195.2 157.8L197.7 160.8L198.2 163.8L197.3 165.9L195.4 167.9L190.0 170.7L182.4 172.6L172.1 173.4L157.0 173.3L146.6 172.2L139.1 169.9L135.8 167.9L133.9 165.9L133.0 163.8L133.4 160.8L134.8 158.8L137.2 156.9L140.0 155.4L143.8 154.1Z" fill="#c00000" fill-rule="evenodd"/>
<path d="M158.9 190.1L179.6 190.5L196.5 192.3L204.1 193.9L209.7 195.7L214.7 198.2L217.1 200.2L112.9 200.2L115.2 198.2L119.1 196.2L128.7 193.3L142.9 191.1Z" fill="#0000c8" fill-rule="evenodd"/>
<path d="M149.5 154.7L157.0 154.0L168.3 153.9L176.8 154.2L183.4 155.0L189.0 156.7L192.5 158.8L194.2 160.8L194.6 161.8L194.6 163.8L193.7 165.6L192.5 166.9L188.1 169.3L181.5 171.0L173.0 171.7L158.9 171.7L149.5 170.9L142.1 168.9L140.0 167.8L137.7 165.9L136.6 163.8L136.6 161.8L137.6 159.8L138.6 158.8L142.9 156.4Z" fill="#800000" fill-rule="evenodd"/>
<path d="M162.6 191.1L179.6 191.6L194.7 193.4L205.2 196.2L209.6 198.2L212.2 200.2L117.8 200.2L120.4 198.2L124.0 196.5L133.5 193.8L146.6 191.9Z" fill="#00008a" fill-rule="evenodd"/>
<path d="M155.1 155.7L172.1 155.5L182.4 156.6L186.4 157.8L189.7 159.8L191.0 161.8L191.0 163.8L190.0 165.4L188.1 166.9L182.8 168.9L175.8 169.9L165.5 170.2L155.1 169.9L148.4 168.9L143.1 166.9L141.7 165.9L140.2 163.8L140.2 161.8L140.7 160.8L142.9 158.8L148.0 156.8Z" fill="#400000" fill-rule="evenodd"/>
<path d="M146.6 193.1L165.5 192.1L174.9 192.4L184.3 193.2L192.8 194.5L199.6 196.2L204.7 198.2L207.6 200.2L122.4 200.2L125.3 198.2L130.6 196.1L138.2 194.3Z" fill="#0a0a40" fill-rule="evenodd"/>
</g>
<path d="M148.0 84.4m-1.75 0a1.75 1.75 0 1 0 3.5 0a1.75 1.75 0 1 0 -3.5 0M182.1 84.4m-1.75 0a1.75 1.75 0 1 0 3.5 0a1.75 1.75 0 1 0 -3.5 0M132.8 95.1m-1.75 0a1.75 1.75 0 1 0 3.5 0a1.75 1.75 0 1 0 -3.5 0M151.1 96.1m-1.75 0a1.75 1.75 0 1 0 3.5 0a1.75 1.75 0 1 0 -3.5 0M165.0 92.8m-1.75 0a1.75 1.75 0 1 0 3.5 0a1.75 1.75 0 1 0 -3.5 0M179.3 96.1m-1.75 0a1.75 1.75 0 1 0 3.5 0a1.75 1.75 0 1 0 -3.5 0M197.4 95.1m-1.75 0a1.75 1.75 0 1 0 3.5 0a1.75 1.75 0 1 0 -3.5 0M139.5 105.0m-1.75 0a1.75 1.75 0 1 0 3.5 0a1.75 1.75 0 1 0 -3.5 0M153.6 108.7m-1.75 0a1.75 1.75 0 1 0 3.5 0a1.75 1.75 0 1 0 -3.5 0M165.0 105.4m-1.75 0a1.75 1.75 0 1 0 3.5 0a1.75 1.75 0 1 0 -3.5 0M176.5 108.7m-1.75 0a1.75 1.75 0 1 0 3.5 0a1.75 1.75 0 1 0 -3.5 0M190.6 105.0m-1.75 0a1.75 1.75 0 1 0 3.5 0a1.75 1.75 0 1 0 -3.5 0M122.9 111.5m-1.75 0a1.75 1.75 0 1 0 3.5 0a1.75 1.75 0 1 0 -3.5 0M207.4 111.5m-1.75 0a1.75 1.75 0 1 0 3.5 0a1.75 1.75 0 1 0 -3.5 0M108.8 119.0m-1.75 0a1.75 1.75 0 1 0 3.5 0a1.75 1.75 0 1 0 -3.5 0M132.2 118.5m-1.75 0a1.75 1.75 0 1 0 3.5 0a1.75 1.75 0 1 0 -3.5 0M145.3 117.6m-1.75 0a1.75 1.75 0 1 0 3.5 0a1.75 1.75 0 1 0 -3.5 0M165.0 117.1m-1.75 0a1.75 1.75 0 1 0 3.5 0a1.75 1.75 0 1 0 -3.5 0M184.9 117.6m-1.75 0a1.75 1.75 0 1 0 3.5 0a1.75 1.75 0 1 0 -3.5 0M197.8 118.5m-1.75 0a1.75 1.75 0 1 0 3.5 0a1.75 1.75 0 1 0 -3.5 0M221.4 119.0m-1.75 0a1.75 1.75 0 1 0 3.5 0a1.75 1.75 0 1 0 -3.5 0M119.4 129.7m-1.75 0a1.75 1.75 0 1 0 3.5 0a1.75 1.75 0 1 0 -3.5 0M142.4 129.7m-1.75 0a1.75 1.75 0 1 0 3.5 0a1.75 1.75 0 1 0 -3.5 0M155.3 123.6m-1.75 0a1.75 1.75 0 1 0 3.5 0a1.75 1.75 0 1 0 -3.5 0M165.0 129.7m-1.75 0a1.75 1.75 0 1 0 3.5 0a1.75 1.75 0 1 0 -3.5 0M175.1 123.6m-1.75 0a1.75 1.75 0 1 0 3.5 0a1.75 1.75 0 1 0 -3.5 0M187.7 129.7m-1.75 0a1.75 1.75 0 1 0 3.5 0a1.75 1.75 0 1 0 -3.5 0M210.7 129.7m-1.75 0a1.75 1.75 0 1 0 3.5 0a1.75 1.75 0 1 0 -3.5 0M130.9 133.9m-1.75 0a1.75 1.75 0 1 0 3.5 0a1.75 1.75 0 1 0 -3.5 0M155.0 136.3m-1.75 0a1.75 1.75 0 1 0 3.5 0a1.75 1.75 0 1 0 -3.5 0M175.1 136.3m-1.75 0a1.75 1.75 0 1 0 3.5 0a1.75 1.75 0 1 0 -3.5 0M199.4 133.9m-1.75 0a1.75 1.75 0 1 0 3.5 0a1.75 1.75 0 1 0 -3.5 0M110.1 146.1m-1.75 0a1.75 1.75 0 1 0 3.5 0a1.75 1.75 0 1 0 -3.5 0M145.3 142.3m-1.75 0a1.75 1.75 0 1 0 3.5 0a1.75 1.75 0 1 0 -3.5 0M165.0 142.3m-1.75 0a1.75 1.75 0 1 0 3.5 0a1.75 1.75 0 1 0 -3.5 0M184.9 142.3m-1.75 0a1.75 1.75 0 1 0 3.5 0a1.75 1.75 0 1 0 -3.5 0M220.2 146.1m-1.75 0a1.75 1.75 0 1 0 3.5 0a1.75 1.75 0 1 0 -3.5 0M122.9 148.4m-1.75 0a1.75 1.75 0 1 0 3.5 0a1.75 1.75 0 1 0 -3.5 0M135.3 148.4m-1.75 0a1.75 1.75 0 1 0 3.5 0a1.75 1.75 0 1 0 -3.5 0M153.6 151.2m-1.75 0a1.75 1.75 0 1 0 3.5 0a1.75 1.75 0 1 0 -3.5 0M176.5 151.2m-1.75 0a1.75 1.75 0 1 0 3.5 0a1.75 1.75 0 1 0 -3.5 0M194.8 148.4m-1.75 0a1.75 1.75 0 1 0 3.5 0a1.75 1.75 0 1 0 -3.5 0M207.4 148.4m-1.75 0a1.75 1.75 0 1 0 3.5 0a1.75 1.75 0 1 0 -3.5 0M165.0 154.0m-1.75 0a1.75 1.75 0 1 0 3.5 0a1.75 1.75 0 1 0 -3.5 0M144.7 159.6m-1.75 0a1.75 1.75 0 1 0 3.5 0a1.75 1.75 0 1 0 -3.5 0M185.4 159.6m-1.75 0a1.75 1.75 0 1 0 3.5 0a1.75 1.75 0 1 0 -3.5 0M132.8 164.6m-1.75 0a1.75 1.75 0 1 0 3.5 0a1.75 1.75 0 1 0 -3.5 0M157.8 166.2m-1.75 0a1.75 1.75 0 1 0 3.5 0a1.75 1.75 0 1 0 -3.5 0M172.3 166.2m-1.75 0a1.75 1.75 0 1 0 3.5 0a1.75 1.75 0 1 0 -3.5 0M197.1 164.6m-1.75 0a1.75 1.75 0 1 0 3.5 0a1.75 1.75 0 1 0 -3.5 0M121.3 169.4m-1.75 0a1.75 1.75 0 1 0 3.5 0a1.75 1.75 0 1 0 -3.5 0M208.8 169.4m-1.75 0a1.75 1.75 0 1 0 3.5 0a1.75 1.75 0 1 0 -3.5 0M148.0 175.0m-1.75 0a1.75 1.75 0 1 0 3.5 0a1.75 1.75 0 1 0 -3.5 0M182.1 175.0m-1.75 0a1.75 1.75 0 1 0 3.5 0a1.75 1.75 0 1 0 -3.5 0M165.0 178.8m-1.75 0a1.75 1.75 0 1 0 3.5 0a1.75 1.75 0 1 0 -3.5 0M140.7 185.3m-1.75 0a1.75 1.75 0 1 0 3.5 0a1.75 1.75 0 1 0 -3.5 0M189.1 185.3m-1.75 0a1.75 1.75 0 1 0 3.5 0a1.75 1.75 0 1 0 -3.5 0M165.0 191.4m-1.75 0a1.75 1.75 0 1 0 3.5 0a1.75 1.75 0 1 0 -3.5 0" fill="none" stroke="#2a2a2a" stroke-width="0.95"/>
<ellipse cx="165.00" cy="130.00" rx="60.60" ry="65.00" fill="none" stroke="#333" stroke-width="1.1"/>
<path d="M158.8 65.6C160.0 59.0 161.5 54.0 165.0 54.0C168.5 54.0 170.0 59.0 171.2 65.6" fill="none" stroke="#333" stroke-width="1.1"/>
<clipPath id="ha2"><ellipse cx="332.50" cy="130.00" rx="60.60" ry="65.00"/></clipPath>
<g clip-path="url(#ha2)">
<ellipse cx="332.50" cy="130.00" rx="60.60" ry="65.00" fill="#fff"/>
<path d="M351.8 99.0L354.6 98.6L357.5 100.4L359.8 104.2L361.4 109.3L362.0 114.3L362.1 119.4L361.6 125.5L359.9 135.6L359.9 138.6L360.4 140.6L361.6 142.6L363.7 144.6L376.3 153.7L379.4 156.8L381.7 159.8L383.6 163.8L383.9 166.9L383.2 169.9L381.3 172.9L379.1 174.9L375.7 177.0L367.8 179.5L356.5 180.9L340.5 181.4L318.8 181.2L303.8 180.0L298.1 178.9L293.4 177.5L290.0 176.0L286.8 173.6L284.7 170.9L283.4 166.9L283.7 163.8L285.4 159.8L287.6 156.8L290.5 153.7L302.4 144.6L309.4 137.9L311.3 137.9L316.1 140.6L318.8 141.6L327.3 143.0L332.0 143.2L335.8 142.8L338.6 141.9L340.5 140.6L341.8 138.6L342.7 135.6L344.4 117.4L346.1 108.3L348.6 102.2L349.9 100.5ZM309.4 123.9L310.0 125.5L309.4 126.3Z" fill="#ffc0c0" fill-rule="evenodd"/>
<path d="M397.9 59.8L397.9 151.2L395.1 152.2L392.3 152.5L389.5 152.1L385.7 150.7L381.9 148.6L377.2 145.2L373.1 141.6L370.4 138.6L368.7 135.6L367.5 131.5L365.8 112.3L364.7 106.3L363.6 102.2L361.9 98.2L359.3 94.5L356.5 92.3L353.7 91.7L350.9 92.4L349.0 93.8L346.9 96.2L344.6 100.2L341.9 108.3L338.1 127.5L336.7 130.8L334.9 132.9L333.0 133.8L330.1 133.8L327.3 132.6L324.8 130.5L322.2 126.5L317.7 113.3L315.1 108.3L312.3 105.2L310.4 104.3L308.5 104.4L305.7 106.3L302.8 111.2L301.0 117.4L297.9 132.5L296.1 136.6L293.4 140.3L285.9 147.0L282.1 149.5L278.4 151.5L275.5 152.4L272.7 152.7L269.9 152.3L267.1 151.2L267.1 59.8ZM320.7 185.0L365.9 185.7L381.0 186.5L390.4 187.7L397.9 189.6L397.9 200.2L267.1 200.2L267.1 189.6L268.0 189.3L276.5 187.3L285.9 186.2L301.0 185.4Z" fill="#c0c0ff" fill-rule="evenodd"/>
<path d="M352.7 102.2L354.6 102.2L355.6 102.6L357.5 104.6L359.3 109.2L360.1 114.3L359.7 122.4L355.8 136.6L355.4 139.6L355.6 141.6L356.6 143.6L358.4 145.4L370.6 153.0L373.9 155.8L376.3 158.8L377.8 161.8L378.2 164.8L377.5 167.9L375.4 170.9L373.2 172.9L369.7 174.9L365.9 176.4L361.2 177.6L349.9 179.0L334.9 179.4L317.9 178.9L306.6 177.4L298.1 174.8L294.8 172.9L292.4 170.9L290.8 168.9L289.6 165.9L289.6 162.8L290.6 159.8L292.6 156.8L295.3 154.0L303.8 148.3L308.5 146.1L312.3 145.3L330.1 145.9L336.7 145.6L340.8 144.6L343.8 142.6L344.9 140.6L345.4 138.6L345.8 123.4L347.1 112.2L348.2 108.3L349.5 105.3L350.9 103.4Z" fill="#ff8080" fill-rule="evenodd"/>
<path d="M397.9 59.8L397.9 142.3L396.1 143.9L393.2 145.3L390.4 145.9L387.6 145.6L384.8 144.7L381.9 143.1L378.8 140.6L375.8 137.6L373.1 133.5L371.0 128.5L367.3 107.3L366.1 102.2L364.2 97.2L362.0 93.1L359.3 90.1L356.5 88.3L353.7 87.9L350.9 88.6L348.0 90.5L345.7 93.1L343.8 96.2L340.9 103.2L336.0 121.4L334.9 123.7L333.0 125.6L332.0 125.9L330.1 125.6L327.3 123.0L324.6 118.4L319.2 107.3L315.1 101.4L313.2 99.8L311.3 98.9L309.4 98.6L307.5 98.9L305.7 100.0L303.8 101.9L301.2 106.3L298.9 112.3L294.4 128.6L292.5 132.7L289.7 136.9L284.8 141.6L279.3 144.8L274.6 145.5L271.8 144.9L269.9 144.0L267.1 141.8L267.1 59.8ZM308.5 187.1L326.4 186.5L345.2 186.7L362.2 187.5L376.3 188.9L388.5 191.4L393.7 193.1L397.9 195.0L397.9 200.2L267.1 200.2L267.1 195.1L274.6 192.0L281.2 190.2L288.7 188.9Z" fill="#8080ff" fill-rule="evenodd"/>
<path d="M351.8 107.1L353.7 106.3L355.6 107.2L356.3 108.3L357.5 111.3L358.0 116.4L357.4 121.4L355.6 127.3L352.7 133.1L350.9 135.1L349.9 135.0L348.6 132.5L348.0 128.9L348.0 123.4L349.0 113.3L349.9 110.3ZM349.0 144.9L350.9 145.2L365.0 152.4L369.8 155.8L372.4 158.8L373.4 160.8L373.9 162.8L373.6 165.9L371.9 168.9L369.7 170.9L365.9 173.2L362.2 174.6L356.5 176.0L343.3 177.3L325.4 177.3L313.2 176.2L304.3 173.9L301.0 172.5L298.1 170.7L295.4 167.9L294.4 165.9L293.9 163.8L294.1 161.8L294.8 159.8L296.2 157.6L301.0 153.3L307.5 149.9L311.3 148.8L315.1 148.3L338.6 147.7L343.3 146.8Z" fill="#ff4040" fill-rule="evenodd"/>
<path d="M397.9 59.8L397.9 131.9L396.1 134.8L394.2 136.9L392.3 138.2L389.5 139.1L387.6 139.1L384.8 138.2L382.3 136.6L380.1 134.5L377.2 130.5L374.5 124.4L372.8 118.4L369.0 101.2L367.4 96.2L365.5 92.1L363.1 88.4L360.3 85.6L357.5 84.0L353.7 83.4L350.9 84.0L348.0 85.6L345.3 88.1L343.3 90.6L340.0 97.2L334.9 112.2L333.6 114.3L332.0 115.6L331.1 115.6L329.2 114.3L321.2 101.2L318.1 97.2L315.1 94.4L312.3 92.8L309.4 92.2L306.6 92.7L304.7 93.7L301.9 96.3L298.9 101.2L296.4 107.3L291.2 123.4L289.4 127.5L286.8 131.7L284.0 135.0L280.2 137.6L276.5 138.5L272.7 137.5L269.9 135.2L267.1 131.3L267.1 59.8ZM319.8 188.0L333.9 187.8L348.0 188.2L360.3 189.0L371.6 190.4L381.0 192.3L387.6 194.4L393.0 197.2L396.2 200.2L268.8 200.2L270.7 198.2L274.6 195.7L279.3 193.7L285.9 191.8L301.0 189.4Z" fill="#4444ff" fill-rule="evenodd"/>
<path d="M353.7 114.2L354.2 115.4L354.3 117.4L353.7 119.9L352.7 120.9L351.9 119.4L351.9 117.4L352.7 114.5ZM339.6 149.7L347.1 148.8L349.9 148.9L354.6 150.2L362.2 153.4L366.9 156.6L369.4 159.8L370.3 162.8L369.7 165.9L367.8 168.5L365.0 170.6L361.2 172.4L357.5 173.6L346.2 175.3L331.1 175.6L317.9 174.8L308.5 172.8L304.7 171.3L301.9 169.7L299.8 167.9L298.0 164.8L297.9 161.8L298.6 159.8L299.9 157.8L303.4 154.7L308.5 152.2L312.3 151.1L317.9 150.3Z" fill="#ff0000" fill-rule="evenodd"/>
<path d="M282.1 60.7L284.8 59.8L379.1 59.8L386.5 62.8L389.5 64.8L391.4 66.6L394.1 70.9L395.6 76.0L397.9 88.6L397.9 114.0L396.7 119.4L394.9 124.4L392.3 128.5L389.5 130.4L387.6 130.6L385.7 130.1L382.9 127.9L380.1 123.6L378.0 118.4L376.3 112.3L372.3 94.1L369.6 87.1L366.7 83.0L363.1 79.9L358.4 77.7L354.6 77.3L351.8 77.7L348.0 79.2L345.2 81.2L342.4 83.9L338.8 89.1L333.9 100.4L332.0 102.4L331.1 102.4L329.2 100.7L325.2 94.1L322.6 90.9L318.8 87.7L315.1 85.3L311.3 83.9L307.5 83.5L303.8 84.3L301.0 85.8L297.6 89.1L294.9 94.1L288.1 116.4L284.4 124.4L282.1 127.4L279.3 129.5L276.5 129.9L274.6 129.3L272.4 127.5L270.3 124.4L268.5 120.4L267.1 115.3L267.1 82.5L268.9 73.5L269.9 70.9L271.5 67.9L273.3 65.9L275.7 63.8ZM327.3 189.1L349.9 189.6L368.8 191.7L376.3 193.4L381.9 195.1L386.6 197.4L389.9 200.2L275.1 200.2L277.2 198.2L281.2 195.9L286.0 194.1L292.5 192.4L307.5 190.2Z" fill="#0000ff" fill-rule="evenodd"/>
<path d="M325.4 151.7L347.1 151.1L353.7 152.2L360.1 154.7L364.0 157.4L366.6 160.8L366.9 163.8L366.1 165.9L364.4 167.9L361.4 169.9L358.4 171.2L349.9 173.1L337.7 173.9L323.6 173.6L313.2 172.1L308.5 170.5L305.4 168.9L303.0 166.9L301.7 164.8L301.2 162.8L302.1 159.8L304.7 156.8L307.5 155.0L311.3 153.5L315.1 152.6Z" fill="#c00000" fill-rule="evenodd"/>
<path d="M330.1 62.8L334.9 62.8L339.3 63.8L341.5 64.9L342.6 65.9L343.1 66.9L342.6 68.9L340.0 71.9L334.9 76.7L332.0 78.0L329.2 77.0L320.1 70.9L318.3 68.9L318.1 67.9L318.5 66.9L319.5 65.9L321.5 64.9L324.5 63.8ZM277.4 93.8L279.3 93.3L281.2 94.5L282.7 98.2L283.1 102.2L282.7 107.3L281.3 112.3L279.3 115.4L277.4 116.2L275.8 115.4L274.6 113.6L273.5 110.3L273.1 106.3L273.4 102.2L274.4 98.2L275.5 95.8ZM385.7 99.2L387.4 99.2L388.5 100.2L389.5 102.2L390.2 105.3L390.4 108.3L389.9 111.3L389.2 113.3L388.5 114.2L387.6 114.7L386.5 114.3L385.1 112.3L383.8 107.5L384.1 102.2L384.8 100.2ZM312.3 191.0L323.6 190.3L335.8 190.2L347.1 190.6L358.4 191.7L367.8 193.2L375.3 195.1L380.3 197.2L384.4 200.2L280.6 200.2L284.7 197.2L291.5 194.6L301.0 192.5Z" fill="#0000c8" fill-rule="evenodd"/>
<path d="M319.8 153.7L344.3 153.0L351.8 153.7L356.5 155.3L360.8 157.8L363.3 160.8L363.6 163.8L361.6 166.9L359.3 168.4L356.5 169.7L349.9 171.4L340.5 172.2L327.3 172.2L317.9 171.2L310.4 169.0L308.2 167.9L305.9 165.9L304.8 163.8L304.7 161.8L305.5 159.8L307.5 157.8L312.3 155.3Z" fill="#800000" fill-rule="evenodd"/>
<path d="M314.1 192.0L324.5 191.4L334.9 191.2L345.2 191.6L355.6 192.6L364.0 193.9L370.6 195.6L376.3 197.9L379.5 200.2L285.5 200.2L289.7 197.4L295.8 195.1L303.8 193.4Z" fill="#00008a" fill-rule="evenodd"/>
<path d="M329.2 154.7L345.2 154.7L351.8 155.7L355.6 157.1L358.4 159.0L360.3 161.8L360.1 163.8L358.8 165.9L357.5 166.9L352.7 169.0L345.2 170.3L334.9 170.7L324.5 170.4L317.0 169.2L311.0 166.9L309.4 165.5L308.3 163.8L308.2 161.8L309.2 159.8L311.3 158.1L313.2 157.1L319.8 155.4Z" fill="#400000" fill-rule="evenodd"/>
<path d="M315.1 193.1L333.9 192.2L351.8 193.3L360.3 194.6L366.7 196.2L371.9 198.2L374.9 200.2L290.1 200.2L293.1 198.2L299.1 195.9L306.6 194.2Z" fill="#0a0a40" fill-rule="evenodd"/>
</g>
<path d="M315.5 84.4m-1.75 0a1.75 1.75 0 1 0 3.5 0a1.75 1.75 0 1 0 -3.5 0M349.6 84.4m-1.75 0a1.75 1.75 0 1 0 3.5 0a1.75 1.75 0 1 0 -3.5 0M300.3 95.1m-1.75 0a1.75 1.75 0 1 0 3.5 0a1.75 1.75 0 1 0 -3.5 0M318.6 96.1m-1.75 0a1.75 1.75 0 1 0 3.5 0a1.75 1.75 0 1 0 -3.5 0M332.5 92.8m-1.75 0a1.75 1.75 0 1 0 3.5 0a1.75 1.75 0 1 0 -3.5 0M346.8 96.1m-1.75 0a1.75 1.75 0 1 0 3.5 0a1.75 1.75 0 1 0 -3.5 0M364.9 95.1m-1.75 0a1.75 1.75 0 1 0 3.5 0a1.75 1.75 0 1 0 -3.5 0M307.0 105.0m-1.75 0a1.75 1.75 0 1 0 3.5 0a1.75 1.75 0 1 0 -3.5 0M321.1 108.7m-1.75 0a1.75 1.75 0 1 0 3.5 0a1.75 1.75 0 1 0 -3.5 0M332.5 105.4m-1.75 0a1.75 1.75 0 1 0 3.5 0a1.75 1.75 0 1 0 -3.5 0M344.0 108.7m-1.75 0a1.75 1.75 0 1 0 3.5 0a1.75 1.75 0 1 0 -3.5 0M358.1 105.0m-1.75 0a1.75 1.75 0 1 0 3.5 0a1.75 1.75 0 1 0 -3.5 0M290.4 111.5m-1.75 0a1.75 1.75 0 1 0 3.5 0a1.75 1.75 0 1 0 -3.5 0M374.9 111.5m-1.75 0a1.75 1.75 0 1 0 3.5 0a1.75 1.75 0 1 0 -3.5 0M276.3 119.0m-1.75 0a1.75 1.75 0 1 0 3.5 0a1.75 1.75 0 1 0 -3.5 0M299.7 118.5m-1.75 0a1.75 1.75 0 1 0 3.5 0a1.75 1.75 0 1 0 -3.5 0M312.8 117.6m-1.75 0a1.75 1.75 0 1 0 3.5 0a1.75 1.75 0 1 0 -3.5 0M332.5 117.1m-1.75 0a1.75 1.75 0 1 0 3.5 0a1.75 1.75 0 1 0 -3.5 0M352.4 117.6m-1.75 0a1.75 1.75 0 1 0 3.5 0a1.75 1.75 0 1 0 -3.5 0M365.3 118.5m-1.75 0a1.75 1.75 0 1 0 3.5 0a1.75 1.75 0 1 0 -3.5 0M388.9 119.0m-1.75 0a1.75 1.75 0 1 0 3.5 0a1.75 1.75 0 1 0 -3.5 0M286.9 129.7m-1.75 0a1.75 1.75 0 1 0 3.5 0a1.75 1.75 0 1 0 -3.5 0M309.9 129.7m-1.75 0a1.75 1.75 0 1 0 3.5 0a1.75 1.75 0 1 0 -3.5 0M322.8 123.6m-1.75 0a1.75 1.75 0 1 0 3.5 0a1.75 1.75 0 1 0 -3.5 0M332.5 129.7m-1.75 0a1.75 1.75 0 1 0 3.5 0a1.75 1.75 0 1 0 -3.5 0M342.6 123.6m-1.75 0a1.75 1.75 0 1 0 3.5 0a1.75 1.75 0 1 0 -3.5 0M355.2 129.7m-1.75 0a1.75 1.75 0 1 0 3.5 0a1.75 1.75 0 1 0 -3.5 0M378.2 129.7m-1.75 0a1.75 1.75 0 1 0 3.5 0a1.75 1.75 0 1 0 -3.5 0M298.4 133.9m-1.75 0a1.75 1.75 0 1 0 3.5 0a1.75 1.75 0 1 0 -3.5 0M322.5 136.3m-1.75 0a1.75 1.75 0 1 0 3.5 0a1.75 1.75 0 1 0 -3.5 0M342.6 136.3m-1.75 0a1.75 1.75 0 1 0 3.5 0a1.75 1.75 0 1 0 -3.5 0M366.9 133.9m-1.75 0a1.75 1.75 0 1 0 3.5 0a1.75 1.75 0 1 0 -3.5 0M277.6 146.1m-1.75 0a1.75 1.75 0 1 0 3.5 0a1.75 1.75 0 1 0 -3.5 0M312.8 142.3m-1.75 0a1.75 1.75 0 1 0 3.5 0a1.75 1.75 0 1 0 -3.5 0M332.5 142.3m-1.75 0a1.75 1.75 0 1 0 3.5 0a1.75 1.75 0 1 0 -3.5 0M352.4 142.3m-1.75 0a1.75 1.75 0 1 0 3.5 0a1.75 1.75 0 1 0 -3.5 0M387.7 146.1m-1.75 0a1.75 1.75 0 1 0 3.5 0a1.75 1.75 0 1 0 -3.5 0M290.4 148.4m-1.75 0a1.75 1.75 0 1 0 3.5 0a1.75 1.75 0 1 0 -3.5 0M302.8 148.4m-1.75 0a1.75 1.75 0 1 0 3.5 0a1.75 1.75 0 1 0 -3.5 0M321.1 151.2m-1.75 0a1.75 1.75 0 1 0 3.5 0a1.75 1.75 0 1 0 -3.5 0M344.0 151.2m-1.75 0a1.75 1.75 0 1 0 3.5 0a1.75 1.75 0 1 0 -3.5 0M362.3 148.4m-1.75 0a1.75 1.75 0 1 0 3.5 0a1.75 1.75 0 1 0 -3.5 0M374.9 148.4m-1.75 0a1.75 1.75 0 1 0 3.5 0a1.75 1.75 0 1 0 -3.5 0M332.5 154.0m-1.75 0a1.75 1.75 0 1 0 3.5 0a1.75 1.75 0 1 0 -3.5 0M312.2 159.6m-1.75 0a1.75 1.75 0 1 0 3.5 0a1.75 1.75 0 1 0 -3.5 0M352.9 159.6m-1.75 0a1.75 1.75 0 1 0 3.5 0a1.75 1.75 0 1 0 -3.5 0M300.3 164.6m-1.75 0a1.75 1.75 0 1 0 3.5 0a1.75 1.75 0 1 0 -3.5 0M325.3 166.2m-1.75 0a1.75 1.75 0 1 0 3.5 0a1.75 1.75 0 1 0 -3.5 0M339.8 166.2m-1.75 0a1.75 1.75 0 1 0 3.5 0a1.75 1.75 0 1 0 -3.5 0M364.6 164.6m-1.75 0a1.75 1.75 0 1 0 3.5 0a1.75 1.75 0 1 0 -3.5 0M288.8 169.4m-1.75 0a1.75 1.75 0 1 0 3.5 0a1.75 1.75 0 1 0 -3.5 0M376.3 169.4m-1.75 0a1.75 1.75 0 1 0 3.5 0a1.75 1.75 0 1 0 -3.5 0M315.5 175.0m-1.75 0a1.75 1.75 0 1 0 3.5 0a1.75 1.75 0 1 0 -3.5 0M349.6 175.0m-1.75 0a1.75 1.75 0 1 0 3.5 0a1.75 1.75 0 1 0 -3.5 0M332.5 178.8m-1.75 0a1.75 1.75 0 1 0 3.5 0a1.75 1.75 0 1 0 -3.5 0M308.2 185.3m-1.75 0a1.75 1.75 0 1 0 3.5 0a1.75 1.75 0 1 0 -3.5 0M356.6 185.3m-1.75 0a1.75 1.75 0 1 0 3.5 0a1.75 1.75 0 1 0 -3.5 0M332.5 191.4m-1.75 0a1.75 1.75 0 1 0 3.5 0a1.75 1.75 0 1 0 -3.5 0" fill="none" stroke="#2a2a2a" stroke-width="0.95"/>
<ellipse cx="332.50" cy="130.00" rx="60.60" ry="65.00" fill="none" stroke="#333" stroke-width="1.1"/>
<path d="M326.3 65.6C327.5 59.0 329.0 54.0 332.5 54.0C336.0 54.0 337.5 59.0 338.7 65.6" fill="none" stroke="#333" stroke-width="1.1"/>
<clipPath id="ha3"><ellipse cx="493.50" cy="130.00" rx="60.60" ry="65.00"/></clipPath>
<g clip-path="url(#ha3)">
<ellipse cx="493.50" cy="130.00" rx="60.60" ry="65.00" fill="#fff"/>
<path d="M511.9 101.0L513.7 100.9L515.6 101.4L517.5 102.6L519.1 104.2L521.3 108.3L522.7 114.3L522.8 119.4L522.0 124.4L520.3 129.3L516.7 136.6L516.3 138.6L516.6 139.9L517.7 141.6L520.5 143.6L531.6 148.9L536.3 151.7L539.2 154.0L541.7 156.8L543.7 160.8L543.8 164.8L542.3 168.9L539.7 171.9L536.3 174.4L532.6 176.3L527.9 178.0L521.3 179.5L506.2 181.3L486.4 181.7L469.5 181.0L456.2 179.0L451.6 177.7L446.9 175.8L443.1 173.5L440.3 170.9L438.2 167.9L437.3 164.8L437.4 161.8L438.1 159.8L439.5 157.8L441.6 155.8L451.7 149.7L461.0 145.3L468.5 143.1L478.0 141.7L494.0 141.2L496.8 140.6L498.4 139.6L499.2 138.6L499.9 136.6L501.2 124.4L503.0 114.3L504.4 109.3L505.7 106.3L507.9 103.2L510.0 101.7ZM474.2 106.2L477.0 106.1L479.8 107.6L481.9 110.3L483.0 114.3L482.9 118.4L481.7 121.7L479.8 124.2L477.0 125.8L474.2 125.6L471.4 123.6L469.5 120.4L468.7 117.4L468.9 113.3L469.8 110.3L471.4 108.0Z" fill="#ffc0c0" fill-rule="evenodd"/>
<path d="M558.9 59.8L558.9 114.3L550.5 117.0L542.9 118.9L538.2 119.3L535.4 118.6L532.6 115.9L526.8 104.2L523.5 99.2L519.4 95.5L515.6 94.0L512.8 93.8L510.0 94.4L507.2 95.8L505.3 97.3L501.2 102.2L494.9 113.8L494.0 114.7L493.0 114.8L491.1 113.1L486.4 105.3L482.7 101.5L480.8 100.4L478.0 99.3L473.3 99.3L470.4 100.3L467.6 102.2L465.7 104.3L463.9 107.3L461.9 113.3L460.3 126.5L458.7 130.5L456.7 133.5L452.5 137.6L448.9 139.6L445.0 140.3L441.9 139.6L438.4 137.3L435.3 133.5L428.1 118.1L428.1 59.8ZM466.7 186.1L492.1 185.6L517.5 185.7L532.6 186.4L543.9 187.6L552.4 189.2L558.9 191.0L558.9 200.2L428.1 200.2L428.1 191.1L435.6 189.2L445.0 187.6Z" fill="#c0c0ff" fill-rule="evenodd"/>
<path d="M510.9 104.8L512.8 104.3L514.7 104.6L516.6 105.8L517.8 107.3L518.9 109.3L519.8 112.3L520.2 115.4L520.0 119.4L518.9 123.4L516.6 127.7L509.0 136.4L507.2 137.5L506.2 137.4L504.6 135.6L503.7 132.5L503.5 128.5L504.0 123.4L505.3 115.3L506.6 110.3L508.2 107.3ZM475.1 109.9L477.0 110.1L478.0 110.7L479.2 112.3L479.8 114.3L479.7 116.4L478.9 118.6L478.0 119.7L476.1 120.6L474.2 120.0L473.3 119.2L472.3 117.4L471.9 115.4L472.5 112.3L473.3 111.2ZM506.2 143.3L508.1 143.9L520.3 148.9L525.9 151.7L530.2 154.7L532.9 157.8L533.9 159.8L534.5 161.8L534.5 163.8L534.0 165.9L532.2 168.9L528.9 171.9L525.6 173.9L520.7 176.0L514.7 177.6L500.6 179.4L483.6 179.5L469.5 178.2L459.1 175.6L455.3 173.9L451.6 171.6L448.8 168.9L447.1 165.9L446.7 162.8L447.1 160.8L448.1 158.8L449.6 156.8L454.5 152.7L462.0 149.0L467.6 147.2L475.1 145.8L483.6 145.0L497.7 144.7Z" fill="#ff8080" fill-rule="evenodd"/>
<path d="M444.5 59.8L545.0 59.8L549.7 64.9L552.9 69.9L554.4 75.0L554.4 79.0L552.7 84.0L548.9 89.1L542.2 94.1L536.3 96.6L533.5 96.8L531.6 96.4L521.3 90.7L517.5 89.5L514.7 89.2L510.9 89.7L506.2 91.6L502.5 94.1L495.9 100.0L493.0 101.3L490.2 100.6L481.7 95.8L477.0 94.4L471.4 94.5L467.6 95.5L464.8 96.7L459.9 100.2L458.3 102.2L457.3 104.2L456.4 108.3L455.0 121.4L453.9 125.5L452.6 128.5L450.7 131.1L448.8 132.5L446.9 133.1L445.0 133.0L443.1 132.2L441.2 130.2L439.7 127.5L438.4 123.4L437.8 119.4L437.5 114.3L438.6 100.2L438.4 96.2L437.5 91.9L433.9 83.0L433.0 78.0L433.9 72.9L435.9 68.9L439.0 64.9ZM467.6 188.1L483.6 187.4L502.4 187.3L517.5 187.8L530.7 189.0L542.0 190.9L552.4 194.0L558.9 197.5L558.9 200.2L428.1 200.2L428.1 197.6L428.6 197.2L432.8 194.9L438.4 192.7L451.6 189.8Z" fill="#8080ff" fill-rule="evenodd"/>
<path d="M512.8 108.3L514.7 108.9L516.6 111.3L517.4 114.3L517.2 118.4L516.2 121.4L514.7 123.6L511.9 126.1L509.0 127.4L508.1 126.8L507.5 124.4L507.5 119.4L508.1 114.7L509.0 111.7L510.0 110.1L510.9 109.1ZM481.7 147.6L490.2 147.3L503.4 147.5L508.1 148.2L514.7 150.1L521.3 153.1L526.1 156.8L527.6 158.8L528.5 160.8L528.7 162.8L528.4 164.8L526.7 167.9L524.7 169.9L521.3 172.2L517.3 173.9L512.8 175.3L507.2 176.5L494.0 177.6L479.8 177.3L473.3 176.4L467.6 175.2L462.9 173.7L459.1 171.9L456.2 169.9L453.5 166.9L452.4 163.8L452.7 160.8L454.4 157.8L458.2 154.3L462.0 152.2L467.6 150.0L474.2 148.5Z" fill="#ff4040" fill-rule="evenodd"/>
<path d="M467.9 59.8L524.0 59.8L526.4 62.8L527.9 65.9L528.9 69.9L528.7 72.9L527.6 76.0L526.2 78.0L524.1 79.8L521.6 81.0L509.0 84.3L495.9 89.5L492.1 89.9L487.4 89.3L476.4 86.1L471.4 84.1L467.6 81.7L464.8 78.7L462.9 74.8L462.4 71.9L462.5 69.9L464.1 64.9ZM478.9 189.1L492.1 188.7L505.3 188.9L517.5 189.6L527.9 190.8L536.3 192.4L543.9 194.5L549.6 197.2L553.1 200.2L433.9 200.2L436.0 198.2L439.4 196.2L444.1 194.3L449.7 192.7L462.9 190.3Z" fill="#4444ff" fill-rule="evenodd"/>
<path d="M481.7 149.6L490.2 149.2L500.6 149.6L506.2 150.3L512.8 152.1L518.5 154.7L522.2 157.8L524.0 160.8L524.3 162.8L523.9 164.8L522.8 166.9L520.3 169.2L517.5 171.0L513.7 172.7L504.3 174.9L492.1 175.9L479.8 175.4L469.5 173.4L465.3 171.9L462.0 170.2L459.1 167.9L457.5 165.9L456.8 163.8L457.0 160.8L458.8 157.8L462.0 155.2L465.7 153.2L470.4 151.6L476.1 150.3Z" fill="#ff0000" fill-rule="evenodd"/>
<path d="M485.2 59.8L507.2 59.8L510.1 61.8L512.4 64.9L513.2 67.9L512.9 69.9L512.0 71.9L510.0 74.1L507.2 76.0L502.6 78.0L495.9 79.2L492.1 79.1L488.3 78.2L485.2 77.0L482.1 75.0L480.3 72.9L479.0 69.9L479.0 66.9L479.8 64.9L481.2 62.8ZM489.3 190.1L510.0 190.5L526.9 192.5L533.5 194.0L539.2 195.8L544.0 198.2L546.3 200.2L440.7 200.2L443.1 198.2L447.0 196.2L457.3 193.1L472.3 191.0Z" fill="#0000ff" fill-rule="evenodd"/>
<path d="M478.9 151.7L486.4 151.0L494.9 151.0L502.4 151.6L509.0 153.0L514.7 155.3L518.1 157.8L520.2 160.8L520.4 163.8L519.5 165.9L517.6 167.9L514.7 169.8L511.9 171.1L503.4 173.3L494.0 174.2L482.7 173.9L473.3 172.4L469.5 171.3L465.7 169.5L463.3 167.9L461.5 165.9L460.6 163.8L460.8 160.8L461.9 158.8L463.8 157.0L466.7 155.2L470.1 153.7Z" fill="#c00000" fill-rule="evenodd"/>
<path d="M475.1 192.1L485.5 191.4L496.8 191.3L507.2 191.7L516.6 192.6L525.0 193.9L531.6 195.6L537.3 197.9L540.4 200.2L446.6 200.2L451.3 197.2L457.1 195.1L465.7 193.3Z" fill="#0000c8" fill-rule="evenodd"/>
<path d="M484.6 152.7L497.7 152.8L503.4 153.5L508.3 154.7L512.8 156.8L515.3 158.8L516.7 160.8L516.9 163.8L515.8 165.9L514.7 167.0L511.9 168.9L509.0 170.1L501.5 171.9L492.1 172.7L482.7 172.3L474.2 170.8L470.4 169.5L467.6 168.0L466.1 166.9L464.5 164.8L463.9 162.8L464.3 160.8L465.6 158.8L468.3 156.8L475.1 154.1Z" fill="#800000" fill-rule="evenodd"/>
<path d="M478.9 193.1L496.8 192.5L513.7 193.6L526.6 196.2L531.9 198.2L534.9 200.2L452.1 200.2L455.4 198.1L462.0 195.8L470.0 194.1Z" fill="#00008a" fill-rule="evenodd"/>
<path d="M480.8 154.6L487.4 154.0L494.0 154.0L500.6 154.6L505.3 155.7L509.0 157.1L511.9 159.0L513.6 161.8L513.5 163.8L512.1 165.9L510.9 166.9L506.9 168.9L500.6 170.5L492.1 171.2L483.6 170.9L477.0 169.8L471.7 167.9L469.5 166.4L468.0 164.8L467.5 163.8L467.4 161.8L468.4 159.8L469.4 158.8L474.2 156.2Z" fill="#400000" fill-rule="evenodd"/>
<path d="M481.7 194.1L496.8 193.7L510.9 194.7L517.5 195.7L523.2 197.1L526.9 198.6L529.6 200.2L457.4 200.2L460.9 198.2L466.7 196.4L473.3 195.1Z" fill="#0a0a40" fill-rule="evenodd"/>
</g>
<path d="M476.5 84.4m-1.75 0a1.75 1.75 0 1 0 3.5 0a1.75 1.75 0 1 0 -3.5 0M510.6 84.4m-1.75 0a1.75 1.75 0 1 0 3.5 0a1.75 1.75 0 1 0 -3.5 0M461.3 95.1m-1.75 0a1.75 1.75 0 1 0 3.5 0a1.75 1.75 0 1 0 -3.5 0M479.6 96.1m-1.75 0a1.75 1.75 0 1 0 3.5 0a1.75 1.75 0 1 0 -3.5 0M493.5 92.8m-1.75 0a1.75 1.75 0 1 0 3.5 0a1.75 1.75 0 1 0 -3.5 0M507.8 96.1m-1.75 0a1.75 1.75 0 1 0 3.5 0a1.75 1.75 0 1 0 -3.5 0M525.9 95.1m-1.75 0a1.75 1.75 0 1 0 3.5 0a1.75 1.75 0 1 0 -3.5 0M468.0 105.0m-1.75 0a1.75 1.75 0 1 0 3.5 0a1.75 1.75 0 1 0 -3.5 0M482.1 108.7m-1.75 0a1.75 1.75 0 1 0 3.5 0a1.75 1.75 0 1 0 -3.5 0M493.5 105.4m-1.75 0a1.75 1.75 0 1 0 3.5 0a1.75 1.75 0 1 0 -3.5 0M505.0 108.7m-1.75 0a1.75 1.75 0 1 0 3.5 0a1.75 1.75 0 1 0 -3.5 0M519.1 105.0m-1.75 0a1.75 1.75 0 1 0 3.5 0a1.75 1.75 0 1 0 -3.5 0M451.4 111.5m-1.75 0a1.75 1.75 0 1 0 3.5 0a1.75 1.75 0 1 0 -3.5 0M535.9 111.5m-1.75 0a1.75 1.75 0 1 0 3.5 0a1.75 1.75 0 1 0 -3.5 0M437.3 119.0m-1.75 0a1.75 1.75 0 1 0 3.5 0a1.75 1.75 0 1 0 -3.5 0M460.7 118.5m-1.75 0a1.75 1.75 0 1 0 3.5 0a1.75 1.75 0 1 0 -3.5 0M473.8 117.6m-1.75 0a1.75 1.75 0 1 0 3.5 0a1.75 1.75 0 1 0 -3.5 0M493.5 117.1m-1.75 0a1.75 1.75 0 1 0 3.5 0a1.75 1.75 0 1 0 -3.5 0M513.4 117.6m-1.75 0a1.75 1.75 0 1 0 3.5 0a1.75 1.75 0 1 0 -3.5 0M526.3 118.5m-1.75 0a1.75 1.75 0 1 0 3.5 0a1.75 1.75 0 1 0 -3.5 0M549.9 119.0m-1.75 0a1.75 1.75 0 1 0 3.5 0a1.75 1.75 0 1 0 -3.5 0M447.9 129.7m-1.75 0a1.75 1.75 0 1 0 3.5 0a1.75 1.75 0 1 0 -3.5 0M470.9 129.7m-1.75 0a1.75 1.75 0 1 0 3.5 0a1.75 1.75 0 1 0 -3.5 0M483.8 123.6m-1.75 0a1.75 1.75 0 1 0 3.5 0a1.75 1.75 0 1 0 -3.5 0M493.5 129.7m-1.75 0a1.75 1.75 0 1 0 3.5 0a1.75 1.75 0 1 0 -3.5 0M503.6 123.6m-1.75 0a1.75 1.75 0 1 0 3.5 0a1.75 1.75 0 1 0 -3.5 0M516.2 129.7m-1.75 0a1.75 1.75 0 1 0 3.5 0a1.75 1.75 0 1 0 -3.5 0M539.2 129.7m-1.75 0a1.75 1.75 0 1 0 3.5 0a1.75 1.75 0 1 0 -3.5 0M459.4 133.9m-1.75 0a1.75 1.75 0 1 0 3.5 0a1.75 1.75 0 1 0 -3.5 0M483.5 136.3m-1.75 0a1.75 1.75 0 1 0 3.5 0a1.75 1.75 0 1 0 -3.5 0M503.6 136.3m-1.75 0a1.75 1.75 0 1 0 3.5 0a1.75 1.75 0 1 0 -3.5 0M527.9 133.9m-1.75 0a1.75 1.75 0 1 0 3.5 0a1.75 1.75 0 1 0 -3.5 0M438.6 146.1m-1.75 0a1.75 1.75 0 1 0 3.5 0a1.75 1.75 0 1 0 -3.5 0M473.8 142.3m-1.75 0a1.75 1.75 0 1 0 3.5 0a1.75 1.75 0 1 0 -3.5 0M493.5 142.3m-1.75 0a1.75 1.75 0 1 0 3.5 0a1.75 1.75 0 1 0 -3.5 0M513.4 142.3m-1.75 0a1.75 1.75 0 1 0 3.5 0a1.75 1.75 0 1 0 -3.5 0M548.7 146.1m-1.75 0a1.75 1.75 0 1 0 3.5 0a1.75 1.75 0 1 0 -3.5 0M451.4 148.4m-1.75 0a1.75 1.75 0 1 0 3.5 0a1.75 1.75 0 1 0 -3.5 0M463.8 148.4m-1.75 0a1.75 1.75 0 1 0 3.5 0a1.75 1.75 0 1 0 -3.5 0M482.1 151.2m-1.75 0a1.75 1.75 0 1 0 3.5 0a1.75 1.75 0 1 0 -3.5 0M505.0 151.2m-1.75 0a1.75 1.75 0 1 0 3.5 0a1.75 1.75 0 1 0 -3.5 0M523.3 148.4m-1.75 0a1.75 1.75 0 1 0 3.5 0a1.75 1.75 0 1 0 -3.5 0M535.9 148.4m-1.75 0a1.75 1.75 0 1 0 3.5 0a1.75 1.75 0 1 0 -3.5 0M493.5 154.0m-1.75 0a1.75 1.75 0 1 0 3.5 0a1.75 1.75 0 1 0 -3.5 0M473.2 159.6m-1.75 0a1.75 1.75 0 1 0 3.5 0a1.75 1.75 0 1 0 -3.5 0M513.9 159.6m-1.75 0a1.75 1.75 0 1 0 3.5 0a1.75 1.75 0 1 0 -3.5 0M461.3 164.6m-1.75 0a1.75 1.75 0 1 0 3.5 0a1.75 1.75 0 1 0 -3.5 0M486.3 166.2m-1.75 0a1.75 1.75 0 1 0 3.5 0a1.75 1.75 0 1 0 -3.5 0M500.8 166.2m-1.75 0a1.75 1.75 0 1 0 3.5 0a1.75 1.75 0 1 0 -3.5 0M525.6 164.6m-1.75 0a1.75 1.75 0 1 0 3.5 0a1.75 1.75 0 1 0 -3.5 0M449.8 169.4m-1.75 0a1.75 1.75 0 1 0 3.5 0a1.75 1.75 0 1 0 -3.5 0M537.3 169.4m-1.75 0a1.75 1.75 0 1 0 3.5 0a1.75 1.75 0 1 0 -3.5 0M476.5 175.0m-1.75 0a1.75 1.75 0 1 0 3.5 0a1.75 1.75 0 1 0 -3.5 0M510.6 175.0m-1.75 0a1.75 1.75 0 1 0 3.5 0a1.75 1.75 0 1 0 -3.5 0M493.5 178.8m-1.75 0a1.75 1.75 0 1 0 3.5 0a1.75 1.75 0 1 0 -3.5 0M469.2 185.3m-1.75 0a1.75 1.75 0 1 0 3.5 0a1.75 1.75 0 1 0 -3.5 0M517.6 185.3m-1.75 0a1.75 1.75 0 1 0 3.5 0a1.75 1.75 0 1 0 -3.5 0M493.5 191.4m-1.75 0a1.75 1.75 0 1 0 3.5 0a1.75 1.75 0 1 0 -3.5 0" fill="none" stroke="#2a2a2a" stroke-width="0.95"/>
<ellipse cx="493.50" cy="130.00" rx="60.60" ry="65.00" fill="none" stroke="#333" stroke-width="1.1"/>
<path d="M487.3 65.6C488.5 59.0 490.0 54.0 493.5 54.0C497.0 54.0 498.5 59.0 499.7 65.6" fill="none" stroke="#333" stroke-width="1.1"/>
<clipPath id="ha4"><ellipse cx="649.00" cy="130.00" rx="60.60" ry="65.00"/></clipPath>
<g clip-path="url(#ha4)">
<ellipse cx="649.00" cy="130.00" rx="60.60" ry="65.00" fill="#fff"/>
<path d="M667.4 94.0L670.2 94.1L672.1 95.0L675.3 98.2L677.6 103.2L678.8 110.3L678.6 115.4L677.5 120.4L670.6 135.6L669.6 138.6L669.6 140.6L670.8 142.6L672.1 143.6L681.5 148.1L685.6 150.7L689.0 153.7L691.4 156.8L693.8 161.8L694.3 165.9L693.1 169.9L690.9 172.8L688.2 174.9L684.0 177.0L678.7 178.6L672.1 179.9L655.1 181.5L633.5 181.9L618.2 181.0L606.5 179.0L601.4 177.4L597.7 175.6L593.9 173.1L591.6 170.9L589.6 167.9L588.7 163.8L589.2 160.8L591.0 157.8L593.2 155.8L596.3 153.7L610.9 146.3L617.5 143.9L626.9 142.4L638.2 141.7L656.1 141.9L658.9 141.6L661.1 140.6L662.0 139.6L662.3 137.6L658.3 116.4L658.1 111.3L658.4 107.3L659.7 102.2L661.7 98.2L664.5 95.2ZM627.8 108.2L629.7 107.9L631.6 108.4L632.6 109.3L633.8 111.3L634.2 113.3L633.5 116.3L632.5 117.6L630.6 118.8L628.8 118.9L627.4 118.4L625.9 117.0L625.1 115.4L624.7 113.3L625.1 111.3L626.3 109.3Z" fill="#ffc0c0" fill-rule="evenodd"/>
<path d="M714.4 59.8L714.4 145.9L712.6 147.9L709.7 149.9L707.9 150.5L705.0 150.5L702.2 149.5L699.4 147.5L693.8 141.6L688.0 133.5L685.5 128.5L684.6 124.4L683.0 107.3L681.7 102.2L680.2 98.2L677.7 94.1L674.9 91.2L672.1 89.6L669.2 88.9L665.5 89.5L662.7 91.0L659.8 93.7L657.5 97.2L655.7 101.2L654.4 105.3L651.4 121.1L650.4 123.5L648.5 125.3L646.6 125.8L644.8 125.5L643.8 124.8L642.9 123.4L641.2 112.3L639.7 108.3L637.6 105.3L635.3 103.2L632.5 101.7L629.7 101.2L626.9 101.4L624.0 102.6L622.2 103.9L620.0 106.3L618.8 108.3L617.6 111.3L617.0 114.3L616.7 122.4L616.2 125.5L614.6 128.5L611.2 132.5L606.0 137.6L601.4 140.1L598.6 140.6L596.7 140.5L593.0 138.9L591.1 137.3L588.9 134.5L583.6 124.5L583.6 59.8ZM628.8 186.0L674.9 185.6L690.0 186.4L701.3 187.7L707.9 189.0L714.4 190.9L714.4 200.2L583.6 200.2L583.6 191.2L593.0 188.9L602.4 187.6L613.7 186.6Z" fill="#c0c0ff" fill-rule="evenodd"/>
<path d="M666.4 96.7L668.3 96.3L670.2 96.6L672.1 97.6L673.6 99.2L674.9 101.2L676.1 104.2L677.0 110.3L676.3 116.4L674.4 121.4L669.2 129.9L667.4 131.8L666.4 132.0L665.5 131.7L664.5 130.7L662.8 126.5L660.5 117.4L659.9 111.3L660.3 106.3L661.5 102.2L663.6 98.8ZM627.8 145.6L637.2 144.9L647.6 145.0L663.6 146.0L668.3 147.2L677.7 151.2L681.5 153.6L683.9 155.8L685.5 157.8L686.9 160.8L687.2 163.8L686.9 165.9L685.3 168.9L682.4 171.7L678.9 173.9L674.9 175.7L669.2 177.3L663.6 178.4L647.6 179.8L629.7 179.5L616.5 177.7L610.9 176.1L606.2 174.1L602.8 171.9L599.7 168.9L598.1 165.9L597.7 163.8L597.9 161.8L598.6 159.8L599.9 157.8L603.0 154.7L608.0 151.4L614.6 148.4L620.3 146.8Z" fill="#ff8080" fill-rule="evenodd"/>
<path d="M585.2 59.8L714.4 59.8L714.4 132.2L713.4 134.5L710.7 139.0L708.8 140.8L706.9 141.8L705.0 142.1L703.1 141.7L701.3 140.8L698.8 138.6L695.3 133.5L692.1 126.5L689.7 119.4L685.5 103.2L684.0 99.2L682.0 95.2L679.0 91.1L675.8 88.4L673.0 86.9L669.2 86.1L666.4 86.3L663.6 87.2L658.9 90.7L655.4 95.2L649.5 105.9L647.6 107.4L645.7 107.2L638.2 100.7L635.3 99.0L632.5 97.9L629.7 97.5L625.9 97.7L622.2 98.9L619.3 100.4L614.7 104.2L611.1 109.3L609.6 113.3L606.8 124.4L604.3 129.5L601.4 132.1L599.6 132.6L597.7 132.3L596.5 131.5L594.9 129.7L593.0 125.2L592.0 119.4L591.3 108.3L590.1 103.2L588.2 99.2L583.6 93.4L583.6 61.4ZM625.0 188.1L641.9 187.4L660.8 187.3L674.9 187.8L687.1 189.0L699.4 191.2L708.4 194.1L714.4 197.5L714.4 200.2L583.6 200.2L583.6 197.6L584.1 197.2L588.3 194.9L594.9 192.5L608.0 189.7Z" fill="#8080ff" fill-rule="evenodd"/>
<path d="M667.4 98.9L670.2 99.1L671.8 100.2L673.0 101.7L674.6 105.3L675.2 110.3L674.8 114.3L673.0 119.0L670.2 123.1L667.4 125.4L666.4 125.3L665.5 124.5L663.6 120.6L662.1 115.4L661.6 110.3L662.1 106.3L663.6 102.2L665.5 99.9ZM630.6 147.7L640.1 147.2L650.4 147.5L660.8 148.6L667.4 150.1L674.0 152.9L676.9 154.7L679.2 156.8L680.8 158.8L681.7 160.8L682.0 162.8L681.7 164.8L680.1 167.9L678.1 169.9L674.9 172.1L670.2 174.2L659.8 176.7L644.8 177.9L629.7 177.4L618.4 175.5L613.7 174.0L609.4 171.9L606.6 169.9L604.1 166.9L603.0 163.8L603.4 160.8L605.1 157.8L608.3 154.7L612.7 152.1L617.5 150.2L624.0 148.6Z" fill="#ff4040" fill-rule="evenodd"/>
<path d="M611.3 59.8L713.8 59.8L714.4 60.7L714.4 111.0L712.6 121.6L711.0 126.5L709.5 129.5L706.9 132.5L705.0 133.3L702.2 132.4L700.2 130.5L698.4 127.5L696.3 122.4L691.3 102.2L688.9 96.2L686.2 92.1L683.3 89.1L679.4 86.1L675.8 84.2L673.0 83.2L669.2 82.7L663.6 83.6L660.8 84.9L657.4 87.1L649.5 94.3L647.6 95.4L645.7 95.8L642.9 95.5L631.6 91.7L618.4 89.8L615.6 88.7L612.8 87.1L609.3 84.0L607.0 81.0L605.6 78.0L604.8 73.9L605.1 69.9L606.1 66.9L607.8 63.8ZM635.3 189.1L648.5 188.7L661.7 188.9L673.0 189.5L683.4 190.7L692.8 192.5L700.3 194.8L705.2 197.2L708.7 200.2L589.4 200.2L591.5 198.2L594.9 196.2L599.6 194.3L605.2 192.7L618.4 190.4Z" fill="#4444ff" fill-rule="evenodd"/>
<path d="M667.4 101.8L669.2 101.7L671.4 103.2L672.9 106.3L673.3 110.3L672.6 114.3L671.1 117.3L669.2 119.2L667.4 119.7L665.7 118.4L664.5 116.1L663.8 113.3L663.5 110.3L663.7 107.3L664.5 104.8L665.5 103.2ZM629.7 149.7L638.2 149.1L648.5 149.3L657.0 150.2L664.5 151.7L670.2 153.9L674.5 156.8L676.9 159.8L677.6 161.8L677.5 163.8L676.8 165.9L674.9 168.3L672.1 170.4L668.3 172.2L658.9 174.8L646.6 176.0L632.5 175.8L622.2 174.3L617.5 172.9L613.7 171.2L610.2 168.9L608.4 166.9L607.1 163.8L607.4 160.8L609.2 157.8L611.4 155.8L614.6 153.7L619.3 151.8L624.0 150.6Z" fill="#ff0000" fill-rule="evenodd"/>
<path d="M629.7 59.8L699.0 59.8L700.8 61.8L702.6 64.9L703.3 67.9L703.4 70.9L702.8 73.9L701.3 77.4L699.4 79.4L697.5 80.0L684.3 80.3L673.0 78.6L668.3 78.5L662.7 79.4L651.4 82.9L645.7 83.0L641.0 81.9L635.3 79.6L631.0 77.0L627.9 73.9L626.2 70.9L625.7 66.9L626.6 63.8ZM702.2 92.7L703.1 92.4L704.1 92.8L706.0 95.1L707.5 99.2L708.4 104.2L708.6 110.3L707.9 115.4L706.9 118.4L705.0 120.6L704.1 120.7L703.1 120.2L701.4 117.4L700.3 113.9L699.6 109.3L699.4 104.2L699.8 99.2L700.8 95.2ZM645.7 190.1L665.5 190.5L682.4 192.5L689.0 193.9L694.7 195.7L699.6 198.2L701.9 200.2L596.2 200.2L598.6 198.2L602.5 196.2L613.0 193.1L627.8 191.0Z" fill="#0000ff" fill-rule="evenodd"/>
<path d="M667.4 106.0L668.3 105.5L669.8 106.3L670.4 107.3L670.8 109.3L670.2 112.6L669.2 113.9L668.3 114.3L667.4 113.9L666.4 112.6L666.0 110.3L666.4 107.3ZM627.8 151.6L636.3 150.8L645.7 150.8L654.2 151.6L661.7 153.0L667.4 155.1L671.4 157.8L673.6 160.8L673.8 163.8L672.9 165.9L671.0 167.9L665.5 171.0L657.0 173.3L646.6 174.4L634.4 174.3L625.0 173.1L617.5 170.7L614.4 168.9L612.1 166.9L610.9 164.8L610.5 161.8L611.3 159.8L612.8 157.8L615.4 155.8L619.3 153.8Z" fill="#c00000" fill-rule="evenodd"/>
<path d="M647.9 59.8L681.6 59.8L684.7 62.8L685.2 63.8L685.3 65.9L684.3 67.9L683.3 68.9L680.5 70.5L677.7 71.4L660.8 73.3L654.2 73.2L650.4 72.4L647.6 71.1L645.7 69.7L644.2 67.9L643.6 65.9L643.9 63.8L645.3 61.8ZM631.6 192.1L652.3 191.3L662.7 191.7L672.1 192.5L680.5 193.9L687.1 195.6L692.8 197.9L695.9 200.2L602.2 200.2L606.9 197.2L612.7 195.1L621.2 193.3Z" fill="#0000c8" fill-rule="evenodd"/>
<path d="M631.6 152.7L639.1 152.2L647.6 152.5L655.1 153.3L660.8 154.6L665.5 156.5L668.6 158.8L670.0 160.8L670.2 163.8L668.2 166.9L665.5 168.7L662.7 170.0L655.1 171.9L644.8 172.9L634.4 172.8L625.9 171.6L619.3 169.4L616.8 167.9L614.8 165.9L613.8 163.8L613.7 161.8L614.5 159.8L616.4 157.8L619.3 155.9L622.2 154.7L626.9 153.4Z" fill="#800000" fill-rule="evenodd"/>
<path d="M634.4 193.1L652.3 192.5L669.2 193.6L675.8 194.7L682.2 196.2L687.4 198.2L690.4 200.2L607.6 200.2L610.9 198.1L617.5 195.8L625.0 194.2Z" fill="#00008a" fill-rule="evenodd"/>
<path d="M636.3 153.7L648.5 154.0L654.2 154.7L658.9 155.9L662.7 157.4L665.5 159.4L666.9 161.8L666.8 163.8L665.5 165.8L664.2 166.9L658.9 169.3L651.4 170.9L641.9 171.6L633.5 171.3L625.9 170.0L620.7 167.9L619.2 166.9L617.3 164.8L616.7 162.8L617.1 160.8L618.7 158.8L620.3 157.6L623.1 156.2L626.9 155.0Z" fill="#400000" fill-rule="evenodd"/>
<path d="M637.2 194.1L652.3 193.7L666.4 194.7L673.0 195.7L678.7 197.1L682.4 198.5L685.2 200.2L612.9 200.2L616.5 198.2L622.2 196.4L628.8 195.1Z" fill="#0a0a40" fill-rule="evenodd"/>
</g>
<path d="M632.0 84.4m-1.75 0a1.75 1.75 0 1 0 3.5 0a1.75 1.75 0 1 0 -3.5 0M666.1 84.4m-1.75 0a1.75 1.75 0 1 0 3.5 0a1.75 1.75 0 1 0 -3.5 0M616.8 95.1m-1.75 0a1.75 1.75 0 1 0 3.5 0a1.75 1.75 0 1 0 -3.5 0M635.1 96.1m-1.75 0a1.75 1.75 0 1 0 3.5 0a1.75 1.75 0 1 0 -3.5 0M649.0 92.8m-1.75 0a1.75 1.75 0 1 0 3.5 0a1.75 1.75 0 1 0 -3.5 0M663.3 96.1m-1.75 0a1.75 1.75 0 1 0 3.5 0a1.75 1.75 0 1 0 -3.5 0M681.4 95.1m-1.75 0a1.75 1.75 0 1 0 3.5 0a1.75 1.75 0 1 0 -3.5 0M623.5 105.0m-1.75 0a1.75 1.75 0 1 0 3.5 0a1.75 1.75 0 1 0 -3.5 0M637.6 108.7m-1.75 0a1.75 1.75 0 1 0 3.5 0a1.75 1.75 0 1 0 -3.5 0M649.0 105.4m-1.75 0a1.75 1.75 0 1 0 3.5 0a1.75 1.75 0 1 0 -3.5 0M660.5 108.7m-1.75 0a1.75 1.75 0 1 0 3.5 0a1.75 1.75 0 1 0 -3.5 0M674.6 105.0m-1.75 0a1.75 1.75 0 1 0 3.5 0a1.75 1.75 0 1 0 -3.5 0M606.9 111.5m-1.75 0a1.75 1.75 0 1 0 3.5 0a1.75 1.75 0 1 0 -3.5 0M691.4 111.5m-1.75 0a1.75 1.75 0 1 0 3.5 0a1.75 1.75 0 1 0 -3.5 0M592.8 119.0m-1.75 0a1.75 1.75 0 1 0 3.5 0a1.75 1.75 0 1 0 -3.5 0M616.2 118.5m-1.75 0a1.75 1.75 0 1 0 3.5 0a1.75 1.75 0 1 0 -3.5 0M629.3 117.6m-1.75 0a1.75 1.75 0 1 0 3.5 0a1.75 1.75 0 1 0 -3.5 0M649.0 117.1m-1.75 0a1.75 1.75 0 1 0 3.5 0a1.75 1.75 0 1 0 -3.5 0M668.9 117.6m-1.75 0a1.75 1.75 0 1 0 3.5 0a1.75 1.75 0 1 0 -3.5 0M681.8 118.5m-1.75 0a1.75 1.75 0 1 0 3.5 0a1.75 1.75 0 1 0 -3.5 0M705.4 119.0m-1.75 0a1.75 1.75 0 1 0 3.5 0a1.75 1.75 0 1 0 -3.5 0M603.4 129.7m-1.75 0a1.75 1.75 0 1 0 3.5 0a1.75 1.75 0 1 0 -3.5 0M626.4 129.7m-1.75 0a1.75 1.75 0 1 0 3.5 0a1.75 1.75 0 1 0 -3.5 0M639.3 123.6m-1.75 0a1.75 1.75 0 1 0 3.5 0a1.75 1.75 0 1 0 -3.5 0M649.0 129.7m-1.75 0a1.75 1.75 0 1 0 3.5 0a1.75 1.75 0 1 0 -3.5 0M659.1 123.6m-1.75 0a1.75 1.75 0 1 0 3.5 0a1.75 1.75 0 1 0 -3.5 0M671.7 129.7m-1.75 0a1.75 1.75 0 1 0 3.5 0a1.75 1.75 0 1 0 -3.5 0M694.7 129.7m-1.75 0a1.75 1.75 0 1 0 3.5 0a1.75 1.75 0 1 0 -3.5 0M614.9 133.9m-1.75 0a1.75 1.75 0 1 0 3.5 0a1.75 1.75 0 1 0 -3.5 0M639.0 136.3m-1.75 0a1.75 1.75 0 1 0 3.5 0a1.75 1.75 0 1 0 -3.5 0M659.1 136.3m-1.75 0a1.75 1.75 0 1 0 3.5 0a1.75 1.75 0 1 0 -3.5 0M683.4 133.9m-1.75 0a1.75 1.75 0 1 0 3.5 0a1.75 1.75 0 1 0 -3.5 0M594.1 146.1m-1.75 0a1.75 1.75 0 1 0 3.5 0a1.75 1.75 0 1 0 -3.5 0M629.3 142.3m-1.75 0a1.75 1.75 0 1 0 3.5 0a1.75 1.75 0 1 0 -3.5 0M649.0 142.3m-1.75 0a1.75 1.75 0 1 0 3.5 0a1.75 1.75 0 1 0 -3.5 0M668.9 142.3m-1.75 0a1.75 1.75 0 1 0 3.5 0a1.75 1.75 0 1 0 -3.5 0M704.2 146.1m-1.75 0a1.75 1.75 0 1 0 3.5 0a1.75 1.75 0 1 0 -3.5 0M606.9 148.4m-1.75 0a1.75 1.75 0 1 0 3.5 0a1.75 1.75 0 1 0 -3.5 0M619.3 148.4m-1.75 0a1.75 1.75 0 1 0 3.5 0a1.75 1.75 0 1 0 -3.5 0M637.6 151.2m-1.75 0a1.75 1.75 0 1 0 3.5 0a1.75 1.75 0 1 0 -3.5 0M660.5 151.2m-1.75 0a1.75 1.75 0 1 0 3.5 0a1.75 1.75 0 1 0 -3.5 0M678.8 148.4m-1.75 0a1.75 1.75 0 1 0 3.5 0a1.75 1.75 0 1 0 -3.5 0M691.4 148.4m-1.75 0a1.75 1.75 0 1 0 3.5 0a1.75 1.75 0 1 0 -3.5 0M649.0 154.0m-1.75 0a1.75 1.75 0 1 0 3.5 0a1.75 1.75 0 1 0 -3.5 0M628.7 159.6m-1.75 0a1.75 1.75 0 1 0 3.5 0a1.75 1.75 0 1 0 -3.5 0M669.4 159.6m-1.75 0a1.75 1.75 0 1 0 3.5 0a1.75 1.75 0 1 0 -3.5 0M616.8 164.6m-1.75 0a1.75 1.75 0 1 0 3.5 0a1.75 1.75 0 1 0 -3.5 0M641.8 166.2m-1.75 0a1.75 1.75 0 1 0 3.5 0a1.75 1.75 0 1 0 -3.5 0M656.3 166.2m-1.75 0a1.75 1.75 0 1 0 3.5 0a1.75 1.75 0 1 0 -3.5 0M681.1 164.6m-1.75 0a1.75 1.75 0 1 0 3.5 0a1.75 1.75 0 1 0 -3.5 0M605.3 169.4m-1.75 0a1.75 1.75 0 1 0 3.5 0a1.75 1.75 0 1 0 -3.5 0M692.8 169.4m-1.75 0a1.75 1.75 0 1 0 3.5 0a1.75 1.75 0 1 0 -3.5 0M632.0 175.0m-1.75 0a1.75 1.75 0 1 0 3.5 0a1.75 1.75 0 1 0 -3.5 0M666.1 175.0m-1.75 0a1.75 1.75 0 1 0 3.5 0a1.75 1.75 0 1 0 -3.5 0M649.0 178.8m-1.75 0a1.75 1.75 0 1 0 3.5 0a1.75 1.75 0 1 0 -3.5 0M624.7 185.3m-1.75 0a1.75 1.75 0 1 0 3.5 0a1.75 1.75 0 1 0 -3.5 0M673.1 185.3m-1.75 0a1.75 1.75 0 1 0 3.5 0a1.75 1.75 0 1 0 -3.5 0M649.0 191.4m-1.75 0a1.75 1.75 0 1 0 3.5 0a1.75 1.75 0 1 0 -3.5 0" fill="none" stroke="#2a2a2a" stroke-width="0.95"/>
<ellipse cx="649.00" cy="130.00" rx="60.60" ry="65.00" fill="none" stroke="#333" stroke-width="1.1"/>
<path d="M642.8 65.6C644.0 59.0 645.5 54.0 649.0 54.0C652.5 54.0 654.0 59.0 655.2 65.6" fill="none" stroke="#333" stroke-width="1.1"/>
<clipPath id="hb1"><ellipse cx="960.75" cy="130.00" rx="60.60" ry="65.00"/></clipPath>
<g clip-path="url(#hb1)">
<ellipse cx="960.75" cy="130.00" rx="60.60" ry="65.00" fill="#fff"/>
<path d="M977.2 98.1L979.1 97.6L981.0 97.8L983.9 99.2L985.7 101.0L987.1 103.2L988.7 108.3L989.2 112.3L988.8 117.4L985.0 134.5L985.1 137.6L986.0 139.6L987.6 141.1L989.5 142.0L998.9 144.9L1004.5 147.2L1020.6 155.8L1025.2 158.8L1026.2 159.8L1026.2 170.9L1025.3 171.9L1021.5 174.9L1017.8 177.0L1008.3 180.1L995.1 182.1L977.2 182.7L940.5 182.5L923.6 181.1L916.0 179.6L910.4 177.7L905.5 174.9L902.3 171.9L900.6 168.9L900.2 166.9L900.7 163.8L902.3 160.8L904.9 157.8L909.7 153.7L918.8 148.0L926.4 144.9L933.9 143.1L943.3 141.9L962.2 141.4L966.1 140.6L968.8 138.9L969.7 137.2L970.2 134.5L969.5 117.4L970.1 109.3L971.3 105.3L972.8 102.2L974.4 100.1ZM935.8 105.0L939.6 104.7L942.4 105.8L944.9 108.3L946.3 111.3L946.4 115.4L945.4 118.4L943.3 120.8L940.5 122.4L937.7 122.7L934.9 121.9L932.0 119.4L930.5 116.4L930.2 112.3L931.1 109.3L933.0 106.7Z" fill="#ffc0c0" fill-rule="evenodd"/>
<path d="M1026.2 59.8L1026.2 131.1L1022.4 135.7L1020.5 137.1L1017.7 138.1L1015.8 138.3L1013.0 137.8L1010.2 136.5L1007.4 134.4L1002.8 129.5L999.9 124.4L998.7 120.4L995.6 106.3L993.7 101.2L992.1 98.2L989.0 94.1L985.7 91.4L982.9 90.2L979.1 89.8L976.3 90.4L974.4 91.3L969.9 95.2L966.5 100.2L961.2 111.1L959.3 112.9L958.4 112.8L957.5 112.0L952.6 105.3L949.9 102.3L945.2 98.9L941.4 97.6L937.7 97.2L933.9 97.7L930.1 99.3L927.6 101.2L925.7 103.2L922.9 108.3L921.4 114.3L920.6 126.5L919.5 129.5L917.9 131.9L912.7 136.6L906.6 139.9L903.8 140.7L901.0 140.9L898.1 140.4L896.2 139.6L895.3 139.1L895.3 59.8ZM954.6 124.2L957.5 123.6L959.3 124.5L960.8 126.5L961.6 129.5L961.2 131.5L959.8 133.5L958.2 134.5L955.6 135.2L953.7 135.2L951.4 134.5L949.9 133.5L948.8 131.5L948.9 129.5L950.1 127.5L951.8 125.9ZM925.4 186.0L953.7 185.4L972.5 185.6L999.8 186.4L1015.8 187.9L1026.2 189.8L1026.2 200.2L895.3 200.2L895.3 189.5L907.5 187.3Z" fill="#c0c0ff" fill-rule="evenodd"/>
<path d="M977.2 102.2L980.1 101.5L981.9 102.2L983.3 103.2L985.2 106.3L986.3 111.3L986.2 114.3L985.6 118.4L981.9 130.5L978.9 138.6L979.3 140.6L981.2 142.6L984.9 144.6L997.0 148.0L1002.7 150.2L1008.3 153.5L1012.4 156.8L1015.7 160.8L1016.5 162.8L1016.9 164.8L1016.3 167.9L1015.2 169.9L1013.6 171.9L1011.2 173.9L1007.8 176.0L1003.6 177.7L998.9 179.0L987.6 180.7L973.5 181.2L944.7 181.0L931.1 179.9L924.5 178.5L919.8 176.9L916.0 174.9L912.2 171.9L910.6 169.9L909.4 166.9L909.3 163.8L910.3 160.8L911.5 158.8L914.2 155.8L917.9 152.9L921.7 150.7L928.3 148.0L937.7 145.9L945.2 145.2L963.1 144.7L967.8 144.2L972.5 142.6L974.9 140.6L975.6 138.6L973.7 131.5L972.9 127.5L972.3 119.4L972.3 113.3L972.9 109.3L973.9 106.3L975.3 103.9ZM937.7 109.3L938.9 109.3L940.5 110.1L941.8 112.3L941.7 114.3L941.2 115.4L940.3 116.4L938.6 117.0L936.7 116.6L935.8 115.9L934.7 113.3L934.9 112.1L935.8 110.3Z" fill="#ff8080" fill-rule="evenodd"/>
<path d="M1026.2 59.8L1026.2 96.6L1023.8 106.3L1021.9 116.4L1020.6 120.4L1018.7 123.9L1015.8 126.0L1013.0 126.1L1010.2 124.4L1008.3 122.0L1006.7 118.4L1004.9 109.3L1003.6 105.3L1001.1 100.2L998.6 96.2L994.4 91.1L990.4 87.7L985.7 85.1L981.0 84.3L977.2 84.8L972.5 86.9L968.2 90.1L961.2 96.9L958.4 98.2L955.6 97.9L946.2 93.7L940.5 92.2L933.9 92.0L930.1 92.8L927.3 93.9L922.6 97.0L918.7 101.2L915.8 106.3L911.3 116.4L908.5 120.7L906.6 122.3L904.7 123.0L901.9 122.6L900.0 121.1L898.1 118.5L895.3 111.9L895.3 59.8ZM940.5 187.0L959.3 186.6L976.3 186.9L993.2 187.8L1007.4 189.4L1017.7 191.5L1026.2 194.4L1026.2 200.2L895.3 200.2L895.3 194.2L901.9 191.8L909.4 190.0L917.9 188.7Z" fill="#8080ff" fill-rule="evenodd"/>
<path d="M978.2 107.0L980.1 106.7L981.9 108.2L982.7 110.3L983.0 113.3L982.4 117.4L981.0 121.7L979.1 125.5L978.2 126.2L977.2 126.0L976.3 124.3L975.5 120.4L975.2 116.4L975.4 113.3L976.0 110.3L976.9 108.3ZM976.3 146.1L980.1 146.5L994.2 149.8L1001.7 152.9L1006.4 156.2L1009.6 159.8L1010.6 161.8L1011.0 163.8L1010.9 165.9L1010.3 167.9L1008.2 170.9L1004.3 173.9L998.9 176.4L992.3 178.1L979.1 179.5L949.9 179.5L936.7 178.7L931.1 177.7L926.4 176.4L922.6 174.8L918.8 172.4L916.4 169.9L914.8 166.9L914.4 164.8L914.9 161.8L917.3 157.8L922.2 153.7L928.3 150.8L934.9 148.9L942.4 147.8L965.0 147.2Z" fill="#ff4040" fill-rule="evenodd"/>
<path d="M946.1 59.8L967.8 59.8L972.1 61.8L976.0 64.9L977.7 67.9L977.8 70.9L976.2 73.9L973.4 77.0L968.6 81.0L963.1 84.4L960.3 85.5L956.5 86.1L952.7 85.9L948.9 85.1L943.7 83.0L938.9 80.0L936.3 77.0L935.0 73.9L935.1 69.9L936.5 66.9L939.6 63.5ZM1013.0 109.6L1014.9 109.8L1016.2 111.3L1016.9 113.3L1017.0 115.4L1016.5 117.4L1015.1 119.4L1014.0 119.8L1012.1 119.2L1011.1 118.0L1010.6 116.4L1010.5 113.3L1011.1 111.4ZM946.2 188.1L961.2 187.8L975.3 188.1L988.5 188.9L1000.8 190.3L1010.2 192.2L1017.7 194.5L1023.0 197.2L1025.5 199.2L1026.2 200.2L895.3 200.2L896.9 198.2L901.0 195.6L905.7 193.7L912.3 191.8L926.4 189.5Z" fill="#4444ff" fill-rule="evenodd"/>
<path d="M944.3 149.7L977.2 148.8L981.9 149.3L990.4 151.0L997.0 153.2L1002.8 156.8L1004.8 158.8L1006.1 160.8L1006.9 163.8L1006.7 165.9L1005.5 168.6L1003.6 170.7L1000.8 172.8L997.9 174.3L989.5 176.8L978.2 177.9L949.0 177.9L937.7 177.1L932.0 175.9L926.6 173.9L923.1 171.9L920.0 168.9L918.6 165.9L918.5 162.8L919.8 159.8L922.6 156.7L926.4 154.1L931.1 152.1L937.7 150.5Z" fill="#ff0000" fill-rule="evenodd"/>
<path d="M948.0 189.1L961.2 188.8L973.5 189.1L985.7 189.9L996.1 191.2L1004.5 192.8L1012.1 195.1L1016.6 197.2L1020.3 200.2L901.1 200.2L903.2 198.2L906.6 196.2L911.3 194.3L917.0 192.7L930.1 190.5Z" fill="#0000ff" fill-rule="evenodd"/>
<path d="M941.4 151.7L949.0 151.1L976.3 150.8L981.0 151.1L987.6 152.2L995.1 154.6L999.8 157.5L1002.6 160.8L1003.3 162.8L1003.4 164.8L1002.8 166.9L1001.5 168.9L999.3 170.9L996.1 172.8L988.5 175.2L979.1 176.4L949.9 176.4L940.5 175.9L934.9 174.8L930.1 173.2L926.4 171.2L923.7 168.9L922.4 166.9L921.8 163.8L922.6 160.8L924.5 158.4L927.3 156.1L931.1 154.2L935.8 152.7Z" fill="#c00000" fill-rule="evenodd"/>
<path d="M949.0 190.1L971.6 190.1L982.9 190.8L992.3 191.9L999.8 193.4L1006.4 195.2L1011.1 197.2L1015.1 200.2L906.3 200.2L908.6 198.2L911.3 196.7L920.7 193.5L933.0 191.4Z" fill="#0000c8" fill-rule="evenodd"/>
<path d="M949.0 152.7L977.2 152.5L982.9 153.0L987.6 153.9L993.2 155.8L997.8 158.8L999.9 161.8L1000.3 164.8L999.6 166.9L998.0 168.9L993.2 172.0L985.7 174.1L977.2 174.9L949.0 174.9L940.5 174.3L935.8 173.3L931.1 171.5L928.3 169.8L925.6 166.9L924.9 164.8L925.3 161.8L927.3 158.9L930.1 156.8L933.9 155.1L938.6 153.7Z" fill="#800000" fill-rule="evenodd"/>
<path d="M948.0 191.1L968.8 190.9L979.1 191.5L988.5 192.6L996.7 194.1L1002.7 195.8L1007.9 198.2L1010.4 200.2L911.0 200.2L915.4 197.2L924.5 194.2L934.9 192.3Z" fill="#00008a" fill-rule="evenodd"/>
<path d="M942.4 154.7L949.0 154.2L963.1 154.5L975.3 154.1L983.8 154.7L989.5 156.2L994.4 158.8L996.9 161.8L997.3 164.8L995.6 167.9L993.2 169.8L991.1 170.9L985.7 172.6L978.2 173.4L949.0 173.5L943.3 173.2L938.6 172.4L934.9 171.2L932.0 169.8L929.5 167.9L928.2 165.9L927.8 163.8L928.3 161.8L929.7 159.8L932.0 158.0L934.9 156.5Z" fill="#400000" fill-rule="evenodd"/>
<path d="M948.0 192.1L966.9 191.8L984.8 193.2L992.3 194.5L998.5 196.2L1003.3 198.2L1006.1 200.2L915.3 200.2L920.2 197.2L926.4 195.1L935.8 193.3Z" fill="#0a0a40" fill-rule="evenodd"/>
</g>
<path d="M943.7 84.4m-1.75 0a1.75 1.75 0 1 0 3.5 0a1.75 1.75 0 1 0 -3.5 0M977.9 84.4m-1.75 0a1.75 1.75 0 1 0 3.5 0a1.75 1.75 0 1 0 -3.5 0M928.6 95.1m-1.75 0a1.75 1.75 0 1 0 3.5 0a1.75 1.75 0 1 0 -3.5 0M946.8 96.1m-1.75 0a1.75 1.75 0 1 0 3.5 0a1.75 1.75 0 1 0 -3.5 0M960.8 92.8m-1.75 0a1.75 1.75 0 1 0 3.5 0a1.75 1.75 0 1 0 -3.5 0M975.1 96.1m-1.75 0a1.75 1.75 0 1 0 3.5 0a1.75 1.75 0 1 0 -3.5 0M993.1 95.1m-1.75 0a1.75 1.75 0 1 0 3.5 0a1.75 1.75 0 1 0 -3.5 0M935.3 105.0m-1.75 0a1.75 1.75 0 1 0 3.5 0a1.75 1.75 0 1 0 -3.5 0M949.3 108.7m-1.75 0a1.75 1.75 0 1 0 3.5 0a1.75 1.75 0 1 0 -3.5 0M960.8 105.4m-1.75 0a1.75 1.75 0 1 0 3.5 0a1.75 1.75 0 1 0 -3.5 0M972.3 108.7m-1.75 0a1.75 1.75 0 1 0 3.5 0a1.75 1.75 0 1 0 -3.5 0M986.3 105.0m-1.75 0a1.75 1.75 0 1 0 3.5 0a1.75 1.75 0 1 0 -3.5 0M918.6 111.5m-1.75 0a1.75 1.75 0 1 0 3.5 0a1.75 1.75 0 1 0 -3.5 0M1003.1 111.5m-1.75 0a1.75 1.75 0 1 0 3.5 0a1.75 1.75 0 1 0 -3.5 0M904.6 119.0m-1.75 0a1.75 1.75 0 1 0 3.5 0a1.75 1.75 0 1 0 -3.5 0M928.0 118.5m-1.75 0a1.75 1.75 0 1 0 3.5 0a1.75 1.75 0 1 0 -3.5 0M941.1 117.6m-1.75 0a1.75 1.75 0 1 0 3.5 0a1.75 1.75 0 1 0 -3.5 0M960.8 117.1m-1.75 0a1.75 1.75 0 1 0 3.5 0a1.75 1.75 0 1 0 -3.5 0M980.7 117.6m-1.75 0a1.75 1.75 0 1 0 3.5 0a1.75 1.75 0 1 0 -3.5 0M993.5 118.5m-1.75 0a1.75 1.75 0 1 0 3.5 0a1.75 1.75 0 1 0 -3.5 0M1017.2 119.0m-1.75 0a1.75 1.75 0 1 0 3.5 0a1.75 1.75 0 1 0 -3.5 0M915.2 129.7m-1.75 0a1.75 1.75 0 1 0 3.5 0a1.75 1.75 0 1 0 -3.5 0M938.1 129.7m-1.75 0a1.75 1.75 0 1 0 3.5 0a1.75 1.75 0 1 0 -3.5 0M951.0 123.6m-1.75 0a1.75 1.75 0 1 0 3.5 0a1.75 1.75 0 1 0 -3.5 0M960.8 129.7m-1.75 0a1.75 1.75 0 1 0 3.5 0a1.75 1.75 0 1 0 -3.5 0M970.9 123.6m-1.75 0a1.75 1.75 0 1 0 3.5 0a1.75 1.75 0 1 0 -3.5 0M983.5 129.7m-1.75 0a1.75 1.75 0 1 0 3.5 0a1.75 1.75 0 1 0 -3.5 0M1006.4 129.7m-1.75 0a1.75 1.75 0 1 0 3.5 0a1.75 1.75 0 1 0 -3.5 0M926.7 133.9m-1.75 0a1.75 1.75 0 1 0 3.5 0a1.75 1.75 0 1 0 -3.5 0M950.7 136.3m-1.75 0a1.75 1.75 0 1 0 3.5 0a1.75 1.75 0 1 0 -3.5 0M970.9 136.3m-1.75 0a1.75 1.75 0 1 0 3.5 0a1.75 1.75 0 1 0 -3.5 0M995.2 133.9m-1.75 0a1.75 1.75 0 1 0 3.5 0a1.75 1.75 0 1 0 -3.5 0M905.8 146.1m-1.75 0a1.75 1.75 0 1 0 3.5 0a1.75 1.75 0 1 0 -3.5 0M941.1 142.3m-1.75 0a1.75 1.75 0 1 0 3.5 0a1.75 1.75 0 1 0 -3.5 0M960.8 142.3m-1.75 0a1.75 1.75 0 1 0 3.5 0a1.75 1.75 0 1 0 -3.5 0M980.7 142.3m-1.75 0a1.75 1.75 0 1 0 3.5 0a1.75 1.75 0 1 0 -3.5 0M1016.0 146.1m-1.75 0a1.75 1.75 0 1 0 3.5 0a1.75 1.75 0 1 0 -3.5 0M918.6 148.4m-1.75 0a1.75 1.75 0 1 0 3.5 0a1.75 1.75 0 1 0 -3.5 0M931.1 148.4m-1.75 0a1.75 1.75 0 1 0 3.5 0a1.75 1.75 0 1 0 -3.5 0M949.3 151.2m-1.75 0a1.75 1.75 0 1 0 3.5 0a1.75 1.75 0 1 0 -3.5 0M972.3 151.2m-1.75 0a1.75 1.75 0 1 0 3.5 0a1.75 1.75 0 1 0 -3.5 0M990.5 148.4m-1.75 0a1.75 1.75 0 1 0 3.5 0a1.75 1.75 0 1 0 -3.5 0M1003.1 148.4m-1.75 0a1.75 1.75 0 1 0 3.5 0a1.75 1.75 0 1 0 -3.5 0M960.8 154.0m-1.75 0a1.75 1.75 0 1 0 3.5 0a1.75 1.75 0 1 0 -3.5 0M940.4 159.6m-1.75 0a1.75 1.75 0 1 0 3.5 0a1.75 1.75 0 1 0 -3.5 0M981.2 159.6m-1.75 0a1.75 1.75 0 1 0 3.5 0a1.75 1.75 0 1 0 -3.5 0M928.6 164.6m-1.75 0a1.75 1.75 0 1 0 3.5 0a1.75 1.75 0 1 0 -3.5 0M953.5 166.2m-1.75 0a1.75 1.75 0 1 0 3.5 0a1.75 1.75 0 1 0 -3.5 0M968.1 166.2m-1.75 0a1.75 1.75 0 1 0 3.5 0a1.75 1.75 0 1 0 -3.5 0M992.9 164.6m-1.75 0a1.75 1.75 0 1 0 3.5 0a1.75 1.75 0 1 0 -3.5 0M917.0 169.4m-1.75 0a1.75 1.75 0 1 0 3.5 0a1.75 1.75 0 1 0 -3.5 0M1004.6 169.4m-1.75 0a1.75 1.75 0 1 0 3.5 0a1.75 1.75 0 1 0 -3.5 0M943.7 175.0m-1.75 0a1.75 1.75 0 1 0 3.5 0a1.75 1.75 0 1 0 -3.5 0M977.9 175.0m-1.75 0a1.75 1.75 0 1 0 3.5 0a1.75 1.75 0 1 0 -3.5 0M960.8 178.8m-1.75 0a1.75 1.75 0 1 0 3.5 0a1.75 1.75 0 1 0 -3.5 0M936.4 185.3m-1.75 0a1.75 1.75 0 1 0 3.5 0a1.75 1.75 0 1 0 -3.5 0M984.9 185.3m-1.75 0a1.75 1.75 0 1 0 3.5 0a1.75 1.75 0 1 0 -3.5 0M960.8 191.4m-1.75 0a1.75 1.75 0 1 0 3.5 0a1.75 1.75 0 1 0 -3.5 0" fill="none" stroke="#2a2a2a" stroke-width="0.95"/>
<ellipse cx="960.75" cy="130.00" rx="60.60" ry="65.00" fill="none" stroke="#333" stroke-width="1.1"/>
<path d="M954.5 65.6C955.8 59.0 957.2 54.0 960.8 54.0C964.2 54.0 965.8 59.0 967.0 65.6" fill="none" stroke="#333" stroke-width="1.1"/>
<clipPath id="hb2"><ellipse cx="1124.50" cy="130.00" rx="60.60" ry="65.00"/></clipPath>
<g clip-path="url(#hb2)">
<ellipse cx="1124.50" cy="130.00" rx="60.60" ry="65.00" fill="#fff"/>
<path d="M1146.6 105.2L1148.5 105.5L1150.4 107.2L1152.9 112.3L1154.6 119.4L1156.2 133.5L1157.0 136.4L1158.1 138.6L1160.9 141.6L1169.2 147.5L1175.3 152.7L1182.3 159.8L1186.1 164.8L1187.0 167.9L1186.4 170.9L1184.3 173.9L1181.9 176.0L1177.7 178.3L1172.7 180.0L1166.4 181.3L1157.9 182.2L1142.9 182.8L1099.5 182.4L1085.5 181.0L1074.1 178.5L1070.1 177.0L1066.2 174.9L1063.4 172.9L1060.6 169.9L1059.1 166.6L1059.1 162.6L1060.0 160.5L1061.9 158.4L1065.6 156.3L1078.8 151.4L1093.0 144.0L1097.7 142.2L1102.4 141.1L1110.8 140.3L1127.8 139.6L1131.6 138.9L1134.2 137.6L1136.1 135.6L1137.4 132.5L1139.6 118.4L1141.5 111.3L1143.8 107.1L1144.7 106.1Z" fill="#ffc0c0" fill-rule="evenodd"/>
<path d="M1189.9 59.8L1189.9 150.1L1186.2 150.6L1184.3 150.2L1181.5 148.8L1177.5 145.7L1173.4 140.6L1170.5 135.6L1168.6 130.5L1163.9 108.3L1162.4 103.2L1160.8 99.4L1157.7 94.1L1154.2 89.8L1150.4 87.1L1147.6 86.4L1145.7 86.8L1143.8 87.7L1141.0 90.6L1138.2 95.2L1131.6 108.8L1129.7 111.6L1126.9 114.5L1125.0 115.7L1122.1 116.7L1119.3 117.1L1116.5 116.9L1113.7 116.1L1110.8 114.8L1103.3 109.6L1100.5 108.9L1098.6 109.3L1096.7 111.0L1095.1 114.3L1094.3 117.4L1093.5 124.4L1091.6 130.5L1089.5 134.5L1086.5 138.6L1081.7 142.5L1076.9 144.4L1072.2 144.5L1067.9 142.6L1064.7 139.6L1062.1 135.6L1060.5 131.5L1059.1 125.5L1059.1 59.8ZM1091.1 186.0L1117.4 185.5L1136.3 185.6L1163.6 186.5L1180.5 188.0L1189.9 189.8L1189.9 200.2L1059.1 200.2L1059.1 189.8L1073.2 187.3Z" fill="#c0c0ff" fill-rule="evenodd"/>
<path d="M1146.6 117.1L1147.6 117.2L1148.5 118.2L1149.5 120.7L1150.0 124.4L1150.5 134.5L1151.3 137.6L1153.1 140.6L1154.9 142.6L1157.5 144.6L1166.4 149.6L1171.1 153.1L1175.6 157.8L1178.1 161.8L1179.0 165.9L1178.5 168.9L1176.8 171.9L1173.3 174.9L1169.5 177.0L1164.5 178.7L1158.1 180.0L1151.3 180.8L1140.0 181.2L1104.3 180.9L1093.0 179.6L1083.5 177.2L1076.9 173.8L1074.6 171.9L1072.2 168.9L1071.2 165.9L1071.3 163.8L1072.6 160.8L1074.3 158.8L1078.0 155.8L1082.7 152.7L1092.0 147.9L1097.7 146.0L1104.3 144.8L1131.6 143.5L1135.4 142.6L1139.1 140.6L1141.1 138.6L1142.7 135.6L1143.4 132.5L1144.3 121.4L1145.4 118.4Z" fill="#ff8080" fill-rule="evenodd"/>
<path d="M1110.8 59.8L1128.5 59.8L1132.0 61.8L1134.4 63.8L1136.1 65.9L1137.4 68.9L1137.7 72.9L1136.9 78.0L1134.8 87.1L1132.2 95.2L1129.9 100.2L1127.8 103.5L1125.0 106.3L1122.1 107.9L1119.3 108.4L1116.5 108.1L1113.7 106.8L1110.6 104.2L1108.2 101.2L1105.8 97.2L1103.6 92.1L1101.2 85.1L1099.6 77.0L1099.6 73.9L1100.2 70.9L1101.0 68.9L1103.0 65.9L1106.0 62.8ZM1179.6 67.7L1182.4 67.2L1185.2 67.6L1188.1 68.8L1189.9 70.2L1189.9 144.5L1187.1 145.6L1184.3 145.5L1181.5 144.2L1178.5 141.6L1175.7 137.6L1173.8 133.5L1172.3 128.5L1170.3 116.4L1169.6 106.3L1169.3 94.1L1169.5 85.1L1170.1 80.0L1171.7 75.0L1173.6 71.9L1176.8 69.1ZM1075.1 90.8L1077.9 90.4L1079.8 90.9L1082.6 93.0L1084.5 95.6L1086.4 99.6L1088.0 105.3L1088.8 110.3L1089.2 116.4L1088.4 125.5L1087.3 129.5L1085.4 133.5L1083.2 136.6L1080.7 138.7L1077.9 140.1L1075.1 140.5L1072.2 139.8L1070.4 138.7L1068.5 137.0L1066.6 134.2L1065.4 131.5L1064.2 127.5L1063.5 123.4L1063.2 118.4L1064.1 109.3L1066.6 100.7L1068.5 97.0L1070.4 94.4L1072.2 92.5ZM1104.3 187.1L1122.1 186.7L1139.1 186.9L1157.0 187.9L1171.1 189.4L1181.5 191.5L1189.9 194.4L1189.9 200.2L1059.1 200.2L1059.1 194.4L1065.6 192.0L1074.1 190.0L1082.6 188.6Z" fill="#8080ff" fill-rule="evenodd"/>
<path d="M1143.8 143.5L1146.6 143.2L1149.5 144.0L1164.5 151.8L1169.8 155.8L1173.0 159.8L1174.4 163.8L1174.4 165.9L1173.8 167.9L1171.9 170.9L1168.3 173.9L1164.1 176.0L1158.9 177.6L1152.3 178.9L1141.0 179.6L1109.0 179.5L1097.7 178.4L1088.2 175.8L1084.3 173.9L1081.4 171.9L1079.4 169.9L1077.7 166.9L1077.4 164.8L1077.7 162.8L1078.5 160.8L1080.9 157.8L1086.4 153.6L1093.9 149.9L1099.5 148.3L1107.1 147.2L1133.4 146.2L1137.2 145.5Z" fill="#ff4040" fill-rule="evenodd"/>
<path d="M1116.5 70.5L1118.4 70.1L1121.2 70.3L1123.1 71.2L1125.0 72.7L1127.7 77.0L1128.9 82.0L1128.6 89.1L1126.8 95.2L1125.1 98.2L1123.1 100.2L1121.2 101.3L1119.3 101.7L1117.4 101.5L1115.6 100.6L1112.7 97.8L1110.4 93.1L1109.2 87.1L1109.3 82.0L1110.6 77.0L1113.1 72.9ZM1183.4 80.9L1185.2 80.9L1187.1 81.6L1189.9 84.1L1189.9 138.7L1188.1 140.2L1185.2 140.8L1182.4 139.9L1180.5 138.4L1178.6 136.0L1176.8 132.5L1174.6 124.4L1173.4 113.3L1173.8 101.2L1175.6 91.1L1177.2 87.1L1178.6 84.5L1180.5 82.4ZM1075.1 102.2L1076.9 102.1L1078.8 102.7L1080.7 104.2L1082.3 106.3L1084.5 111.7L1085.4 118.4L1084.8 125.5L1083.0 130.5L1081.7 132.6L1079.8 134.5L1077.9 135.6L1076.0 136.0L1074.1 135.7L1072.2 134.7L1069.5 131.5L1067.6 126.5L1066.8 120.4L1067.3 114.3L1069.2 108.3L1071.8 104.2L1073.2 103.1ZM1109.9 188.1L1125.0 187.8L1139.1 188.1L1152.3 188.9L1164.5 190.3L1173.9 192.2L1181.5 194.5L1186.8 197.2L1189.3 199.2L1189.9 200.2L1059.1 200.2L1060.8 198.2L1064.7 195.8L1069.4 193.8L1076.0 191.9L1090.1 189.5Z" fill="#4444ff" fill-rule="evenodd"/>
<path d="M1145.7 146.9L1149.5 147.6L1157.9 151.1L1164.5 154.8L1167.9 157.8L1170.3 161.8L1170.7 163.8L1170.5 165.9L1169.2 168.9L1166.4 171.7L1162.6 174.0L1157.3 176.0L1151.3 177.3L1141.0 178.1L1110.8 178.0L1099.5 176.8L1091.1 174.4L1088.1 172.9L1085.2 170.9L1083.3 168.9L1081.9 165.9L1081.7 163.8L1082.2 161.8L1083.3 159.8L1085.0 157.8L1090.1 154.0L1096.7 151.2L1101.4 150.1L1108.0 149.2L1130.6 148.8Z" fill="#ff0000" fill-rule="evenodd"/>
<path d="M1117.4 80.8L1119.3 80.3L1120.9 81.0L1122.1 82.5L1123.0 85.1L1123.1 88.1L1122.3 91.1L1121.2 92.6L1119.3 93.6L1117.5 93.1L1116.5 92.1L1115.6 90.3L1115.0 88.1L1115.0 86.1L1115.6 83.5ZM1182.4 90.9L1184.3 90.1L1186.2 90.4L1188.1 91.7L1189.9 94.3L1189.9 132.1L1188.1 134.4L1185.2 135.6L1182.4 134.5L1180.6 132.5L1179.4 130.5L1177.4 124.4L1176.3 116.4L1176.3 108.3L1177.5 100.2L1179.6 94.4ZM1075.1 110.1L1076.9 110.0L1077.9 110.4L1079.8 112.3L1081.1 115.4L1081.7 119.4L1081.5 123.4L1080.1 127.5L1077.9 129.9L1076.0 130.5L1074.1 129.9L1072.2 127.9L1071.1 125.5L1070.4 121.4L1070.7 117.4L1071.5 114.3L1073.2 111.4ZM1112.7 189.1L1125.9 188.8L1138.2 189.2L1150.4 190.0L1160.8 191.3L1169.2 193.0L1176.1 195.1L1180.5 197.3L1184.0 200.2L1065.0 200.2L1067.1 198.2L1070.5 196.2L1075.7 194.1L1081.7 192.5L1094.8 190.4Z" fill="#0000ff" fill-rule="evenodd"/>
<path d="M1145.7 149.4L1150.4 150.3L1157.0 152.9L1162.0 155.8L1165.3 158.8L1167.1 161.8L1167.4 164.8L1166.2 167.9L1163.6 170.7L1159.8 172.9L1155.1 174.7L1150.4 175.8L1141.0 176.5L1111.8 176.5L1101.4 175.5L1093.9 173.4L1091.0 171.9L1088.2 169.9L1086.4 167.9L1085.5 165.9L1085.2 163.8L1085.7 161.8L1086.8 159.8L1088.2 158.1L1093.0 154.8L1098.6 152.6L1103.3 151.6L1109.0 151.0L1129.7 150.7Z" fill="#c00000" fill-rule="evenodd"/>
<path d="M1183.4 99.1L1185.2 98.6L1187.1 99.6L1188.8 102.2L1189.9 105.6L1189.9 122.8L1188.1 127.3L1187.1 128.5L1185.2 129.3L1183.4 128.7L1181.5 126.3L1179.8 121.4L1179.2 116.4L1179.2 110.3L1180.1 105.3L1181.5 101.4ZM1112.7 190.1L1135.3 190.1L1146.6 190.8L1156.0 192.0L1163.6 193.4L1170.2 195.2L1174.9 197.2L1178.8 200.2L1070.2 200.2L1072.5 198.2L1076.0 196.3L1084.5 193.6L1096.7 191.4Z" fill="#0000c8" fill-rule="evenodd"/>
<path d="M1144.7 151.4L1148.5 151.8L1153.2 153.3L1158.2 155.8L1161.7 158.4L1163.6 160.8L1164.4 163.8L1163.6 166.9L1160.9 169.9L1157.9 171.7L1153.2 173.5L1148.5 174.5L1141.0 175.1L1111.8 175.0L1103.3 174.2L1095.8 172.1L1093.0 170.6L1090.7 168.9L1089.1 166.9L1088.4 164.8L1088.8 161.8L1091.1 158.6L1095.4 155.8L1100.5 153.9L1109.9 152.5L1128.7 152.5Z" fill="#800000" fill-rule="evenodd"/>
<path d="M1185.2 110.9L1186.2 112.4L1186.4 114.3L1186.2 116.8L1185.2 118.3L1184.1 117.4L1183.6 114.3L1184.3 111.3ZM1112.7 191.1L1133.4 191.0L1152.3 192.6L1160.4 194.1L1166.4 195.8L1171.6 198.2L1174.2 200.2L1074.8 200.2L1079.2 197.2L1088.2 194.2L1099.5 192.2Z" fill="#00008a" fill-rule="evenodd"/>
<path d="M1145.7 153.2L1150.4 154.1L1154.2 155.6L1157.9 157.9L1160.6 160.8L1161.5 163.8L1161.1 165.9L1158.9 168.7L1156.0 170.6L1152.3 172.1L1147.6 173.1L1141.0 173.6L1126.9 173.3L1112.7 173.6L1104.3 172.8L1097.7 170.9L1094.8 169.4L1093.0 167.9L1091.4 164.8L1091.7 161.8L1094.2 158.8L1097.7 156.7L1102.4 155.1L1110.8 154.0L1126.9 154.2Z" fill="#400000" fill-rule="evenodd"/>
<path d="M1111.8 192.1L1130.6 191.8L1148.5 193.2L1156.0 194.5L1162.2 196.2L1167.1 198.2L1169.9 200.2L1079.1 200.2L1084.0 197.2L1090.1 195.1L1099.5 193.3Z" fill="#0a0a40" fill-rule="evenodd"/>
</g>
<path d="M1107.5 84.4m-1.75 0a1.75 1.75 0 1 0 3.5 0a1.75 1.75 0 1 0 -3.5 0M1141.6 84.4m-1.75 0a1.75 1.75 0 1 0 3.5 0a1.75 1.75 0 1 0 -3.5 0M1092.3 95.1m-1.75 0a1.75 1.75 0 1 0 3.5 0a1.75 1.75 0 1 0 -3.5 0M1110.6 96.1m-1.75 0a1.75 1.75 0 1 0 3.5 0a1.75 1.75 0 1 0 -3.5 0M1124.5 92.8m-1.75 0a1.75 1.75 0 1 0 3.5 0a1.75 1.75 0 1 0 -3.5 0M1138.8 96.1m-1.75 0a1.75 1.75 0 1 0 3.5 0a1.75 1.75 0 1 0 -3.5 0M1156.9 95.1m-1.75 0a1.75 1.75 0 1 0 3.5 0a1.75 1.75 0 1 0 -3.5 0M1099.0 105.0m-1.75 0a1.75 1.75 0 1 0 3.5 0a1.75 1.75 0 1 0 -3.5 0M1113.1 108.7m-1.75 0a1.75 1.75 0 1 0 3.5 0a1.75 1.75 0 1 0 -3.5 0M1124.5 105.4m-1.75 0a1.75 1.75 0 1 0 3.5 0a1.75 1.75 0 1 0 -3.5 0M1136.0 108.7m-1.75 0a1.75 1.75 0 1 0 3.5 0a1.75 1.75 0 1 0 -3.5 0M1150.1 105.0m-1.75 0a1.75 1.75 0 1 0 3.5 0a1.75 1.75 0 1 0 -3.5 0M1082.4 111.5m-1.75 0a1.75 1.75 0 1 0 3.5 0a1.75 1.75 0 1 0 -3.5 0M1166.9 111.5m-1.75 0a1.75 1.75 0 1 0 3.5 0a1.75 1.75 0 1 0 -3.5 0M1068.3 119.0m-1.75 0a1.75 1.75 0 1 0 3.5 0a1.75 1.75 0 1 0 -3.5 0M1091.7 118.5m-1.75 0a1.75 1.75 0 1 0 3.5 0a1.75 1.75 0 1 0 -3.5 0M1104.8 117.6m-1.75 0a1.75 1.75 0 1 0 3.5 0a1.75 1.75 0 1 0 -3.5 0M1124.5 117.1m-1.75 0a1.75 1.75 0 1 0 3.5 0a1.75 1.75 0 1 0 -3.5 0M1144.4 117.6m-1.75 0a1.75 1.75 0 1 0 3.5 0a1.75 1.75 0 1 0 -3.5 0M1157.3 118.5m-1.75 0a1.75 1.75 0 1 0 3.5 0a1.75 1.75 0 1 0 -3.5 0M1180.9 119.0m-1.75 0a1.75 1.75 0 1 0 3.5 0a1.75 1.75 0 1 0 -3.5 0M1078.9 129.7m-1.75 0a1.75 1.75 0 1 0 3.5 0a1.75 1.75 0 1 0 -3.5 0M1101.9 129.7m-1.75 0a1.75 1.75 0 1 0 3.5 0a1.75 1.75 0 1 0 -3.5 0M1114.8 123.6m-1.75 0a1.75 1.75 0 1 0 3.5 0a1.75 1.75 0 1 0 -3.5 0M1124.5 129.7m-1.75 0a1.75 1.75 0 1 0 3.5 0a1.75 1.75 0 1 0 -3.5 0M1134.6 123.6m-1.75 0a1.75 1.75 0 1 0 3.5 0a1.75 1.75 0 1 0 -3.5 0M1147.2 129.7m-1.75 0a1.75 1.75 0 1 0 3.5 0a1.75 1.75 0 1 0 -3.5 0M1170.2 129.7m-1.75 0a1.75 1.75 0 1 0 3.5 0a1.75 1.75 0 1 0 -3.5 0M1090.4 133.9m-1.75 0a1.75 1.75 0 1 0 3.5 0a1.75 1.75 0 1 0 -3.5 0M1114.5 136.3m-1.75 0a1.75 1.75 0 1 0 3.5 0a1.75 1.75 0 1 0 -3.5 0M1134.6 136.3m-1.75 0a1.75 1.75 0 1 0 3.5 0a1.75 1.75 0 1 0 -3.5 0M1158.9 133.9m-1.75 0a1.75 1.75 0 1 0 3.5 0a1.75 1.75 0 1 0 -3.5 0M1069.6 146.1m-1.75 0a1.75 1.75 0 1 0 3.5 0a1.75 1.75 0 1 0 -3.5 0M1104.8 142.3m-1.75 0a1.75 1.75 0 1 0 3.5 0a1.75 1.75 0 1 0 -3.5 0M1124.5 142.3m-1.75 0a1.75 1.75 0 1 0 3.5 0a1.75 1.75 0 1 0 -3.5 0M1144.4 142.3m-1.75 0a1.75 1.75 0 1 0 3.5 0a1.75 1.75 0 1 0 -3.5 0M1179.7 146.1m-1.75 0a1.75 1.75 0 1 0 3.5 0a1.75 1.75 0 1 0 -3.5 0M1082.4 148.4m-1.75 0a1.75 1.75 0 1 0 3.5 0a1.75 1.75 0 1 0 -3.5 0M1094.8 148.4m-1.75 0a1.75 1.75 0 1 0 3.5 0a1.75 1.75 0 1 0 -3.5 0M1113.1 151.2m-1.75 0a1.75 1.75 0 1 0 3.5 0a1.75 1.75 0 1 0 -3.5 0M1136.0 151.2m-1.75 0a1.75 1.75 0 1 0 3.5 0a1.75 1.75 0 1 0 -3.5 0M1154.3 148.4m-1.75 0a1.75 1.75 0 1 0 3.5 0a1.75 1.75 0 1 0 -3.5 0M1166.9 148.4m-1.75 0a1.75 1.75 0 1 0 3.5 0a1.75 1.75 0 1 0 -3.5 0M1124.5 154.0m-1.75 0a1.75 1.75 0 1 0 3.5 0a1.75 1.75 0 1 0 -3.5 0M1104.2 159.6m-1.75 0a1.75 1.75 0 1 0 3.5 0a1.75 1.75 0 1 0 -3.5 0M1144.9 159.6m-1.75 0a1.75 1.75 0 1 0 3.5 0a1.75 1.75 0 1 0 -3.5 0M1092.3 164.6m-1.75 0a1.75 1.75 0 1 0 3.5 0a1.75 1.75 0 1 0 -3.5 0M1117.3 166.2m-1.75 0a1.75 1.75 0 1 0 3.5 0a1.75 1.75 0 1 0 -3.5 0M1131.8 166.2m-1.75 0a1.75 1.75 0 1 0 3.5 0a1.75 1.75 0 1 0 -3.5 0M1156.6 164.6m-1.75 0a1.75 1.75 0 1 0 3.5 0a1.75 1.75 0 1 0 -3.5 0M1080.8 169.4m-1.75 0a1.75 1.75 0 1 0 3.5 0a1.75 1.75 0 1 0 -3.5 0M1168.3 169.4m-1.75 0a1.75 1.75 0 1 0 3.5 0a1.75 1.75 0 1 0 -3.5 0M1107.5 175.0m-1.75 0a1.75 1.75 0 1 0 3.5 0a1.75 1.75 0 1 0 -3.5 0M1141.6 175.0m-1.75 0a1.75 1.75 0 1 0 3.5 0a1.75 1.75 0 1 0 -3.5 0M1124.5 178.8m-1.75 0a1.75 1.75 0 1 0 3.5 0a1.75 1.75 0 1 0 -3.5 0M1100.2 185.3m-1.75 0a1.75 1.75 0 1 0 3.5 0a1.75 1.75 0 1 0 -3.5 0M1148.6 185.3m-1.75 0a1.75 1.75 0 1 0 3.5 0a1.75 1.75 0 1 0 -3.5 0M1124.5 191.4m-1.75 0a1.75 1.75 0 1 0 3.5 0a1.75 1.75 0 1 0 -3.5 0" fill="none" stroke="#2a2a2a" stroke-width="0.95"/>
<ellipse cx="1124.50" cy="130.00" rx="60.60" ry="65.00" fill="none" stroke="#333" stroke-width="1.1"/>
<path d="M1118.3 65.6C1119.5 59.0 1121.0 54.0 1124.5 54.0C1128.0 54.0 1129.5 59.0 1130.7 65.6" fill="none" stroke="#333" stroke-width="1.1"/>
<clipPath id="hb3"><ellipse cx="1283.75" cy="130.00" rx="60.60" ry="65.00"/></clipPath>
<g clip-path="url(#hb3)">
<ellipse cx="1283.75" cy="130.00" rx="60.60" ry="65.00" fill="#fff"/>
<path d="M1311.5 89.8L1313.4 89.9L1314.7 91.1L1315.4 94.1L1315.1 98.2L1313.9 102.2L1312.3 106.3L1304.8 118.4L1303.5 121.4L1302.6 126.5L1303.3 133.5L1304.8 137.6L1306.8 140.0L1310.6 142.5L1318.1 145.9L1321.9 148.1L1326.6 152.2L1330.4 156.8L1333.3 161.8L1334.7 166.9L1334.2 170.9L1333.2 172.9L1331.6 174.9L1328.9 177.0L1324.7 178.8L1314.4 181.1L1298.3 182.5L1276.7 182.7L1260.7 181.9L1247.4 180.0L1242.8 178.8L1238.1 177.0L1234.7 174.9L1232.3 172.9L1230.2 169.9L1229.5 166.9L1229.6 164.8L1230.4 162.8L1232.5 159.8L1236.0 156.8L1240.6 153.7L1247.5 150.0L1259.0 144.6L1262.4 142.6L1264.4 140.9L1266.3 138.5L1268.1 134.5L1269.3 129.5L1269.7 123.4L1269.9 122.4L1270.8 121.4L1282.3 118.0L1290.8 116.2L1294.6 114.3L1297.4 110.7L1302.1 100.5L1304.9 95.7L1308.7 91.4Z" fill="#ffc0c0" fill-rule="evenodd"/>
<path d="M1230.2 59.8L1287.8 59.8L1294.6 60.4L1313.4 60.1L1319.1 60.7L1323.9 61.8L1331.3 64.2L1338.3 65.9L1341.7 67.6L1345.4 71.4L1349.2 76.5L1349.2 151.9L1346.4 153.5L1343.5 153.8L1340.7 152.8L1337.9 150.8L1335.0 147.7L1331.7 142.6L1329.4 137.6L1327.9 132.5L1326.9 126.5L1326.3 118.4L1326.4 111.3L1327.0 103.2L1329.4 91.1L1334.4 77.0L1335.0 73.9L1334.8 71.9L1333.6 69.9L1331.3 68.5L1329.4 68.2L1323.8 68.6L1304.9 71.7L1301.2 72.7L1298.8 73.9L1297.4 75.7L1296.8 78.0L1296.9 87.1L1296.1 92.1L1294.3 97.2L1291.8 101.4L1288.9 104.2L1285.9 106.3L1280.1 109.3L1275.7 111.0L1271.0 111.3L1261.6 109.1L1258.8 109.3L1256.9 110.3L1255.7 112.3L1255.4 114.3L1255.8 117.4L1258.0 124.4L1257.9 127.5L1256.9 129.7L1255.0 132.2L1249.7 136.6L1241.8 140.5L1235.3 142.0L1229.6 141.4L1226.8 140.4L1224.0 138.6L1221.0 135.6L1218.3 131.5L1218.3 71.7L1223.0 65.7ZM1261.6 186.1L1313.4 186.2L1327.5 186.9L1339.8 188.2L1349.2 190.4L1349.2 200.2L1218.3 200.2L1218.3 190.6L1226.8 188.7L1236.2 187.3L1247.5 186.5Z" fill="#c0c0ff" fill-rule="evenodd"/>
<path d="M1307.8 100.6L1308.6 101.2L1308.2 103.2L1306.8 105.5L1305.9 106.2L1305.2 105.3L1305.7 103.2L1306.8 101.3ZM1286.1 122.4L1291.8 123.0L1293.6 124.1L1294.6 125.2L1295.6 128.5L1296.6 138.6L1297.4 140.6L1299.3 143.0L1303.4 145.7L1318.1 151.8L1322.5 154.7L1325.3 157.8L1327.2 160.8L1328.2 164.8L1327.5 168.9L1325.5 171.9L1323.2 173.9L1319.7 176.0L1315.3 177.6L1310.6 178.8L1299.3 180.4L1284.2 181.0L1269.2 180.5L1256.9 178.8L1248.1 176.0L1244.6 173.9L1242.1 171.9L1240.0 168.9L1239.2 165.9L1239.4 163.8L1240.1 161.8L1242.3 158.8L1245.7 155.8L1249.4 153.4L1264.4 146.7L1269.5 143.6L1271.4 141.6L1272.6 139.6L1274.8 130.5L1276.7 126.6L1278.6 124.8L1280.5 123.8L1283.3 122.8Z" fill="#ff8080" fill-rule="evenodd"/>
<path d="M1249.4 63.7L1258.8 63.3L1268.2 64.3L1275.7 66.3L1280.8 68.9L1283.1 70.9L1284.7 72.9L1287.5 79.0L1289.0 86.1L1288.5 92.1L1287.0 96.2L1284.2 100.2L1280.5 103.5L1275.7 106.4L1272.9 107.4L1270.1 107.7L1261.6 106.5L1258.8 106.5L1256.9 106.9L1255.0 107.9L1253.7 109.3L1252.5 112.3L1252.8 122.4L1252.3 124.4L1251.0 126.5L1246.6 130.4L1241.8 132.8L1237.1 133.8L1233.4 133.4L1229.6 131.7L1226.2 128.5L1223.6 124.4L1221.1 118.4L1219.3 111.3L1218.6 104.2L1218.7 97.2L1219.7 91.1L1221.1 86.1L1223.4 81.0L1225.9 77.0L1229.6 72.7L1233.4 69.7L1238.1 67.0L1243.7 64.9ZM1339.8 85.0L1341.7 84.3L1344.5 84.7L1347.3 87.0L1349.2 89.8L1349.2 142.7L1346.4 145.7L1343.5 146.7L1340.7 146.1L1338.8 144.9L1337.0 142.9L1334.8 139.6L1333.1 135.6L1332.0 131.5L1330.6 121.4L1330.7 109.3L1332.6 98.2L1334.1 93.3L1336.0 89.3L1337.9 86.7ZM1256.0 188.0L1273.9 187.4L1294.6 187.4L1310.6 188.0L1324.7 189.3L1337.0 191.5L1345.4 194.3L1349.2 196.2L1349.2 200.2L1218.3 200.2L1218.3 196.3L1222.1 194.4L1226.8 192.7L1240.0 189.7Z" fill="#8080ff" fill-rule="evenodd"/>
<path d="M1284.2 132.4L1285.2 132.3L1286.1 133.0L1286.6 134.5L1286.5 139.6L1287.6 141.6L1289.9 143.6L1295.3 146.7L1312.5 153.0L1316.2 155.0L1319.8 157.8L1322.0 160.8L1322.7 162.8L1323.0 164.8L1322.2 167.9L1320.0 170.9L1317.5 172.9L1314.4 174.7L1306.8 177.2L1296.5 178.8L1284.2 179.3L1272.0 178.9L1261.6 177.4L1253.1 174.6L1250.2 172.9L1247.8 170.9L1245.6 167.9L1245.0 164.8L1245.8 161.8L1247.9 158.8L1251.3 156.0L1255.2 153.7L1273.4 146.7L1278.8 143.6L1281.9 140.6L1282.6 138.6L1282.8 134.5L1283.3 133.3Z" fill="#ff4040" fill-rule="evenodd"/>
<path d="M1261.6 70.8L1267.3 70.8L1272.0 71.5L1276.7 73.5L1279.6 76.0L1282.4 80.0L1283.8 85.1L1283.7 90.1L1282.2 94.1L1280.5 96.8L1278.2 99.2L1274.8 101.6L1272.0 103.0L1267.3 103.9L1257.9 103.7L1255.0 104.3L1253.2 105.3L1251.3 107.1L1250.0 109.3L1248.1 118.4L1247.2 120.4L1245.6 122.2L1242.8 124.1L1239.0 125.3L1236.2 125.2L1233.4 124.2L1230.5 122.0L1227.7 117.8L1225.8 112.9L1224.7 107.3L1224.5 101.2L1225.0 96.2L1226.2 91.1L1228.4 86.1L1231.1 82.0L1233.9 79.0L1237.1 76.5L1240.9 74.5L1248.4 72.3ZM1341.7 93.1L1343.5 93.2L1345.4 94.3L1347.3 96.9L1349.2 101.3L1349.2 132.3L1347.8 135.6L1346.4 137.8L1344.5 139.3L1342.6 139.8L1340.7 139.2L1338.8 137.6L1336.5 133.5L1334.5 126.5L1333.7 118.4L1334.1 109.3L1335.8 101.2L1337.0 98.2L1338.8 95.2ZM1265.4 189.0L1279.5 188.6L1294.6 188.7L1307.8 189.4L1319.1 190.6L1328.5 192.3L1336.0 194.4L1342.1 197.2L1345.5 200.2L1222.1 200.2L1224.1 198.2L1227.4 196.2L1232.3 194.1L1237.1 192.7L1249.4 190.4Z" fill="#4444ff" fill-rule="evenodd"/>
<path d="M1279.5 148.6L1285.2 148.2L1290.8 149.0L1302.1 151.9L1309.6 154.7L1314.4 157.5L1317.2 160.5L1318.5 163.8L1318.0 166.9L1316.9 168.9L1314.8 170.9L1311.7 172.9L1307.8 174.6L1298.3 176.8L1286.1 177.7L1272.9 177.2L1262.6 175.4L1258.2 173.9L1255.0 172.4L1251.8 169.9L1250.3 167.9L1249.5 164.8L1250.2 161.8L1252.2 159.1L1255.1 156.8L1259.7 154.3L1264.4 152.6Z" fill="#ff0000" fill-rule="evenodd"/>
<path d="M1263.5 76.8L1267.3 76.2L1271.0 76.5L1274.7 78.0L1277.1 80.0L1278.9 83.0L1279.6 86.1L1279.1 90.1L1277.6 93.1L1274.6 96.2L1270.1 98.5L1266.3 99.4L1256.9 99.8L1252.2 101.2L1250.3 102.3L1248.3 104.2L1246.3 107.3L1243.7 112.5L1241.8 114.6L1240.0 115.4L1238.1 115.6L1235.2 114.3L1233.3 112.3L1231.8 109.3L1231.0 106.3L1230.7 102.2L1231.1 98.2L1231.8 95.2L1233.4 91.3L1235.3 88.4L1238.7 85.1L1242.8 82.7ZM1341.7 102.2L1343.5 102.3L1344.5 103.0L1345.9 105.3L1347.3 109.6L1348.0 115.4L1347.6 122.4L1346.4 127.5L1344.5 130.7L1342.6 131.6L1340.7 130.7L1338.8 127.8L1337.6 123.4L1337.1 118.4L1337.2 113.3L1338.0 108.3L1339.8 104.0ZM1271.0 190.1L1294.6 190.0L1305.9 190.7L1315.3 191.7L1323.8 193.3L1330.3 195.1L1335.1 197.2L1338.9 200.2L1228.7 200.2L1230.9 198.2L1234.7 196.2L1243.7 193.3L1256.0 191.2Z" fill="#0000ff" fill-rule="evenodd"/>
<path d="M1276.7 151.7L1283.3 151.0L1288.9 151.3L1296.5 152.7L1304.0 154.9L1308.7 157.0L1312.5 159.8L1314.3 162.8L1314.4 165.9L1313.4 167.9L1311.5 169.9L1305.9 173.0L1297.4 175.2L1287.0 176.1L1275.7 175.8L1266.3 174.4L1262.6 173.3L1258.8 171.7L1256.2 169.9L1254.3 167.9L1253.4 165.9L1253.6 162.8L1254.7 160.8L1256.9 158.6L1259.8 156.8L1264.5 154.7L1270.1 153.0Z" fill="#c00000" fill-rule="evenodd"/>
<path d="M1266.3 82.9L1268.2 82.3L1270.1 82.3L1272.0 83.0L1273.1 84.0L1274.0 86.1L1273.9 88.1L1272.9 90.1L1272.0 91.0L1270.1 92.0L1267.3 92.4L1264.4 91.6L1262.7 90.1L1262.2 88.1L1262.9 86.1L1264.6 84.0ZM1274.8 191.1L1295.5 191.2L1312.5 192.8L1320.0 194.3L1326.3 196.2L1330.7 198.2L1333.2 200.2L1234.3 200.2L1236.9 198.2L1239.0 197.1L1248.4 194.1L1260.7 192.1Z" fill="#0000c8" fill-rule="evenodd"/>
<path d="M1276.7 153.6L1283.3 153.1L1288.9 153.3L1295.5 154.4L1302.1 156.3L1306.8 158.6L1309.5 160.8L1310.7 162.8L1310.8 165.9L1309.6 167.9L1307.8 169.5L1302.1 172.3L1294.6 174.0L1285.2 174.7L1275.7 174.3L1267.3 172.8L1263.5 171.6L1260.7 170.1L1259.0 168.9L1257.4 166.9L1256.8 164.8L1257.1 162.8L1258.4 160.8L1260.7 158.8L1267.3 155.8Z" fill="#800000" fill-rule="evenodd"/>
<path d="M1276.7 192.1L1294.6 192.3L1309.6 193.8L1320.9 196.4L1325.2 198.2L1328.0 200.2L1239.5 200.2L1241.8 198.5L1244.5 197.2L1253.1 194.7L1263.5 193.0Z" fill="#00008a" fill-rule="evenodd"/>
<path d="M1274.8 155.7L1280.5 155.0L1287.0 155.0L1292.7 155.6L1298.3 157.0L1302.8 158.8L1305.7 160.8L1307.2 162.8L1307.5 164.8L1307.2 165.9L1305.9 167.8L1304.6 168.9L1300.2 171.0L1293.6 172.5L1285.2 173.2L1276.7 172.9L1270.1 171.8L1264.7 169.9L1262.6 168.5L1261.0 166.9L1260.4 165.9L1260.2 163.8L1261.1 161.8L1262.6 160.4L1267.3 157.7Z" fill="#400000" fill-rule="evenodd"/>
<path d="M1278.6 193.1L1293.6 193.3L1306.8 194.7L1317.3 197.2L1320.9 198.7L1323.1 200.2L1244.4 200.2L1249.4 197.5L1256.9 195.4L1267.3 193.8Z" fill="#0a0a40" fill-rule="evenodd"/>
</g>
<path d="M1266.7 84.4m-1.75 0a1.75 1.75 0 1 0 3.5 0a1.75 1.75 0 1 0 -3.5 0M1300.9 84.4m-1.75 0a1.75 1.75 0 1 0 3.5 0a1.75 1.75 0 1 0 -3.5 0M1251.6 95.1m-1.75 0a1.75 1.75 0 1 0 3.5 0a1.75 1.75 0 1 0 -3.5 0M1269.8 96.1m-1.75 0a1.75 1.75 0 1 0 3.5 0a1.75 1.75 0 1 0 -3.5 0M1283.8 92.8m-1.75 0a1.75 1.75 0 1 0 3.5 0a1.75 1.75 0 1 0 -3.5 0M1298.1 96.1m-1.75 0a1.75 1.75 0 1 0 3.5 0a1.75 1.75 0 1 0 -3.5 0M1316.1 95.1m-1.75 0a1.75 1.75 0 1 0 3.5 0a1.75 1.75 0 1 0 -3.5 0M1258.3 105.0m-1.75 0a1.75 1.75 0 1 0 3.5 0a1.75 1.75 0 1 0 -3.5 0M1272.3 108.7m-1.75 0a1.75 1.75 0 1 0 3.5 0a1.75 1.75 0 1 0 -3.5 0M1283.8 105.4m-1.75 0a1.75 1.75 0 1 0 3.5 0a1.75 1.75 0 1 0 -3.5 0M1295.3 108.7m-1.75 0a1.75 1.75 0 1 0 3.5 0a1.75 1.75 0 1 0 -3.5 0M1309.3 105.0m-1.75 0a1.75 1.75 0 1 0 3.5 0a1.75 1.75 0 1 0 -3.5 0M1241.6 111.5m-1.75 0a1.75 1.75 0 1 0 3.5 0a1.75 1.75 0 1 0 -3.5 0M1326.1 111.5m-1.75 0a1.75 1.75 0 1 0 3.5 0a1.75 1.75 0 1 0 -3.5 0M1227.6 119.0m-1.75 0a1.75 1.75 0 1 0 3.5 0a1.75 1.75 0 1 0 -3.5 0M1251.0 118.5m-1.75 0a1.75 1.75 0 1 0 3.5 0a1.75 1.75 0 1 0 -3.5 0M1264.1 117.6m-1.75 0a1.75 1.75 0 1 0 3.5 0a1.75 1.75 0 1 0 -3.5 0M1283.8 117.1m-1.75 0a1.75 1.75 0 1 0 3.5 0a1.75 1.75 0 1 0 -3.5 0M1303.7 117.6m-1.75 0a1.75 1.75 0 1 0 3.5 0a1.75 1.75 0 1 0 -3.5 0M1316.5 118.5m-1.75 0a1.75 1.75 0 1 0 3.5 0a1.75 1.75 0 1 0 -3.5 0M1340.2 119.0m-1.75 0a1.75 1.75 0 1 0 3.5 0a1.75 1.75 0 1 0 -3.5 0M1238.2 129.7m-1.75 0a1.75 1.75 0 1 0 3.5 0a1.75 1.75 0 1 0 -3.5 0M1261.1 129.7m-1.75 0a1.75 1.75 0 1 0 3.5 0a1.75 1.75 0 1 0 -3.5 0M1274.0 123.6m-1.75 0a1.75 1.75 0 1 0 3.5 0a1.75 1.75 0 1 0 -3.5 0M1283.8 129.7m-1.75 0a1.75 1.75 0 1 0 3.5 0a1.75 1.75 0 1 0 -3.5 0M1293.9 123.6m-1.75 0a1.75 1.75 0 1 0 3.5 0a1.75 1.75 0 1 0 -3.5 0M1306.5 129.7m-1.75 0a1.75 1.75 0 1 0 3.5 0a1.75 1.75 0 1 0 -3.5 0M1329.4 129.7m-1.75 0a1.75 1.75 0 1 0 3.5 0a1.75 1.75 0 1 0 -3.5 0M1249.7 133.9m-1.75 0a1.75 1.75 0 1 0 3.5 0a1.75 1.75 0 1 0 -3.5 0M1273.7 136.3m-1.75 0a1.75 1.75 0 1 0 3.5 0a1.75 1.75 0 1 0 -3.5 0M1293.9 136.3m-1.75 0a1.75 1.75 0 1 0 3.5 0a1.75 1.75 0 1 0 -3.5 0M1318.2 133.9m-1.75 0a1.75 1.75 0 1 0 3.5 0a1.75 1.75 0 1 0 -3.5 0M1228.8 146.1m-1.75 0a1.75 1.75 0 1 0 3.5 0a1.75 1.75 0 1 0 -3.5 0M1264.1 142.3m-1.75 0a1.75 1.75 0 1 0 3.5 0a1.75 1.75 0 1 0 -3.5 0M1283.8 142.3m-1.75 0a1.75 1.75 0 1 0 3.5 0a1.75 1.75 0 1 0 -3.5 0M1303.7 142.3m-1.75 0a1.75 1.75 0 1 0 3.5 0a1.75 1.75 0 1 0 -3.5 0M1339.0 146.1m-1.75 0a1.75 1.75 0 1 0 3.5 0a1.75 1.75 0 1 0 -3.5 0M1241.6 148.4m-1.75 0a1.75 1.75 0 1 0 3.5 0a1.75 1.75 0 1 0 -3.5 0M1254.1 148.4m-1.75 0a1.75 1.75 0 1 0 3.5 0a1.75 1.75 0 1 0 -3.5 0M1272.3 151.2m-1.75 0a1.75 1.75 0 1 0 3.5 0a1.75 1.75 0 1 0 -3.5 0M1295.3 151.2m-1.75 0a1.75 1.75 0 1 0 3.5 0a1.75 1.75 0 1 0 -3.5 0M1313.5 148.4m-1.75 0a1.75 1.75 0 1 0 3.5 0a1.75 1.75 0 1 0 -3.5 0M1326.1 148.4m-1.75 0a1.75 1.75 0 1 0 3.5 0a1.75 1.75 0 1 0 -3.5 0M1283.8 154.0m-1.75 0a1.75 1.75 0 1 0 3.5 0a1.75 1.75 0 1 0 -3.5 0M1263.4 159.6m-1.75 0a1.75 1.75 0 1 0 3.5 0a1.75 1.75 0 1 0 -3.5 0M1304.2 159.6m-1.75 0a1.75 1.75 0 1 0 3.5 0a1.75 1.75 0 1 0 -3.5 0M1251.6 164.6m-1.75 0a1.75 1.75 0 1 0 3.5 0a1.75 1.75 0 1 0 -3.5 0M1276.5 166.2m-1.75 0a1.75 1.75 0 1 0 3.5 0a1.75 1.75 0 1 0 -3.5 0M1291.1 166.2m-1.75 0a1.75 1.75 0 1 0 3.5 0a1.75 1.75 0 1 0 -3.5 0M1315.9 164.6m-1.75 0a1.75 1.75 0 1 0 3.5 0a1.75 1.75 0 1 0 -3.5 0M1240.0 169.4m-1.75 0a1.75 1.75 0 1 0 3.5 0a1.75 1.75 0 1 0 -3.5 0M1327.6 169.4m-1.75 0a1.75 1.75 0 1 0 3.5 0a1.75 1.75 0 1 0 -3.5 0M1266.7 175.0m-1.75 0a1.75 1.75 0 1 0 3.5 0a1.75 1.75 0 1 0 -3.5 0M1300.9 175.0m-1.75 0a1.75 1.75 0 1 0 3.5 0a1.75 1.75 0 1 0 -3.5 0M1283.8 178.8m-1.75 0a1.75 1.75 0 1 0 3.5 0a1.75 1.75 0 1 0 -3.5 0M1259.4 185.3m-1.75 0a1.75 1.75 0 1 0 3.5 0a1.75 1.75 0 1 0 -3.5 0M1307.9 185.3m-1.75 0a1.75 1.75 0 1 0 3.5 0a1.75 1.75 0 1 0 -3.5 0M1283.8 191.4m-1.75 0a1.75 1.75 0 1 0 3.5 0a1.75 1.75 0 1 0 -3.5 0" fill="none" stroke="#2a2a2a" stroke-width="0.95"/>
<ellipse cx="1283.75" cy="130.00" rx="60.60" ry="65.00" fill="none" stroke="#333" stroke-width="1.1"/>
<path d="M1277.5 65.6C1278.8 59.0 1280.2 54.0 1283.8 54.0C1287.2 54.0 1288.8 59.0 1290.0 65.6" fill="none" stroke="#333" stroke-width="1.1"/>
<clipPath id="hb4"><ellipse cx="1432.00" cy="130.00" rx="60.60" ry="65.00"/></clipPath>
<g clip-path="url(#hb4)">
<ellipse cx="1432.00" cy="130.00" rx="60.60" ry="65.00" fill="#fff"/>
<path d="M1457.0 97.8L1459.8 97.4L1461.7 98.6L1462.6 101.2L1462.4 105.3L1461.5 108.3L1459.6 112.3L1452.9 121.4L1451.2 124.4L1450.1 129.5L1450.4 135.7L1451.5 138.6L1453.3 140.6L1456.8 142.6L1465.4 145.7L1469.2 147.5L1473.0 150.4L1476.7 155.1L1480.1 161.8L1480.9 164.8L1481.3 167.9L1481.0 170.9L1480.4 172.9L1479.4 174.9L1477.7 176.9L1474.8 178.8L1471.7 180.0L1459.8 182.0L1442.8 183.0L1416.5 182.9L1403.3 182.1L1393.9 180.5L1386.7 178.0L1383.3 176.0L1381.1 173.9L1379.3 170.9L1378.9 167.9L1379.3 165.9L1380.2 163.8L1382.6 160.8L1385.9 157.8L1392.0 153.5L1410.0 143.6L1412.7 141.4L1414.5 138.6L1415.5 134.0L1414.9 129.5L1413.3 126.5L1408.1 119.4L1406.4 115.4L1406.3 112.3L1407.0 110.4L1408.0 109.4L1409.9 108.5L1412.7 108.3L1416.5 109.4L1423.1 112.5L1425.9 113.4L1429.6 113.9L1441.9 114.0L1443.8 113.3L1445.7 111.6L1452.2 101.8L1454.8 99.2Z" fill="#ffc0c0" fill-rule="evenodd"/>
<path d="M1497.4 59.8L1497.4 155.5L1496.5 157.1L1493.7 160.2L1491.8 160.9L1489.9 160.6L1488.0 159.3L1486.1 157.3L1483.3 153.0L1481.1 148.7L1478.2 140.6L1476.8 132.5L1476.5 124.4L1477.1 104.2L1476.2 97.2L1474.6 93.1L1471.3 89.1L1468.3 87.1L1464.5 86.1L1461.7 86.2L1458.8 86.9L1451.7 90.1L1446.6 93.6L1438.1 101.5L1435.3 103.2L1432.5 104.1L1428.7 104.4L1425.9 103.9L1423.1 102.7L1417.4 99.4L1414.6 98.5L1411.8 98.7L1407.0 100.9L1403.2 104.2L1401.9 106.3L1400.9 109.3L1400.8 114.3L1402.9 123.4L1403.2 127.5L1402.7 130.5L1401.5 133.5L1398.2 138.6L1394.8 142.0L1390.1 145.4L1385.4 147.9L1380.7 149.5L1376.9 150.2L1373.1 150.1L1369.4 149.0L1366.6 147.4L1366.6 59.8ZM1387.3 187.0L1404.2 186.4L1436.2 186.1L1489.0 187.2L1492.7 188.0L1497.4 189.7L1497.4 200.2L1366.6 200.2L1366.6 190.5L1376.0 188.3Z" fill="#c0c0ff" fill-rule="evenodd"/>
<path d="M1410.8 112.2L1412.7 111.8L1414.6 112.1L1417.2 113.3L1424.0 117.7L1426.8 118.5L1435.3 119.7L1438.1 120.8L1440.4 122.4L1442.0 124.4L1442.7 126.5L1443.1 129.5L1443.3 138.6L1443.8 140.6L1445.0 142.6L1447.4 144.6L1449.4 145.7L1462.6 150.1L1467.3 152.0L1471.1 154.5L1474.1 157.8L1476.3 161.8L1477.0 165.9L1476.4 169.9L1474.6 172.9L1472.4 174.9L1469.2 176.8L1460.7 179.4L1449.4 180.9L1433.4 181.5L1416.5 181.2L1404.2 179.8L1395.7 177.5L1392.0 175.6L1389.2 173.4L1386.6 169.9L1386.0 166.9L1386.6 163.8L1389.2 159.8L1392.9 156.5L1398.6 153.0L1416.5 145.2L1419.3 142.9L1420.7 140.6L1421.3 135.6L1420.4 129.5L1418.1 125.5L1412.7 120.6L1410.2 117.4L1409.5 114.3L1409.9 113.1Z" fill="#ff8080" fill-rule="evenodd"/>
<path d="M1492.8 59.8L1495.0 61.8L1496.3 63.8L1497.1 67.9L1496.5 71.9L1493.1 82.0L1492.5 86.1L1493.1 92.1L1497.4 111.7L1497.4 142.8L1496.3 146.7L1494.6 150.3L1493.5 151.7L1491.8 153.0L1489.9 153.2L1488.0 152.4L1484.9 148.7L1482.3 142.6L1480.6 133.5L1480.5 122.4L1481.8 110.3L1485.1 93.1L1485.2 88.1L1484.0 84.0L1481.4 80.5L1477.7 78.0L1473.0 76.9L1468.3 77.0L1463.5 77.6L1452.2 80.1L1448.5 81.4L1445.7 83.3L1443.8 85.5L1439.0 93.1L1436.2 96.6L1433.4 98.7L1430.6 99.5L1427.7 99.2L1424.3 97.2L1421.5 94.1L1417.4 88.5L1414.6 86.1L1411.8 85.6L1408.9 86.8L1407.0 88.5L1405.2 91.1L1400.5 100.2L1398.8 104.2L1397.6 110.3L1398.0 120.4L1397.7 124.4L1396.3 129.5L1393.5 134.5L1391.0 137.5L1388.7 139.6L1385.4 141.6L1382.6 142.6L1379.7 143.1L1376.9 143.0L1374.1 142.2L1371.4 140.6L1368.4 137.6L1366.6 134.7L1366.6 59.8ZM1407.0 188.1L1427.8 187.5L1449.4 187.7L1465.4 188.6L1481.4 190.4L1489.9 192.2L1496.4 195.1L1497.4 195.8L1497.4 200.2L1366.6 200.2L1366.6 196.2L1370.6 194.1L1376.0 192.2L1382.6 190.6L1389.2 189.5Z" fill="#8080ff" fill-rule="evenodd"/>
<path d="M1429.6 127.1L1431.5 126.8L1433.4 127.5L1434.5 128.5L1435.4 130.5L1435.6 132.5L1435.3 134.8L1434.4 137.2L1432.5 140.4L1431.5 140.3L1430.6 138.7L1428.4 133.5L1428.1 129.5L1428.7 128.0ZM1431.5 140.9L1432.5 140.7L1432.9 141.6L1435.4 143.6L1440.8 146.7L1446.4 148.7L1459.8 152.5L1463.5 154.0L1467.3 156.2L1470.3 158.8L1472.6 162.8L1473.0 164.8L1472.8 166.9L1471.6 169.9L1469.2 172.6L1466.4 174.5L1462.6 176.2L1457.9 177.6L1446.6 179.3L1430.6 179.8L1415.5 179.3L1404.2 177.5L1400.5 176.3L1396.7 174.6L1393.9 172.5L1391.6 169.9L1390.6 166.9L1391.0 163.8L1392.6 160.8L1396.7 157.0L1400.5 154.7L1405.2 152.6L1423.3 146.7L1428.7 143.6L1431.2 141.6Z" fill="#ff4040" fill-rule="evenodd"/>
<path d="M1377.5 59.8L1394.7 59.8L1399.6 61.8L1402.6 63.8L1404.4 65.9L1404.9 67.9L1404.3 70.9L1399.5 81.4L1397.1 89.1L1394.3 104.2L1393.2 118.4L1391.6 124.4L1389.7 128.5L1387.3 131.6L1384.4 133.8L1380.7 134.9L1377.9 134.6L1375.6 133.5L1373.1 131.4L1371.3 128.7L1369.7 125.5L1368.3 121.4L1366.6 110.8L1366.7 72.9L1368.0 68.9L1369.7 65.9L1372.4 62.8ZM1427.8 60.7L1432.5 60.7L1437.2 62.5L1440.0 65.3L1440.7 66.9L1441.0 68.9L1440.7 72.9L1439.7 78.0L1437.0 87.1L1434.4 91.8L1432.5 93.4L1430.6 94.1L1428.7 93.9L1426.8 92.8L1424.0 89.1L1421.0 81.0L1418.6 69.9L1418.9 66.9L1421.1 63.8L1424.3 61.8ZM1488.0 109.1L1489.0 108.4L1489.9 108.4L1490.9 108.9L1492.7 111.8L1494.6 118.4L1495.4 125.5L1495.3 133.5L1494.3 139.6L1492.7 143.6L1491.8 144.8L1489.9 145.7L1488.0 144.9L1485.9 141.6L1484.4 136.6L1483.8 131.5L1483.7 125.5L1484.5 118.4L1486.1 112.3ZM1416.5 189.0L1430.6 188.7L1444.7 188.9L1457.0 189.6L1468.3 190.8L1478.6 192.6L1486.1 194.7L1491.1 197.2L1494.2 200.2L1370.2 200.2L1372.2 198.2L1375.4 196.2L1380.3 194.1L1385.4 192.7L1398.6 190.4Z" fill="#4444ff" fill-rule="evenodd"/>
<path d="M1425.9 149.7L1431.5 149.1L1437.2 149.5L1451.3 152.5L1459.8 155.2L1464.4 157.8L1467.6 160.8L1468.9 163.8L1469.0 165.9L1468.5 167.9L1467.2 169.9L1464.5 172.3L1461.5 173.9L1457.0 175.7L1447.5 177.5L1434.4 178.2L1418.3 177.9L1408.0 176.4L1403.3 175.0L1399.5 173.1L1396.6 170.9L1395.1 168.9L1394.3 165.9L1395.0 162.8L1397.2 159.8L1400.5 157.3L1404.2 155.3L1409.9 153.2Z" fill="#ff0000" fill-rule="evenodd"/>
<path d="M1380.7 74.5L1382.6 74.0L1384.4 74.5L1386.2 76.0L1387.3 78.0L1388.4 84.0L1388.8 97.2L1388.4 108.3L1387.3 115.4L1386.2 118.4L1384.4 121.3L1382.6 122.9L1380.7 123.5L1378.8 123.1L1377.7 122.4L1376.0 120.5L1374.8 118.4L1373.1 112.3L1372.5 104.2L1373.1 93.7L1375.0 83.2L1377.1 78.0L1378.8 75.8ZM1429.6 76.3L1430.6 76.3L1431.5 77.0L1432.5 80.0L1432.1 83.0L1431.5 84.2L1430.6 85.1L1429.6 85.1L1428.7 84.2L1427.8 81.0L1428.3 78.0ZM1421.2 190.1L1444.7 190.1L1455.1 190.8L1464.5 191.9L1473.0 193.6L1479.6 195.4L1484.3 197.5L1487.7 200.2L1376.8 200.2L1379.0 198.2L1382.7 196.2L1392.0 193.3L1405.2 191.2Z" fill="#0000ff" fill-rule="evenodd"/>
<path d="M1422.1 152.6L1429.6 151.9L1436.2 152.0L1445.7 153.4L1454.1 155.4L1459.7 157.8L1463.5 160.7L1465.2 163.8L1465.1 166.9L1464.0 168.9L1461.9 170.9L1456.0 173.9L1447.5 175.8L1437.2 176.6L1422.1 176.5L1411.8 175.4L1407.0 174.2L1403.8 172.9L1400.6 170.9L1398.7 168.9L1397.7 166.9L1397.8 163.8L1399.5 161.0L1402.0 158.8L1405.7 156.8L1409.9 155.2Z" fill="#c00000" fill-rule="evenodd"/>
<path d="M1424.9 191.1L1444.7 191.3L1461.7 193.0L1468.3 194.3L1474.6 196.2L1479.1 198.2L1481.7 200.2L1382.4 200.2L1385.0 198.2L1387.3 197.0L1396.7 194.1L1409.9 192.0Z" fill="#0000c8" fill-rule="evenodd"/>
<path d="M1420.2 154.7L1427.8 154.0L1435.3 153.9L1443.8 154.9L1450.4 156.2L1456.0 158.3L1459.8 160.8L1461.4 162.8L1461.9 165.9L1461.1 167.9L1459.2 169.9L1454.1 172.6L1446.6 174.4L1437.2 175.2L1423.1 175.1L1412.7 173.9L1408.9 172.9L1405.2 171.3L1403.1 169.9L1401.4 167.9L1400.7 165.9L1400.9 163.8L1402.1 161.8L1404.3 159.8L1407.0 158.2L1410.8 156.7Z" fill="#800000" fill-rule="evenodd"/>
<path d="M1427.8 192.1L1444.7 192.4L1458.8 194.0L1464.6 195.1L1470.1 196.8L1473.4 198.2L1476.3 200.2L1387.6 200.2L1390.1 198.4L1392.7 197.2L1401.4 194.7L1413.6 192.9Z" fill="#00008a" fill-rule="evenodd"/>
<path d="M1426.8 155.7L1439.1 156.0L1445.0 156.8L1450.4 158.1L1454.4 159.8L1457.1 161.8L1458.4 163.8L1458.5 165.9L1457.5 167.9L1456.5 168.9L1454.1 170.4L1451.3 171.6L1443.8 173.2L1434.4 173.8L1422.1 173.6L1413.6 172.5L1409.9 171.3L1407.0 170.0L1405.6 168.9L1404.1 166.9L1403.8 164.8L1404.5 162.8L1406.5 160.8L1408.9 159.4L1416.5 157.0Z" fill="#400000" fill-rule="evenodd"/>
<path d="M1429.6 193.1L1443.8 193.5L1456.0 194.9L1465.5 197.2L1468.3 198.3L1471.4 200.2L1392.6 200.2L1394.8 198.7L1398.4 197.2L1406.4 195.1L1417.4 193.7Z" fill="#0a0a40" fill-rule="evenodd"/>
</g>
<path d="M1415.0 84.4m-1.75 0a1.75 1.75 0 1 0 3.5 0a1.75 1.75 0 1 0 -3.5 0M1449.1 84.4m-1.75 0a1.75 1.75 0 1 0 3.5 0a1.75 1.75 0 1 0 -3.5 0M1399.8 95.1m-1.75 0a1.75 1.75 0 1 0 3.5 0a1.75 1.75 0 1 0 -3.5 0M1418.1 96.1m-1.75 0a1.75 1.75 0 1 0 3.5 0a1.75 1.75 0 1 0 -3.5 0M1432.0 92.8m-1.75 0a1.75 1.75 0 1 0 3.5 0a1.75 1.75 0 1 0 -3.5 0M1446.3 96.1m-1.75 0a1.75 1.75 0 1 0 3.5 0a1.75 1.75 0 1 0 -3.5 0M1464.4 95.1m-1.75 0a1.75 1.75 0 1 0 3.5 0a1.75 1.75 0 1 0 -3.5 0M1406.5 105.0m-1.75 0a1.75 1.75 0 1 0 3.5 0a1.75 1.75 0 1 0 -3.5 0M1420.6 108.7m-1.75 0a1.75 1.75 0 1 0 3.5 0a1.75 1.75 0 1 0 -3.5 0M1432.0 105.4m-1.75 0a1.75 1.75 0 1 0 3.5 0a1.75 1.75 0 1 0 -3.5 0M1443.5 108.7m-1.75 0a1.75 1.75 0 1 0 3.5 0a1.75 1.75 0 1 0 -3.5 0M1457.6 105.0m-1.75 0a1.75 1.75 0 1 0 3.5 0a1.75 1.75 0 1 0 -3.5 0M1389.9 111.5m-1.75 0a1.75 1.75 0 1 0 3.5 0a1.75 1.75 0 1 0 -3.5 0M1474.4 111.5m-1.75 0a1.75 1.75 0 1 0 3.5 0a1.75 1.75 0 1 0 -3.5 0M1375.8 119.0m-1.75 0a1.75 1.75 0 1 0 3.5 0a1.75 1.75 0 1 0 -3.5 0M1399.2 118.5m-1.75 0a1.75 1.75 0 1 0 3.5 0a1.75 1.75 0 1 0 -3.5 0M1412.3 117.6m-1.75 0a1.75 1.75 0 1 0 3.5 0a1.75 1.75 0 1 0 -3.5 0M1432.0 117.1m-1.75 0a1.75 1.75 0 1 0 3.5 0a1.75 1.75 0 1 0 -3.5 0M1451.9 117.6m-1.75 0a1.75 1.75 0 1 0 3.5 0a1.75 1.75 0 1 0 -3.5 0M1464.8 118.5m-1.75 0a1.75 1.75 0 1 0 3.5 0a1.75 1.75 0 1 0 -3.5 0M1488.4 119.0m-1.75 0a1.75 1.75 0 1 0 3.5 0a1.75 1.75 0 1 0 -3.5 0M1386.4 129.7m-1.75 0a1.75 1.75 0 1 0 3.5 0a1.75 1.75 0 1 0 -3.5 0M1409.4 129.7m-1.75 0a1.75 1.75 0 1 0 3.5 0a1.75 1.75 0 1 0 -3.5 0M1422.3 123.6m-1.75 0a1.75 1.75 0 1 0 3.5 0a1.75 1.75 0 1 0 -3.5 0M1432.0 129.7m-1.75 0a1.75 1.75 0 1 0 3.5 0a1.75 1.75 0 1 0 -3.5 0M1442.1 123.6m-1.75 0a1.75 1.75 0 1 0 3.5 0a1.75 1.75 0 1 0 -3.5 0M1454.7 129.7m-1.75 0a1.75 1.75 0 1 0 3.5 0a1.75 1.75 0 1 0 -3.5 0M1477.7 129.7m-1.75 0a1.75 1.75 0 1 0 3.5 0a1.75 1.75 0 1 0 -3.5 0M1397.9 133.9m-1.75 0a1.75 1.75 0 1 0 3.5 0a1.75 1.75 0 1 0 -3.5 0M1422.0 136.3m-1.75 0a1.75 1.75 0 1 0 3.5 0a1.75 1.75 0 1 0 -3.5 0M1442.1 136.3m-1.75 0a1.75 1.75 0 1 0 3.5 0a1.75 1.75 0 1 0 -3.5 0M1466.4 133.9m-1.75 0a1.75 1.75 0 1 0 3.5 0a1.75 1.75 0 1 0 -3.5 0M1377.1 146.1m-1.75 0a1.75 1.75 0 1 0 3.5 0a1.75 1.75 0 1 0 -3.5 0M1412.3 142.3m-1.75 0a1.75 1.75 0 1 0 3.5 0a1.75 1.75 0 1 0 -3.5 0M1432.0 142.3m-1.75 0a1.75 1.75 0 1 0 3.5 0a1.75 1.75 0 1 0 -3.5 0M1451.9 142.3m-1.75 0a1.75 1.75 0 1 0 3.5 0a1.75 1.75 0 1 0 -3.5 0M1487.2 146.1m-1.75 0a1.75 1.75 0 1 0 3.5 0a1.75 1.75 0 1 0 -3.5 0M1389.9 148.4m-1.75 0a1.75 1.75 0 1 0 3.5 0a1.75 1.75 0 1 0 -3.5 0M1402.3 148.4m-1.75 0a1.75 1.75 0 1 0 3.5 0a1.75 1.75 0 1 0 -3.5 0M1420.6 151.2m-1.75 0a1.75 1.75 0 1 0 3.5 0a1.75 1.75 0 1 0 -3.5 0M1443.5 151.2m-1.75 0a1.75 1.75 0 1 0 3.5 0a1.75 1.75 0 1 0 -3.5 0M1461.8 148.4m-1.75 0a1.75 1.75 0 1 0 3.5 0a1.75 1.75 0 1 0 -3.5 0M1474.4 148.4m-1.75 0a1.75 1.75 0 1 0 3.5 0a1.75 1.75 0 1 0 -3.5 0M1432.0 154.0m-1.75 0a1.75 1.75 0 1 0 3.5 0a1.75 1.75 0 1 0 -3.5 0M1411.7 159.6m-1.75 0a1.75 1.75 0 1 0 3.5 0a1.75 1.75 0 1 0 -3.5 0M1452.4 159.6m-1.75 0a1.75 1.75 0 1 0 3.5 0a1.75 1.75 0 1 0 -3.5 0M1399.8 164.6m-1.75 0a1.75 1.75 0 1 0 3.5 0a1.75 1.75 0 1 0 -3.5 0M1424.8 166.2m-1.75 0a1.75 1.75 0 1 0 3.5 0a1.75 1.75 0 1 0 -3.5 0M1439.3 166.2m-1.75 0a1.75 1.75 0 1 0 3.5 0a1.75 1.75 0 1 0 -3.5 0M1464.1 164.6m-1.75 0a1.75 1.75 0 1 0 3.5 0a1.75 1.75 0 1 0 -3.5 0M1388.3 169.4m-1.75 0a1.75 1.75 0 1 0 3.5 0a1.75 1.75 0 1 0 -3.5 0M1475.8 169.4m-1.75 0a1.75 1.75 0 1 0 3.5 0a1.75 1.75 0 1 0 -3.5 0M1415.0 175.0m-1.75 0a1.75 1.75 0 1 0 3.5 0a1.75 1.75 0 1 0 -3.5 0M1449.1 175.0m-1.75 0a1.75 1.75 0 1 0 3.5 0a1.75 1.75 0 1 0 -3.5 0M1432.0 178.8m-1.75 0a1.75 1.75 0 1 0 3.5 0a1.75 1.75 0 1 0 -3.5 0M1407.7 185.3m-1.75 0a1.75 1.75 0 1 0 3.5 0a1.75 1.75 0 1 0 -3.5 0M1456.1 185.3m-1.75 0a1.75 1.75 0 1 0 3.5 0a1.75 1.75 0 1 0 -3.5 0M1432.0 191.4m-1.75 0a1.75 1.75 0 1 0 3.5 0a1.75 1.75 0 1 0 -3.5 0" fill="none" stroke="#2a2a2a" stroke-width="0.95"/>
<ellipse cx="1432.00" cy="130.00" rx="60.60" ry="65.00" fill="none" stroke="#333" stroke-width="1.1"/>
<path d="M1425.8 65.6C1427.0 59.0 1428.5 54.0 1432.0 54.0C1435.5 54.0 1437.0 59.0 1438.2 65.6" fill="none" stroke="#333" stroke-width="1.1"/>
<clipPath id="hc1"><ellipse cx="165.00" cy="837.00" rx="60.60" ry="65.50"/></clipPath>
<g clip-path="url(#hc1)">
<ellipse cx="165.00" cy="837.00" rx="60.60" ry="65.50" fill="#fff"/>
<path d="M185.2 807.7L188.1 807.5L190.9 809.4L193.0 813.1L194.2 819.2L193.9 824.3L192.5 829.4L190.0 833.2L187.1 834.6L184.3 833.8L182.1 831.4L180.3 827.3L179.4 822.2L179.7 817.2L180.8 813.1L182.4 810.0ZM139.1 812.0L141.0 812.4L141.9 813.0L143.6 815.1L144.9 818.2L145.5 822.2L145.2 826.3L144.0 830.4L141.9 833.2L140.0 834.1L138.2 833.8L137.2 833.2L135.3 830.8L134.1 827.3L133.5 823.3L133.8 819.2L135.2 815.1L137.2 812.7ZM142.9 851.7L182.4 851.2L186.2 851.4L190.9 852.5L196.5 854.3L203.1 857.2L208.2 859.9L212.8 863.0L216.1 866.0L217.7 868.0L218.9 871.1L218.8 874.2L217.4 877.2L214.5 880.3L211.4 882.3L206.9 884.3L201.3 885.9L195.6 886.9L180.5 888.2L153.2 888.3L135.3 886.9L127.7 885.3L122.2 883.4L118.2 881.3L114.9 878.2L113.3 875.2L113.0 873.1L113.2 871.1L114.6 868.0L118.1 864.0L124.0 859.4L130.6 855.6L137.2 852.9Z" fill="#ffc0c0" fill-rule="evenodd"/>
<path d="M230.4 766.3L230.4 847.9L225.7 850.3L222.0 851.5L219.1 852.0L215.4 851.9L211.6 851.1L206.9 849.1L203.1 846.8L200.8 844.6L199.5 842.6L198.7 839.5L199.3 820.2L198.7 814.1L197.5 809.0L195.6 804.4L193.0 800.9L190.0 798.8L187.1 798.2L184.3 798.8L181.2 800.9L178.7 804.0L176.2 809.0L174.7 814.1L173.7 820.2L173.5 836.5L172.9 838.5L171.1 840.7L167.4 842.2L161.7 842.6L157.0 841.7L154.2 839.6L153.2 837.8L152.7 835.5L152.3 825.3L151.7 819.2L149.4 811.0L147.3 807.0L144.8 804.0L141.9 802.1L138.2 801.6L135.3 802.6L132.5 805.0L130.0 809.0L128.5 813.1L127.7 817.2L127.3 822.2L128.2 840.6L127.6 843.6L125.9 846.7L123.1 849.5L120.1 851.8L116.5 853.8L112.7 855.1L109.9 855.5L107.1 855.4L104.3 854.6L100.6 852.8L99.6 852.1L99.6 766.3ZM165.5 892.1L192.8 892.5L207.8 893.3L221.0 894.9L230.4 896.9L230.4 907.7L99.6 907.7L99.6 896.9L107.1 895.2L115.6 893.9L125.9 893.0Z" fill="#c0c0ff" fill-rule="evenodd"/>
<path d="M185.2 812.9L187.1 812.3L189.0 813.3L190.3 815.1L191.1 818.2L191.1 822.2L190.3 825.3L189.0 827.2L187.1 828.2L185.2 827.7L184.3 826.8L183.4 825.2L182.5 822.2L182.4 819.2L182.8 817.2L183.5 815.1ZM145.7 854.7L157.9 854.2L178.7 854.2L185.2 854.6L191.8 856.0L200.3 859.3L204.1 861.4L207.3 864.0L210.3 868.0L211.0 871.1L210.7 873.1L209.2 876.2L207.3 878.2L204.1 880.4L199.4 882.6L194.7 884.0L189.0 885.1L175.8 886.2L154.2 886.2L140.0 884.7L133.5 883.1L128.7 881.3L125.0 879.0L122.1 876.2L120.6 873.1L120.5 870.1L121.1 868.0L122.3 866.0L125.1 863.0L129.4 859.9L134.4 857.4L140.0 855.7Z" fill="#ff8080" fill-rule="evenodd"/>
<path d="M128.9 766.3L201.9 766.3L214.4 770.2L219.1 772.3L222.9 774.6L226.7 777.6L230.4 781.5L230.4 827.9L226.5 836.5L224.4 839.5L222.0 842.1L219.1 843.9L216.3 844.8L213.5 844.7L210.7 843.9L207.8 842.2L206.0 840.2L204.4 837.5L203.2 833.4L201.7 814.1L199.7 803.9L198.2 799.8L196.5 796.9L194.7 794.6L191.8 792.4L189.0 791.4L185.2 791.6L181.5 793.6L178.7 796.5L175.8 801.0L173.1 807.0L167.4 826.1L165.5 829.0L163.6 829.9L161.7 829.6L160.8 829.0L158.9 826.4L153.5 810.0L151.3 804.9L148.8 800.9L146.6 798.2L143.8 795.9L141.0 794.7L138.2 794.3L134.4 795.3L130.6 798.1L127.8 801.9L125.5 807.0L124.4 811.0L123.8 816.1L123.6 835.5L122.9 839.5L121.5 842.6L120.0 844.6L117.8 846.7L113.7 848.7L109.9 848.7L106.1 847.0L104.3 845.2L102.3 842.6L99.6 836.3L99.6 783.4L104.5 778.5L110.2 774.4L117.4 770.6ZM138.2 894.5L156.1 893.8L175.8 893.8L193.7 894.6L206.9 896.0L221.0 898.8L230.4 902.4L230.4 907.7L99.6 907.7L99.6 902.4L105.2 900.0L111.8 898.1L120.3 896.4Z" fill="#8080ff" fill-rule="evenodd"/>
<path d="M148.5 856.8L159.8 856.2L175.8 856.2L183.4 856.8L190.0 858.0L196.5 860.3L202.3 864.0L204.2 866.0L205.4 868.0L205.9 870.1L205.8 872.1L204.3 875.2L202.2 877.2L199.1 879.2L195.6 880.8L187.1 883.0L174.9 884.2L156.1 884.2L142.9 882.8L138.2 881.7L133.5 879.9L129.7 877.8L127.0 875.2L125.8 873.1L125.3 870.1L126.3 867.0L128.8 864.0L132.5 861.3L137.2 859.1L142.9 857.6Z" fill="#ff4040" fill-rule="evenodd"/>
<path d="M162.2 766.3L167.8 766.3L169.8 768.3L171.7 771.3L173.4 775.4L174.5 779.5L175.0 783.6L174.2 789.7L171.0 798.8L167.4 805.4L165.5 807.5L163.6 808.2L162.5 808.0L160.8 806.7L157.9 802.3L155.0 794.8L153.9 788.7L154.4 782.5L156.1 776.4L158.9 770.3ZM210.7 793.6L212.6 793.4L215.4 794.1L217.3 795.3L219.1 797.2L221.0 800.0L222.3 802.9L224.0 810.0L224.2 814.1L224.0 819.2L222.3 827.3L221.0 830.5L219.1 833.4L217.3 835.1L215.4 835.8L213.5 835.9L211.6 835.1L209.2 832.4L207.5 828.3L206.4 822.2L205.7 810.0L206.0 800.9L206.8 797.8L207.8 795.8L208.8 794.7ZM111.8 815.7L113.7 815.6L114.6 816.1L116.5 818.5L117.9 823.3L118.5 828.3L118.3 832.4L117.1 836.5L115.6 838.8L114.6 839.6L112.7 840.2L109.9 839.4L108.0 837.1L106.7 833.4L106.2 829.4L106.6 824.3L107.9 820.2L109.9 817.1ZM147.6 895.5L161.7 895.1L175.8 895.3L190.0 896.0L201.3 897.3L211.6 899.2L219.5 901.6L225.7 904.7L228.9 907.7L101.1 907.7L103.0 905.7L106.1 903.6L110.9 901.5L116.9 899.6L130.6 897.0Z" fill="#4444ff" fill-rule="evenodd"/>
<path d="M147.6 858.8L157.0 858.0L171.1 857.9L180.5 858.4L187.1 859.4L192.8 861.1L198.0 864.0L200.9 867.0L201.7 869.1L201.8 871.1L201.1 873.1L199.6 875.2L197.1 877.2L193.7 878.9L185.2 881.3L173.9 882.4L157.0 882.4L144.8 881.1L140.0 879.9L136.0 878.2L132.7 876.2L130.7 874.2L129.6 872.1L129.5 869.1L130.3 867.0L131.9 865.0L134.6 863.0L138.2 861.2L142.9 859.6Z" fill="#ff0000" fill-rule="evenodd"/>
<path d="M154.2 896.5L166.4 896.3L178.7 896.7L189.0 897.4L199.4 898.7L207.8 900.5L214.6 902.7L219.1 904.8L222.5 907.7L107.5 907.7L109.6 905.7L113.0 903.7L117.4 901.9L123.1 900.2L137.2 897.8Z" fill="#0000ff" fill-rule="evenodd"/>
<path d="M153.2 859.9L173.9 859.6L180.5 860.1L186.2 861.0L191.8 863.0L195.2 865.0L197.7 868.0L198.2 871.1L197.3 873.1L195.4 875.2L190.0 878.1L182.4 879.9L172.1 880.7L157.0 880.6L146.6 879.5L139.1 877.2L135.8 875.2L133.9 873.1L133.0 871.1L133.4 868.0L134.8 866.0L137.2 864.1L140.0 862.6L143.8 861.3Z" fill="#c00000" fill-rule="evenodd"/>
<path d="M158.9 897.6L179.6 897.9L196.5 899.8L204.1 901.4L209.7 903.2L214.7 905.7L217.1 907.7L112.9 907.7L115.2 905.7L119.1 903.7L128.7 900.7L142.9 898.5Z" fill="#0000c8" fill-rule="evenodd"/>
<path d="M149.5 861.9L157.0 861.2L168.3 861.1L176.8 861.3L183.4 862.2L189.0 863.9L192.5 866.0L194.2 868.0L194.6 869.1L194.6 871.1L193.7 872.9L192.5 874.2L188.1 876.6L181.5 878.3L173.0 879.0L158.9 879.0L149.5 878.2L142.1 876.2L140.0 875.1L137.7 873.1L136.6 871.1L136.6 869.1L137.6 867.0L138.6 866.0L142.9 863.6Z" fill="#800000" fill-rule="evenodd"/>
<path d="M162.6 898.6L179.6 899.1L194.7 900.9L205.2 903.7L209.6 905.7L212.2 907.7L117.8 907.7L120.4 905.7L124.0 904.0L133.5 901.3L146.6 899.4Z" fill="#00008a" fill-rule="evenodd"/>
<path d="M155.1 862.9L172.1 862.7L182.4 863.8L186.4 865.0L189.7 867.0L191.0 869.1L191.0 871.1L190.0 872.7L188.1 874.2L182.8 876.2L175.8 877.2L165.5 877.5L155.1 877.2L148.4 876.2L143.1 874.2L141.7 873.1L140.2 871.1L140.2 869.1L140.7 868.0L142.9 866.0L148.0 864.0Z" fill="#400000" fill-rule="evenodd"/>
<path d="M146.6 900.5L165.5 899.6L174.9 899.9L184.3 900.6L192.8 902.0L199.6 903.7L204.7 905.7L207.6 907.7L122.4 907.7L125.3 905.7L130.6 903.6L138.2 901.8Z" fill="#0a0a40" fill-rule="evenodd"/>
</g>
<path d="M148.0 791.0m-1.75 0a1.75 1.75 0 1 0 3.5 0a1.75 1.75 0 1 0 -3.5 0M182.1 791.0m-1.75 0a1.75 1.75 0 1 0 3.5 0a1.75 1.75 0 1 0 -3.5 0M132.8 801.9m-1.75 0a1.75 1.75 0 1 0 3.5 0a1.75 1.75 0 1 0 -3.5 0M151.1 802.8m-1.75 0a1.75 1.75 0 1 0 3.5 0a1.75 1.75 0 1 0 -3.5 0M165.0 799.5m-1.75 0a1.75 1.75 0 1 0 3.5 0a1.75 1.75 0 1 0 -3.5 0M179.3 802.8m-1.75 0a1.75 1.75 0 1 0 3.5 0a1.75 1.75 0 1 0 -3.5 0M197.4 801.9m-1.75 0a1.75 1.75 0 1 0 3.5 0a1.75 1.75 0 1 0 -3.5 0M139.5 811.8m-1.75 0a1.75 1.75 0 1 0 3.5 0a1.75 1.75 0 1 0 -3.5 0M153.6 815.5m-1.75 0a1.75 1.75 0 1 0 3.5 0a1.75 1.75 0 1 0 -3.5 0M165.0 812.2m-1.75 0a1.75 1.75 0 1 0 3.5 0a1.75 1.75 0 1 0 -3.5 0M176.5 815.5m-1.75 0a1.75 1.75 0 1 0 3.5 0a1.75 1.75 0 1 0 -3.5 0M190.6 811.8m-1.75 0a1.75 1.75 0 1 0 3.5 0a1.75 1.75 0 1 0 -3.5 0M122.9 818.4m-1.75 0a1.75 1.75 0 1 0 3.5 0a1.75 1.75 0 1 0 -3.5 0M207.4 818.4m-1.75 0a1.75 1.75 0 1 0 3.5 0a1.75 1.75 0 1 0 -3.5 0M108.8 825.9m-1.75 0a1.75 1.75 0 1 0 3.5 0a1.75 1.75 0 1 0 -3.5 0M132.2 825.4m-1.75 0a1.75 1.75 0 1 0 3.5 0a1.75 1.75 0 1 0 -3.5 0M145.3 824.5m-1.75 0a1.75 1.75 0 1 0 3.5 0a1.75 1.75 0 1 0 -3.5 0M165.0 824.0m-1.75 0a1.75 1.75 0 1 0 3.5 0a1.75 1.75 0 1 0 -3.5 0M184.9 824.5m-1.75 0a1.75 1.75 0 1 0 3.5 0a1.75 1.75 0 1 0 -3.5 0M197.8 825.4m-1.75 0a1.75 1.75 0 1 0 3.5 0a1.75 1.75 0 1 0 -3.5 0M221.4 825.9m-1.75 0a1.75 1.75 0 1 0 3.5 0a1.75 1.75 0 1 0 -3.5 0M119.4 836.7m-1.75 0a1.75 1.75 0 1 0 3.5 0a1.75 1.75 0 1 0 -3.5 0M142.4 836.7m-1.75 0a1.75 1.75 0 1 0 3.5 0a1.75 1.75 0 1 0 -3.5 0M155.3 830.6m-1.75 0a1.75 1.75 0 1 0 3.5 0a1.75 1.75 0 1 0 -3.5 0M165.0 836.7m-1.75 0a1.75 1.75 0 1 0 3.5 0a1.75 1.75 0 1 0 -3.5 0M175.1 830.6m-1.75 0a1.75 1.75 0 1 0 3.5 0a1.75 1.75 0 1 0 -3.5 0M187.7 836.7m-1.75 0a1.75 1.75 0 1 0 3.5 0a1.75 1.75 0 1 0 -3.5 0M210.7 836.7m-1.75 0a1.75 1.75 0 1 0 3.5 0a1.75 1.75 0 1 0 -3.5 0M130.9 841.0m-1.75 0a1.75 1.75 0 1 0 3.5 0a1.75 1.75 0 1 0 -3.5 0M155.0 843.3m-1.75 0a1.75 1.75 0 1 0 3.5 0a1.75 1.75 0 1 0 -3.5 0M175.1 843.3m-1.75 0a1.75 1.75 0 1 0 3.5 0a1.75 1.75 0 1 0 -3.5 0M199.4 841.0m-1.75 0a1.75 1.75 0 1 0 3.5 0a1.75 1.75 0 1 0 -3.5 0M110.1 853.2m-1.75 0a1.75 1.75 0 1 0 3.5 0a1.75 1.75 0 1 0 -3.5 0M145.3 849.4m-1.75 0a1.75 1.75 0 1 0 3.5 0a1.75 1.75 0 1 0 -3.5 0M165.0 849.4m-1.75 0a1.75 1.75 0 1 0 3.5 0a1.75 1.75 0 1 0 -3.5 0M184.9 849.4m-1.75 0a1.75 1.75 0 1 0 3.5 0a1.75 1.75 0 1 0 -3.5 0M220.2 853.2m-1.75 0a1.75 1.75 0 1 0 3.5 0a1.75 1.75 0 1 0 -3.5 0M122.9 855.6m-1.75 0a1.75 1.75 0 1 0 3.5 0a1.75 1.75 0 1 0 -3.5 0M135.3 855.6m-1.75 0a1.75 1.75 0 1 0 3.5 0a1.75 1.75 0 1 0 -3.5 0M153.6 858.4m-1.75 0a1.75 1.75 0 1 0 3.5 0a1.75 1.75 0 1 0 -3.5 0M176.5 858.4m-1.75 0a1.75 1.75 0 1 0 3.5 0a1.75 1.75 0 1 0 -3.5 0M194.8 855.6m-1.75 0a1.75 1.75 0 1 0 3.5 0a1.75 1.75 0 1 0 -3.5 0M207.4 855.6m-1.75 0a1.75 1.75 0 1 0 3.5 0a1.75 1.75 0 1 0 -3.5 0M165.0 861.2m-1.75 0a1.75 1.75 0 1 0 3.5 0a1.75 1.75 0 1 0 -3.5 0M144.7 866.9m-1.75 0a1.75 1.75 0 1 0 3.5 0a1.75 1.75 0 1 0 -3.5 0M185.4 866.9m-1.75 0a1.75 1.75 0 1 0 3.5 0a1.75 1.75 0 1 0 -3.5 0M132.8 871.8m-1.75 0a1.75 1.75 0 1 0 3.5 0a1.75 1.75 0 1 0 -3.5 0M157.8 873.4m-1.75 0a1.75 1.75 0 1 0 3.5 0a1.75 1.75 0 1 0 -3.5 0M172.3 873.4m-1.75 0a1.75 1.75 0 1 0 3.5 0a1.75 1.75 0 1 0 -3.5 0M197.1 871.8m-1.75 0a1.75 1.75 0 1 0 3.5 0a1.75 1.75 0 1 0 -3.5 0M121.3 876.7m-1.75 0a1.75 1.75 0 1 0 3.5 0a1.75 1.75 0 1 0 -3.5 0M208.8 876.7m-1.75 0a1.75 1.75 0 1 0 3.5 0a1.75 1.75 0 1 0 -3.5 0M148.0 882.4m-1.75 0a1.75 1.75 0 1 0 3.5 0a1.75 1.75 0 1 0 -3.5 0M182.1 882.4m-1.75 0a1.75 1.75 0 1 0 3.5 0a1.75 1.75 0 1 0 -3.5 0M165.0 886.2m-1.75 0a1.75 1.75 0 1 0 3.5 0a1.75 1.75 0 1 0 -3.5 0M140.7 892.8m-1.75 0a1.75 1.75 0 1 0 3.5 0a1.75 1.75 0 1 0 -3.5 0M189.1 892.8m-1.75 0a1.75 1.75 0 1 0 3.5 0a1.75 1.75 0 1 0 -3.5 0M165.0 898.9m-1.75 0a1.75 1.75 0 1 0 3.5 0a1.75 1.75 0 1 0 -3.5 0" fill="none" stroke="#2a2a2a" stroke-width="0.95"/>
<ellipse cx="165.00" cy="837.00" rx="60.60" ry="65.50" fill="none" stroke="#333" stroke-width="1.1"/>
<path d="M158.8 772.1C160.0 765.5 161.5 760.5 165.0 760.5C168.5 760.5 170.0 765.5 171.2 772.1" fill="none" stroke="#333" stroke-width="1.1"/>
<clipPath id="hc2"><ellipse cx="332.50" cy="837.00" rx="60.60" ry="65.50"/></clipPath>
<g clip-path="url(#hc2)">
<ellipse cx="332.50" cy="837.00" rx="60.60" ry="65.50" fill="#fff"/>
<path d="M351.8 805.5L354.6 805.1L357.5 807.0L359.9 811.0L361.3 816.1L362.0 821.2L362.0 826.3L361.4 832.4L359.7 842.6L359.7 845.7L360.2 847.7L361.4 849.7L363.6 851.8L377.2 860.6L381.2 864.0L384.0 867.0L386.4 871.1L387.0 874.2L386.3 877.2L384.4 880.3L381.9 882.4L378.2 884.6L373.5 886.4L368.8 887.5L355.6 888.9L335.8 889.2L314.1 888.5L299.1 886.7L293.4 885.3L288.7 883.6L284.9 881.4L282.5 879.2L280.6 876.2L280.0 873.1L280.7 870.1L282.5 867.0L287.7 861.9L302.5 851.8L305.4 848.7L307.1 845.7L307.6 842.6L306.3 834.5L306.2 829.4L307.0 825.3L308.5 822.6L309.4 822.2L310.4 822.4L311.3 823.3L312.6 826.3L313.3 832.4L312.4 842.6L313.0 844.6L314.6 846.7L317.0 848.3L319.8 849.4L329.2 850.7L335.8 850.3L338.6 849.4L340.5 848.0L341.5 846.7L342.5 843.6L344.3 824.3L346.0 815.1L348.4 809.0L349.9 807.0Z" fill="#ffc0c0" fill-rule="evenodd"/>
<path d="M397.9 766.3L397.9 854.7L395.1 856.0L392.3 856.6L389.5 856.6L385.7 855.8L381.9 854.1L378.0 851.8L373.9 848.7L370.9 845.7L369.0 842.6L367.7 838.5L365.8 818.2L364.7 812.1L363.5 808.0L361.8 803.9L359.3 800.2L356.5 797.9L353.7 797.2L350.9 798.0L349.0 799.4L346.8 801.9L344.5 806.0L341.8 814.1L337.7 834.6L335.8 838.5L333.9 840.1L332.0 840.6L330.1 840.4L327.3 838.9L325.4 837.1L322.9 832.4L319.0 820.2L316.0 813.6L314.1 811.0L312.3 809.4L310.4 808.6L308.5 808.7L305.7 810.5L302.7 815.1L300.3 822.2L297.0 837.5L295.3 841.3L292.7 844.6L286.8 848.7L283.1 850.5L279.3 851.6L275.5 852.0L272.7 851.7L267.1 849.7L267.1 766.3ZM292.5 893.4L312.3 892.7L340.5 892.7L370.6 893.5L385.7 894.8L397.9 897.3L397.9 907.7L267.1 907.7L267.1 897.4L278.4 895.0Z" fill="#c0c0ff" fill-rule="evenodd"/>
<path d="M353.7 808.9L355.6 809.5L357.7 812.1L359.2 816.1L359.9 821.2L359.9 825.3L359.3 830.4L355.1 845.7L355.0 847.7L355.5 849.7L356.5 851.3L358.2 852.8L372.5 860.9L375.3 863.2L377.9 866.0L379.6 869.1L380.3 872.1L379.8 875.2L377.9 878.2L375.8 880.3L372.7 882.3L365.0 885.1L353.7 886.8L339.6 887.3L321.7 886.8L308.5 885.2L302.8 883.8L298.6 882.3L294.8 880.3L292.3 878.2L290.6 876.2L289.3 873.1L289.2 871.1L290.0 868.0L292.0 865.0L294.4 862.6L298.1 859.8L303.8 856.4L308.5 854.1L312.3 853.3L330.1 853.7L337.7 853.1L341.9 851.8L344.3 849.8L345.2 847.7L345.6 845.7L345.7 831.4L346.4 824.3L347.4 818.2L348.6 814.1L349.9 811.5L351.8 809.5Z" fill="#ff8080" fill-rule="evenodd"/>
<path d="M397.9 766.3L397.9 844.3L395.8 846.7L393.2 848.5L390.4 849.6L387.6 849.8L384.8 849.3L381.0 847.5L378.2 845.5L375.4 842.6L372.8 838.5L371.3 834.5L367.5 813.1L364.5 802.9L362.2 798.2L359.3 794.8L356.5 792.9L353.7 792.4L350.9 793.1L349.0 794.3L346.2 797.3L343.8 800.9L340.6 809.0L335.8 826.8L334.5 829.4L333.0 831.1L332.0 831.5L330.1 831.0L327.7 828.3L325.4 824.2L320.4 813.1L316.0 806.4L312.3 803.4L310.4 802.8L308.5 802.8L306.6 803.5L304.7 804.8L301.6 809.0L299.0 815.1L293.8 831.4L291.7 835.5L289.7 838.1L284.9 841.8L280.2 843.5L275.5 843.6L271.8 842.1L267.1 838.1L267.1 766.3ZM310.4 894.5L328.3 894.1L347.1 894.3L364.0 895.2L378.2 896.8L389.5 899.3L397.9 902.7L397.9 907.7L267.1 907.7L267.1 902.8L275.5 899.4L282.1 897.7L290.6 896.2Z" fill="#8080ff" fill-rule="evenodd"/>
<path d="M352.7 813.8L354.6 813.9L356.5 816.3L357.5 820.2L357.6 824.3L357.0 828.3L355.6 833.1L352.7 839.1L350.9 841.2L349.9 841.1L349.5 840.6L348.5 837.5L348.1 833.4L348.4 827.3L349.0 821.8L349.9 817.9L350.9 815.8ZM349.0 852.8L351.8 853.4L365.0 859.3L370.8 863.0L373.8 866.0L375.0 868.0L375.7 870.1L375.7 873.1L374.3 876.2L372.4 878.2L368.8 880.7L364.0 882.6L359.3 883.8L347.1 885.2L330.1 885.2L317.0 884.1L306.6 881.8L302.8 880.3L299.4 878.2L297.1 876.2L295.3 873.1L295.0 871.1L295.3 869.1L296.1 867.0L297.7 865.0L301.9 861.4L307.5 858.4L311.3 857.2L315.1 856.6L338.6 855.4Z" fill="#ff4040" fill-rule="evenodd"/>
<path d="M296.6 766.3L346.7 766.3L358.4 768.7L381.9 771.2L387.6 772.8L392.3 775.2L395.2 777.5L397.9 780.4L397.9 830.5L395.6 835.5L392.3 839.9L390.4 841.2L387.6 842.1L384.8 841.7L382.9 840.9L379.1 837.5L376.5 833.4L374.4 828.1L369.1 804.9L365.5 794.8L363.1 790.4L360.3 786.9L357.5 784.9L354.6 784.2L351.8 784.8L349.0 786.6L346.2 789.4L343.7 792.7L339.7 800.9L334.9 815.9L333.7 818.2L332.0 819.7L331.1 819.6L329.2 818.0L322.6 806.0L317.9 800.3L315.1 798.2L312.3 796.8L309.4 796.2L306.6 796.5L302.8 798.5L301.0 800.4L299.3 802.9L296.9 808.0L291.3 823.3L289.2 827.3L286.8 830.6L283.6 833.4L280.2 834.9L276.5 834.8L273.6 833.5L269.9 829.7L267.1 824.8L267.1 781.2L270.8 777.4L275.5 774.4ZM321.7 895.5L335.8 895.4L349.9 895.8L362.2 896.8L372.5 898.1L381.0 899.9L387.6 902.0L392.9 904.7L396.1 907.7L269.0 907.7L271.8 905.1L275.5 902.9L280.2 901.1L286.8 899.2L301.9 896.8Z" fill="#4444ff" fill-rule="evenodd"/>
<path d="M349.0 856.4L352.7 857.0L360.3 859.6L365.9 862.4L369.3 865.0L371.5 868.0L372.2 871.1L371.5 874.2L369.7 876.5L366.9 878.7L363.6 880.3L359.3 881.7L349.0 883.3L334.9 883.5L320.7 882.5L310.4 880.4L305.7 878.4L302.8 876.5L300.7 874.2L299.8 872.1L299.9 869.1L301.5 866.0L305.0 863.0L310.4 860.3L318.8 858.6L336.7 857.6Z" fill="#ff0000" fill-rule="evenodd"/>
<path d="M311.3 770.2L317.9 769.7L324.5 771.3L330.8 774.4L333.4 776.4L335.1 778.5L336.8 782.5L336.8 787.6L334.9 795.9L333.0 800.4L332.0 801.3L331.1 801.3L330.1 800.5L326.4 795.1L323.6 792.9L314.1 789.7L302.8 786.6L300.8 785.6L299.7 784.6L299.0 782.5L299.2 780.5L301.2 776.4L303.1 774.4L305.8 772.4ZM280.2 789.6L283.1 789.2L284.9 789.4L286.8 790.1L288.7 791.4L289.6 792.7L290.2 794.8L290.4 799.8L288.8 810.0L285.9 818.0L284.0 820.9L282.1 822.8L280.2 823.8L278.4 824.0L276.5 823.4L275.0 822.2L272.4 818.2L270.7 812.1L270.4 806.0L271.3 799.8L273.6 794.8L276.5 791.5ZM380.1 789.5L381.9 788.9L384.8 789.0L387.6 790.2L389.5 791.6L391.4 793.9L392.9 796.8L394.7 802.9L395.1 807.0L395.2 812.1L393.8 821.2L391.4 827.6L389.5 829.9L387.6 831.0L385.7 831.1L383.8 830.2L381.0 826.9L378.2 820.2L376.4 812.1L375.3 802.9L375.4 796.8L376.1 793.7L377.2 791.7ZM309.4 897.5L322.6 896.7L336.7 896.6L349.9 897.1L362.2 898.3L372.5 900.0L380.1 902.1L386.1 904.7L389.8 907.7L275.3 907.7L279.0 904.7L286.8 901.5L297.2 899.1Z" fill="#0000ff" fill-rule="evenodd"/>
<path d="M348.0 858.7L352.7 859.3L358.4 861.0L362.8 863.0L365.9 865.2L368.3 868.0L369.0 871.1L368.5 873.1L367.1 875.2L364.6 877.2L358.4 879.9L349.9 881.5L338.6 881.8L324.5 881.1L314.3 879.2L310.4 877.8L307.4 876.2L305.1 874.2L304.0 872.1L303.9 869.1L305.0 867.0L308.5 864.0L312.3 862.2L316.0 861.2L321.7 860.3Z" fill="#c00000" fill-rule="evenodd"/>
<path d="M312.3 898.5L323.6 897.8L335.8 897.7L347.1 898.1L358.4 899.2L367.8 900.7L375.2 902.7L380.2 904.7L384.4 907.7L280.7 907.7L284.9 904.7L291.5 902.1L301.0 900.0Z" fill="#0000c8" fill-rule="evenodd"/>
<path d="M337.7 860.9L349.0 860.6L353.7 861.4L358.3 863.0L362.1 865.0L364.4 867.0L365.5 869.1L365.6 872.1L364.4 874.2L363.1 875.4L360.3 877.2L357.6 878.2L350.9 879.7L341.4 880.2L328.3 879.7L318.5 878.2L315.0 877.2L311.3 875.5L309.5 874.2L308.0 872.1L307.7 870.1L308.5 868.0L310.4 866.0L314.2 864.0L322.6 862.1Z" fill="#800000" fill-rule="evenodd"/>
<path d="M314.1 899.5L324.5 898.9L334.9 898.8L345.2 899.1L355.6 900.1L364.0 901.5L370.6 903.2L376.3 905.4L379.4 907.7L285.6 907.7L290.3 904.7L296.0 902.7L304.7 900.7Z" fill="#00008a" fill-rule="evenodd"/>
<path d="M332.0 862.9L345.2 862.2L352.7 863.0L357.5 864.7L360.3 866.4L362.4 869.1L362.6 871.1L361.8 873.1L360.8 874.2L356.5 876.6L349.9 878.2L341.4 878.7L328.3 877.9L319.8 876.5L314.3 874.2L313.1 873.1L311.9 871.1L312.1 869.1L312.8 868.0L314.1 866.9L317.0 865.4L322.6 863.9Z" fill="#400000" fill-rule="evenodd"/>
<path d="M315.1 900.6L333.9 899.8L351.8 900.8L360.3 902.1L366.6 903.7L371.8 905.7L374.8 907.7L290.2 907.7L293.2 905.7L299.1 903.5L306.6 901.7Z" fill="#0a0a40" fill-rule="evenodd"/>
</g>
<path d="M315.5 791.0m-1.75 0a1.75 1.75 0 1 0 3.5 0a1.75 1.75 0 1 0 -3.5 0M349.6 791.0m-1.75 0a1.75 1.75 0 1 0 3.5 0a1.75 1.75 0 1 0 -3.5 0M300.3 801.9m-1.75 0a1.75 1.75 0 1 0 3.5 0a1.75 1.75 0 1 0 -3.5 0M318.6 802.8m-1.75 0a1.75 1.75 0 1 0 3.5 0a1.75 1.75 0 1 0 -3.5 0M332.5 799.5m-1.75 0a1.75 1.75 0 1 0 3.5 0a1.75 1.75 0 1 0 -3.5 0M346.8 802.8m-1.75 0a1.75 1.75 0 1 0 3.5 0a1.75 1.75 0 1 0 -3.5 0M364.9 801.9m-1.75 0a1.75 1.75 0 1 0 3.5 0a1.75 1.75 0 1 0 -3.5 0M307.0 811.8m-1.75 0a1.75 1.75 0 1 0 3.5 0a1.75 1.75 0 1 0 -3.5 0M321.1 815.5m-1.75 0a1.75 1.75 0 1 0 3.5 0a1.75 1.75 0 1 0 -3.5 0M332.5 812.2m-1.75 0a1.75 1.75 0 1 0 3.5 0a1.75 1.75 0 1 0 -3.5 0M344.0 815.5m-1.75 0a1.75 1.75 0 1 0 3.5 0a1.75 1.75 0 1 0 -3.5 0M358.1 811.8m-1.75 0a1.75 1.75 0 1 0 3.5 0a1.75 1.75 0 1 0 -3.5 0M290.4 818.4m-1.75 0a1.75 1.75 0 1 0 3.5 0a1.75 1.75 0 1 0 -3.5 0M374.9 818.4m-1.75 0a1.75 1.75 0 1 0 3.5 0a1.75 1.75 0 1 0 -3.5 0M276.3 825.9m-1.75 0a1.75 1.75 0 1 0 3.5 0a1.75 1.75 0 1 0 -3.5 0M299.7 825.4m-1.75 0a1.75 1.75 0 1 0 3.5 0a1.75 1.75 0 1 0 -3.5 0M312.8 824.5m-1.75 0a1.75 1.75 0 1 0 3.5 0a1.75 1.75 0 1 0 -3.5 0M332.5 824.0m-1.75 0a1.75 1.75 0 1 0 3.5 0a1.75 1.75 0 1 0 -3.5 0M352.4 824.5m-1.75 0a1.75 1.75 0 1 0 3.5 0a1.75 1.75 0 1 0 -3.5 0M365.3 825.4m-1.75 0a1.75 1.75 0 1 0 3.5 0a1.75 1.75 0 1 0 -3.5 0M388.9 825.9m-1.75 0a1.75 1.75 0 1 0 3.5 0a1.75 1.75 0 1 0 -3.5 0M286.9 836.7m-1.75 0a1.75 1.75 0 1 0 3.5 0a1.75 1.75 0 1 0 -3.5 0M309.9 836.7m-1.75 0a1.75 1.75 0 1 0 3.5 0a1.75 1.75 0 1 0 -3.5 0M322.8 830.6m-1.75 0a1.75 1.75 0 1 0 3.5 0a1.75 1.75 0 1 0 -3.5 0M332.5 836.7m-1.75 0a1.75 1.75 0 1 0 3.5 0a1.75 1.75 0 1 0 -3.5 0M342.6 830.6m-1.75 0a1.75 1.75 0 1 0 3.5 0a1.75 1.75 0 1 0 -3.5 0M355.2 836.7m-1.75 0a1.75 1.75 0 1 0 3.5 0a1.75 1.75 0 1 0 -3.5 0M378.2 836.7m-1.75 0a1.75 1.75 0 1 0 3.5 0a1.75 1.75 0 1 0 -3.5 0M298.4 841.0m-1.75 0a1.75 1.75 0 1 0 3.5 0a1.75 1.75 0 1 0 -3.5 0M322.5 843.3m-1.75 0a1.75 1.75 0 1 0 3.5 0a1.75 1.75 0 1 0 -3.5 0M342.6 843.3m-1.75 0a1.75 1.75 0 1 0 3.5 0a1.75 1.75 0 1 0 -3.5 0M366.9 841.0m-1.75 0a1.75 1.75 0 1 0 3.5 0a1.75 1.75 0 1 0 -3.5 0M277.6 853.2m-1.75 0a1.75 1.75 0 1 0 3.5 0a1.75 1.75 0 1 0 -3.5 0M312.8 849.4m-1.75 0a1.75 1.75 0 1 0 3.5 0a1.75 1.75 0 1 0 -3.5 0M332.5 849.4m-1.75 0a1.75 1.75 0 1 0 3.5 0a1.75 1.75 0 1 0 -3.5 0M352.4 849.4m-1.75 0a1.75 1.75 0 1 0 3.5 0a1.75 1.75 0 1 0 -3.5 0M387.7 853.2m-1.75 0a1.75 1.75 0 1 0 3.5 0a1.75 1.75 0 1 0 -3.5 0M290.4 855.6m-1.75 0a1.75 1.75 0 1 0 3.5 0a1.75 1.75 0 1 0 -3.5 0M302.8 855.6m-1.75 0a1.75 1.75 0 1 0 3.5 0a1.75 1.75 0 1 0 -3.5 0M321.1 858.4m-1.75 0a1.75 1.75 0 1 0 3.5 0a1.75 1.75 0 1 0 -3.5 0M344.0 858.4m-1.75 0a1.75 1.75 0 1 0 3.5 0a1.75 1.75 0 1 0 -3.5 0M362.3 855.6m-1.75 0a1.75 1.75 0 1 0 3.5 0a1.75 1.75 0 1 0 -3.5 0M374.9 855.6m-1.75 0a1.75 1.75 0 1 0 3.5 0a1.75 1.75 0 1 0 -3.5 0M332.5 861.2m-1.75 0a1.75 1.75 0 1 0 3.5 0a1.75 1.75 0 1 0 -3.5 0M312.2 866.9m-1.75 0a1.75 1.75 0 1 0 3.5 0a1.75 1.75 0 1 0 -3.5 0M352.9 866.9m-1.75 0a1.75 1.75 0 1 0 3.5 0a1.75 1.75 0 1 0 -3.5 0M300.3 871.8m-1.75 0a1.75 1.75 0 1 0 3.5 0a1.75 1.75 0 1 0 -3.5 0M325.3 873.4m-1.75 0a1.75 1.75 0 1 0 3.5 0a1.75 1.75 0 1 0 -3.5 0M339.8 873.4m-1.75 0a1.75 1.75 0 1 0 3.5 0a1.75 1.75 0 1 0 -3.5 0M364.6 871.8m-1.75 0a1.75 1.75 0 1 0 3.5 0a1.75 1.75 0 1 0 -3.5 0M288.8 876.7m-1.75 0a1.75 1.75 0 1 0 3.5 0a1.75 1.75 0 1 0 -3.5 0M376.3 876.7m-1.75 0a1.75 1.75 0 1 0 3.5 0a1.75 1.75 0 1 0 -3.5 0M315.5 882.4m-1.75 0a1.75 1.75 0 1 0 3.5 0a1.75 1.75 0 1 0 -3.5 0M349.6 882.4m-1.75 0a1.75 1.75 0 1 0 3.5 0a1.75 1.75 0 1 0 -3.5 0M332.5 886.2m-1.75 0a1.75 1.75 0 1 0 3.5 0a1.75 1.75 0 1 0 -3.5 0M308.2 892.8m-1.75 0a1.75 1.75 0 1 0 3.5 0a1.75 1.75 0 1 0 -3.5 0M356.6 892.8m-1.75 0a1.75 1.75 0 1 0 3.5 0a1.75 1.75 0 1 0 -3.5 0M332.5 898.9m-1.75 0a1.75 1.75 0 1 0 3.5 0a1.75 1.75 0 1 0 -3.5 0" fill="none" stroke="#2a2a2a" stroke-width="0.95"/>
<ellipse cx="332.50" cy="837.00" rx="60.60" ry="65.50" fill="none" stroke="#333" stroke-width="1.1"/>
<path d="M326.3 772.1C327.5 765.5 329.0 760.5 332.5 760.5C336.0 760.5 337.5 765.5 338.7 772.1" fill="none" stroke="#333" stroke-width="1.1"/>
<clipPath id="hc3"><ellipse cx="493.00" cy="837.00" rx="60.60" ry="65.50"/></clipPath>
<g clip-path="url(#hc3)">
<ellipse cx="493.00" cy="837.00" rx="60.60" ry="65.50" fill="#fff"/>
<path d="M509.5 806.8L513.2 806.7L515.1 807.4L517.2 809.0L518.8 811.0L519.8 813.2L520.7 816.1L521.0 819.2L520.6 823.3L519.3 827.3L517.5 830.4L513.2 835.5L511.2 839.5L509.8 844.6L510.0 847.7L511.3 849.7L513.2 851.2L530.4 858.9L535.4 861.9L539.1 865.0L542.0 869.1L542.7 872.1L542.6 874.2L542.1 876.2L539.6 879.8L536.7 882.3L533.0 884.3L528.3 886.1L523.1 887.4L508.5 889.3L489.7 889.8L471.8 889.1L458.6 887.3L453.0 885.8L448.3 883.9L444.5 881.7L441.7 879.2L440.1 877.2L438.7 874.2L438.3 871.1L438.6 869.1L440.1 866.0L441.9 864.0L447.8 859.9L460.5 853.4L469.0 850.3L480.3 848.6L494.4 848.0L496.3 847.7L498.2 846.6L499.1 845.3L499.6 843.6L500.8 821.2L501.6 816.1L502.7 813.1L504.7 810.0L507.0 808.0Z" fill="#ffc0c0" fill-rule="evenodd"/>
<path d="M444.5 766.3L558.4 766.3L558.4 820.8L556.7 826.3L554.7 831.0L552.7 834.5L550.0 837.9L547.1 840.3L544.3 841.9L540.6 842.9L536.8 843.1L533.0 842.3L530.2 840.9L528.3 838.9L527.3 836.5L527.0 833.4L527.2 824.3L526.9 819.2L526.0 814.1L524.1 809.0L520.8 804.2L517.0 801.2L513.2 799.8L508.5 799.7L503.8 801.1L494.4 806.4L489.7 808.2L483.1 808.7L468.0 808.2L464.3 809.2L462.4 811.0L461.7 813.1L460.0 830.4L458.6 835.5L456.7 839.3L453.9 842.7L450.2 845.1L446.4 845.7L442.6 844.5L439.4 841.6L437.1 837.5L435.5 831.4L435.1 825.3L435.5 820.2L436.9 814.1L438.6 809.0L442.2 800.9L443.1 797.8L443.4 793.7L441.8 782.5L441.7 777.5L442.6 771.3ZM456.7 894.5L477.5 893.8L511.4 893.7L528.3 894.2L540.6 895.3L550.0 896.9L558.4 899.3L558.4 907.7L427.6 907.7L427.6 899.4L433.2 897.7L440.7 896.2Z" fill="#c0c0ff" fill-rule="evenodd"/>
<path d="M509.5 810.7L512.3 810.2L514.2 810.8L515.8 812.1L517.0 813.9L517.9 816.1L518.1 820.2L517.0 824.3L515.1 827.1L508.5 831.9L506.7 832.5L505.7 830.0L505.0 825.3L504.7 821.2L504.9 818.2L505.7 815.2L506.7 813.3ZM477.5 853.7L486.9 852.9L502.9 852.9L506.7 853.6L517.0 857.2L525.1 860.9L530.4 865.0L533.1 869.1L533.6 871.1L533.3 874.2L531.7 877.2L529.3 879.7L525.5 882.2L521.7 883.8L511.4 886.4L498.2 887.6L481.2 887.4L473.7 886.7L467.1 885.5L461.5 883.9L457.5 882.3L453.9 880.1L450.8 877.2L449.0 874.2L448.5 872.1L448.6 870.1L449.2 868.0L450.4 866.0L453.4 863.0L457.8 859.9L463.3 857.2L469.9 855.1Z" fill="#ff8080" fill-rule="evenodd"/>
<path d="M458.6 766.3L546.5 766.3L548.6 770.3L550.3 775.4L551.3 781.5L551.6 787.6L551.2 795.8L550.0 804.5L548.1 812.1L546.1 817.2L544.3 820.3L541.5 823.4L538.7 824.7L535.8 824.2L534.0 822.2L533.0 820.5L528.9 810.0L525.4 803.9L520.8 799.2L518.0 797.4L515.1 796.2L511.4 795.5L507.6 795.5L493.5 798.2L484.1 798.5L478.4 798.0L472.8 797.0L468.0 795.5L464.3 793.7L461.3 791.7L458.5 788.7L456.7 785.6L455.4 781.5L455.0 777.5L455.5 773.4L456.9 769.3ZM446.4 812.7L449.2 812.3L450.8 813.1L452.0 814.2L454.1 818.2L455.1 824.3L454.8 829.4L453.1 834.5L451.6 836.5L450.2 837.7L447.3 838.5L444.5 837.5L442.6 835.4L440.9 831.4L440.3 827.3L440.7 822.2L441.9 818.2L443.6 815.1ZM481.2 895.5L512.3 895.7L523.6 896.4L534.0 897.7L542.4 899.4L550.0 901.7L555.7 904.7L558.1 906.7L558.4 907.7L427.6 907.7L427.6 907.2L429.0 905.7L433.2 903.1L438.9 900.8L445.4 899.0L460.5 896.7Z" fill="#8080ff" fill-rule="evenodd"/>
<path d="M511.4 815.8L512.3 815.8L513.2 816.4L514.0 818.2L514.1 819.2L513.2 821.3L512.3 822.1L511.4 822.3L510.0 821.2L509.5 819.2L510.0 817.2ZM489.7 855.8L499.1 856.1L504.8 856.7L512.3 858.6L518.9 861.2L523.3 864.0L526.3 867.0L527.7 870.1L527.9 872.1L527.4 874.2L525.5 877.1L522.9 879.2L519.3 881.3L515.1 882.8L504.8 884.9L491.6 885.7L477.5 884.8L467.1 882.6L463.3 881.1L459.6 878.9L456.7 876.4L455.3 874.2L454.7 871.1L455.0 869.1L456.0 867.0L458.7 864.0L462.4 861.5L467.1 859.3L473.7 857.5L481.2 856.3Z" fill="#ff4040" fill-rule="evenodd"/>
<path d="M471.8 766.3L534.2 766.3L536.8 769.3L538.6 772.4L540.7 778.5L541.3 782.5L541.3 786.6L540.7 790.7L539.6 794.9L538.2 797.8L536.8 799.5L535.8 800.1L534.0 800.4L531.1 799.3L521.7 793.3L515.1 790.8L508.5 790.0L495.4 790.4L487.8 790.1L481.2 789.2L476.0 787.6L472.8 785.9L470.1 783.6L468.6 781.5L467.5 778.5L467.3 775.4L467.9 772.4L469.4 769.3ZM472.8 897.5L485.9 896.9L500.1 896.9L512.3 897.4L523.6 898.5L533.0 900.1L540.6 902.1L546.5 904.7L550.2 907.7L435.9 907.7L438.0 905.7L440.7 904.1L448.3 901.3L459.6 898.9Z" fill="#4444ff" fill-rule="evenodd"/>
<path d="M480.3 858.8L488.8 858.1L498.2 858.3L504.8 859.1L511.4 860.8L517.0 863.3L520.7 866.0L522.9 869.1L523.4 871.1L523.1 873.1L522.1 875.2L520.1 877.2L517.0 879.2L514.2 880.5L505.7 882.7L495.4 883.7L484.1 883.5L473.7 881.9L466.1 879.2L462.9 877.2L460.9 875.2L459.8 873.1L459.5 870.1L460.9 867.0L462.9 865.0L465.9 863.0L469.9 861.2L474.6 859.8Z" fill="#ff0000" fill-rule="evenodd"/>
<path d="M494.7 766.3L510.0 766.3L513.6 767.3L518.1 769.3L521.9 772.4L523.7 775.4L523.9 777.5L523.6 778.5L522.7 779.7L521.1 780.5L516.1 781.2L498.2 780.9L490.0 779.5L487.6 778.5L485.9 777.2L484.8 775.4L484.7 773.4L486.5 770.3L488.8 768.6ZM481.2 898.5L502.9 898.4L521.7 900.1L529.8 901.6L535.8 903.5L540.6 905.7L543.1 907.7L443.0 907.7L447.4 904.7L456.5 901.6L467.1 899.7Z" fill="#0000ff" fill-rule="evenodd"/>
<path d="M480.3 860.8L486.9 860.1L494.4 860.1L501.9 860.7L507.6 861.9L512.3 863.6L516.3 866.0L518.9 869.1L519.3 872.1L518.5 874.2L517.0 875.9L512.3 878.7L504.8 880.9L495.4 881.9L485.0 881.7L475.6 880.3L469.0 877.8L466.5 876.2L464.6 874.2L463.7 872.1L463.7 870.1L464.5 868.0L466.4 866.0L471.9 863.0Z" fill="#c00000" fill-rule="evenodd"/>
<path d="M491.6 899.6L506.7 900.0L520.3 901.6L526.4 903.0L531.1 904.5L533.9 905.7L536.8 907.7L449.3 907.7L452.0 905.8L454.4 904.7L464.3 901.9L476.5 900.3Z" fill="#0000c8" fill-rule="evenodd"/>
<path d="M486.9 861.9L498.2 862.1L502.9 862.8L507.6 864.0L511.8 866.0L514.2 868.0L515.4 870.1L515.5 872.1L514.4 874.2L513.4 875.2L508.5 877.9L501.9 879.5L493.5 880.3L484.1 879.9L476.5 878.4L471.2 876.2L469.8 875.2L468.1 873.1L467.5 871.1L468.0 869.1L469.7 867.0L471.1 866.0L477.5 863.4Z" fill="#800000" fill-rule="evenodd"/>
<path d="M477.5 901.6L494.4 900.9L510.4 901.8L517.0 902.8L523.6 904.3L527.5 905.7L530.9 907.7L455.2 907.7L458.6 905.7L463.3 904.1L469.8 902.7Z" fill="#00008a" fill-rule="evenodd"/>
<path d="M485.0 863.9L495.4 863.6L503.8 865.0L507.6 866.4L510.0 868.0L511.4 870.1L511.5 872.1L509.5 874.6L505.7 876.6L500.1 878.0L493.5 878.6L485.9 878.3L479.6 877.2L474.6 875.2L472.2 873.1L471.7 872.1L471.7 870.1L472.8 868.4L474.4 867.0L479.2 865.0Z" fill="#400000" fill-rule="evenodd"/>
<path d="M482.2 902.6L495.4 902.2L508.5 903.1L518.0 904.8L521.7 906.0L525.0 907.7L461.1 907.7L464.3 906.1L468.6 904.7L474.6 903.5Z" fill="#0a0a40" fill-rule="evenodd"/>
</g>
<path d="M476.0 791.0m-1.75 0a1.75 1.75 0 1 0 3.5 0a1.75 1.75 0 1 0 -3.5 0M510.1 791.0m-1.75 0a1.75 1.75 0 1 0 3.5 0a1.75 1.75 0 1 0 -3.5 0M460.8 801.9m-1.75 0a1.75 1.75 0 1 0 3.5 0a1.75 1.75 0 1 0 -3.5 0M479.1 802.8m-1.75 0a1.75 1.75 0 1 0 3.5 0a1.75 1.75 0 1 0 -3.5 0M493.0 799.5m-1.75 0a1.75 1.75 0 1 0 3.5 0a1.75 1.75 0 1 0 -3.5 0M507.3 802.8m-1.75 0a1.75 1.75 0 1 0 3.5 0a1.75 1.75 0 1 0 -3.5 0M525.4 801.9m-1.75 0a1.75 1.75 0 1 0 3.5 0a1.75 1.75 0 1 0 -3.5 0M467.5 811.8m-1.75 0a1.75 1.75 0 1 0 3.5 0a1.75 1.75 0 1 0 -3.5 0M481.6 815.5m-1.75 0a1.75 1.75 0 1 0 3.5 0a1.75 1.75 0 1 0 -3.5 0M493.0 812.2m-1.75 0a1.75 1.75 0 1 0 3.5 0a1.75 1.75 0 1 0 -3.5 0M504.5 815.5m-1.75 0a1.75 1.75 0 1 0 3.5 0a1.75 1.75 0 1 0 -3.5 0M518.6 811.8m-1.75 0a1.75 1.75 0 1 0 3.5 0a1.75 1.75 0 1 0 -3.5 0M450.9 818.4m-1.75 0a1.75 1.75 0 1 0 3.5 0a1.75 1.75 0 1 0 -3.5 0M535.4 818.4m-1.75 0a1.75 1.75 0 1 0 3.5 0a1.75 1.75 0 1 0 -3.5 0M436.8 825.9m-1.75 0a1.75 1.75 0 1 0 3.5 0a1.75 1.75 0 1 0 -3.5 0M460.2 825.4m-1.75 0a1.75 1.75 0 1 0 3.5 0a1.75 1.75 0 1 0 -3.5 0M473.3 824.5m-1.75 0a1.75 1.75 0 1 0 3.5 0a1.75 1.75 0 1 0 -3.5 0M493.0 824.0m-1.75 0a1.75 1.75 0 1 0 3.5 0a1.75 1.75 0 1 0 -3.5 0M512.9 824.5m-1.75 0a1.75 1.75 0 1 0 3.5 0a1.75 1.75 0 1 0 -3.5 0M525.8 825.4m-1.75 0a1.75 1.75 0 1 0 3.5 0a1.75 1.75 0 1 0 -3.5 0M549.4 825.9m-1.75 0a1.75 1.75 0 1 0 3.5 0a1.75 1.75 0 1 0 -3.5 0M447.4 836.7m-1.75 0a1.75 1.75 0 1 0 3.5 0a1.75 1.75 0 1 0 -3.5 0M470.4 836.7m-1.75 0a1.75 1.75 0 1 0 3.5 0a1.75 1.75 0 1 0 -3.5 0M483.3 830.6m-1.75 0a1.75 1.75 0 1 0 3.5 0a1.75 1.75 0 1 0 -3.5 0M493.0 836.7m-1.75 0a1.75 1.75 0 1 0 3.5 0a1.75 1.75 0 1 0 -3.5 0M503.1 830.6m-1.75 0a1.75 1.75 0 1 0 3.5 0a1.75 1.75 0 1 0 -3.5 0M515.7 836.7m-1.75 0a1.75 1.75 0 1 0 3.5 0a1.75 1.75 0 1 0 -3.5 0M538.7 836.7m-1.75 0a1.75 1.75 0 1 0 3.5 0a1.75 1.75 0 1 0 -3.5 0M458.9 841.0m-1.75 0a1.75 1.75 0 1 0 3.5 0a1.75 1.75 0 1 0 -3.5 0M483.0 843.3m-1.75 0a1.75 1.75 0 1 0 3.5 0a1.75 1.75 0 1 0 -3.5 0M503.1 843.3m-1.75 0a1.75 1.75 0 1 0 3.5 0a1.75 1.75 0 1 0 -3.5 0M527.4 841.0m-1.75 0a1.75 1.75 0 1 0 3.5 0a1.75 1.75 0 1 0 -3.5 0M438.1 853.2m-1.75 0a1.75 1.75 0 1 0 3.5 0a1.75 1.75 0 1 0 -3.5 0M473.3 849.4m-1.75 0a1.75 1.75 0 1 0 3.5 0a1.75 1.75 0 1 0 -3.5 0M493.0 849.4m-1.75 0a1.75 1.75 0 1 0 3.5 0a1.75 1.75 0 1 0 -3.5 0M512.9 849.4m-1.75 0a1.75 1.75 0 1 0 3.5 0a1.75 1.75 0 1 0 -3.5 0M548.2 853.2m-1.75 0a1.75 1.75 0 1 0 3.5 0a1.75 1.75 0 1 0 -3.5 0M450.9 855.6m-1.75 0a1.75 1.75 0 1 0 3.5 0a1.75 1.75 0 1 0 -3.5 0M463.3 855.6m-1.75 0a1.75 1.75 0 1 0 3.5 0a1.75 1.75 0 1 0 -3.5 0M481.6 858.4m-1.75 0a1.75 1.75 0 1 0 3.5 0a1.75 1.75 0 1 0 -3.5 0M504.5 858.4m-1.75 0a1.75 1.75 0 1 0 3.5 0a1.75 1.75 0 1 0 -3.5 0M522.8 855.6m-1.75 0a1.75 1.75 0 1 0 3.5 0a1.75 1.75 0 1 0 -3.5 0M535.4 855.6m-1.75 0a1.75 1.75 0 1 0 3.5 0a1.75 1.75 0 1 0 -3.5 0M493.0 861.2m-1.75 0a1.75 1.75 0 1 0 3.5 0a1.75 1.75 0 1 0 -3.5 0M472.7 866.9m-1.75 0a1.75 1.75 0 1 0 3.5 0a1.75 1.75 0 1 0 -3.5 0M513.4 866.9m-1.75 0a1.75 1.75 0 1 0 3.5 0a1.75 1.75 0 1 0 -3.5 0M460.8 871.8m-1.75 0a1.75 1.75 0 1 0 3.5 0a1.75 1.75 0 1 0 -3.5 0M485.8 873.4m-1.75 0a1.75 1.75 0 1 0 3.5 0a1.75 1.75 0 1 0 -3.5 0M500.3 873.4m-1.75 0a1.75 1.75 0 1 0 3.5 0a1.75 1.75 0 1 0 -3.5 0M525.1 871.8m-1.75 0a1.75 1.75 0 1 0 3.5 0a1.75 1.75 0 1 0 -3.5 0M449.3 876.7m-1.75 0a1.75 1.75 0 1 0 3.5 0a1.75 1.75 0 1 0 -3.5 0M536.8 876.7m-1.75 0a1.75 1.75 0 1 0 3.5 0a1.75 1.75 0 1 0 -3.5 0M476.0 882.4m-1.75 0a1.75 1.75 0 1 0 3.5 0a1.75 1.75 0 1 0 -3.5 0M510.1 882.4m-1.75 0a1.75 1.75 0 1 0 3.5 0a1.75 1.75 0 1 0 -3.5 0M493.0 886.2m-1.75 0a1.75 1.75 0 1 0 3.5 0a1.75 1.75 0 1 0 -3.5 0M468.7 892.8m-1.75 0a1.75 1.75 0 1 0 3.5 0a1.75 1.75 0 1 0 -3.5 0M517.1 892.8m-1.75 0a1.75 1.75 0 1 0 3.5 0a1.75 1.75 0 1 0 -3.5 0M493.0 898.9m-1.75 0a1.75 1.75 0 1 0 3.5 0a1.75 1.75 0 1 0 -3.5 0" fill="none" stroke="#2a2a2a" stroke-width="0.95"/>
<ellipse cx="493.00" cy="837.00" rx="60.60" ry="65.50" fill="none" stroke="#333" stroke-width="1.1"/>
<path d="M486.8 772.1C488.0 765.5 489.5 760.5 493.0 760.5C496.5 760.5 498.0 765.5 499.2 772.1" fill="none" stroke="#333" stroke-width="1.1"/>
<clipPath id="hc4"><ellipse cx="648.80" cy="837.00" rx="60.60" ry="65.50"/></clipPath>
<g clip-path="url(#hc4)">
<ellipse cx="648.80" cy="837.00" rx="60.60" ry="65.50" fill="#fff"/>
<path d="M666.2 799.8L670.9 800.1L675.6 802.5L678.8 806.0L681.2 811.0L682.1 817.2L681.3 824.3L679.0 830.4L673.4 839.5L672.0 843.6L671.9 846.7L672.7 848.7L673.7 849.7L681.3 854.3L685.1 857.5L688.0 860.9L690.5 865.0L692.0 869.1L692.4 873.1L691.2 877.2L688.8 880.3L686.0 882.4L681.9 884.3L676.6 886.0L669.4 887.4L652.1 889.0L631.4 889.4L616.4 888.4L605.4 886.4L600.3 884.7L596.5 882.9L592.8 880.4L590.5 878.2L588.3 875.2L587.0 871.1L587.5 867.0L589.2 864.0L593.0 860.9L603.1 856.1L613.5 850.5L619.1 848.4L626.7 847.0L638.0 846.3L654.0 846.5L655.9 846.3L657.7 845.5L658.9 843.6L658.8 839.5L657.7 835.3L653.3 823.3L652.6 818.2L653.0 814.1L654.5 809.0L657.7 804.3L661.5 801.3ZM626.7 814.3L628.6 814.3L630.4 815.9L630.9 818.2L630.4 819.6L629.5 820.7L628.6 821.2L626.7 821.2L624.8 819.7L624.3 817.2L624.8 815.8Z" fill="#ffc0c0" fill-rule="evenodd"/>
<path d="M601.5 766.3L714.2 766.3L714.2 855.5L712.4 857.9L710.5 859.5L708.6 860.6L705.8 861.0L703.9 860.6L701.1 859.1L696.4 854.2L692.1 846.7L689.6 838.5L688.8 831.4L688.3 814.1L687.7 810.0L686.5 806.0L684.0 801.9L680.3 798.7L674.7 795.8L669.0 794.6L665.3 794.7L660.6 795.6L647.4 801.2L642.7 802.3L633.3 802.1L615.4 799.9L612.5 800.1L610.7 800.9L609.1 802.9L608.6 804.9L610.1 825.3L609.6 831.4L608.4 836.5L606.0 841.4L603.1 844.1L601.2 844.9L599.4 845.1L597.5 844.7L595.9 843.6L593.5 840.6L591.6 835.5L590.8 829.4L590.8 822.2L592.5 812.1L597.5 796.8L597.6 792.7L596.2 782.5L596.7 776.4L598.4 771.3ZM642.7 893.5L664.3 893.2L679.4 893.5L691.6 894.4L702.9 896.0L714.2 899.1L714.2 907.7L583.4 907.7L583.4 899.5L589.0 897.9L598.4 896.0L608.8 894.9Z" fill="#c0c0ff" fill-rule="evenodd"/>
<path d="M664.3 802.9L667.2 802.2L670.0 802.5L672.8 803.6L674.6 804.9L676.6 807.2L678.1 810.0L679.0 813.1L679.3 816.1L678.8 821.2L677.4 825.3L671.7 833.4L668.1 839.7L666.2 841.3L665.3 841.2L664.3 840.5L662.7 837.5L657.4 823.3L656.2 817.2L656.8 812.1L658.5 808.0L661.0 804.9ZM626.7 851.7L635.1 851.0L645.5 851.0L662.5 852.4L666.2 853.2L675.9 857.9L681.3 862.0L683.2 864.4L684.5 867.0L685.0 870.1L684.4 873.1L682.7 876.2L680.3 878.5L676.6 881.0L671.9 883.0L666.2 884.6L660.6 885.7L644.6 887.1L628.6 886.9L621.0 886.1L615.4 885.0L609.8 883.3L605.3 881.3L602.1 879.2L599.0 876.2L597.3 873.1L596.8 871.1L596.9 869.1L598.1 866.0L600.6 863.0L606.0 858.9L612.5 855.3L619.1 853.1Z" fill="#ff8080" fill-rule="evenodd"/>
<path d="M616.3 766.5L705.6 766.3L707.8 772.4L710.6 785.6L714.2 799.6L714.2 843.6L711.3 849.7L709.5 851.7L707.7 853.0L705.8 853.6L702.9 853.2L701.1 852.1L699.2 850.3L695.7 844.6L693.9 839.5L692.5 832.4L691.9 825.3L691.5 811.0L690.9 804.9L689.6 800.9L687.3 797.8L684.1 795.8L680.3 794.3L670.9 792.0L663.4 791.9L651.2 794.1L644.6 794.4L631.4 792.6L622.0 789.7L618.1 787.6L615.4 785.4L613.2 782.5L612.1 779.5L611.9 776.4L612.5 773.4L613.8 770.3ZM600.3 815.9L602.2 816.7L603.2 818.2L604.4 822.2L604.8 826.3L604.4 830.4L603.4 833.4L602.2 835.2L600.3 836.1L598.4 835.3L597.2 833.4L596.2 830.4L595.9 826.3L596.3 822.2L597.2 819.2L598.4 817.0ZM634.2 895.5L664.3 895.2L676.6 895.9L687.9 897.2L698.2 899.2L705.8 901.6L711.7 904.7L714.0 906.7L714.2 907.7L583.4 907.7L583.4 907.2L584.8 905.7L589.0 903.1L593.7 901.2L600.3 899.3L614.4 896.9Z" fill="#8080ff" fill-rule="evenodd"/>
<path d="M667.2 804.9L670.9 805.6L674.0 808.0L676.1 812.1L676.7 817.2L675.8 821.2L673.8 825.1L668.1 831.5L666.2 832.5L665.3 832.0L664.3 830.9L660.6 823.3L659.4 819.2L659.1 815.1L660.0 811.0L661.8 808.0L664.3 805.8ZM637.0 853.8L646.4 854.0L654.9 854.9L662.5 856.3L668.1 858.2L673.8 861.4L677.5 865.0L678.9 868.0L679.1 870.1L678.7 872.1L677.0 875.2L674.7 877.3L670.9 879.7L666.2 881.6L661.5 883.0L654.9 884.1L640.8 885.2L627.6 884.6L622.0 883.8L616.3 882.4L611.6 880.7L607.4 878.2L605.0 876.1L603.0 873.1L602.4 871.1L602.4 869.1L603.6 866.0L606.1 863.0L610.7 859.6L615.4 857.3L622.0 855.4L629.5 854.2Z" fill="#ff4040" fill-rule="evenodd"/>
<path d="M628.3 766.3L697.0 766.3L699.3 772.4L701.3 785.6L702.3 787.6L706.7 794.0L709.5 799.3L711.9 806.0L713.4 813.1L714.2 822.2L713.6 831.4L711.7 839.5L709.0 844.6L707.7 846.0L705.8 847.0L703.9 847.0L702.0 846.2L698.9 842.6L696.5 836.5L695.1 829.4L694.7 821.2L695.9 795.8L695.4 792.8L694.5 791.2L692.6 790.0L689.8 789.6L681.3 789.6L667.2 788.6L654.9 789.0L649.3 788.7L642.5 787.6L635.4 785.6L631.4 783.8L628.6 782.0L626.2 779.5L625.1 777.5L624.7 775.4L625.0 772.4L626.2 769.3ZM628.6 897.5L641.7 896.8L655.9 896.7L668.1 897.2L679.4 898.3L688.8 899.9L696.4 902.0L702.4 904.7L706.1 907.7L591.7 907.7L593.9 905.7L596.5 904.1L604.1 901.3L615.4 899.0Z" fill="#4444ff" fill-rule="evenodd"/>
<path d="M665.3 808.8L668.1 808.0L670.9 809.0L672.7 811.0L673.8 814.1L673.9 817.2L672.8 820.6L670.9 823.2L668.1 825.1L666.2 824.9L664.4 823.3L663.2 821.2L662.2 818.2L662.0 815.1L662.5 812.7L663.4 810.7ZM626.7 856.7L635.1 856.0L644.6 856.1L654.0 857.1L661.5 858.8L667.2 861.0L671.4 864.0L673.7 867.0L674.3 869.1L674.2 871.1L673.4 873.1L671.8 875.2L669.2 877.2L665.3 879.2L656.8 881.7L645.5 883.1L633.3 883.2L622.9 881.9L614.4 879.2L611.0 877.2L608.7 875.2L607.3 873.1L606.4 870.1L607.1 867.0L609.3 864.0L612.5 861.5L616.3 859.5L621.0 857.9Z" fill="#ff0000" fill-rule="evenodd"/>
<path d="M639.3 766.3L688.7 766.3L690.4 770.3L690.5 774.4L689.6 777.5L687.3 780.5L684.1 782.8L680.3 784.2L676.6 784.8L671.9 784.9L654.9 784.1L650.2 783.1L645.3 781.5L641.3 779.5L638.8 777.5L637.3 775.4L636.6 772.4L637.3 769.3ZM702.0 803.6L702.9 803.1L704.8 803.3L706.7 805.0L707.7 806.4L709.9 812.1L711.1 819.2L711.2 826.3L710.0 833.4L707.7 838.4L706.5 839.5L704.8 840.2L702.9 839.8L702.0 839.0L700.1 836.2L698.6 831.4L697.7 825.3L697.7 818.2L698.4 812.1L700.1 806.2ZM635.1 898.6L656.8 898.2L667.2 898.8L676.6 899.8L684.1 901.2L690.7 903.1L696.4 905.6L698.9 907.7L598.8 907.7L603.2 904.7L611.6 901.8L622.0 899.9Z" fill="#0000ff" fill-rule="evenodd"/>
<path d="M667.2 813.7L668.1 813.4L669.0 813.9L669.6 815.1L669.3 817.2L668.1 818.1L667.2 817.8L666.3 816.1L666.4 815.1ZM633.3 857.8L640.8 857.7L648.3 858.2L654.9 859.3L660.6 860.8L665.2 863.0L668.1 865.2L670.0 868.0L670.1 871.1L669.1 873.1L667.2 875.2L661.5 878.3L653.0 880.5L641.7 881.6L631.4 881.4L622.0 879.8L615.4 877.1L612.7 875.2L610.9 873.1L610.1 871.1L610.2 868.0L612.1 865.0L614.5 863.0L618.2 861.0L622.9 859.4Z" fill="#c00000" fill-rule="evenodd"/>
<path d="M651.2 766.5L679.5 766.3L681.4 769.3L681.8 772.4L681.2 774.4L679.7 776.4L677.5 778.1L675.6 778.9L669.0 779.9L660.6 779.3L654.6 777.5L652.1 776.1L650.2 774.4L649.1 772.4L648.9 770.3L649.7 768.3ZM703.9 814.6L704.8 814.7L706.1 816.1L706.9 818.2L707.5 822.2L707.4 825.3L706.7 828.3L705.8 830.1L704.8 830.8L703.9 830.6L702.8 829.4L702.0 827.3L701.4 823.3L702.0 817.5L702.9 815.4ZM643.6 899.6L660.6 899.8L674.7 901.3L686.0 904.1L689.8 905.7L692.6 907.7L605.1 907.7L607.8 905.8L610.2 904.7L619.1 902.1L630.4 900.4Z" fill="#0000c8" fill-rule="evenodd"/>
<path d="M629.5 859.8L636.1 859.3L643.6 859.4L651.2 860.3L656.8 861.7L661.5 863.6L664.8 866.0L666.1 868.0L666.4 869.1L666.3 871.1L664.1 874.2L661.5 875.8L658.5 877.2L651.2 879.1L641.7 880.1L632.3 880.0L624.8 878.8L618.2 876.3L614.3 873.1L613.3 871.1L613.2 869.1L613.9 867.0L615.6 865.0L618.2 863.2L621.0 861.9Z" fill="#800000" fill-rule="evenodd"/>
<path d="M633.3 901.6L650.2 900.8L666.2 901.7L672.8 902.7L679.4 904.3L683.4 905.7L686.7 907.7L611.0 907.7L614.4 905.7L619.1 904.1L625.5 902.7Z" fill="#00008a" fill-rule="evenodd"/>
<path d="M633.3 860.9L644.6 861.1L650.2 861.9L654.9 863.1L659.2 865.0L661.7 867.0L662.7 869.1L662.5 871.1L661.5 872.6L659.8 874.2L655.6 876.2L648.3 877.9L639.9 878.7L632.3 878.5L625.2 877.2L620.2 875.2L618.2 873.7L616.9 872.1L616.2 870.1L616.5 868.0L619.2 865.0L624.8 862.4Z" fill="#400000" fill-rule="evenodd"/>
<path d="M637.0 902.6L650.2 902.1L663.4 902.9L673.5 904.7L677.5 906.0L680.9 907.7L616.9 907.7L620.1 906.1L624.3 904.7Z" fill="#0a0a40" fill-rule="evenodd"/>
</g>
<path d="M631.8 791.0m-1.75 0a1.75 1.75 0 1 0 3.5 0a1.75 1.75 0 1 0 -3.5 0M665.9 791.0m-1.75 0a1.75 1.75 0 1 0 3.5 0a1.75 1.75 0 1 0 -3.5 0M616.6 801.9m-1.75 0a1.75 1.75 0 1 0 3.5 0a1.75 1.75 0 1 0 -3.5 0M634.9 802.8m-1.75 0a1.75 1.75 0 1 0 3.5 0a1.75 1.75 0 1 0 -3.5 0M648.8 799.5m-1.75 0a1.75 1.75 0 1 0 3.5 0a1.75 1.75 0 1 0 -3.5 0M663.1 802.8m-1.75 0a1.75 1.75 0 1 0 3.5 0a1.75 1.75 0 1 0 -3.5 0M681.2 801.9m-1.75 0a1.75 1.75 0 1 0 3.5 0a1.75 1.75 0 1 0 -3.5 0M623.3 811.8m-1.75 0a1.75 1.75 0 1 0 3.5 0a1.75 1.75 0 1 0 -3.5 0M637.4 815.5m-1.75 0a1.75 1.75 0 1 0 3.5 0a1.75 1.75 0 1 0 -3.5 0M648.8 812.2m-1.75 0a1.75 1.75 0 1 0 3.5 0a1.75 1.75 0 1 0 -3.5 0M660.3 815.5m-1.75 0a1.75 1.75 0 1 0 3.5 0a1.75 1.75 0 1 0 -3.5 0M674.4 811.8m-1.75 0a1.75 1.75 0 1 0 3.5 0a1.75 1.75 0 1 0 -3.5 0M606.7 818.4m-1.75 0a1.75 1.75 0 1 0 3.5 0a1.75 1.75 0 1 0 -3.5 0M691.2 818.4m-1.75 0a1.75 1.75 0 1 0 3.5 0a1.75 1.75 0 1 0 -3.5 0M592.6 825.9m-1.75 0a1.75 1.75 0 1 0 3.5 0a1.75 1.75 0 1 0 -3.5 0M616.0 825.4m-1.75 0a1.75 1.75 0 1 0 3.5 0a1.75 1.75 0 1 0 -3.5 0M629.1 824.5m-1.75 0a1.75 1.75 0 1 0 3.5 0a1.75 1.75 0 1 0 -3.5 0M648.8 824.0m-1.75 0a1.75 1.75 0 1 0 3.5 0a1.75 1.75 0 1 0 -3.5 0M668.7 824.5m-1.75 0a1.75 1.75 0 1 0 3.5 0a1.75 1.75 0 1 0 -3.5 0M681.6 825.4m-1.75 0a1.75 1.75 0 1 0 3.5 0a1.75 1.75 0 1 0 -3.5 0M705.2 825.9m-1.75 0a1.75 1.75 0 1 0 3.5 0a1.75 1.75 0 1 0 -3.5 0M603.2 836.7m-1.75 0a1.75 1.75 0 1 0 3.5 0a1.75 1.75 0 1 0 -3.5 0M626.2 836.7m-1.75 0a1.75 1.75 0 1 0 3.5 0a1.75 1.75 0 1 0 -3.5 0M639.1 830.6m-1.75 0a1.75 1.75 0 1 0 3.5 0a1.75 1.75 0 1 0 -3.5 0M648.8 836.7m-1.75 0a1.75 1.75 0 1 0 3.5 0a1.75 1.75 0 1 0 -3.5 0M658.9 830.6m-1.75 0a1.75 1.75 0 1 0 3.5 0a1.75 1.75 0 1 0 -3.5 0M671.5 836.7m-1.75 0a1.75 1.75 0 1 0 3.5 0a1.75 1.75 0 1 0 -3.5 0M694.5 836.7m-1.75 0a1.75 1.75 0 1 0 3.5 0a1.75 1.75 0 1 0 -3.5 0M614.7 841.0m-1.75 0a1.75 1.75 0 1 0 3.5 0a1.75 1.75 0 1 0 -3.5 0M638.8 843.3m-1.75 0a1.75 1.75 0 1 0 3.5 0a1.75 1.75 0 1 0 -3.5 0M658.9 843.3m-1.75 0a1.75 1.75 0 1 0 3.5 0a1.75 1.75 0 1 0 -3.5 0M683.2 841.0m-1.75 0a1.75 1.75 0 1 0 3.5 0a1.75 1.75 0 1 0 -3.5 0M593.9 853.2m-1.75 0a1.75 1.75 0 1 0 3.5 0a1.75 1.75 0 1 0 -3.5 0M629.1 849.4m-1.75 0a1.75 1.75 0 1 0 3.5 0a1.75 1.75 0 1 0 -3.5 0M648.8 849.4m-1.75 0a1.75 1.75 0 1 0 3.5 0a1.75 1.75 0 1 0 -3.5 0M668.7 849.4m-1.75 0a1.75 1.75 0 1 0 3.5 0a1.75 1.75 0 1 0 -3.5 0M704.0 853.2m-1.75 0a1.75 1.75 0 1 0 3.5 0a1.75 1.75 0 1 0 -3.5 0M606.7 855.6m-1.75 0a1.75 1.75 0 1 0 3.5 0a1.75 1.75 0 1 0 -3.5 0M619.1 855.6m-1.75 0a1.75 1.75 0 1 0 3.5 0a1.75 1.75 0 1 0 -3.5 0M637.4 858.4m-1.75 0a1.75 1.75 0 1 0 3.5 0a1.75 1.75 0 1 0 -3.5 0M660.3 858.4m-1.75 0a1.75 1.75 0 1 0 3.5 0a1.75 1.75 0 1 0 -3.5 0M678.6 855.6m-1.75 0a1.75 1.75 0 1 0 3.5 0a1.75 1.75 0 1 0 -3.5 0M691.2 855.6m-1.75 0a1.75 1.75 0 1 0 3.5 0a1.75 1.75 0 1 0 -3.5 0M648.8 861.2m-1.75 0a1.75 1.75 0 1 0 3.5 0a1.75 1.75 0 1 0 -3.5 0M628.5 866.9m-1.75 0a1.75 1.75 0 1 0 3.5 0a1.75 1.75 0 1 0 -3.5 0M669.2 866.9m-1.75 0a1.75 1.75 0 1 0 3.5 0a1.75 1.75 0 1 0 -3.5 0M616.6 871.8m-1.75 0a1.75 1.75 0 1 0 3.5 0a1.75 1.75 0 1 0 -3.5 0M641.6 873.4m-1.75 0a1.75 1.75 0 1 0 3.5 0a1.75 1.75 0 1 0 -3.5 0M656.1 873.4m-1.75 0a1.75 1.75 0 1 0 3.5 0a1.75 1.75 0 1 0 -3.5 0M680.9 871.8m-1.75 0a1.75 1.75 0 1 0 3.5 0a1.75 1.75 0 1 0 -3.5 0M605.1 876.7m-1.75 0a1.75 1.75 0 1 0 3.5 0a1.75 1.75 0 1 0 -3.5 0M692.6 876.7m-1.75 0a1.75 1.75 0 1 0 3.5 0a1.75 1.75 0 1 0 -3.5 0M631.8 882.4m-1.75 0a1.75 1.75 0 1 0 3.5 0a1.75 1.75 0 1 0 -3.5 0M665.9 882.4m-1.75 0a1.75 1.75 0 1 0 3.5 0a1.75 1.75 0 1 0 -3.5 0M648.8 886.2m-1.75 0a1.75 1.75 0 1 0 3.5 0a1.75 1.75 0 1 0 -3.5 0M624.5 892.8m-1.75 0a1.75 1.75 0 1 0 3.5 0a1.75 1.75 0 1 0 -3.5 0M672.9 892.8m-1.75 0a1.75 1.75 0 1 0 3.5 0a1.75 1.75 0 1 0 -3.5 0M648.8 898.9m-1.75 0a1.75 1.75 0 1 0 3.5 0a1.75 1.75 0 1 0 -3.5 0" fill="none" stroke="#2a2a2a" stroke-width="0.95"/>
<ellipse cx="648.80" cy="837.00" rx="60.60" ry="65.50" fill="none" stroke="#333" stroke-width="1.1"/>
<path d="M642.6 772.1C643.8 765.5 645.3 760.5 648.8 760.5C652.3 760.5 653.8 765.5 655.0 772.1" fill="none" stroke="#333" stroke-width="1.1"/>
<clipPath id="hd1"><ellipse cx="960.75" cy="837.00" rx="60.60" ry="65.50"/></clipPath>
<g clip-path="url(#hd1)">
<ellipse cx="960.75" cy="837.00" rx="60.60" ry="65.50" fill="#fff"/>
<path d="M977.2 804.9L979.1 804.4L981.0 804.5L983.9 806.0L985.7 807.8L987.1 810.0L988.7 815.1L989.2 819.2L988.8 824.3L985.0 841.6L985.1 844.6L986.0 846.7L987.6 848.2L989.5 849.1L998.9 852.0L1004.5 854.4L1020.6 863.0L1025.2 866.0L1026.2 867.0L1026.2 878.3L1025.3 879.2L1021.5 882.3L1017.8 884.3L1008.3 887.5L995.1 889.5L977.2 890.1L940.5 889.9L923.6 888.5L916.0 887.0L910.4 885.0L905.5 882.3L902.3 879.2L900.6 876.2L900.2 874.2L900.7 871.1L902.3 868.0L904.9 865.0L909.7 860.9L918.8 855.2L926.4 852.1L933.9 850.2L943.3 849.0L962.2 848.5L966.1 847.7L968.8 845.9L969.7 844.3L970.2 841.6L969.5 824.3L970.1 816.1L971.3 812.1L972.8 809.0L974.4 806.9ZM935.8 811.8L939.6 811.5L942.4 812.6L944.9 815.1L946.3 818.2L946.4 822.2L945.4 825.3L943.3 827.8L940.5 829.4L937.7 829.7L934.9 828.8L932.0 826.3L930.5 823.3L930.2 819.2L931.1 816.1L933.0 813.5Z" fill="#ffc0c0" fill-rule="evenodd"/>
<path d="M1026.2 766.3L1026.2 838.1L1022.4 842.7L1020.5 844.1L1017.7 845.2L1015.8 845.4L1013.0 844.8L1010.2 843.5L1007.4 841.5L1002.8 836.5L999.9 831.4L998.7 827.3L995.6 813.1L993.7 808.0L992.1 804.9L989.0 800.9L985.7 798.1L982.9 796.9L979.1 796.5L976.3 797.1L974.4 798.0L969.9 801.9L966.5 807.0L961.2 817.9L959.3 819.7L958.4 819.6L957.5 818.9L952.6 812.1L949.9 809.1L945.2 805.7L941.4 804.3L937.7 803.9L933.9 804.5L930.1 806.1L927.6 808.0L925.7 810.0L922.9 815.1L921.4 821.2L920.6 833.4L919.5 836.5L917.9 838.9L912.7 843.6L906.6 847.0L903.8 847.8L901.0 848.0L898.1 847.5L896.2 846.7L895.3 846.2L895.3 766.3ZM954.6 831.2L957.5 830.6L959.3 831.5L960.8 833.4L961.6 836.5L961.2 838.5L959.8 840.6L958.2 841.6L955.6 842.3L953.7 842.2L951.4 841.6L949.9 840.6L948.8 838.5L948.9 836.5L950.1 834.5L951.8 832.8ZM925.4 893.5L953.7 892.9L972.5 893.0L999.8 893.9L1015.8 895.3L1026.2 897.3L1026.2 907.7L895.3 907.7L895.3 897.0L907.5 894.7Z" fill="#c0c0ff" fill-rule="evenodd"/>
<path d="M977.2 809.0L980.1 808.3L981.9 808.9L983.3 810.0L985.2 813.1L986.3 818.2L986.2 821.2L985.6 825.3L981.9 837.5L978.9 845.7L979.3 847.7L981.2 849.7L984.9 851.8L997.0 855.1L1002.7 857.4L1008.3 860.7L1012.4 864.0L1015.7 868.0L1016.5 870.1L1016.9 872.1L1016.3 875.2L1015.2 877.2L1013.6 879.2L1011.2 881.3L1007.8 883.3L1003.6 885.1L998.9 886.4L987.6 888.1L973.5 888.5L944.7 888.4L931.1 887.2L924.5 885.9L919.8 884.2L916.0 882.3L912.2 879.2L910.6 877.2L909.4 874.2L909.3 871.1L910.3 868.0L911.5 866.0L914.2 863.0L917.9 860.0L921.7 857.8L928.3 855.2L937.7 853.1L945.2 852.3L963.1 851.9L967.8 851.4L972.5 849.7L974.9 847.7L975.6 845.7L973.7 838.5L972.9 834.5L972.3 826.3L972.3 820.2L972.9 816.1L973.9 813.1L975.3 810.7ZM937.7 816.1L938.9 816.1L940.5 816.9L941.8 819.2L941.7 821.2L941.2 822.2L940.3 823.3L938.6 823.9L936.7 823.5L935.8 822.8L934.7 820.2L934.9 818.9L935.8 817.2Z" fill="#ff8080" fill-rule="evenodd"/>
<path d="M1026.2 766.3L1026.2 803.4L1023.8 813.1L1021.9 823.3L1020.6 827.3L1018.7 830.8L1015.8 833.0L1013.0 833.1L1010.2 831.4L1008.3 828.9L1006.7 825.3L1004.9 816.1L1003.6 812.1L1001.1 807.0L998.6 802.9L994.4 797.8L990.4 794.3L985.7 791.8L981.0 790.9L977.2 791.4L972.5 793.6L968.2 796.8L961.2 803.6L958.4 805.0L955.6 804.7L946.2 800.4L940.5 798.9L933.9 798.7L930.1 799.5L927.3 800.6L922.6 803.7L918.7 808.0L915.8 813.1L911.3 823.3L908.5 827.6L906.6 829.2L904.7 830.0L901.9 829.5L900.0 828.0L898.1 825.4L895.3 818.8L895.3 766.3ZM940.5 894.5L959.3 894.1L976.3 894.4L993.2 895.3L1007.4 896.8L1017.7 899.0L1026.2 901.9L1026.2 907.7L895.3 907.7L895.3 901.7L901.9 899.3L909.4 897.5L917.9 896.1Z" fill="#8080ff" fill-rule="evenodd"/>
<path d="M978.2 813.8L980.1 813.5L981.9 815.0L982.7 817.2L983.0 820.2L982.4 824.3L981.0 828.6L979.1 832.4L978.2 833.2L977.2 833.0L976.3 831.3L975.5 827.3L975.2 823.3L975.4 820.2L976.0 817.2L976.9 815.1ZM976.3 853.2L980.1 853.6L994.2 857.0L1001.7 860.1L1006.4 863.4L1009.6 867.0L1010.6 869.1L1011.0 871.1L1010.9 873.1L1010.3 875.2L1008.2 878.2L1004.3 881.3L998.9 883.8L992.3 885.5L979.1 886.9L949.9 886.9L936.7 886.1L931.1 885.1L926.4 883.7L922.6 882.1L918.8 879.7L916.4 877.2L914.8 874.2L914.4 872.1L914.9 869.1L917.3 865.0L922.2 860.9L928.3 858.0L934.9 856.1L942.4 855.0L965.0 854.4Z" fill="#ff4040" fill-rule="evenodd"/>
<path d="M946.1 766.3L967.8 766.3L972.1 768.3L976.0 771.3L977.7 774.4L977.8 777.5L976.2 780.5L973.4 783.6L968.6 787.6L963.1 791.1L960.3 792.2L956.5 792.8L952.7 792.6L948.9 791.7L943.7 789.7L938.9 786.6L936.3 783.6L935.0 780.5L935.1 776.4L936.5 773.4L939.6 770.0ZM1013.0 816.4L1014.9 816.7L1016.2 818.2L1016.9 820.2L1017.0 822.2L1016.5 824.3L1015.1 826.3L1014.0 826.8L1012.1 826.1L1011.1 824.9L1010.6 823.3L1010.5 820.2L1011.1 818.2ZM946.2 895.5L961.2 895.2L975.3 895.5L988.5 896.4L1000.8 897.8L1010.2 899.6L1017.7 902.0L1023.0 904.7L1025.5 906.7L1026.2 907.7L895.3 907.7L896.9 905.7L901.0 903.2L905.7 901.2L912.3 899.3L926.4 896.9Z" fill="#4444ff" fill-rule="evenodd"/>
<path d="M944.3 856.8L977.2 855.9L981.9 856.4L990.4 858.2L997.0 860.4L1002.8 864.0L1004.8 866.0L1006.1 868.0L1006.9 871.1L1006.7 873.1L1005.5 875.9L1003.6 878.0L1000.8 880.1L997.9 881.6L989.5 884.1L978.2 885.3L949.0 885.3L937.7 884.5L932.0 883.3L926.6 881.3L923.1 879.2L920.0 876.2L918.6 873.1L918.5 870.1L919.8 867.0L922.6 863.9L926.4 861.3L931.1 859.3L937.7 857.6Z" fill="#ff0000" fill-rule="evenodd"/>
<path d="M948.0 896.5L961.2 896.3L973.5 896.6L985.7 897.4L996.1 898.6L1004.5 900.3L1012.1 902.6L1016.6 904.7L1020.3 907.7L901.1 907.7L903.2 905.7L906.6 903.7L911.3 901.8L917.0 900.2L930.1 897.9Z" fill="#0000ff" fill-rule="evenodd"/>
<path d="M941.4 858.8L949.0 858.3L976.3 857.9L981.0 858.2L987.6 859.4L995.1 861.8L999.8 864.7L1002.6 868.0L1003.3 870.1L1003.4 872.1L1002.8 874.2L1001.5 876.2L999.3 878.2L996.1 880.1L988.5 882.6L979.1 883.7L949.9 883.8L940.5 883.2L934.9 882.1L930.1 880.6L926.4 878.5L923.7 876.2L922.4 874.2L921.8 871.1L922.6 868.0L924.5 865.6L927.3 863.3L931.1 861.4L935.8 859.9Z" fill="#c00000" fill-rule="evenodd"/>
<path d="M949.0 897.5L971.6 897.5L982.9 898.3L992.3 899.4L999.8 900.9L1006.4 902.7L1011.1 904.7L1015.1 907.7L906.3 907.7L908.6 905.7L911.3 904.2L920.7 901.0L933.0 898.8Z" fill="#0000c8" fill-rule="evenodd"/>
<path d="M949.0 859.9L977.2 859.7L982.9 860.2L987.6 861.1L993.2 863.0L997.8 866.0L999.9 869.1L1000.3 872.1L999.6 874.2L998.0 876.2L993.2 879.3L985.7 881.5L977.2 882.3L949.0 882.3L940.5 881.7L935.8 880.7L931.1 878.9L928.3 877.1L925.6 874.2L924.9 872.1L925.3 869.1L927.3 866.1L930.1 864.0L933.9 862.2L938.6 860.9Z" fill="#800000" fill-rule="evenodd"/>
<path d="M948.0 898.6L968.8 898.4L979.1 899.0L988.5 900.1L996.7 901.6L1002.7 903.3L1007.9 905.7L1010.4 907.7L911.0 907.7L915.4 904.7L924.5 901.7L934.9 899.8Z" fill="#00008a" fill-rule="evenodd"/>
<path d="M942.4 861.9L949.0 861.4L963.1 861.6L975.3 861.2L983.8 861.9L989.5 863.4L994.4 866.0L996.9 869.1L997.3 872.1L995.6 875.2L993.2 877.1L991.1 878.2L985.7 879.9L978.2 880.8L949.0 880.8L943.3 880.5L938.6 879.7L934.9 878.5L932.0 877.2L929.5 875.2L928.2 873.1L927.8 871.1L928.3 869.1L929.7 867.0L932.0 865.2L934.9 863.8Z" fill="#400000" fill-rule="evenodd"/>
<path d="M948.0 899.5L966.9 899.2L984.8 900.7L992.3 902.0L998.5 903.7L1003.3 905.7L1006.1 907.7L915.3 907.7L920.2 904.7L926.4 902.6L935.8 900.8Z" fill="#0a0a40" fill-rule="evenodd"/>
</g>
<path d="M943.7 791.0m-1.75 0a1.75 1.75 0 1 0 3.5 0a1.75 1.75 0 1 0 -3.5 0M977.9 791.0m-1.75 0a1.75 1.75 0 1 0 3.5 0a1.75 1.75 0 1 0 -3.5 0M928.6 801.9m-1.75 0a1.75 1.75 0 1 0 3.5 0a1.75 1.75 0 1 0 -3.5 0M946.8 802.8m-1.75 0a1.75 1.75 0 1 0 3.5 0a1.75 1.75 0 1 0 -3.5 0M960.8 799.5m-1.75 0a1.75 1.75 0 1 0 3.5 0a1.75 1.75 0 1 0 -3.5 0M975.1 802.8m-1.75 0a1.75 1.75 0 1 0 3.5 0a1.75 1.75 0 1 0 -3.5 0M993.1 801.9m-1.75 0a1.75 1.75 0 1 0 3.5 0a1.75 1.75 0 1 0 -3.5 0M935.3 811.8m-1.75 0a1.75 1.75 0 1 0 3.5 0a1.75 1.75 0 1 0 -3.5 0M949.3 815.5m-1.75 0a1.75 1.75 0 1 0 3.5 0a1.75 1.75 0 1 0 -3.5 0M960.8 812.2m-1.75 0a1.75 1.75 0 1 0 3.5 0a1.75 1.75 0 1 0 -3.5 0M972.3 815.5m-1.75 0a1.75 1.75 0 1 0 3.5 0a1.75 1.75 0 1 0 -3.5 0M986.3 811.8m-1.75 0a1.75 1.75 0 1 0 3.5 0a1.75 1.75 0 1 0 -3.5 0M918.6 818.4m-1.75 0a1.75 1.75 0 1 0 3.5 0a1.75 1.75 0 1 0 -3.5 0M1003.1 818.4m-1.75 0a1.75 1.75 0 1 0 3.5 0a1.75 1.75 0 1 0 -3.5 0M904.6 825.9m-1.75 0a1.75 1.75 0 1 0 3.5 0a1.75 1.75 0 1 0 -3.5 0M928.0 825.4m-1.75 0a1.75 1.75 0 1 0 3.5 0a1.75 1.75 0 1 0 -3.5 0M941.1 824.5m-1.75 0a1.75 1.75 0 1 0 3.5 0a1.75 1.75 0 1 0 -3.5 0M960.8 824.0m-1.75 0a1.75 1.75 0 1 0 3.5 0a1.75 1.75 0 1 0 -3.5 0M980.7 824.5m-1.75 0a1.75 1.75 0 1 0 3.5 0a1.75 1.75 0 1 0 -3.5 0M993.5 825.4m-1.75 0a1.75 1.75 0 1 0 3.5 0a1.75 1.75 0 1 0 -3.5 0M1017.2 825.9m-1.75 0a1.75 1.75 0 1 0 3.5 0a1.75 1.75 0 1 0 -3.5 0M915.2 836.7m-1.75 0a1.75 1.75 0 1 0 3.5 0a1.75 1.75 0 1 0 -3.5 0M938.1 836.7m-1.75 0a1.75 1.75 0 1 0 3.5 0a1.75 1.75 0 1 0 -3.5 0M951.0 830.6m-1.75 0a1.75 1.75 0 1 0 3.5 0a1.75 1.75 0 1 0 -3.5 0M960.8 836.7m-1.75 0a1.75 1.75 0 1 0 3.5 0a1.75 1.75 0 1 0 -3.5 0M970.9 830.6m-1.75 0a1.75 1.75 0 1 0 3.5 0a1.75 1.75 0 1 0 -3.5 0M983.5 836.7m-1.75 0a1.75 1.75 0 1 0 3.5 0a1.75 1.75 0 1 0 -3.5 0M1006.4 836.7m-1.75 0a1.75 1.75 0 1 0 3.5 0a1.75 1.75 0 1 0 -3.5 0M926.7 841.0m-1.75 0a1.75 1.75 0 1 0 3.5 0a1.75 1.75 0 1 0 -3.5 0M950.7 843.3m-1.75 0a1.75 1.75 0 1 0 3.5 0a1.75 1.75 0 1 0 -3.5 0M970.9 843.3m-1.75 0a1.75 1.75 0 1 0 3.5 0a1.75 1.75 0 1 0 -3.5 0M995.2 841.0m-1.75 0a1.75 1.75 0 1 0 3.5 0a1.75 1.75 0 1 0 -3.5 0M905.8 853.2m-1.75 0a1.75 1.75 0 1 0 3.5 0a1.75 1.75 0 1 0 -3.5 0M941.1 849.4m-1.75 0a1.75 1.75 0 1 0 3.5 0a1.75 1.75 0 1 0 -3.5 0M960.8 849.4m-1.75 0a1.75 1.75 0 1 0 3.5 0a1.75 1.75 0 1 0 -3.5 0M980.7 849.4m-1.75 0a1.75 1.75 0 1 0 3.5 0a1.75 1.75 0 1 0 -3.5 0M1016.0 853.2m-1.75 0a1.75 1.75 0 1 0 3.5 0a1.75 1.75 0 1 0 -3.5 0M918.6 855.6m-1.75 0a1.75 1.75 0 1 0 3.5 0a1.75 1.75 0 1 0 -3.5 0M931.1 855.6m-1.75 0a1.75 1.75 0 1 0 3.5 0a1.75 1.75 0 1 0 -3.5 0M949.3 858.4m-1.75 0a1.75 1.75 0 1 0 3.5 0a1.75 1.75 0 1 0 -3.5 0M972.3 858.4m-1.75 0a1.75 1.75 0 1 0 3.5 0a1.75 1.75 0 1 0 -3.5 0M990.5 855.6m-1.75 0a1.75 1.75 0 1 0 3.5 0a1.75 1.75 0 1 0 -3.5 0M1003.1 855.6m-1.75 0a1.75 1.75 0 1 0 3.5 0a1.75 1.75 0 1 0 -3.5 0M960.8 861.2m-1.75 0a1.75 1.75 0 1 0 3.5 0a1.75 1.75 0 1 0 -3.5 0M940.4 866.9m-1.75 0a1.75 1.75 0 1 0 3.5 0a1.75 1.75 0 1 0 -3.5 0M981.2 866.9m-1.75 0a1.75 1.75 0 1 0 3.5 0a1.75 1.75 0 1 0 -3.5 0M928.6 871.8m-1.75 0a1.75 1.75 0 1 0 3.5 0a1.75 1.75 0 1 0 -3.5 0M953.5 873.4m-1.75 0a1.75 1.75 0 1 0 3.5 0a1.75 1.75 0 1 0 -3.5 0M968.1 873.4m-1.75 0a1.75 1.75 0 1 0 3.5 0a1.75 1.75 0 1 0 -3.5 0M992.9 871.8m-1.75 0a1.75 1.75 0 1 0 3.5 0a1.75 1.75 0 1 0 -3.5 0M917.0 876.7m-1.75 0a1.75 1.75 0 1 0 3.5 0a1.75 1.75 0 1 0 -3.5 0M1004.6 876.7m-1.75 0a1.75 1.75 0 1 0 3.5 0a1.75 1.75 0 1 0 -3.5 0M943.7 882.4m-1.75 0a1.75 1.75 0 1 0 3.5 0a1.75 1.75 0 1 0 -3.5 0M977.9 882.4m-1.75 0a1.75 1.75 0 1 0 3.5 0a1.75 1.75 0 1 0 -3.5 0M960.8 886.2m-1.75 0a1.75 1.75 0 1 0 3.5 0a1.75 1.75 0 1 0 -3.5 0M936.4 892.8m-1.75 0a1.75 1.75 0 1 0 3.5 0a1.75 1.75 0 1 0 -3.5 0M984.9 892.8m-1.75 0a1.75 1.75 0 1 0 3.5 0a1.75 1.75 0 1 0 -3.5 0M960.8 898.9m-1.75 0a1.75 1.75 0 1 0 3.5 0a1.75 1.75 0 1 0 -3.5 0" fill="none" stroke="#2a2a2a" stroke-width="0.95"/>
<ellipse cx="960.75" cy="837.00" rx="60.60" ry="65.50" fill="none" stroke="#333" stroke-width="1.1"/>
<path d="M954.5 772.1C955.8 765.5 957.2 760.5 960.8 760.5C964.2 760.5 965.8 765.5 967.0 772.1" fill="none" stroke="#333" stroke-width="1.1"/>
<clipPath id="hd2"><ellipse cx="1124.50" cy="837.00" rx="60.60" ry="65.50"/></clipPath>
<g clip-path="url(#hd2)">
<ellipse cx="1124.50" cy="837.00" rx="60.60" ry="65.50" fill="#fff"/>
<path d="M1146.6 812.0L1148.5 812.3L1150.4 814.0L1152.9 819.2L1154.6 826.3L1156.2 840.6L1157.0 843.5L1158.1 845.7L1160.9 848.7L1169.2 854.6L1175.3 859.9L1182.3 867.0L1186.1 872.1L1187.0 875.2L1186.4 878.2L1184.3 881.3L1181.9 883.3L1177.7 885.7L1172.7 887.4L1166.4 888.7L1157.9 889.6L1142.9 890.2L1099.5 889.8L1085.5 888.4L1074.1 885.8L1070.1 884.3L1066.2 882.3L1063.4 880.3L1060.6 877.2L1059.1 873.8L1059.1 869.8L1060.0 867.7L1061.9 865.6L1065.6 863.5L1078.8 858.5L1093.0 851.1L1097.7 849.3L1102.4 848.2L1110.8 847.4L1127.8 846.7L1131.6 845.9L1134.2 844.6L1136.1 842.6L1137.4 839.5L1139.6 825.3L1141.5 818.2L1143.8 813.9L1144.7 812.9Z" fill="#ffc0c0" fill-rule="evenodd"/>
<path d="M1189.9 766.3L1189.9 857.3L1186.2 857.7L1184.3 857.3L1181.5 856.0L1177.5 852.8L1173.4 847.7L1170.5 842.6L1168.6 837.5L1163.9 815.1L1162.4 810.0L1160.8 806.1L1157.7 800.9L1154.2 796.5L1150.4 793.7L1147.6 793.1L1145.7 793.4L1143.8 794.4L1141.0 797.3L1138.2 801.9L1131.6 815.7L1129.7 818.5L1126.9 821.3L1125.0 822.5L1122.1 823.6L1119.3 824.0L1116.5 823.8L1113.7 823.0L1110.8 821.7L1103.3 816.4L1100.5 815.7L1098.6 816.2L1096.7 817.9L1095.1 821.2L1094.3 824.3L1093.5 831.4L1091.6 837.5L1089.5 841.6L1086.5 845.7L1081.7 849.6L1076.9 851.5L1072.2 851.6L1067.9 849.7L1064.7 846.7L1062.1 842.6L1060.5 838.5L1059.1 832.4L1059.1 766.3ZM1091.1 893.5L1117.4 892.9L1136.3 893.0L1163.6 893.9L1180.5 895.4L1189.9 897.2L1189.9 907.7L1059.1 907.7L1059.1 897.2L1073.2 894.7Z" fill="#c0c0ff" fill-rule="evenodd"/>
<path d="M1146.6 824.0L1147.6 824.1L1148.5 825.1L1149.5 827.6L1150.0 831.4L1150.5 841.6L1151.3 844.6L1153.1 847.7L1154.9 849.7L1157.5 851.8L1166.4 856.8L1171.1 860.2L1175.6 865.0L1178.1 869.1L1179.0 873.1L1178.5 876.2L1176.8 879.2L1173.3 882.3L1169.5 884.3L1164.5 886.0L1158.1 887.4L1151.3 888.2L1140.0 888.6L1104.3 888.3L1093.0 887.0L1083.5 884.5L1076.9 881.2L1074.6 879.2L1072.2 876.2L1071.2 873.1L1071.3 871.1L1072.6 868.0L1074.3 866.0L1078.0 863.0L1082.7 859.9L1092.0 855.0L1097.7 853.1L1104.3 851.9L1131.6 850.6L1135.4 849.7L1139.1 847.7L1141.1 845.7L1142.7 842.6L1143.4 839.5L1144.3 828.3L1145.4 825.3Z" fill="#ff8080" fill-rule="evenodd"/>
<path d="M1110.8 766.3L1128.5 766.3L1132.0 768.3L1134.4 770.3L1136.1 772.4L1137.4 775.4L1137.7 779.5L1136.9 784.6L1134.8 793.7L1132.2 801.9L1129.9 807.0L1127.8 810.3L1125.0 813.1L1122.1 814.7L1119.3 815.3L1116.5 814.9L1113.7 813.6L1110.6 811.0L1108.2 808.0L1105.8 803.9L1103.6 798.8L1101.2 791.7L1099.6 783.6L1099.6 780.5L1100.2 777.5L1101.0 775.4L1103.0 772.4L1106.0 769.3ZM1179.6 774.3L1182.4 773.7L1185.2 774.1L1188.1 775.3L1189.9 776.7L1189.9 851.6L1187.1 852.7L1184.3 852.6L1181.5 851.3L1178.5 848.7L1175.7 844.6L1173.8 840.6L1172.3 835.5L1170.3 823.3L1169.6 813.1L1169.3 800.9L1169.5 791.7L1170.1 786.6L1171.7 781.5L1173.6 778.5L1176.8 775.6ZM1075.1 797.5L1077.9 797.1L1079.8 797.6L1082.6 799.7L1084.5 802.3L1086.4 806.4L1088.0 812.1L1088.8 817.2L1089.2 823.3L1088.4 832.4L1087.3 836.5L1085.4 840.6L1083.2 843.6L1080.7 845.8L1077.9 847.2L1075.1 847.5L1072.2 846.9L1070.4 845.8L1068.5 844.0L1066.6 841.2L1065.4 838.5L1064.2 834.5L1063.5 830.4L1063.2 825.3L1064.1 816.1L1066.6 807.5L1068.5 803.8L1070.4 801.1L1072.2 799.2ZM1104.3 894.5L1122.1 894.1L1139.1 894.4L1157.0 895.3L1171.1 896.9L1181.5 898.9L1189.9 901.9L1189.9 907.7L1059.1 907.7L1059.1 901.9L1065.6 899.5L1074.1 897.4L1082.6 896.1Z" fill="#8080ff" fill-rule="evenodd"/>
<path d="M1143.8 850.6L1146.6 850.3L1149.5 851.1L1164.5 859.0L1169.8 863.0L1173.0 867.0L1174.4 871.1L1174.4 873.1L1173.8 875.2L1171.9 878.2L1168.3 881.2L1164.1 883.3L1158.9 885.0L1152.3 886.3L1141.0 887.0L1109.0 886.8L1097.7 885.7L1088.2 883.2L1084.3 881.3L1081.4 879.2L1079.4 877.2L1077.7 874.2L1077.4 872.1L1077.7 870.1L1078.5 868.0L1080.9 865.0L1086.4 860.7L1093.9 857.0L1099.5 855.4L1107.1 854.4L1133.4 853.4L1137.2 852.7Z" fill="#ff4040" fill-rule="evenodd"/>
<path d="M1116.5 777.1L1118.4 776.6L1121.2 776.8L1123.1 777.7L1125.0 779.2L1127.7 783.6L1128.9 788.7L1128.6 795.8L1126.8 801.9L1125.1 804.9L1123.1 807.0L1121.2 808.1L1119.3 808.5L1117.4 808.2L1115.6 807.4L1112.7 804.5L1110.4 799.8L1109.2 793.7L1109.3 788.7L1110.6 783.6L1113.1 779.5ZM1183.4 787.5L1185.2 787.5L1187.1 788.2L1189.9 790.8L1189.9 845.7L1188.1 847.2L1185.2 847.9L1182.4 847.0L1180.5 845.5L1178.6 843.1L1176.8 839.5L1174.6 831.4L1173.4 820.2L1173.8 808.0L1175.6 797.8L1177.2 793.7L1178.6 791.2L1180.5 789.0ZM1075.1 809.0L1076.9 808.9L1078.8 809.5L1080.7 811.0L1082.3 813.1L1084.5 818.6L1085.4 825.3L1084.8 832.4L1083.0 837.5L1081.7 839.6L1079.8 841.6L1077.9 842.6L1076.0 843.0L1074.1 842.7L1072.2 841.8L1069.5 838.5L1067.6 833.4L1066.8 827.3L1067.3 821.2L1069.2 815.1L1071.8 811.0L1073.2 809.9ZM1109.9 895.5L1125.0 895.2L1139.1 895.6L1152.3 896.4L1164.5 897.8L1173.9 899.7L1181.5 902.0L1186.8 904.7L1189.3 906.7L1189.9 907.7L1059.1 907.7L1060.8 905.7L1064.7 903.3L1069.4 901.3L1076.0 899.4L1090.1 896.9Z" fill="#4444ff" fill-rule="evenodd"/>
<path d="M1145.7 854.1L1149.5 854.7L1157.9 858.3L1164.5 862.0L1167.9 865.0L1170.3 869.1L1170.7 871.1L1170.5 873.1L1169.2 876.2L1166.4 879.0L1162.6 881.3L1157.3 883.3L1151.3 884.6L1141.0 885.4L1110.8 885.3L1099.5 884.2L1091.1 881.7L1088.1 880.3L1085.2 878.2L1083.3 876.2L1081.9 873.1L1081.7 871.1L1082.2 869.1L1083.3 867.0L1085.0 865.0L1090.1 861.2L1096.7 858.4L1101.4 857.2L1108.0 856.4L1130.6 855.9Z" fill="#ff0000" fill-rule="evenodd"/>
<path d="M1117.4 787.5L1119.3 786.9L1120.9 787.6L1122.1 789.1L1123.0 791.7L1123.1 794.8L1122.3 797.8L1121.2 799.4L1119.3 800.3L1117.5 799.8L1116.5 798.9L1115.6 797.0L1115.0 794.8L1115.0 792.7L1115.6 790.1ZM1182.4 797.6L1184.3 796.8L1186.2 797.1L1188.1 798.4L1189.9 801.0L1189.9 839.1L1188.1 841.5L1185.2 842.6L1182.4 841.6L1180.6 839.5L1179.4 837.5L1177.4 831.4L1176.3 823.3L1176.3 815.1L1177.5 807.0L1179.6 801.2ZM1075.1 816.9L1076.9 816.8L1077.9 817.2L1079.8 819.2L1081.1 822.2L1081.7 826.3L1081.5 830.4L1080.1 834.5L1077.9 836.9L1076.0 837.5L1074.1 836.9L1072.2 834.9L1071.1 832.4L1070.4 828.3L1070.7 824.3L1071.5 821.2L1073.2 818.3ZM1112.7 896.5L1125.9 896.3L1138.2 896.6L1150.4 897.5L1160.8 898.8L1169.2 900.5L1176.1 902.7L1180.5 904.8L1184.0 907.7L1065.0 907.7L1067.1 905.7L1070.5 903.7L1075.7 901.6L1081.7 900.0L1094.8 897.8Z" fill="#0000ff" fill-rule="evenodd"/>
<path d="M1145.7 856.6L1150.4 857.4L1157.0 860.1L1162.0 863.0L1165.3 866.0L1167.1 869.1L1167.4 872.1L1166.2 875.2L1163.6 878.0L1159.8 880.3L1155.1 882.0L1150.4 883.1L1141.0 883.9L1111.8 883.8L1101.4 882.8L1093.9 880.7L1091.0 879.2L1088.2 877.2L1086.4 875.2L1085.5 873.1L1085.2 871.1L1085.7 869.1L1086.8 867.0L1088.2 865.3L1093.0 862.0L1098.6 859.8L1103.3 858.8L1109.0 858.1L1129.7 857.9Z" fill="#c00000" fill-rule="evenodd"/>
<path d="M1183.4 805.8L1185.2 805.3L1187.1 806.4L1188.8 809.0L1189.9 812.4L1189.9 829.7L1188.1 834.3L1187.1 835.5L1185.2 836.3L1183.4 835.7L1181.5 833.2L1179.8 828.3L1179.2 823.3L1179.2 817.2L1180.1 812.1L1181.5 808.2ZM1112.7 897.6L1135.3 897.5L1146.6 898.3L1156.0 899.4L1163.6 900.9L1170.2 902.7L1174.9 904.7L1178.8 907.7L1070.2 907.7L1072.5 905.7L1076.0 903.8L1084.5 901.0L1096.7 898.9Z" fill="#0000c8" fill-rule="evenodd"/>
<path d="M1144.7 858.5L1148.5 859.0L1153.2 860.4L1158.2 863.0L1161.7 865.6L1163.6 868.0L1164.4 871.1L1163.6 874.2L1160.9 877.2L1157.9 879.0L1153.2 880.8L1148.5 881.8L1141.0 882.4L1111.8 882.3L1103.3 881.6L1095.8 879.4L1093.0 877.9L1090.7 876.2L1089.1 874.2L1088.4 872.1L1088.8 869.1L1091.1 865.8L1095.4 863.0L1100.5 861.1L1109.9 859.7L1128.7 859.7Z" fill="#800000" fill-rule="evenodd"/>
<path d="M1185.2 817.8L1186.2 819.2L1186.4 821.2L1186.2 823.7L1185.2 825.2L1184.1 824.3L1183.6 821.2L1184.3 818.2ZM1112.7 898.5L1133.4 898.4L1152.3 900.1L1160.4 901.6L1166.4 903.4L1171.6 905.7L1174.2 907.7L1074.8 907.7L1079.2 904.7L1088.2 901.7L1099.5 899.7Z" fill="#00008a" fill-rule="evenodd"/>
<path d="M1145.7 860.4L1150.4 861.3L1154.2 862.8L1157.9 865.1L1160.6 868.0L1161.5 871.1L1161.1 873.1L1158.9 876.0L1156.0 877.9L1152.3 879.4L1147.6 880.5L1141.0 881.0L1126.9 880.7L1112.7 880.9L1104.3 880.2L1097.7 878.3L1094.8 876.7L1093.0 875.2L1091.4 872.1L1091.7 869.1L1094.2 866.0L1097.7 863.9L1102.4 862.3L1110.8 861.2L1126.9 861.4Z" fill="#400000" fill-rule="evenodd"/>
<path d="M1111.8 899.5L1130.6 899.2L1148.5 900.7L1156.0 902.0L1162.2 903.7L1167.1 905.7L1169.9 907.7L1079.1 907.7L1084.0 904.7L1090.1 902.7L1099.5 900.8Z" fill="#0a0a40" fill-rule="evenodd"/>
</g>
<path d="M1107.5 791.0m-1.75 0a1.75 1.75 0 1 0 3.5 0a1.75 1.75 0 1 0 -3.5 0M1141.6 791.0m-1.75 0a1.75 1.75 0 1 0 3.5 0a1.75 1.75 0 1 0 -3.5 0M1092.3 801.9m-1.75 0a1.75 1.75 0 1 0 3.5 0a1.75 1.75 0 1 0 -3.5 0M1110.6 802.8m-1.75 0a1.75 1.75 0 1 0 3.5 0a1.75 1.75 0 1 0 -3.5 0M1124.5 799.5m-1.75 0a1.75 1.75 0 1 0 3.5 0a1.75 1.75 0 1 0 -3.5 0M1138.8 802.8m-1.75 0a1.75 1.75 0 1 0 3.5 0a1.75 1.75 0 1 0 -3.5 0M1156.9 801.9m-1.75 0a1.75 1.75 0 1 0 3.5 0a1.75 1.75 0 1 0 -3.5 0M1099.0 811.8m-1.75 0a1.75 1.75 0 1 0 3.5 0a1.75 1.75 0 1 0 -3.5 0M1113.1 815.5m-1.75 0a1.75 1.75 0 1 0 3.5 0a1.75 1.75 0 1 0 -3.5 0M1124.5 812.2m-1.75 0a1.75 1.75 0 1 0 3.5 0a1.75 1.75 0 1 0 -3.5 0M1136.0 815.5m-1.75 0a1.75 1.75 0 1 0 3.5 0a1.75 1.75 0 1 0 -3.5 0M1150.1 811.8m-1.75 0a1.75 1.75 0 1 0 3.5 0a1.75 1.75 0 1 0 -3.5 0M1082.4 818.4m-1.75 0a1.75 1.75 0 1 0 3.5 0a1.75 1.75 0 1 0 -3.5 0M1166.9 818.4m-1.75 0a1.75 1.75 0 1 0 3.5 0a1.75 1.75 0 1 0 -3.5 0M1068.3 825.9m-1.75 0a1.75 1.75 0 1 0 3.5 0a1.75 1.75 0 1 0 -3.5 0M1091.7 825.4m-1.75 0a1.75 1.75 0 1 0 3.5 0a1.75 1.75 0 1 0 -3.5 0M1104.8 824.5m-1.75 0a1.75 1.75 0 1 0 3.5 0a1.75 1.75 0 1 0 -3.5 0M1124.5 824.0m-1.75 0a1.75 1.75 0 1 0 3.5 0a1.75 1.75 0 1 0 -3.5 0M1144.4 824.5m-1.75 0a1.75 1.75 0 1 0 3.5 0a1.75 1.75 0 1 0 -3.5 0M1157.3 825.4m-1.75 0a1.75 1.75 0 1 0 3.5 0a1.75 1.75 0 1 0 -3.5 0M1180.9 825.9m-1.75 0a1.75 1.75 0 1 0 3.5 0a1.75 1.75 0 1 0 -3.5 0M1078.9 836.7m-1.75 0a1.75 1.75 0 1 0 3.5 0a1.75 1.75 0 1 0 -3.5 0M1101.9 836.7m-1.75 0a1.75 1.75 0 1 0 3.5 0a1.75 1.75 0 1 0 -3.5 0M1114.8 830.6m-1.75 0a1.75 1.75 0 1 0 3.5 0a1.75 1.75 0 1 0 -3.5 0M1124.5 836.7m-1.75 0a1.75 1.75 0 1 0 3.5 0a1.75 1.75 0 1 0 -3.5 0M1134.6 830.6m-1.75 0a1.75 1.75 0 1 0 3.5 0a1.75 1.75 0 1 0 -3.5 0M1147.2 836.7m-1.75 0a1.75 1.75 0 1 0 3.5 0a1.75 1.75 0 1 0 -3.5 0M1170.2 836.7m-1.75 0a1.75 1.75 0 1 0 3.5 0a1.75 1.75 0 1 0 -3.5 0M1090.4 841.0m-1.75 0a1.75 1.75 0 1 0 3.5 0a1.75 1.75 0 1 0 -3.5 0M1114.5 843.3m-1.75 0a1.75 1.75 0 1 0 3.5 0a1.75 1.75 0 1 0 -3.5 0M1134.6 843.3m-1.75 0a1.75 1.75 0 1 0 3.5 0a1.75 1.75 0 1 0 -3.5 0M1158.9 841.0m-1.75 0a1.75 1.75 0 1 0 3.5 0a1.75 1.75 0 1 0 -3.5 0M1069.6 853.2m-1.75 0a1.75 1.75 0 1 0 3.5 0a1.75 1.75 0 1 0 -3.5 0M1104.8 849.4m-1.75 0a1.75 1.75 0 1 0 3.5 0a1.75 1.75 0 1 0 -3.5 0M1124.5 849.4m-1.75 0a1.75 1.75 0 1 0 3.5 0a1.75 1.75 0 1 0 -3.5 0M1144.4 849.4m-1.75 0a1.75 1.75 0 1 0 3.5 0a1.75 1.75 0 1 0 -3.5 0M1179.7 853.2m-1.75 0a1.75 1.75 0 1 0 3.5 0a1.75 1.75 0 1 0 -3.5 0M1082.4 855.6m-1.75 0a1.75 1.75 0 1 0 3.5 0a1.75 1.75 0 1 0 -3.5 0M1094.8 855.6m-1.75 0a1.75 1.75 0 1 0 3.5 0a1.75 1.75 0 1 0 -3.5 0M1113.1 858.4m-1.75 0a1.75 1.75 0 1 0 3.5 0a1.75 1.75 0 1 0 -3.5 0M1136.0 858.4m-1.75 0a1.75 1.75 0 1 0 3.5 0a1.75 1.75 0 1 0 -3.5 0M1154.3 855.6m-1.75 0a1.75 1.75 0 1 0 3.5 0a1.75 1.75 0 1 0 -3.5 0M1166.9 855.6m-1.75 0a1.75 1.75 0 1 0 3.5 0a1.75 1.75 0 1 0 -3.5 0M1124.5 861.2m-1.75 0a1.75 1.75 0 1 0 3.5 0a1.75 1.75 0 1 0 -3.5 0M1104.2 866.9m-1.75 0a1.75 1.75 0 1 0 3.5 0a1.75 1.75 0 1 0 -3.5 0M1144.9 866.9m-1.75 0a1.75 1.75 0 1 0 3.5 0a1.75 1.75 0 1 0 -3.5 0M1092.3 871.8m-1.75 0a1.75 1.75 0 1 0 3.5 0a1.75 1.75 0 1 0 -3.5 0M1117.3 873.4m-1.75 0a1.75 1.75 0 1 0 3.5 0a1.75 1.75 0 1 0 -3.5 0M1131.8 873.4m-1.75 0a1.75 1.75 0 1 0 3.5 0a1.75 1.75 0 1 0 -3.5 0M1156.6 871.8m-1.75 0a1.75 1.75 0 1 0 3.5 0a1.75 1.75 0 1 0 -3.5 0M1080.8 876.7m-1.75 0a1.75 1.75 0 1 0 3.5 0a1.75 1.75 0 1 0 -3.5 0M1168.3 876.7m-1.75 0a1.75 1.75 0 1 0 3.5 0a1.75 1.75 0 1 0 -3.5 0M1107.5 882.4m-1.75 0a1.75 1.75 0 1 0 3.5 0a1.75 1.75 0 1 0 -3.5 0M1141.6 882.4m-1.75 0a1.75 1.75 0 1 0 3.5 0a1.75 1.75 0 1 0 -3.5 0M1124.5 886.2m-1.75 0a1.75 1.75 0 1 0 3.5 0a1.75 1.75 0 1 0 -3.5 0M1100.2 892.8m-1.75 0a1.75 1.75 0 1 0 3.5 0a1.75 1.75 0 1 0 -3.5 0M1148.6 892.8m-1.75 0a1.75 1.75 0 1 0 3.5 0a1.75 1.75 0 1 0 -3.5 0M1124.5 898.9m-1.75 0a1.75 1.75 0 1 0 3.5 0a1.75 1.75 0 1 0 -3.5 0" fill="none" stroke="#2a2a2a" stroke-width="0.95"/>
<ellipse cx="1124.50" cy="837.00" rx="60.60" ry="65.50" fill="none" stroke="#333" stroke-width="1.1"/>
<path d="M1118.3 772.1C1119.5 765.5 1121.0 760.5 1124.5 760.5C1128.0 760.5 1129.5 765.5 1130.7 772.1" fill="none" stroke="#333" stroke-width="1.1"/>
<clipPath id="hd3"><ellipse cx="1283.75" cy="837.00" rx="60.60" ry="65.50"/></clipPath>
<g clip-path="url(#hd3)">
<ellipse cx="1283.75" cy="837.00" rx="60.60" ry="65.50" fill="#fff"/>
<path d="M1311.5 796.5L1313.4 796.6L1314.7 797.8L1315.4 800.9L1315.1 804.9L1313.9 809.0L1312.3 813.1L1304.8 825.3L1303.5 828.3L1302.6 833.4L1303.3 840.6L1304.8 844.6L1306.8 847.1L1310.6 849.6L1318.1 853.0L1321.9 855.3L1326.6 859.3L1330.4 864.0L1333.3 869.1L1334.7 874.2L1334.2 878.2L1333.2 880.3L1331.6 882.3L1328.9 884.3L1324.7 886.2L1314.4 888.5L1298.3 889.9L1276.7 890.1L1260.7 889.3L1247.4 887.4L1242.8 886.2L1238.1 884.3L1234.7 882.3L1232.3 880.3L1230.2 877.2L1229.5 874.2L1229.6 872.1L1230.4 870.1L1232.5 867.0L1236.0 864.0L1240.6 860.9L1247.5 857.2L1259.0 851.8L1262.4 849.7L1264.4 848.0L1266.3 845.6L1268.1 841.6L1269.3 836.5L1269.7 830.4L1269.9 829.4L1270.8 828.3L1282.3 824.9L1290.8 823.1L1294.6 821.2L1297.4 817.5L1302.1 807.2L1304.9 802.4L1308.7 798.1Z" fill="#ffc0c0" fill-rule="evenodd"/>
<path d="M1230.2 766.3L1287.8 766.3L1294.6 766.9L1313.4 766.5L1319.1 767.2L1323.9 768.3L1331.3 770.7L1338.3 772.4L1341.7 774.1L1345.4 777.9L1349.2 783.1L1349.2 859.1L1346.4 860.7L1343.5 860.9L1340.7 860.0L1337.9 858.0L1335.0 854.8L1331.7 849.7L1329.4 844.6L1327.9 839.5L1326.9 833.4L1326.3 825.3L1326.4 818.2L1327.0 810.0L1329.4 797.8L1334.4 783.6L1335.0 780.5L1334.8 778.5L1333.6 776.4L1331.3 775.1L1329.4 774.7L1323.8 775.1L1304.9 778.2L1301.2 779.2L1298.8 780.5L1297.4 782.3L1296.8 784.6L1296.9 793.7L1296.1 798.8L1294.3 803.9L1291.8 808.1L1288.9 811.0L1285.9 813.1L1280.1 816.1L1275.7 817.9L1271.0 818.1L1261.6 815.9L1258.8 816.2L1256.9 817.2L1255.7 819.2L1255.4 821.2L1255.8 824.3L1258.0 831.4L1257.9 834.5L1256.9 836.7L1255.0 839.2L1249.7 843.6L1241.8 847.6L1235.3 849.1L1229.6 848.5L1226.8 847.4L1224.0 845.7L1221.0 842.6L1218.3 838.6L1218.3 778.2L1223.0 772.2ZM1261.6 893.5L1313.4 893.7L1327.5 894.4L1339.8 895.7L1349.2 897.9L1349.2 907.7L1218.3 907.7L1218.3 898.1L1226.8 896.1L1236.2 894.7L1247.5 893.9Z" fill="#c0c0ff" fill-rule="evenodd"/>
<path d="M1307.8 807.4L1308.6 808.0L1308.2 810.0L1306.8 812.3L1305.9 813.0L1305.2 812.1L1305.7 810.0L1306.8 808.1ZM1286.1 829.3L1291.8 829.9L1293.6 831.0L1294.6 832.2L1295.6 835.5L1296.6 845.7L1297.4 847.7L1299.3 850.1L1303.4 852.8L1318.1 858.9L1322.5 861.9L1325.3 865.0L1327.2 868.0L1328.2 872.1L1327.5 876.2L1325.5 879.2L1323.2 881.3L1319.7 883.3L1315.3 885.0L1310.6 886.2L1299.3 887.8L1284.2 888.4L1269.2 887.9L1256.9 886.2L1248.1 883.3L1244.6 881.3L1242.1 879.2L1240.0 876.2L1239.2 873.1L1239.4 871.1L1240.1 869.1L1242.3 866.0L1245.7 863.0L1249.4 860.6L1264.4 853.8L1269.5 850.7L1271.4 848.7L1272.6 846.7L1274.8 837.5L1276.7 833.5L1278.6 831.8L1280.5 830.7L1283.3 829.7Z" fill="#ff8080" fill-rule="evenodd"/>
<path d="M1249.4 770.2L1258.8 769.8L1268.2 770.8L1275.7 772.8L1280.8 775.4L1283.1 777.5L1284.7 779.5L1287.5 785.6L1289.0 792.7L1288.5 798.8L1287.0 802.9L1284.2 807.0L1280.5 810.3L1275.7 813.2L1272.9 814.2L1270.1 814.5L1261.6 813.3L1258.8 813.3L1256.9 813.7L1255.0 814.7L1253.7 816.1L1252.5 819.2L1252.8 829.4L1252.3 831.4L1251.0 833.4L1246.6 837.4L1241.8 839.8L1237.1 840.9L1233.4 840.5L1229.6 838.7L1226.2 835.5L1223.6 831.4L1221.1 825.3L1219.3 818.2L1218.6 811.0L1218.7 803.9L1219.7 797.8L1221.1 792.7L1223.4 787.6L1225.9 783.6L1229.6 779.3L1233.4 776.2L1238.1 773.5L1243.7 771.4ZM1339.8 791.7L1341.7 790.9L1344.5 791.3L1347.3 793.6L1349.2 796.5L1349.2 849.8L1346.4 852.8L1343.5 853.8L1340.7 853.2L1338.8 852.0L1337.0 850.0L1334.8 846.7L1333.1 842.6L1332.0 838.5L1330.6 828.3L1330.7 816.1L1332.6 804.9L1334.1 800.0L1336.0 796.0L1337.9 793.3ZM1256.0 895.5L1273.9 894.8L1294.6 894.8L1310.6 895.4L1324.7 896.7L1337.0 899.0L1345.4 901.8L1349.2 903.7L1349.2 907.7L1218.3 907.7L1218.3 903.8L1222.1 901.9L1226.8 900.2L1240.0 897.2Z" fill="#8080ff" fill-rule="evenodd"/>
<path d="M1284.2 839.4L1285.2 839.3L1286.1 840.0L1286.6 841.6L1286.5 846.7L1287.6 848.7L1289.9 850.7L1295.3 853.8L1312.5 860.2L1316.2 862.2L1319.8 865.0L1322.0 868.0L1322.7 870.1L1323.0 872.1L1322.2 875.2L1320.0 878.2L1317.5 880.3L1314.4 882.0L1306.8 884.5L1296.5 886.2L1284.2 886.7L1272.0 886.3L1261.6 884.7L1253.1 881.9L1250.2 880.3L1247.8 878.2L1245.6 875.2L1245.0 872.1L1245.8 869.1L1247.9 866.0L1251.3 863.2L1255.2 860.9L1273.4 853.8L1278.8 850.7L1281.9 847.7L1282.6 845.7L1282.8 841.6L1283.3 840.3Z" fill="#ff4040" fill-rule="evenodd"/>
<path d="M1261.6 777.4L1267.3 777.3L1272.0 778.1L1276.7 780.1L1279.6 782.5L1282.4 786.6L1283.8 791.7L1283.7 796.8L1282.2 800.9L1280.5 803.6L1278.2 806.0L1274.8 808.4L1272.0 809.8L1267.3 810.7L1257.9 810.5L1255.0 811.1L1253.2 812.1L1251.3 814.0L1250.0 816.1L1248.1 825.3L1247.2 827.3L1245.6 829.1L1242.8 831.0L1239.0 832.2L1236.2 832.2L1233.4 831.2L1230.5 828.9L1227.7 824.7L1225.8 819.7L1224.7 814.1L1224.5 808.0L1225.0 802.9L1226.2 797.8L1228.4 792.7L1231.1 788.7L1233.9 785.6L1237.1 783.1L1240.9 781.1L1248.4 778.8ZM1341.7 799.8L1343.5 799.9L1345.4 801.1L1347.3 803.6L1349.2 808.1L1349.2 839.3L1347.8 842.6L1346.4 844.8L1344.5 846.4L1342.6 846.8L1340.7 846.3L1338.8 844.7L1336.5 840.6L1334.5 833.4L1333.7 825.3L1334.1 816.1L1335.8 808.0L1337.0 804.9L1338.8 801.9ZM1265.4 896.5L1279.5 896.1L1294.6 896.2L1307.8 896.9L1319.1 898.0L1328.5 899.7L1336.0 901.9L1342.1 904.7L1345.5 907.7L1222.1 907.7L1224.1 905.7L1227.4 903.7L1232.3 901.6L1237.1 900.2L1249.4 897.9Z" fill="#4444ff" fill-rule="evenodd"/>
<path d="M1279.5 855.7L1285.2 855.3L1290.8 856.1L1302.1 859.1L1309.6 861.9L1314.4 864.8L1317.2 867.7L1318.5 871.1L1318.0 874.2L1316.9 876.2L1314.8 878.2L1311.7 880.3L1307.8 881.9L1298.3 884.1L1286.1 885.1L1272.9 884.6L1262.6 882.8L1258.2 881.3L1255.0 879.7L1251.8 877.2L1250.3 875.2L1249.5 872.1L1250.2 869.1L1252.2 866.3L1255.1 864.0L1259.7 861.5L1264.4 859.7Z" fill="#ff0000" fill-rule="evenodd"/>
<path d="M1263.5 783.4L1267.3 782.8L1271.0 783.1L1274.7 784.6L1277.1 786.6L1278.9 789.7L1279.6 792.7L1279.1 796.8L1277.6 799.8L1274.6 802.9L1270.1 805.3L1266.3 806.1L1256.9 806.6L1252.2 808.0L1250.3 809.1L1248.3 811.0L1246.3 814.1L1243.7 819.4L1241.8 821.5L1240.0 822.3L1238.1 822.5L1235.2 821.2L1233.3 819.2L1231.8 816.1L1231.0 813.1L1230.7 809.0L1231.1 804.9L1231.8 801.9L1233.4 798.0L1235.3 795.1L1238.7 791.7L1242.8 789.3ZM1341.7 809.0L1343.5 809.1L1344.5 809.8L1345.9 812.1L1347.3 816.5L1348.0 822.2L1347.6 829.4L1346.4 834.5L1344.5 837.7L1342.6 838.6L1340.7 837.7L1338.8 834.8L1337.6 830.4L1337.1 825.3L1337.2 820.2L1338.0 815.1L1339.8 810.8ZM1271.0 897.5L1294.6 897.4L1305.9 898.1L1315.3 899.2L1323.8 900.8L1330.3 902.7L1335.1 904.7L1338.9 907.7L1228.7 907.7L1230.9 905.7L1234.7 903.7L1243.7 900.8L1256.0 898.7Z" fill="#0000ff" fill-rule="evenodd"/>
<path d="M1276.7 858.8L1283.3 858.2L1288.9 858.5L1296.5 859.8L1304.0 862.1L1308.7 864.2L1312.5 867.0L1314.3 870.1L1314.4 873.1L1313.4 875.2L1311.5 877.2L1305.9 880.3L1297.4 882.5L1287.0 883.5L1275.7 883.2L1266.3 881.8L1262.6 880.6L1258.8 879.0L1256.2 877.2L1254.3 875.2L1253.4 873.1L1253.6 870.1L1254.7 868.0L1256.9 865.8L1259.8 864.0L1264.5 861.9L1270.1 860.2Z" fill="#c00000" fill-rule="evenodd"/>
<path d="M1266.3 789.5L1268.2 789.0L1270.1 789.0L1272.0 789.7L1273.1 790.7L1274.0 792.7L1273.9 794.8L1272.9 796.7L1272.0 797.7L1270.1 798.7L1267.3 799.1L1264.4 798.3L1262.7 796.8L1262.2 794.8L1262.9 792.7L1264.6 790.7ZM1274.8 898.5L1295.5 898.7L1312.5 900.3L1320.0 901.8L1326.3 903.7L1330.7 905.7L1333.2 907.7L1234.3 907.7L1236.9 905.7L1239.0 904.6L1248.4 901.5L1260.7 899.6Z" fill="#0000c8" fill-rule="evenodd"/>
<path d="M1276.7 860.8L1283.3 860.3L1288.9 860.5L1295.5 861.6L1302.1 863.5L1306.8 865.8L1309.5 868.0L1310.7 870.1L1310.8 873.1L1309.6 875.2L1307.8 876.8L1302.1 879.6L1294.6 881.3L1285.2 882.0L1275.7 881.6L1267.3 880.2L1263.5 878.9L1260.7 877.4L1259.0 876.2L1257.4 874.2L1256.8 872.1L1257.1 870.1L1258.4 868.0L1260.7 866.0L1267.3 863.0Z" fill="#800000" fill-rule="evenodd"/>
<path d="M1276.7 899.6L1294.6 899.8L1309.6 901.3L1320.9 903.9L1325.2 905.7L1328.0 907.7L1239.5 907.7L1241.8 906.0L1244.5 904.7L1253.1 902.1L1263.5 900.5Z" fill="#00008a" fill-rule="evenodd"/>
<path d="M1274.8 862.9L1280.5 862.2L1287.0 862.2L1292.7 862.8L1298.3 864.2L1302.8 866.0L1305.7 868.0L1307.2 870.1L1307.5 872.1L1307.2 873.1L1305.9 875.1L1304.6 876.2L1300.2 878.3L1293.6 879.9L1285.2 880.6L1276.7 880.2L1270.1 879.1L1264.7 877.2L1262.6 875.8L1261.0 874.2L1260.4 873.1L1260.2 871.1L1261.1 869.1L1262.6 867.6L1267.3 865.0Z" fill="#400000" fill-rule="evenodd"/>
<path d="M1278.6 900.6L1293.6 900.8L1306.8 902.2L1317.3 904.7L1320.9 906.3L1323.1 907.7L1244.4 907.7L1249.4 905.0L1256.9 902.9L1267.3 901.3Z" fill="#0a0a40" fill-rule="evenodd"/>
</g>
<path d="M1266.7 791.0m-1.75 0a1.75 1.75 0 1 0 3.5 0a1.75 1.75 0 1 0 -3.5 0M1300.9 791.0m-1.75 0a1.75 1.75 0 1 0 3.5 0a1.75 1.75 0 1 0 -3.5 0M1251.6 801.9m-1.75 0a1.75 1.75 0 1 0 3.5 0a1.75 1.75 0 1 0 -3.5 0M1269.8 802.8m-1.75 0a1.75 1.75 0 1 0 3.5 0a1.75 1.75 0 1 0 -3.5 0M1283.8 799.5m-1.75 0a1.75 1.75 0 1 0 3.5 0a1.75 1.75 0 1 0 -3.5 0M1298.1 802.8m-1.75 0a1.75 1.75 0 1 0 3.5 0a1.75 1.75 0 1 0 -3.5 0M1316.1 801.9m-1.75 0a1.75 1.75 0 1 0 3.5 0a1.75 1.75 0 1 0 -3.5 0M1258.3 811.8m-1.75 0a1.75 1.75 0 1 0 3.5 0a1.75 1.75 0 1 0 -3.5 0M1272.3 815.5m-1.75 0a1.75 1.75 0 1 0 3.5 0a1.75 1.75 0 1 0 -3.5 0M1283.8 812.2m-1.75 0a1.75 1.75 0 1 0 3.5 0a1.75 1.75 0 1 0 -3.5 0M1295.3 815.5m-1.75 0a1.75 1.75 0 1 0 3.5 0a1.75 1.75 0 1 0 -3.5 0M1309.3 811.8m-1.75 0a1.75 1.75 0 1 0 3.5 0a1.75 1.75 0 1 0 -3.5 0M1241.6 818.4m-1.75 0a1.75 1.75 0 1 0 3.5 0a1.75 1.75 0 1 0 -3.5 0M1326.1 818.4m-1.75 0a1.75 1.75 0 1 0 3.5 0a1.75 1.75 0 1 0 -3.5 0M1227.6 825.9m-1.75 0a1.75 1.75 0 1 0 3.5 0a1.75 1.75 0 1 0 -3.5 0M1251.0 825.4m-1.75 0a1.75 1.75 0 1 0 3.5 0a1.75 1.75 0 1 0 -3.5 0M1264.1 824.5m-1.75 0a1.75 1.75 0 1 0 3.5 0a1.75 1.75 0 1 0 -3.5 0M1283.8 824.0m-1.75 0a1.75 1.75 0 1 0 3.5 0a1.75 1.75 0 1 0 -3.5 0M1303.7 824.5m-1.75 0a1.75 1.75 0 1 0 3.5 0a1.75 1.75 0 1 0 -3.5 0M1316.5 825.4m-1.75 0a1.75 1.75 0 1 0 3.5 0a1.75 1.75 0 1 0 -3.5 0M1340.2 825.9m-1.75 0a1.75 1.75 0 1 0 3.5 0a1.75 1.75 0 1 0 -3.5 0M1238.2 836.7m-1.75 0a1.75 1.75 0 1 0 3.5 0a1.75 1.75 0 1 0 -3.5 0M1261.1 836.7m-1.75 0a1.75 1.75 0 1 0 3.5 0a1.75 1.75 0 1 0 -3.5 0M1274.0 830.6m-1.75 0a1.75 1.75 0 1 0 3.5 0a1.75 1.75 0 1 0 -3.5 0M1283.8 836.7m-1.75 0a1.75 1.75 0 1 0 3.5 0a1.75 1.75 0 1 0 -3.5 0M1293.9 830.6m-1.75 0a1.75 1.75 0 1 0 3.5 0a1.75 1.75 0 1 0 -3.5 0M1306.5 836.7m-1.75 0a1.75 1.75 0 1 0 3.5 0a1.75 1.75 0 1 0 -3.5 0M1329.4 836.7m-1.75 0a1.75 1.75 0 1 0 3.5 0a1.75 1.75 0 1 0 -3.5 0M1249.7 841.0m-1.75 0a1.75 1.75 0 1 0 3.5 0a1.75 1.75 0 1 0 -3.5 0M1273.7 843.3m-1.75 0a1.75 1.75 0 1 0 3.5 0a1.75 1.75 0 1 0 -3.5 0M1293.9 843.3m-1.75 0a1.75 1.75 0 1 0 3.5 0a1.75 1.75 0 1 0 -3.5 0M1318.2 841.0m-1.75 0a1.75 1.75 0 1 0 3.5 0a1.75 1.75 0 1 0 -3.5 0M1228.8 853.2m-1.75 0a1.75 1.75 0 1 0 3.5 0a1.75 1.75 0 1 0 -3.5 0M1264.1 849.4m-1.75 0a1.75 1.75 0 1 0 3.5 0a1.75 1.75 0 1 0 -3.5 0M1283.8 849.4m-1.75 0a1.75 1.75 0 1 0 3.5 0a1.75 1.75 0 1 0 -3.5 0M1303.7 849.4m-1.75 0a1.75 1.75 0 1 0 3.5 0a1.75 1.75 0 1 0 -3.5 0M1339.0 853.2m-1.75 0a1.75 1.75 0 1 0 3.5 0a1.75 1.75 0 1 0 -3.5 0M1241.6 855.6m-1.75 0a1.75 1.75 0 1 0 3.5 0a1.75 1.75 0 1 0 -3.5 0M1254.1 855.6m-1.75 0a1.75 1.75 0 1 0 3.5 0a1.75 1.75 0 1 0 -3.5 0M1272.3 858.4m-1.75 0a1.75 1.75 0 1 0 3.5 0a1.75 1.75 0 1 0 -3.5 0M1295.3 858.4m-1.75 0a1.75 1.75 0 1 0 3.5 0a1.75 1.75 0 1 0 -3.5 0M1313.5 855.6m-1.75 0a1.75 1.75 0 1 0 3.5 0a1.75 1.75 0 1 0 -3.5 0M1326.1 855.6m-1.75 0a1.75 1.75 0 1 0 3.5 0a1.75 1.75 0 1 0 -3.5 0M1283.8 861.2m-1.75 0a1.75 1.75 0 1 0 3.5 0a1.75 1.75 0 1 0 -3.5 0M1263.4 866.9m-1.75 0a1.75 1.75 0 1 0 3.5 0a1.75 1.75 0 1 0 -3.5 0M1304.2 866.9m-1.75 0a1.75 1.75 0 1 0 3.5 0a1.75 1.75 0 1 0 -3.5 0M1251.6 871.8m-1.75 0a1.75 1.75 0 1 0 3.5 0a1.75 1.75 0 1 0 -3.5 0M1276.5 873.4m-1.75 0a1.75 1.75 0 1 0 3.5 0a1.75 1.75 0 1 0 -3.5 0M1291.1 873.4m-1.75 0a1.75 1.75 0 1 0 3.5 0a1.75 1.75 0 1 0 -3.5 0M1315.9 871.8m-1.75 0a1.75 1.75 0 1 0 3.5 0a1.75 1.75 0 1 0 -3.5 0M1240.0 876.7m-1.75 0a1.75 1.75 0 1 0 3.5 0a1.75 1.75 0 1 0 -3.5 0M1327.6 876.7m-1.75 0a1.75 1.75 0 1 0 3.5 0a1.75 1.75 0 1 0 -3.5 0M1266.7 882.4m-1.75 0a1.75 1.75 0 1 0 3.5 0a1.75 1.75 0 1 0 -3.5 0M1300.9 882.4m-1.75 0a1.75 1.75 0 1 0 3.5 0a1.75 1.75 0 1 0 -3.5 0M1283.8 886.2m-1.75 0a1.75 1.75 0 1 0 3.5 0a1.75 1.75 0 1 0 -3.5 0M1259.4 892.8m-1.75 0a1.75 1.75 0 1 0 3.5 0a1.75 1.75 0 1 0 -3.5 0M1307.9 892.8m-1.75 0a1.75 1.75 0 1 0 3.5 0a1.75 1.75 0 1 0 -3.5 0M1283.8 898.9m-1.75 0a1.75 1.75 0 1 0 3.5 0a1.75 1.75 0 1 0 -3.5 0" fill="none" stroke="#2a2a2a" stroke-width="0.95"/>
<ellipse cx="1283.75" cy="837.00" rx="60.60" ry="65.50" fill="none" stroke="#333" stroke-width="1.1"/>
<path d="M1277.5 772.1C1278.8 765.5 1280.2 760.5 1283.8 760.5C1287.2 760.5 1288.8 765.5 1290.0 772.1" fill="none" stroke="#333" stroke-width="1.1"/>
<clipPath id="hd4"><ellipse cx="1431.25" cy="837.00" rx="60.60" ry="65.50"/></clipPath>
<g clip-path="url(#hd4)">
<ellipse cx="1431.25" cy="837.00" rx="60.60" ry="65.50" fill="#fff"/>
<path d="M1456.2 804.6L1459.0 804.1L1460.9 805.4L1461.9 808.0L1461.7 812.1L1460.8 815.1L1458.9 819.2L1452.2 828.3L1450.5 831.4L1449.3 836.5L1449.6 842.7L1450.8 845.7L1452.6 847.7L1456.0 849.7L1464.7 852.8L1468.4 854.6L1472.2 857.6L1476.0 862.3L1479.3 869.1L1480.2 872.1L1480.5 875.2L1480.3 878.2L1479.7 880.3L1478.6 882.3L1476.9 884.3L1474.1 886.2L1470.9 887.4L1459.0 889.4L1442.1 890.4L1415.7 890.3L1402.5 889.5L1393.1 887.9L1385.9 885.3L1382.6 883.3L1380.4 881.3L1378.5 878.2L1378.1 875.2L1378.5 873.1L1379.5 871.1L1381.8 868.0L1385.1 865.0L1391.2 860.6L1409.2 850.7L1411.9 848.5L1413.8 845.7L1414.8 841.0L1414.1 836.5L1412.6 833.4L1407.3 826.3L1405.6 822.2L1405.5 819.2L1406.3 817.2L1407.2 816.2L1409.1 815.3L1411.9 815.2L1415.7 816.2L1422.3 819.4L1425.1 820.3L1428.9 820.8L1441.1 820.9L1443.0 820.1L1444.9 818.5L1451.5 808.6L1454.1 806.0Z" fill="#ffc0c0" fill-rule="evenodd"/>
<path d="M1496.7 766.3L1496.7 862.7L1495.8 864.3L1492.9 867.4L1491.0 868.1L1489.2 867.8L1487.3 866.6L1485.4 864.5L1482.6 860.2L1480.3 855.8L1477.4 847.7L1476.1 839.5L1475.8 831.4L1476.4 811.0L1475.5 803.9L1473.9 799.8L1470.6 795.8L1467.5 793.7L1463.7 792.7L1460.9 792.9L1458.1 793.5L1451.0 796.8L1445.8 800.3L1437.4 808.3L1434.5 810.0L1431.7 810.9L1428.0 811.2L1425.1 810.7L1422.3 809.5L1416.7 806.2L1413.8 805.2L1411.0 805.5L1406.3 807.7L1402.5 811.0L1401.2 813.1L1400.2 816.1L1400.1 821.2L1402.1 830.4L1402.5 834.5L1401.9 837.5L1400.8 840.6L1397.5 845.7L1394.1 849.0L1389.3 852.5L1384.6 855.0L1379.9 856.7L1376.2 857.3L1372.4 857.2L1368.6 856.1L1365.8 854.6L1365.8 766.3ZM1386.5 894.5L1403.5 893.9L1435.5 893.5L1488.2 894.7L1492.0 895.5L1496.7 897.2L1496.7 907.7L1365.8 907.7L1365.8 897.9L1375.2 895.7Z" fill="#c0c0ff" fill-rule="evenodd"/>
<path d="M1410.1 819.0L1411.9 818.6L1413.8 819.0L1416.5 820.2L1423.2 824.6L1426.1 825.4L1434.5 826.6L1437.4 827.8L1439.7 829.4L1441.2 831.4L1441.9 833.4L1442.4 836.5L1442.6 845.7L1443.1 847.7L1444.2 849.7L1446.6 851.8L1448.7 852.9L1461.9 857.2L1466.6 859.2L1470.3 861.7L1473.4 865.0L1475.5 869.1L1476.3 873.1L1475.6 877.2L1473.8 880.3L1471.6 882.3L1468.4 884.1L1460.0 886.7L1448.7 888.3L1432.7 888.9L1415.7 888.6L1403.5 887.2L1395.0 884.8L1391.2 882.9L1388.4 880.8L1385.9 877.2L1385.2 874.2L1385.8 871.1L1388.5 867.0L1392.2 863.7L1397.8 860.1L1415.7 852.3L1418.5 850.0L1419.9 847.7L1420.6 842.6L1419.6 836.5L1417.3 832.4L1411.9 827.6L1409.4 824.3L1408.7 821.2L1409.1 819.9Z" fill="#ff8080" fill-rule="evenodd"/>
<path d="M1492.1 766.3L1494.2 768.3L1495.5 770.3L1496.4 774.4L1495.7 778.5L1492.4 788.7L1491.7 792.7L1492.3 798.8L1496.7 818.6L1496.7 849.9L1495.6 853.8L1493.9 857.4L1492.8 858.9L1491.0 860.2L1489.2 860.4L1487.3 859.6L1484.2 855.8L1481.6 849.7L1479.9 840.6L1479.8 829.4L1481.1 817.2L1484.3 799.8L1484.5 794.8L1483.3 790.7L1480.7 787.1L1476.9 784.6L1472.2 783.5L1467.5 783.6L1462.8 784.2L1451.5 786.7L1447.7 788.0L1444.9 790.0L1443.0 792.1L1438.2 799.8L1435.5 803.3L1432.7 805.4L1429.8 806.3L1426.9 806.0L1423.5 803.9L1420.7 800.9L1416.7 795.2L1413.8 792.7L1411.0 792.3L1408.2 793.5L1406.3 795.2L1404.4 797.8L1399.7 807.0L1398.0 811.0L1396.9 817.2L1397.3 827.3L1397.0 831.4L1395.5 836.5L1392.8 841.6L1390.3 844.6L1387.9 846.7L1384.6 848.7L1381.8 849.7L1379.0 850.2L1376.2 850.1L1373.3 849.3L1370.7 847.7L1367.7 844.7L1365.8 841.7L1365.8 766.3ZM1406.3 895.5L1427.0 894.9L1448.7 895.2L1464.7 896.1L1480.7 897.9L1489.2 899.7L1495.7 902.7L1496.7 903.3L1496.7 907.7L1365.8 907.7L1365.8 903.7L1369.9 901.6L1375.2 899.7L1381.8 898.1L1388.4 897.0Z" fill="#8080ff" fill-rule="evenodd"/>
<path d="M1428.9 834.1L1430.8 833.8L1432.7 834.4L1433.7 835.5L1434.7 837.5L1434.9 839.5L1434.5 841.8L1433.6 844.3L1431.7 847.5L1430.8 847.3L1429.8 845.8L1427.6 840.6L1427.4 836.5L1428.0 834.9ZM1430.8 847.9L1431.7 847.8L1432.2 848.7L1434.6 850.7L1440.0 853.8L1445.7 855.8L1459.0 859.7L1462.8 861.2L1466.6 863.4L1469.5 866.0L1471.8 870.1L1472.2 872.1L1472.1 874.2L1470.9 877.2L1468.4 879.9L1465.6 881.8L1461.9 883.5L1457.1 885.0L1445.8 886.7L1429.8 887.2L1414.8 886.7L1403.5 884.9L1399.7 883.7L1395.9 881.9L1393.1 879.9L1390.9 877.2L1389.9 874.2L1390.2 871.1L1391.9 868.0L1395.9 864.2L1399.7 861.9L1404.4 859.8L1422.5 853.8L1427.9 850.7L1430.4 848.7Z" fill="#ff4040" fill-rule="evenodd"/>
<path d="M1376.7 766.3L1394.0 766.3L1398.8 768.3L1401.9 770.3L1403.6 772.4L1404.2 774.4L1403.6 777.5L1398.8 788.0L1396.4 795.8L1393.6 811.0L1392.4 825.3L1390.8 831.4L1388.9 835.5L1386.5 838.6L1383.7 840.8L1379.9 842.0L1377.1 841.7L1374.8 840.6L1372.4 838.4L1370.5 835.7L1368.9 832.4L1367.6 828.3L1365.8 817.6L1366.0 779.5L1367.2 775.4L1368.9 772.4L1371.7 769.3ZM1427.0 767.2L1431.7 767.2L1436.4 769.0L1439.3 771.8L1440.0 773.4L1440.3 775.4L1440.0 779.5L1439.0 784.6L1436.3 793.7L1433.6 798.5L1431.7 800.1L1429.8 800.8L1428.0 800.6L1426.1 799.5L1423.2 795.8L1420.3 787.6L1417.8 776.4L1418.2 773.4L1420.3 770.3L1423.5 768.3ZM1487.3 815.9L1488.2 815.3L1489.2 815.2L1490.1 815.7L1492.0 818.7L1493.8 825.3L1494.7 832.4L1494.6 840.6L1493.6 846.7L1492.0 850.7L1491.0 851.9L1489.2 852.8L1487.3 852.0L1485.1 848.7L1483.6 843.6L1483.0 838.5L1483.0 832.4L1483.8 825.3L1485.4 819.2ZM1415.7 896.5L1429.8 896.2L1444.0 896.4L1456.2 897.0L1467.5 898.3L1477.9 900.1L1485.4 902.2L1490.4 904.7L1493.5 907.7L1369.5 907.7L1371.4 905.7L1374.7 903.7L1379.5 901.6L1384.6 900.1L1397.8 897.9Z" fill="#4444ff" fill-rule="evenodd"/>
<path d="M1425.1 856.8L1430.8 856.2L1436.4 856.7L1450.6 859.7L1459.0 862.4L1463.7 865.0L1466.8 868.0L1468.2 871.1L1468.3 873.1L1467.7 875.2L1466.4 877.2L1463.7 879.6L1460.8 881.3L1456.2 883.0L1446.8 884.9L1433.6 885.6L1417.6 885.2L1407.2 883.8L1402.5 882.3L1398.8 880.5L1395.9 878.2L1394.4 876.2L1393.5 873.1L1394.2 870.1L1396.5 867.0L1399.7 864.5L1403.5 862.5L1409.1 860.4Z" fill="#ff0000" fill-rule="evenodd"/>
<path d="M1379.9 781.0L1381.8 780.6L1383.7 781.0L1385.5 782.5L1386.6 784.6L1387.7 790.7L1388.1 803.9L1387.7 815.1L1386.5 822.3L1385.5 825.3L1383.7 828.2L1381.8 829.9L1379.9 830.5L1378.0 830.1L1376.9 829.4L1375.2 827.5L1374.1 825.3L1372.3 819.2L1371.7 811.0L1372.4 800.4L1374.3 789.8L1376.4 784.6L1378.0 782.4ZM1428.9 782.9L1429.8 782.9L1430.8 783.6L1431.7 786.6L1431.3 789.7L1430.8 790.9L1429.8 791.7L1428.9 791.7L1428.0 790.8L1427.0 787.6L1427.5 784.6ZM1420.4 897.5L1444.0 897.6L1454.3 898.3L1463.7 899.4L1472.2 901.0L1478.8 902.9L1483.5 905.0L1486.9 907.7L1376.0 907.7L1378.2 905.7L1382.0 903.7L1391.2 900.8L1404.4 898.7Z" fill="#0000ff" fill-rule="evenodd"/>
<path d="M1421.4 859.8L1428.9 859.0L1435.5 859.2L1444.9 860.5L1453.4 862.6L1458.9 865.0L1462.8 868.0L1464.5 871.1L1464.3 874.2L1463.2 876.2L1461.1 878.2L1455.3 881.2L1446.8 883.2L1436.4 884.0L1421.4 883.9L1411.0 882.8L1406.3 881.5L1403.1 880.3L1399.8 878.2L1397.9 876.2L1397.0 874.2L1397.1 871.1L1398.8 868.2L1401.3 866.0L1404.9 864.0L1409.1 862.4Z" fill="#c00000" fill-rule="evenodd"/>
<path d="M1424.2 898.6L1444.0 898.8L1460.9 900.5L1467.5 901.8L1473.9 903.7L1478.4 905.7L1481.0 907.7L1381.7 907.7L1384.2 905.7L1386.5 904.5L1395.9 901.6L1409.1 899.5Z" fill="#0000c8" fill-rule="evenodd"/>
<path d="M1419.5 861.9L1427.0 861.1L1434.5 861.1L1443.0 862.1L1449.6 863.4L1455.3 865.5L1459.0 868.0L1460.6 870.1L1461.1 873.1L1460.3 875.2L1458.4 877.2L1453.4 879.9L1445.8 881.7L1436.4 882.5L1422.3 882.5L1411.9 881.3L1408.2 880.3L1404.4 878.6L1402.4 877.2L1400.6 875.2L1399.9 873.1L1400.2 871.1L1401.3 869.1L1403.5 867.0L1406.3 865.4L1410.1 863.9Z" fill="#800000" fill-rule="evenodd"/>
<path d="M1427.0 899.6L1444.0 899.9L1458.1 901.5L1463.9 902.7L1469.4 904.3L1472.7 905.7L1475.6 907.7L1386.9 907.7L1389.3 905.9L1392.0 904.7L1400.6 902.2L1412.9 900.4Z" fill="#00008a" fill-rule="evenodd"/>
<path d="M1426.1 862.9L1438.3 863.2L1444.2 864.0L1449.6 865.3L1453.7 867.0L1456.4 869.1L1457.7 871.1L1457.8 873.1L1456.8 875.2L1455.8 876.2L1453.4 877.8L1450.6 878.9L1443.0 880.6L1433.6 881.1L1421.4 880.9L1412.9 879.8L1409.1 878.6L1406.3 877.3L1404.9 876.2L1403.4 874.2L1403.0 872.1L1403.8 870.1L1405.8 868.0L1408.2 866.6L1415.7 864.2Z" fill="#400000" fill-rule="evenodd"/>
<path d="M1428.9 900.6L1443.0 901.0L1455.3 902.4L1464.7 904.7L1467.5 905.8L1470.6 907.7L1391.8 907.7L1394.1 906.2L1397.7 904.7L1405.7 902.7L1416.7 901.2Z" fill="#0a0a40" fill-rule="evenodd"/>
</g>
<path d="M1414.2 791.0m-1.75 0a1.75 1.75 0 1 0 3.5 0a1.75 1.75 0 1 0 -3.5 0M1448.4 791.0m-1.75 0a1.75 1.75 0 1 0 3.5 0a1.75 1.75 0 1 0 -3.5 0M1399.1 801.9m-1.75 0a1.75 1.75 0 1 0 3.5 0a1.75 1.75 0 1 0 -3.5 0M1417.3 802.8m-1.75 0a1.75 1.75 0 1 0 3.5 0a1.75 1.75 0 1 0 -3.5 0M1431.2 799.5m-1.75 0a1.75 1.75 0 1 0 3.5 0a1.75 1.75 0 1 0 -3.5 0M1445.6 802.8m-1.75 0a1.75 1.75 0 1 0 3.5 0a1.75 1.75 0 1 0 -3.5 0M1463.6 801.9m-1.75 0a1.75 1.75 0 1 0 3.5 0a1.75 1.75 0 1 0 -3.5 0M1405.8 811.8m-1.75 0a1.75 1.75 0 1 0 3.5 0a1.75 1.75 0 1 0 -3.5 0M1419.8 815.5m-1.75 0a1.75 1.75 0 1 0 3.5 0a1.75 1.75 0 1 0 -3.5 0M1431.2 812.2m-1.75 0a1.75 1.75 0 1 0 3.5 0a1.75 1.75 0 1 0 -3.5 0M1442.8 815.5m-1.75 0a1.75 1.75 0 1 0 3.5 0a1.75 1.75 0 1 0 -3.5 0M1456.8 811.8m-1.75 0a1.75 1.75 0 1 0 3.5 0a1.75 1.75 0 1 0 -3.5 0M1389.1 818.4m-1.75 0a1.75 1.75 0 1 0 3.5 0a1.75 1.75 0 1 0 -3.5 0M1473.6 818.4m-1.75 0a1.75 1.75 0 1 0 3.5 0a1.75 1.75 0 1 0 -3.5 0M1375.1 825.9m-1.75 0a1.75 1.75 0 1 0 3.5 0a1.75 1.75 0 1 0 -3.5 0M1398.5 825.4m-1.75 0a1.75 1.75 0 1 0 3.5 0a1.75 1.75 0 1 0 -3.5 0M1411.6 824.5m-1.75 0a1.75 1.75 0 1 0 3.5 0a1.75 1.75 0 1 0 -3.5 0M1431.2 824.0m-1.75 0a1.75 1.75 0 1 0 3.5 0a1.75 1.75 0 1 0 -3.5 0M1451.2 824.5m-1.75 0a1.75 1.75 0 1 0 3.5 0a1.75 1.75 0 1 0 -3.5 0M1464.0 825.4m-1.75 0a1.75 1.75 0 1 0 3.5 0a1.75 1.75 0 1 0 -3.5 0M1487.7 825.9m-1.75 0a1.75 1.75 0 1 0 3.5 0a1.75 1.75 0 1 0 -3.5 0M1385.7 836.7m-1.75 0a1.75 1.75 0 1 0 3.5 0a1.75 1.75 0 1 0 -3.5 0M1408.6 836.7m-1.75 0a1.75 1.75 0 1 0 3.5 0a1.75 1.75 0 1 0 -3.5 0M1421.5 830.6m-1.75 0a1.75 1.75 0 1 0 3.5 0a1.75 1.75 0 1 0 -3.5 0M1431.2 836.7m-1.75 0a1.75 1.75 0 1 0 3.5 0a1.75 1.75 0 1 0 -3.5 0M1441.4 830.6m-1.75 0a1.75 1.75 0 1 0 3.5 0a1.75 1.75 0 1 0 -3.5 0M1454.0 836.7m-1.75 0a1.75 1.75 0 1 0 3.5 0a1.75 1.75 0 1 0 -3.5 0M1476.9 836.7m-1.75 0a1.75 1.75 0 1 0 3.5 0a1.75 1.75 0 1 0 -3.5 0M1397.2 841.0m-1.75 0a1.75 1.75 0 1 0 3.5 0a1.75 1.75 0 1 0 -3.5 0M1421.2 843.3m-1.75 0a1.75 1.75 0 1 0 3.5 0a1.75 1.75 0 1 0 -3.5 0M1441.4 843.3m-1.75 0a1.75 1.75 0 1 0 3.5 0a1.75 1.75 0 1 0 -3.5 0M1465.7 841.0m-1.75 0a1.75 1.75 0 1 0 3.5 0a1.75 1.75 0 1 0 -3.5 0M1376.3 853.2m-1.75 0a1.75 1.75 0 1 0 3.5 0a1.75 1.75 0 1 0 -3.5 0M1411.6 849.4m-1.75 0a1.75 1.75 0 1 0 3.5 0a1.75 1.75 0 1 0 -3.5 0M1431.2 849.4m-1.75 0a1.75 1.75 0 1 0 3.5 0a1.75 1.75 0 1 0 -3.5 0M1451.2 849.4m-1.75 0a1.75 1.75 0 1 0 3.5 0a1.75 1.75 0 1 0 -3.5 0M1486.5 853.2m-1.75 0a1.75 1.75 0 1 0 3.5 0a1.75 1.75 0 1 0 -3.5 0M1389.1 855.6m-1.75 0a1.75 1.75 0 1 0 3.5 0a1.75 1.75 0 1 0 -3.5 0M1401.6 855.6m-1.75 0a1.75 1.75 0 1 0 3.5 0a1.75 1.75 0 1 0 -3.5 0M1419.8 858.4m-1.75 0a1.75 1.75 0 1 0 3.5 0a1.75 1.75 0 1 0 -3.5 0M1442.8 858.4m-1.75 0a1.75 1.75 0 1 0 3.5 0a1.75 1.75 0 1 0 -3.5 0M1461.0 855.6m-1.75 0a1.75 1.75 0 1 0 3.5 0a1.75 1.75 0 1 0 -3.5 0M1473.6 855.6m-1.75 0a1.75 1.75 0 1 0 3.5 0a1.75 1.75 0 1 0 -3.5 0M1431.2 861.2m-1.75 0a1.75 1.75 0 1 0 3.5 0a1.75 1.75 0 1 0 -3.5 0M1410.9 866.9m-1.75 0a1.75 1.75 0 1 0 3.5 0a1.75 1.75 0 1 0 -3.5 0M1451.7 866.9m-1.75 0a1.75 1.75 0 1 0 3.5 0a1.75 1.75 0 1 0 -3.5 0M1399.1 871.8m-1.75 0a1.75 1.75 0 1 0 3.5 0a1.75 1.75 0 1 0 -3.5 0M1424.0 873.4m-1.75 0a1.75 1.75 0 1 0 3.5 0a1.75 1.75 0 1 0 -3.5 0M1438.6 873.4m-1.75 0a1.75 1.75 0 1 0 3.5 0a1.75 1.75 0 1 0 -3.5 0M1463.4 871.8m-1.75 0a1.75 1.75 0 1 0 3.5 0a1.75 1.75 0 1 0 -3.5 0M1387.5 876.7m-1.75 0a1.75 1.75 0 1 0 3.5 0a1.75 1.75 0 1 0 -3.5 0M1475.1 876.7m-1.75 0a1.75 1.75 0 1 0 3.5 0a1.75 1.75 0 1 0 -3.5 0M1414.2 882.4m-1.75 0a1.75 1.75 0 1 0 3.5 0a1.75 1.75 0 1 0 -3.5 0M1448.4 882.4m-1.75 0a1.75 1.75 0 1 0 3.5 0a1.75 1.75 0 1 0 -3.5 0M1431.2 886.2m-1.75 0a1.75 1.75 0 1 0 3.5 0a1.75 1.75 0 1 0 -3.5 0M1406.9 892.8m-1.75 0a1.75 1.75 0 1 0 3.5 0a1.75 1.75 0 1 0 -3.5 0M1455.4 892.8m-1.75 0a1.75 1.75 0 1 0 3.5 0a1.75 1.75 0 1 0 -3.5 0M1431.2 898.9m-1.75 0a1.75 1.75 0 1 0 3.5 0a1.75 1.75 0 1 0 -3.5 0" fill="none" stroke="#2a2a2a" stroke-width="0.95"/>
<ellipse cx="1431.25" cy="837.00" rx="60.60" ry="65.50" fill="none" stroke="#333" stroke-width="1.1"/>
<path d="M1425.0 772.1C1426.2 765.5 1427.8 760.5 1431.2 760.5C1434.8 760.5 1436.2 765.5 1437.5 772.1" fill="none" stroke="#333" stroke-width="1.1"/>
<clipPath id="he1"><ellipse cx="164.50" cy="1413.00" rx="60.60" ry="66.20"/></clipPath>
<g clip-path="url(#he1)">
<ellipse cx="164.50" cy="1413.00" rx="60.60" ry="66.20" fill="#fff"/>
<path d="M132.2 1341.5L134.0 1343.6L136.7 1347.7L138.4 1351.8L139.3 1355.9L139.5 1360.0L138.8 1370.3L137.8 1376.5L136.4 1380.6L133.4 1384.7L130.6 1386.8L127.3 1388.4L123.5 1389.4L118.8 1390.0L114.1 1389.9L108.5 1389.1L103.5 1387.8L99.1 1386.0L99.1 1341.5ZM215.8 1357.6L219.6 1357.1L223.4 1358.0L227.1 1360.5L229.9 1364.1L229.9 1387.9L227.1 1390.8L224.3 1392.1L221.5 1392.5L218.6 1392.1L215.8 1391.2L213.0 1389.5L210.2 1387.1L208.3 1384.7L206.0 1379.6L205.5 1376.5L205.6 1372.4L207.3 1366.0L208.9 1363.1L211.1 1360.5L213.0 1359.0ZM164.0 1385.7L172.5 1386.6L176.3 1387.9L179.1 1389.6L181.3 1391.9L182.9 1394.7L183.8 1398.1L183.9 1401.2L183.2 1405.3L181.4 1410.4L178.5 1415.6L175.3 1419.6L172.5 1422.3L168.7 1424.7L165.0 1425.9L161.2 1426.1L157.4 1425.2L154.6 1423.8L150.8 1420.9L148.0 1417.6L145.5 1413.5L143.8 1409.4L142.8 1405.3L142.6 1401.2L143.0 1398.1L144.3 1394.6L146.1 1391.9L148.3 1389.9L151.8 1387.9L155.3 1386.8L159.3 1386.0ZM169.7 1457.7L174.4 1458.1L177.2 1459.1L180.0 1460.7L184.6 1465.0L186.8 1469.1L187.6 1473.2L187.4 1475.2L186.6 1477.8L184.2 1481.4L180.0 1484.5L166.2 1484.5L162.2 1481.4L159.7 1477.3L158.8 1474.2L158.6 1471.1L159.0 1468.0L160.3 1464.5L162.0 1461.9L164.0 1459.9L166.9 1458.4Z" fill="#ffc0c0" fill-rule="evenodd"/>
<path d="M165.0 1357.9L168.7 1357.5L172.5 1357.9L176.3 1359.0L179.1 1360.5L181.7 1363.1L182.7 1365.2L182.9 1368.3L182.1 1370.3L180.3 1372.4L178.2 1373.7L175.3 1374.8L171.6 1375.5L167.8 1375.6L164.0 1375.1L161.2 1374.3L158.4 1372.8L156.8 1371.3L155.6 1369.3L155.2 1367.2L155.9 1364.1L157.2 1362.1L159.3 1360.2L162.1 1358.7ZM198.9 1402.0L202.6 1401.7L207.3 1402.9L213.0 1405.7L218.0 1409.4L221.0 1412.5L223.8 1416.6L225.8 1421.7L226.7 1426.9L226.7 1433.1L225.7 1439.2L224.0 1444.4L221.2 1449.5L217.7 1453.9L213.9 1457.2L209.2 1459.7L204.5 1460.9L200.8 1460.8L197.0 1459.8L192.3 1457.3L187.2 1453.6L182.6 1449.5L180.1 1446.4L178.3 1443.3L177.3 1439.2L177.4 1435.1L178.5 1431.0L180.3 1426.9L183.6 1420.7L192.3 1407.2L196.0 1403.4ZM102.8 1404.2L108.5 1404.0L115.1 1405.1L120.7 1407.1L126.2 1410.4L130.1 1413.9L134.8 1419.5L140.8 1427.9L145.7 1436.1L147.7 1440.3L149.6 1445.4L150.5 1449.5L150.9 1454.7L150.4 1460.8L148.1 1476.3L147.1 1480.8L145.5 1484.5L112.3 1484.5L105.6 1478.3L99.1 1470.0L99.1 1405.0Z" fill="#c0c0ff" fill-rule="evenodd"/>
<path d="M112.2 1344.1L116.0 1344.4L118.8 1345.2L121.8 1346.6L124.5 1348.8L127.1 1351.8L128.8 1354.9L129.8 1358.0L130.4 1361.0L130.4 1365.2L129.6 1369.3L128.4 1372.4L126.5 1375.5L124.5 1377.6L121.7 1379.6L118.8 1380.7L113.2 1381.4L107.5 1380.3L102.8 1377.8L99.1 1374.1L99.1 1351.6L100.9 1349.3L103.8 1347.0L106.6 1345.4ZM162.1 1391.8L167.8 1391.7L170.6 1392.3L173.4 1393.6L175.4 1395.0L177.2 1397.2L178.2 1399.1L178.9 1402.2L178.8 1405.3L178.1 1408.4L175.3 1413.6L173.4 1415.8L170.6 1418.0L167.8 1419.4L165.0 1420.0L162.1 1420.0L159.3 1419.3L154.9 1416.6L151.6 1412.5L149.9 1407.3L150.2 1402.2L151.4 1399.1L152.7 1397.2L156.5 1393.9L159.3 1392.6ZM169.7 1462.9L173.4 1462.7L176.3 1463.6L179.1 1465.6L181.0 1468.0L182.0 1471.1L181.8 1474.2L180.1 1477.3L178.2 1479.0L174.4 1480.4L171.6 1480.5L169.7 1480.1L166.4 1478.3L164.0 1475.2L163.2 1471.1L164.0 1467.6L165.9 1464.9L167.8 1463.6Z" fill="#ff8080" fill-rule="evenodd"/>
<path d="M165.9 1365.0L167.8 1364.5L170.6 1364.8L172.4 1366.2L172.6 1367.2L172.1 1368.3L170.6 1369.3L168.7 1369.6L166.5 1369.3L165.0 1368.3L164.5 1367.2L164.7 1366.2ZM198.9 1409.1L201.7 1408.5L205.5 1408.9L209.2 1410.5L213.0 1413.3L215.8 1416.6L217.6 1419.7L219.1 1423.8L219.7 1427.9L219.7 1432.0L219.1 1436.1L217.7 1440.3L215.5 1444.4L213.0 1447.5L210.2 1449.8L206.4 1451.8L202.6 1452.6L198.9 1452.5L196.0 1451.7L193.2 1450.4L190.4 1448.4L187.6 1445.6L185.7 1442.8L184.2 1439.2L183.6 1436.1L183.6 1433.1L184.3 1428.9L185.8 1424.8L187.9 1420.7L190.4 1416.7L193.2 1413.2L196.0 1410.7ZM103.8 1411.3L108.5 1410.5L113.2 1410.9L118.8 1412.7L123.5 1415.4L128.2 1419.5L133.0 1424.9L137.1 1431.0L140.9 1438.2L143.3 1444.4L144.8 1450.5L145.4 1456.7L145.1 1462.9L143.7 1470.1L141.7 1475.2L139.5 1478.4L135.8 1481.4L132.0 1482.8L127.3 1483.0L122.6 1481.9L116.9 1479.2L112.2 1475.8L107.5 1471.1L102.8 1465.0L99.1 1458.6L99.1 1414.0Z" fill="#8080ff" fill-rule="evenodd"/>
<path d="M110.4 1356.9L112.2 1356.3L115.1 1356.6L117.2 1358.0L118.7 1360.0L119.3 1362.1L119.2 1365.2L117.9 1367.7L116.0 1369.3L114.1 1370.0L111.3 1369.7L108.8 1368.3L107.3 1366.2L106.7 1364.1L107.0 1361.0L108.5 1358.3ZM162.1 1398.1L165.9 1397.5L168.7 1398.0L171.6 1399.9L173.1 1402.2L173.6 1405.3L173.0 1408.4L171.0 1411.5L167.8 1413.7L164.0 1414.3L161.2 1413.6L158.3 1411.5L156.6 1408.4L156.3 1405.3L157.2 1402.2L159.3 1399.7ZM170.6 1469.8L172.5 1469.1L174.4 1470.0L174.9 1471.1L174.4 1473.1L172.5 1473.8L170.7 1473.2L170.1 1472.2L169.9 1471.1Z" fill="#ff4040" fill-rule="evenodd"/>
<path d="M198.9 1415.5L200.8 1415.0L203.6 1415.0L205.7 1415.6L208.3 1417.1L210.2 1418.9L212.1 1421.7L213.3 1424.8L213.9 1427.9L214.0 1431.0L213.5 1434.1L212.5 1437.2L211.1 1439.8L209.2 1442.1L207.3 1443.7L205.5 1444.7L202.6 1445.6L197.9 1445.3L195.1 1444.0L193.2 1442.6L190.4 1438.9L188.9 1434.1L189.2 1428.9L191.3 1423.1L195.1 1418.1ZM108.5 1416.5L112.2 1416.3L116.0 1417.1L120.7 1419.2L124.5 1421.9L128.2 1425.6L131.8 1430.0L135.0 1435.1L137.4 1440.3L139.2 1445.4L140.6 1451.6L140.9 1456.7L140.6 1461.9L139.5 1466.3L137.9 1470.1L135.5 1473.2L132.6 1475.2L129.2 1476.3L124.5 1476.2L119.8 1474.7L116.0 1472.5L111.3 1468.5L107.5 1464.2L103.9 1458.8L100.9 1452.6L99.1 1447.5L99.1 1424.4L100.5 1421.7L102.8 1419.2L105.6 1417.4Z" fill="#4444ff" fill-rule="evenodd"/>
<path d="M111.3 1421.7L114.1 1421.8L117.9 1422.8L121.5 1424.8L124.5 1427.2L127.3 1430.2L130.2 1434.1L132.6 1438.2L134.4 1442.3L136.5 1450.5L136.9 1454.7L136.7 1458.8L135.7 1462.9L134.2 1466.0L132.5 1468.0L130.1 1469.8L127.3 1470.7L123.5 1470.6L119.8 1469.4L116.0 1467.1L112.2 1463.8L108.9 1459.8L106.4 1455.7L103.9 1450.5L102.3 1445.4L101.4 1440.3L101.3 1435.1L101.9 1431.0L103.6 1426.9L105.6 1424.3L108.5 1422.4ZM201.7 1422.8L203.6 1423.2L205.6 1424.8L206.8 1426.9L207.3 1430.0L206.7 1433.1L205.5 1435.2L203.6 1436.8L200.8 1437.5L198.9 1437.0L196.6 1435.1L195.6 1433.1L195.3 1430.0L196.0 1427.0L197.5 1424.8L199.8 1423.1Z" fill="#0000ff" fill-rule="evenodd"/>
<path d="M110.4 1427.9L112.2 1427.2L115.1 1427.1L117.9 1427.9L120.7 1429.4L125.4 1433.7L129.7 1440.3L132.2 1447.5L132.8 1451.6L132.8 1454.7L132.4 1457.7L131.2 1460.8L130.1 1462.4L128.2 1464.1L126.4 1465.0L123.5 1465.2L120.7 1464.6L117.9 1463.2L112.8 1458.8L110.5 1455.7L108.5 1452.1L106.9 1448.5L105.8 1444.4L105.3 1440.3L105.3 1437.2L105.8 1434.1L107.2 1431.0L108.5 1429.3Z" fill="#0000c8" fill-rule="evenodd"/>
<path d="M113.2 1433.8L116.0 1433.2L119.8 1434.5L123.5 1437.9L126.3 1442.3L128.1 1447.5L128.4 1451.6L127.5 1455.7L125.4 1458.2L122.6 1459.1L118.8 1458.0L115.1 1454.9L112.1 1450.5L110.2 1445.4L109.7 1440.3L110.8 1436.1Z" fill="#00008a" fill-rule="evenodd"/>
</g>
<path d="M147.5 1366.6m-1.75 0a1.75 1.75 0 1 0 3.5 0a1.75 1.75 0 1 0 -3.5 0M181.6 1366.6m-1.75 0a1.75 1.75 0 1 0 3.5 0a1.75 1.75 0 1 0 -3.5 0M132.3 1377.5m-1.75 0a1.75 1.75 0 1 0 3.5 0a1.75 1.75 0 1 0 -3.5 0M150.6 1378.4m-1.75 0a1.75 1.75 0 1 0 3.5 0a1.75 1.75 0 1 0 -3.5 0M164.5 1375.1m-1.75 0a1.75 1.75 0 1 0 3.5 0a1.75 1.75 0 1 0 -3.5 0M178.8 1378.4m-1.75 0a1.75 1.75 0 1 0 3.5 0a1.75 1.75 0 1 0 -3.5 0M196.9 1377.5m-1.75 0a1.75 1.75 0 1 0 3.5 0a1.75 1.75 0 1 0 -3.5 0M139.0 1387.5m-1.75 0a1.75 1.75 0 1 0 3.5 0a1.75 1.75 0 1 0 -3.5 0M153.1 1391.3m-1.75 0a1.75 1.75 0 1 0 3.5 0a1.75 1.75 0 1 0 -3.5 0M164.5 1388.0m-1.75 0a1.75 1.75 0 1 0 3.5 0a1.75 1.75 0 1 0 -3.5 0M176.0 1391.3m-1.75 0a1.75 1.75 0 1 0 3.5 0a1.75 1.75 0 1 0 -3.5 0M190.1 1387.5m-1.75 0a1.75 1.75 0 1 0 3.5 0a1.75 1.75 0 1 0 -3.5 0M122.4 1394.2m-1.75 0a1.75 1.75 0 1 0 3.5 0a1.75 1.75 0 1 0 -3.5 0M206.9 1394.2m-1.75 0a1.75 1.75 0 1 0 3.5 0a1.75 1.75 0 1 0 -3.5 0M108.3 1401.8m-1.75 0a1.75 1.75 0 1 0 3.5 0a1.75 1.75 0 1 0 -3.5 0M131.7 1401.3m-1.75 0a1.75 1.75 0 1 0 3.5 0a1.75 1.75 0 1 0 -3.5 0M144.8 1400.3m-1.75 0a1.75 1.75 0 1 0 3.5 0a1.75 1.75 0 1 0 -3.5 0M164.5 1399.9m-1.75 0a1.75 1.75 0 1 0 3.5 0a1.75 1.75 0 1 0 -3.5 0M184.4 1400.3m-1.75 0a1.75 1.75 0 1 0 3.5 0a1.75 1.75 0 1 0 -3.5 0M197.3 1401.3m-1.75 0a1.75 1.75 0 1 0 3.5 0a1.75 1.75 0 1 0 -3.5 0M220.9 1401.8m-1.75 0a1.75 1.75 0 1 0 3.5 0a1.75 1.75 0 1 0 -3.5 0M118.9 1412.7m-1.75 0a1.75 1.75 0 1 0 3.5 0a1.75 1.75 0 1 0 -3.5 0M141.9 1412.7m-1.75 0a1.75 1.75 0 1 0 3.5 0a1.75 1.75 0 1 0 -3.5 0M154.8 1406.5m-1.75 0a1.75 1.75 0 1 0 3.5 0a1.75 1.75 0 1 0 -3.5 0M164.5 1412.7m-1.75 0a1.75 1.75 0 1 0 3.5 0a1.75 1.75 0 1 0 -3.5 0M174.6 1406.5m-1.75 0a1.75 1.75 0 1 0 3.5 0a1.75 1.75 0 1 0 -3.5 0M187.2 1412.7m-1.75 0a1.75 1.75 0 1 0 3.5 0a1.75 1.75 0 1 0 -3.5 0M210.2 1412.7m-1.75 0a1.75 1.75 0 1 0 3.5 0a1.75 1.75 0 1 0 -3.5 0M130.4 1417.0m-1.75 0a1.75 1.75 0 1 0 3.5 0a1.75 1.75 0 1 0 -3.5 0M154.5 1419.4m-1.75 0a1.75 1.75 0 1 0 3.5 0a1.75 1.75 0 1 0 -3.5 0M174.6 1419.4m-1.75 0a1.75 1.75 0 1 0 3.5 0a1.75 1.75 0 1 0 -3.5 0M198.9 1417.0m-1.75 0a1.75 1.75 0 1 0 3.5 0a1.75 1.75 0 1 0 -3.5 0M109.6 1429.4m-1.75 0a1.75 1.75 0 1 0 3.5 0a1.75 1.75 0 1 0 -3.5 0M144.8 1425.6m-1.75 0a1.75 1.75 0 1 0 3.5 0a1.75 1.75 0 1 0 -3.5 0M164.5 1425.6m-1.75 0a1.75 1.75 0 1 0 3.5 0a1.75 1.75 0 1 0 -3.5 0M184.4 1425.6m-1.75 0a1.75 1.75 0 1 0 3.5 0a1.75 1.75 0 1 0 -3.5 0M219.7 1429.4m-1.75 0a1.75 1.75 0 1 0 3.5 0a1.75 1.75 0 1 0 -3.5 0M122.4 1431.8m-1.75 0a1.75 1.75 0 1 0 3.5 0a1.75 1.75 0 1 0 -3.5 0M134.8 1431.8m-1.75 0a1.75 1.75 0 1 0 3.5 0a1.75 1.75 0 1 0 -3.5 0M153.1 1434.6m-1.75 0a1.75 1.75 0 1 0 3.5 0a1.75 1.75 0 1 0 -3.5 0M176.0 1434.6m-1.75 0a1.75 1.75 0 1 0 3.5 0a1.75 1.75 0 1 0 -3.5 0M194.3 1431.8m-1.75 0a1.75 1.75 0 1 0 3.5 0a1.75 1.75 0 1 0 -3.5 0M206.9 1431.8m-1.75 0a1.75 1.75 0 1 0 3.5 0a1.75 1.75 0 1 0 -3.5 0M164.5 1437.5m-1.75 0a1.75 1.75 0 1 0 3.5 0a1.75 1.75 0 1 0 -3.5 0M144.2 1443.2m-1.75 0a1.75 1.75 0 1 0 3.5 0a1.75 1.75 0 1 0 -3.5 0M184.9 1443.2m-1.75 0a1.75 1.75 0 1 0 3.5 0a1.75 1.75 0 1 0 -3.5 0M132.3 1448.2m-1.75 0a1.75 1.75 0 1 0 3.5 0a1.75 1.75 0 1 0 -3.5 0M157.3 1449.8m-1.75 0a1.75 1.75 0 1 0 3.5 0a1.75 1.75 0 1 0 -3.5 0M171.8 1449.8m-1.75 0a1.75 1.75 0 1 0 3.5 0a1.75 1.75 0 1 0 -3.5 0M196.6 1448.2m-1.75 0a1.75 1.75 0 1 0 3.5 0a1.75 1.75 0 1 0 -3.5 0M120.8 1453.2m-1.75 0a1.75 1.75 0 1 0 3.5 0a1.75 1.75 0 1 0 -3.5 0M208.3 1453.2m-1.75 0a1.75 1.75 0 1 0 3.5 0a1.75 1.75 0 1 0 -3.5 0M147.5 1458.9m-1.75 0a1.75 1.75 0 1 0 3.5 0a1.75 1.75 0 1 0 -3.5 0M181.6 1458.9m-1.75 0a1.75 1.75 0 1 0 3.5 0a1.75 1.75 0 1 0 -3.5 0M164.5 1462.7m-1.75 0a1.75 1.75 0 1 0 3.5 0a1.75 1.75 0 1 0 -3.5 0M140.2 1469.3m-1.75 0a1.75 1.75 0 1 0 3.5 0a1.75 1.75 0 1 0 -3.5 0M188.6 1469.3m-1.75 0a1.75 1.75 0 1 0 3.5 0a1.75 1.75 0 1 0 -3.5 0M164.5 1475.5m-1.75 0a1.75 1.75 0 1 0 3.5 0a1.75 1.75 0 1 0 -3.5 0" fill="none" stroke="#2a2a2a" stroke-width="0.95"/>
<ellipse cx="164.50" cy="1413.00" rx="60.60" ry="66.20" fill="none" stroke="#333" stroke-width="1.1"/>
<path d="M158.3 1347.4C159.5 1340.8 161.0 1335.8 164.5 1335.8C168.0 1335.8 169.5 1340.8 170.7 1347.4" fill="none" stroke="#333" stroke-width="1.1"/>
<clipPath id="he2"><ellipse cx="332.50" cy="1413.00" rx="60.60" ry="66.20"/></clipPath>
<g clip-path="url(#he2)">
<ellipse cx="332.50" cy="1413.00" rx="60.60" ry="66.20" fill="#fff"/>
<path d="M280.2 1350.7L283.1 1351.1L284.9 1352.4L286.2 1353.8L288.2 1358.0L289.3 1364.1L289.0 1370.3L287.5 1375.5L284.9 1378.7L282.1 1379.9L280.2 1379.7L278.4 1378.9L275.8 1376.5L273.7 1372.4L272.6 1367.2L272.9 1361.0L274.6 1355.9L277.4 1352.1ZM324.5 1390.8L333.0 1390.3L336.7 1390.8L340.5 1391.8L343.3 1393.2L345.7 1395.0L347.4 1397.1L348.7 1400.1L348.9 1403.2L348.5 1406.3L347.4 1409.4L345.0 1413.5L342.4 1416.7L338.6 1420.0L334.9 1422.3L332.0 1423.4L328.3 1424.0L325.4 1423.9L322.6 1423.2L318.8 1421.4L316.0 1419.3L313.2 1416.4L310.8 1412.5L309.7 1409.4L309.2 1406.3L309.4 1403.2L310.4 1400.1L312.3 1397.3L314.6 1395.0L317.0 1393.4L320.7 1391.8ZM328.3 1455.7L331.1 1455.0L333.9 1454.9L339.6 1456.2L342.4 1457.6L345.6 1459.8L348.0 1462.1L350.2 1465.0L352.3 1470.1L352.3 1475.2L351.3 1478.3L350.2 1480.4L346.3 1484.5L322.9 1484.5L319.8 1480.8L318.3 1477.3L317.6 1474.2L317.7 1470.1L318.7 1466.0L320.1 1462.9L322.6 1459.4L325.4 1457.1Z" fill="#ffc0c0" fill-rule="evenodd"/>
<path d="M327.3 1361.0L331.1 1360.6L335.8 1360.8L340.5 1361.6L344.3 1363.0L347.8 1365.2L349.5 1367.2L350.2 1369.3L350.0 1371.3L348.0 1374.2L345.2 1376.0L340.5 1377.6L334.9 1378.3L329.2 1378.2L323.6 1377.2L319.0 1375.5L316.3 1373.4L314.9 1370.3L315.1 1368.3L316.3 1366.2L318.6 1364.1L320.7 1363.0ZM273.6 1397.7L282.1 1400.8L286.8 1403.3L290.6 1406.2L295.3 1411.5L302.5 1421.7L307.8 1430.0L311.6 1437.2L313.8 1444.4L314.1 1447.5L313.9 1451.6L307.5 1479.1L305.4 1484.5L275.5 1484.5L270.8 1480.9L267.1 1477.3L267.1 1396.2ZM372.5 1402.2L377.2 1402.8L381.9 1404.5L386.6 1407.5L390.6 1411.5L393.4 1415.6L395.6 1420.7L396.8 1425.9L396.9 1432.0L396.0 1437.2L394.0 1442.3L391.4 1446.7L387.6 1450.8L382.9 1454.3L378.2 1456.4L373.5 1457.6L367.8 1457.7L364.0 1457.0L359.3 1455.2L354.6 1452.3L349.8 1448.5L346.8 1445.4L344.6 1442.3L343.3 1439.2L342.9 1435.1L343.7 1431.0L346.2 1425.9L351.0 1418.7L357.5 1410.5L361.2 1406.7L365.0 1404.1L368.8 1402.6Z" fill="#c0c0ff" fill-rule="evenodd"/>
<path d="M326.4 1397.0L331.1 1396.5L335.1 1397.1L338.6 1398.6L341.4 1401.4L342.6 1404.3L342.2 1408.4L339.9 1412.5L336.7 1415.4L332.0 1417.5L329.2 1417.9L326.4 1417.6L323.6 1416.8L321.4 1415.6L319.2 1413.5L317.8 1411.5L317.0 1409.4L316.7 1407.3L316.9 1405.3L317.9 1402.8L319.0 1401.2L321.4 1399.1ZM331.1 1459.8L335.8 1459.8L340.5 1461.5L344.3 1464.7L346.2 1468.0L347.0 1472.2L346.2 1475.8L343.8 1479.4L340.5 1481.7L335.8 1483.2L333.0 1483.3L330.1 1482.9L327.3 1481.7L325.4 1480.4L323.6 1478.4L322.3 1476.3L321.6 1474.2L321.4 1471.1L321.9 1468.0L322.8 1466.0L324.5 1463.5L326.4 1461.8L328.3 1460.7Z" fill="#ff8080" fill-rule="evenodd"/>
<path d="M273.6 1405.4L279.3 1407.0L284.0 1409.4L288.7 1412.9L293.4 1417.8L298.6 1424.8L302.3 1431.0L305.6 1438.2L307.4 1444.4L308.1 1449.5L308.1 1454.7L307.1 1460.8L305.1 1468.0L302.8 1473.4L300.0 1477.2L296.2 1479.7L293.4 1480.6L289.7 1480.8L285.9 1480.3L282.1 1479.0L278.4 1477.1L274.6 1474.5L270.8 1471.2L267.1 1467.1L267.1 1405.5ZM367.8 1410.2L371.6 1409.7L375.3 1410.3L379.1 1411.8L381.9 1413.7L384.8 1416.5L386.9 1419.7L388.6 1423.8L389.3 1427.9L389.3 1432.0L388.3 1436.1L387.0 1439.2L384.8 1442.7L381.9 1445.6L378.2 1448.1L374.4 1449.6L370.6 1450.2L366.9 1450.2L363.1 1449.3L359.3 1447.7L356.5 1445.8L353.9 1443.3L351.6 1440.3L350.3 1437.2L349.7 1434.1L349.9 1431.0L351.0 1426.9L352.5 1423.8L355.3 1419.7L358.4 1416.0L361.2 1413.5L364.0 1411.7Z" fill="#8080ff" fill-rule="evenodd"/>
<path d="M328.3 1405.3L330.1 1404.7L332.3 1405.3L333.2 1406.3L333.3 1407.3L332.9 1408.4L331.1 1409.6L328.2 1409.4L327.2 1408.4L327.0 1407.3L327.2 1406.3ZM330.1 1464.6L333.0 1463.9L335.8 1464.2L338.6 1465.5L340.2 1467.0L341.5 1469.1L341.9 1472.2L341.3 1474.2L339.9 1476.3L336.7 1478.3L333.9 1478.8L330.1 1478.1L327.3 1476.0L325.8 1473.2L325.7 1470.1L327.1 1467.0Z" fill="#ff4040" fill-rule="evenodd"/>
<path d="M269.9 1412.3L273.6 1412.0L278.4 1413.0L283.1 1415.2L286.8 1417.9L290.6 1421.5L294.4 1426.2L298.0 1432.0L300.3 1437.2L302.1 1442.3L303.1 1447.5L303.5 1452.6L303.0 1457.7L301.7 1462.9L299.8 1467.0L297.2 1470.4L294.4 1472.4L291.5 1473.4L287.8 1473.7L284.9 1473.2L281.2 1471.9L277.4 1469.7L273.6 1466.7L270.0 1462.9L267.1 1459.0L267.1 1413.3ZM366.9 1416.4L369.7 1415.9L372.5 1416.1L375.3 1417.0L377.2 1418.0L380.8 1421.7L382.0 1423.8L382.9 1426.9L383.0 1432.0L382.1 1435.1L381.0 1437.2L379.5 1439.2L377.2 1441.3L374.4 1442.9L371.6 1443.8L368.8 1444.0L365.9 1443.7L361.2 1441.7L359.3 1440.2L357.5 1437.9L356.1 1435.1L355.6 1433.1L355.5 1431.0L356.0 1427.9L358.4 1423.0L362.2 1419.0Z" fill="#4444ff" fill-rule="evenodd"/>
<path d="M271.8 1418.6L274.6 1418.2L278.4 1418.8L282.1 1420.4L284.9 1422.3L287.8 1424.8L291.3 1428.9L294.0 1433.1L296.0 1437.2L297.5 1441.3L298.6 1446.4L299.0 1450.5L298.8 1454.7L297.8 1458.8L296.2 1462.2L294.4 1464.6L291.5 1466.5L288.7 1467.4L284.9 1467.2L282.1 1466.4L278.4 1464.4L275.1 1461.9L272.2 1458.8L269.2 1454.7L267.1 1450.8L267.1 1421.4L269.2 1419.7ZM366.9 1423.7L369.7 1423.1L371.6 1423.4L373.9 1424.8L375.3 1427.0L375.9 1430.0L375.5 1432.0L374.3 1434.1L371.6 1436.2L368.8 1436.7L366.9 1436.3L364.7 1435.1L363.1 1433.1L362.5 1431.0L362.9 1427.9L364.1 1425.9Z" fill="#0000ff" fill-rule="evenodd"/>
<path d="M276.5 1424.5L279.3 1425.0L282.1 1426.2L284.5 1427.9L289.1 1433.1L292.4 1439.2L294.3 1446.4L294.1 1452.6L293.4 1455.2L292.1 1457.7L290.6 1459.4L288.7 1460.6L286.8 1461.1L284.0 1461.0L281.2 1460.1L278.4 1458.4L273.6 1453.6L271.6 1450.5L269.6 1446.4L267.7 1439.2L267.6 1435.1L268.0 1432.0L269.2 1428.9L270.6 1426.9L272.7 1425.3Z" fill="#0000c8" fill-rule="evenodd"/>
<path d="M275.5 1432.9L278.4 1432.0L281.2 1432.8L284.2 1435.1L286.8 1438.8L288.5 1443.3L288.8 1447.5L287.8 1451.1L285.9 1453.0L283.1 1453.5L280.2 1452.5L277.4 1450.1L275.0 1446.4L273.5 1442.3L273.1 1438.2L273.9 1435.1Z" fill="#00008a" fill-rule="evenodd"/>
</g>
<path d="M315.5 1366.6m-1.75 0a1.75 1.75 0 1 0 3.5 0a1.75 1.75 0 1 0 -3.5 0M349.6 1366.6m-1.75 0a1.75 1.75 0 1 0 3.5 0a1.75 1.75 0 1 0 -3.5 0M300.3 1377.5m-1.75 0a1.75 1.75 0 1 0 3.5 0a1.75 1.75 0 1 0 -3.5 0M318.6 1378.4m-1.75 0a1.75 1.75 0 1 0 3.5 0a1.75 1.75 0 1 0 -3.5 0M332.5 1375.1m-1.75 0a1.75 1.75 0 1 0 3.5 0a1.75 1.75 0 1 0 -3.5 0M346.8 1378.4m-1.75 0a1.75 1.75 0 1 0 3.5 0a1.75 1.75 0 1 0 -3.5 0M364.9 1377.5m-1.75 0a1.75 1.75 0 1 0 3.5 0a1.75 1.75 0 1 0 -3.5 0M307.0 1387.5m-1.75 0a1.75 1.75 0 1 0 3.5 0a1.75 1.75 0 1 0 -3.5 0M321.1 1391.3m-1.75 0a1.75 1.75 0 1 0 3.5 0a1.75 1.75 0 1 0 -3.5 0M332.5 1388.0m-1.75 0a1.75 1.75 0 1 0 3.5 0a1.75 1.75 0 1 0 -3.5 0M344.0 1391.3m-1.75 0a1.75 1.75 0 1 0 3.5 0a1.75 1.75 0 1 0 -3.5 0M358.1 1387.5m-1.75 0a1.75 1.75 0 1 0 3.5 0a1.75 1.75 0 1 0 -3.5 0M290.4 1394.2m-1.75 0a1.75 1.75 0 1 0 3.5 0a1.75 1.75 0 1 0 -3.5 0M374.9 1394.2m-1.75 0a1.75 1.75 0 1 0 3.5 0a1.75 1.75 0 1 0 -3.5 0M276.3 1401.8m-1.75 0a1.75 1.75 0 1 0 3.5 0a1.75 1.75 0 1 0 -3.5 0M299.7 1401.3m-1.75 0a1.75 1.75 0 1 0 3.5 0a1.75 1.75 0 1 0 -3.5 0M312.8 1400.3m-1.75 0a1.75 1.75 0 1 0 3.5 0a1.75 1.75 0 1 0 -3.5 0M332.5 1399.9m-1.75 0a1.75 1.75 0 1 0 3.5 0a1.75 1.75 0 1 0 -3.5 0M352.4 1400.3m-1.75 0a1.75 1.75 0 1 0 3.5 0a1.75 1.75 0 1 0 -3.5 0M365.3 1401.3m-1.75 0a1.75 1.75 0 1 0 3.5 0a1.75 1.75 0 1 0 -3.5 0M388.9 1401.8m-1.75 0a1.75 1.75 0 1 0 3.5 0a1.75 1.75 0 1 0 -3.5 0M286.9 1412.7m-1.75 0a1.75 1.75 0 1 0 3.5 0a1.75 1.75 0 1 0 -3.5 0M309.9 1412.7m-1.75 0a1.75 1.75 0 1 0 3.5 0a1.75 1.75 0 1 0 -3.5 0M322.8 1406.5m-1.75 0a1.75 1.75 0 1 0 3.5 0a1.75 1.75 0 1 0 -3.5 0M332.5 1412.7m-1.75 0a1.75 1.75 0 1 0 3.5 0a1.75 1.75 0 1 0 -3.5 0M342.6 1406.5m-1.75 0a1.75 1.75 0 1 0 3.5 0a1.75 1.75 0 1 0 -3.5 0M355.2 1412.7m-1.75 0a1.75 1.75 0 1 0 3.5 0a1.75 1.75 0 1 0 -3.5 0M378.2 1412.7m-1.75 0a1.75 1.75 0 1 0 3.5 0a1.75 1.75 0 1 0 -3.5 0M298.4 1417.0m-1.75 0a1.75 1.75 0 1 0 3.5 0a1.75 1.75 0 1 0 -3.5 0M322.5 1419.4m-1.75 0a1.75 1.75 0 1 0 3.5 0a1.75 1.75 0 1 0 -3.5 0M342.6 1419.4m-1.75 0a1.75 1.75 0 1 0 3.5 0a1.75 1.75 0 1 0 -3.5 0M366.9 1417.0m-1.75 0a1.75 1.75 0 1 0 3.5 0a1.75 1.75 0 1 0 -3.5 0M277.6 1429.4m-1.75 0a1.75 1.75 0 1 0 3.5 0a1.75 1.75 0 1 0 -3.5 0M312.8 1425.6m-1.75 0a1.75 1.75 0 1 0 3.5 0a1.75 1.75 0 1 0 -3.5 0M332.5 1425.6m-1.75 0a1.75 1.75 0 1 0 3.5 0a1.75 1.75 0 1 0 -3.5 0M352.4 1425.6m-1.75 0a1.75 1.75 0 1 0 3.5 0a1.75 1.75 0 1 0 -3.5 0M387.7 1429.4m-1.75 0a1.75 1.75 0 1 0 3.5 0a1.75 1.75 0 1 0 -3.5 0M290.4 1431.8m-1.75 0a1.75 1.75 0 1 0 3.5 0a1.75 1.75 0 1 0 -3.5 0M302.8 1431.8m-1.75 0a1.75 1.75 0 1 0 3.5 0a1.75 1.75 0 1 0 -3.5 0M321.1 1434.6m-1.75 0a1.75 1.75 0 1 0 3.5 0a1.75 1.75 0 1 0 -3.5 0M344.0 1434.6m-1.75 0a1.75 1.75 0 1 0 3.5 0a1.75 1.75 0 1 0 -3.5 0M362.3 1431.8m-1.75 0a1.75 1.75 0 1 0 3.5 0a1.75 1.75 0 1 0 -3.5 0M374.9 1431.8m-1.75 0a1.75 1.75 0 1 0 3.5 0a1.75 1.75 0 1 0 -3.5 0M332.5 1437.5m-1.75 0a1.75 1.75 0 1 0 3.5 0a1.75 1.75 0 1 0 -3.5 0M312.2 1443.2m-1.75 0a1.75 1.75 0 1 0 3.5 0a1.75 1.75 0 1 0 -3.5 0M352.9 1443.2m-1.75 0a1.75 1.75 0 1 0 3.5 0a1.75 1.75 0 1 0 -3.5 0M300.3 1448.2m-1.75 0a1.75 1.75 0 1 0 3.5 0a1.75 1.75 0 1 0 -3.5 0M325.3 1449.8m-1.75 0a1.75 1.75 0 1 0 3.5 0a1.75 1.75 0 1 0 -3.5 0M339.8 1449.8m-1.75 0a1.75 1.75 0 1 0 3.5 0a1.75 1.75 0 1 0 -3.5 0M364.6 1448.2m-1.75 0a1.75 1.75 0 1 0 3.5 0a1.75 1.75 0 1 0 -3.5 0M288.8 1453.2m-1.75 0a1.75 1.75 0 1 0 3.5 0a1.75 1.75 0 1 0 -3.5 0M376.3 1453.2m-1.75 0a1.75 1.75 0 1 0 3.5 0a1.75 1.75 0 1 0 -3.5 0M315.5 1458.9m-1.75 0a1.75 1.75 0 1 0 3.5 0a1.75 1.75 0 1 0 -3.5 0M349.6 1458.9m-1.75 0a1.75 1.75 0 1 0 3.5 0a1.75 1.75 0 1 0 -3.5 0M332.5 1462.7m-1.75 0a1.75 1.75 0 1 0 3.5 0a1.75 1.75 0 1 0 -3.5 0M308.2 1469.3m-1.75 0a1.75 1.75 0 1 0 3.5 0a1.75 1.75 0 1 0 -3.5 0M356.6 1469.3m-1.75 0a1.75 1.75 0 1 0 3.5 0a1.75 1.75 0 1 0 -3.5 0M332.5 1475.5m-1.75 0a1.75 1.75 0 1 0 3.5 0a1.75 1.75 0 1 0 -3.5 0" fill="none" stroke="#2a2a2a" stroke-width="0.95"/>
<ellipse cx="332.50" cy="1413.00" rx="60.60" ry="66.20" fill="none" stroke="#333" stroke-width="1.1"/>
<path d="M326.3 1347.4C327.5 1340.8 329.0 1335.8 332.5 1335.8C336.0 1335.8 337.5 1340.8 338.7 1347.4" fill="none" stroke="#333" stroke-width="1.1"/>
<clipPath id="he3"><ellipse cx="493.50" cy="1413.00" rx="60.60" ry="66.20"/></clipPath>
<g clip-path="url(#he3)">
<ellipse cx="493.50" cy="1413.00" rx="60.60" ry="66.20" fill="#fff"/>
<path d="M440.3 1349.7L445.0 1349.8L449.7 1350.8L454.4 1352.9L458.2 1355.4L461.0 1358.1L463.8 1362.0L468.9 1373.4L470.9 1376.5L474.4 1379.6L478.5 1381.6L484.6 1383.1L491.1 1383.6L516.6 1381.9L526.0 1382.2L532.6 1383.2L537.4 1384.7L539.2 1385.9L539.7 1386.8L539.5 1387.8L538.3 1388.8L535.9 1389.9L518.5 1393.9L515.6 1395.1L513.1 1397.1L511.7 1399.1L509.1 1405.3L506.7 1409.4L503.9 1412.5L497.2 1418.7L495.2 1421.7L494.0 1425.9L493.2 1438.2L492.1 1441.4L491.1 1440.6L490.2 1438.3L489.3 1433.7L488.6 1425.9L487.1 1421.7L484.3 1418.7L475.1 1411.9L467.6 1404.2L464.8 1402.5L462.0 1401.6L440.3 1397.8L433.8 1396.0L428.1 1393.8L428.1 1353.9L433.7 1351.1ZM492.1 1445.7L493.0 1445.6L504.3 1454.5L507.7 1458.8L510.2 1463.9L511.4 1470.1L511.1 1475.2L509.3 1480.4L506.3 1484.5L489.9 1484.5L487.7 1481.4L486.3 1478.3L485.4 1475.2L484.9 1471.1L485.3 1463.9L487.4 1456.4Z" fill="#ffc0c0" fill-rule="evenodd"/>
<path d="M492.1 1352.6L496.8 1352.0L501.5 1352.6L505.3 1354.0L509.0 1356.6L511.6 1360.0L512.6 1363.1L512.4 1367.2L510.9 1370.3L508.9 1372.4L506.2 1374.0L502.4 1375.3L498.7 1375.9L494.9 1376.0L491.1 1375.3L488.3 1374.2L485.5 1372.2L483.6 1370.0L482.3 1367.2L481.9 1364.1L482.3 1361.0L483.6 1358.3L485.7 1355.9L488.3 1354.0ZM528.8 1401.1L534.5 1400.9L539.2 1401.8L543.9 1403.9L547.6 1406.9L551.3 1411.5L554.1 1416.6L556.0 1422.8L556.9 1428.9L556.7 1435.1L555.4 1441.3L553.5 1446.4L550.4 1451.6L546.7 1455.8L542.0 1459.4L537.3 1461.6L531.6 1462.7L526.9 1462.4L523.2 1461.2L520.3 1459.5L516.6 1456.0L510.5 1448.5L506.5 1442.3L504.7 1438.2L503.8 1433.1L504.0 1428.9L505.2 1424.8L507.5 1420.7L510.6 1416.6L517.5 1408.1L521.3 1404.3L524.9 1402.2ZM435.6 1406.3L443.1 1407.3L450.7 1409.3L456.3 1411.8L461.0 1414.8L465.7 1419.0L470.9 1424.8L474.3 1430.0L476.7 1435.1L478.3 1440.3L479.2 1445.4L479.4 1450.5L478.9 1457.7L476.6 1475.2L475.5 1480.4L473.7 1484.5L438.8 1484.5L433.7 1480.1L428.1 1474.0L428.1 1406.4Z" fill="#c0c0ff" fill-rule="evenodd"/>
<path d="M440.3 1360.9L445.9 1361.3L448.8 1362.3L451.9 1364.1L455.9 1368.3L460.4 1376.5L462.8 1379.6L467.6 1383.2L475.1 1387.1L478.9 1388.1L481.7 1388.3L500.6 1387.7L505.3 1387.9L508.9 1388.8L509.5 1389.9L506.9 1395.0L505.4 1403.2L504.1 1406.3L501.5 1409.7L496.8 1413.5L493.0 1415.6L490.2 1415.8L484.6 1413.0L479.7 1409.4L477.2 1406.3L473.3 1399.4L470.4 1397.1L466.7 1396.1L453.5 1395.0L445.9 1393.8L439.3 1391.9L433.2 1388.8L429.9 1386.0L428.1 1383.3L428.1 1369.5L429.9 1366.6L432.8 1363.9L436.5 1361.8ZM493.0 1455.7L494.9 1454.9L496.8 1454.9L499.6 1455.8L501.5 1457.0L505.0 1460.8L507.1 1466.0L507.5 1471.1L506.2 1476.3L503.4 1480.2L501.5 1481.6L499.6 1482.3L495.9 1482.4L493.0 1481.0L490.2 1477.9L488.3 1473.2L487.8 1468.0L488.7 1462.9L490.4 1458.8Z" fill="#ff8080" fill-rule="evenodd"/>
<path d="M493.0 1357.6L495.9 1357.0L498.7 1357.2L501.3 1358.0L503.4 1359.2L505.2 1361.0L506.1 1363.1L506.1 1366.2L505.1 1368.3L502.4 1370.6L500.6 1371.4L497.7 1372.0L493.0 1371.4L489.5 1369.3L487.6 1366.2L487.5 1363.1L489.3 1359.9L491.1 1358.5ZM530.7 1407.3L534.5 1407.7L538.2 1409.1L541.8 1411.5L544.7 1414.5L546.8 1417.6L548.7 1421.7L549.7 1425.9L550.2 1431.0L549.7 1436.1L548.6 1440.3L546.7 1444.4L543.9 1448.2L541.1 1450.9L537.3 1453.2L533.5 1454.5L529.8 1454.8L526.0 1454.3L522.2 1452.8L519.0 1450.5L516.0 1447.5L513.1 1443.3L511.2 1439.2L510.1 1435.1L509.8 1431.0L510.3 1426.9L511.8 1422.8L514.2 1418.7L517.5 1414.5L521.3 1411.0L524.1 1409.1L526.9 1407.9ZM430.9 1411.4L436.5 1410.8L442.2 1411.4L447.8 1412.9L453.5 1415.4L458.1 1418.7L462.4 1422.8L466.3 1427.9L469.2 1433.1L471.7 1439.2L473.6 1446.4L474.3 1453.6L473.9 1460.8L472.6 1468.0L470.4 1473.8L467.6 1477.8L463.8 1480.7L460.1 1482.1L455.4 1482.5L450.7 1481.7L445.9 1479.9L441.2 1477.1L436.5 1473.2L431.8 1468.1L428.1 1463.0L428.1 1412.3Z" fill="#8080ff" fill-rule="evenodd"/>
<path d="M442.2 1374.7L444.1 1374.9L446.4 1376.5L448.8 1380.6L449.2 1382.7L448.9 1383.7L446.9 1384.2L445.0 1383.9L442.3 1382.7L441.0 1381.6L439.7 1379.6L439.4 1377.5L440.3 1375.7ZM489.3 1393.9L493.0 1393.7L496.8 1394.6L498.7 1396.1L500.2 1399.1L500.5 1402.2L499.6 1405.3L496.8 1408.5L493.0 1410.4L490.2 1410.5L486.4 1408.8L483.6 1406.3L482.0 1403.2L481.8 1400.1L483.0 1397.1L485.5 1395.1ZM496.8 1459.8L499.6 1460.6L501.5 1462.2L503.4 1465.6L504.0 1469.1L503.6 1472.2L502.1 1475.2L499.6 1477.3L497.7 1477.7L494.9 1477.0L493.0 1475.3L491.4 1472.2L490.9 1469.1L491.2 1466.0L492.3 1462.9L494.0 1460.8Z" fill="#ff4040" fill-rule="evenodd"/>
<path d="M528.8 1413.4L531.6 1413.4L534.5 1414.0L537.3 1415.4L539.9 1417.6L541.6 1419.7L543.3 1422.8L544.3 1425.9L544.9 1430.0L544.7 1434.1L544.0 1437.2L542.7 1440.3L541.1 1442.8L539.2 1444.8L536.3 1446.9L533.5 1448.1L530.7 1448.6L527.9 1448.5L525.0 1447.7L522.2 1446.1L520.2 1444.4L518.5 1442.3L516.6 1439.0L515.3 1435.1L514.9 1432.0L515.0 1428.9L515.7 1425.9L517.0 1422.8L519.0 1419.7L523.4 1415.6L526.0 1414.2ZM435.6 1415.5L440.3 1415.4L445.0 1416.2L449.7 1418.1L453.5 1420.4L457.5 1423.8L461.0 1427.9L463.6 1432.0L466.1 1437.2L467.9 1442.3L469.2 1448.5L469.6 1454.7L469.2 1459.8L468.0 1465.0L466.0 1469.1L463.4 1472.2L460.4 1474.2L456.3 1475.4L452.5 1475.4L447.8 1474.2L443.1 1471.8L438.4 1468.1L434.6 1464.1L430.9 1458.9L428.1 1453.8L428.1 1419.0L431.7 1416.6Z" fill="#4444ff" fill-rule="evenodd"/>
<path d="M496.8 1467.7L497.7 1467.6L498.0 1468.0L498.2 1469.1L497.7 1470.0L496.8 1469.7L496.5 1469.1Z" fill="#ff0000" fill-rule="evenodd"/>
<path d="M528.8 1419.6L532.6 1419.9L534.5 1420.8L536.3 1422.3L538.6 1425.9L539.6 1430.0L539.2 1434.1L537.3 1438.3L534.5 1441.0L530.7 1442.3L526.9 1441.8L524.1 1440.1L522.4 1438.2L521.3 1436.3L520.2 1432.0L520.6 1427.9L522.4 1423.8L525.0 1421.2ZM435.6 1420.6L438.4 1419.9L442.2 1420.0L445.9 1420.9L449.7 1422.7L453.5 1425.4L456.3 1428.3L459.1 1432.0L461.4 1436.1L463.5 1441.3L464.8 1446.4L465.3 1451.6L465.2 1455.7L464.3 1459.8L462.9 1463.3L461.0 1466.0L458.2 1468.2L455.4 1469.3L451.6 1469.5L447.8 1468.6L444.1 1466.7L440.4 1463.9L437.3 1460.8L434.2 1456.7L431.3 1451.6L429.3 1446.4L428.1 1441.9L428.1 1429.4L429.0 1426.8L430.9 1423.8L432.8 1422.0Z" fill="#0000ff" fill-rule="evenodd"/>
<path d="M440.3 1424.8L443.1 1424.9L445.9 1425.6L450.7 1428.4L455.4 1433.4L459.0 1440.3L460.8 1447.5L460.8 1453.6L460.1 1456.7L459.1 1458.9L457.2 1461.4L455.4 1462.7L452.5 1463.6L449.7 1463.5L446.9 1462.7L443.6 1460.8L440.3 1458.0L437.6 1454.7L435.6 1451.5L433.7 1447.5L432.4 1443.3L431.7 1439.2L431.7 1435.1L432.3 1432.0L433.7 1428.9L435.4 1426.9L437.5 1425.6Z" fill="#0000c8" fill-rule="evenodd"/>
<path d="M441.2 1430.9L445.0 1431.0L448.8 1432.9L452.0 1436.1L454.4 1440.3L456.0 1445.4L456.2 1449.5L455.1 1453.6L453.6 1455.7L452.5 1456.4L450.7 1457.1L448.8 1457.1L445.0 1455.6L441.2 1452.1L438.3 1447.5L436.7 1442.3L436.6 1437.2L437.1 1435.1L438.2 1433.1L439.4 1431.9Z" fill="#00008a" fill-rule="evenodd"/>
</g>
<path d="M476.5 1366.6m-1.75 0a1.75 1.75 0 1 0 3.5 0a1.75 1.75 0 1 0 -3.5 0M510.6 1366.6m-1.75 0a1.75 1.75 0 1 0 3.5 0a1.75 1.75 0 1 0 -3.5 0M461.3 1377.5m-1.75 0a1.75 1.75 0 1 0 3.5 0a1.75 1.75 0 1 0 -3.5 0M479.6 1378.4m-1.75 0a1.75 1.75 0 1 0 3.5 0a1.75 1.75 0 1 0 -3.5 0M493.5 1375.1m-1.75 0a1.75 1.75 0 1 0 3.5 0a1.75 1.75 0 1 0 -3.5 0M507.8 1378.4m-1.75 0a1.75 1.75 0 1 0 3.5 0a1.75 1.75 0 1 0 -3.5 0M525.9 1377.5m-1.75 0a1.75 1.75 0 1 0 3.5 0a1.75 1.75 0 1 0 -3.5 0M468.0 1387.5m-1.75 0a1.75 1.75 0 1 0 3.5 0a1.75 1.75 0 1 0 -3.5 0M482.1 1391.3m-1.75 0a1.75 1.75 0 1 0 3.5 0a1.75 1.75 0 1 0 -3.5 0M493.5 1388.0m-1.75 0a1.75 1.75 0 1 0 3.5 0a1.75 1.75 0 1 0 -3.5 0M505.0 1391.3m-1.75 0a1.75 1.75 0 1 0 3.5 0a1.75 1.75 0 1 0 -3.5 0M519.1 1387.5m-1.75 0a1.75 1.75 0 1 0 3.5 0a1.75 1.75 0 1 0 -3.5 0M451.4 1394.2m-1.75 0a1.75 1.75 0 1 0 3.5 0a1.75 1.75 0 1 0 -3.5 0M535.9 1394.2m-1.75 0a1.75 1.75 0 1 0 3.5 0a1.75 1.75 0 1 0 -3.5 0M437.3 1401.8m-1.75 0a1.75 1.75 0 1 0 3.5 0a1.75 1.75 0 1 0 -3.5 0M460.7 1401.3m-1.75 0a1.75 1.75 0 1 0 3.5 0a1.75 1.75 0 1 0 -3.5 0M473.8 1400.3m-1.75 0a1.75 1.75 0 1 0 3.5 0a1.75 1.75 0 1 0 -3.5 0M493.5 1399.9m-1.75 0a1.75 1.75 0 1 0 3.5 0a1.75 1.75 0 1 0 -3.5 0M513.4 1400.3m-1.75 0a1.75 1.75 0 1 0 3.5 0a1.75 1.75 0 1 0 -3.5 0M526.3 1401.3m-1.75 0a1.75 1.75 0 1 0 3.5 0a1.75 1.75 0 1 0 -3.5 0M549.9 1401.8m-1.75 0a1.75 1.75 0 1 0 3.5 0a1.75 1.75 0 1 0 -3.5 0M447.9 1412.7m-1.75 0a1.75 1.75 0 1 0 3.5 0a1.75 1.75 0 1 0 -3.5 0M470.9 1412.7m-1.75 0a1.75 1.75 0 1 0 3.5 0a1.75 1.75 0 1 0 -3.5 0M483.8 1406.5m-1.75 0a1.75 1.75 0 1 0 3.5 0a1.75 1.75 0 1 0 -3.5 0M493.5 1412.7m-1.75 0a1.75 1.75 0 1 0 3.5 0a1.75 1.75 0 1 0 -3.5 0M503.6 1406.5m-1.75 0a1.75 1.75 0 1 0 3.5 0a1.75 1.75 0 1 0 -3.5 0M516.2 1412.7m-1.75 0a1.75 1.75 0 1 0 3.5 0a1.75 1.75 0 1 0 -3.5 0M539.2 1412.7m-1.75 0a1.75 1.75 0 1 0 3.5 0a1.75 1.75 0 1 0 -3.5 0M459.4 1417.0m-1.75 0a1.75 1.75 0 1 0 3.5 0a1.75 1.75 0 1 0 -3.5 0M483.5 1419.4m-1.75 0a1.75 1.75 0 1 0 3.5 0a1.75 1.75 0 1 0 -3.5 0M503.6 1419.4m-1.75 0a1.75 1.75 0 1 0 3.5 0a1.75 1.75 0 1 0 -3.5 0M527.9 1417.0m-1.75 0a1.75 1.75 0 1 0 3.5 0a1.75 1.75 0 1 0 -3.5 0M438.6 1429.4m-1.75 0a1.75 1.75 0 1 0 3.5 0a1.75 1.75 0 1 0 -3.5 0M473.8 1425.6m-1.75 0a1.75 1.75 0 1 0 3.5 0a1.75 1.75 0 1 0 -3.5 0M493.5 1425.6m-1.75 0a1.75 1.75 0 1 0 3.5 0a1.75 1.75 0 1 0 -3.5 0M513.4 1425.6m-1.75 0a1.75 1.75 0 1 0 3.5 0a1.75 1.75 0 1 0 -3.5 0M548.7 1429.4m-1.75 0a1.75 1.75 0 1 0 3.5 0a1.75 1.75 0 1 0 -3.5 0M451.4 1431.8m-1.75 0a1.75 1.75 0 1 0 3.5 0a1.75 1.75 0 1 0 -3.5 0M463.8 1431.8m-1.75 0a1.75 1.75 0 1 0 3.5 0a1.75 1.75 0 1 0 -3.5 0M482.1 1434.6m-1.75 0a1.75 1.75 0 1 0 3.5 0a1.75 1.75 0 1 0 -3.5 0M505.0 1434.6m-1.75 0a1.75 1.75 0 1 0 3.5 0a1.75 1.75 0 1 0 -3.5 0M523.3 1431.8m-1.75 0a1.75 1.75 0 1 0 3.5 0a1.75 1.75 0 1 0 -3.5 0M535.9 1431.8m-1.75 0a1.75 1.75 0 1 0 3.5 0a1.75 1.75 0 1 0 -3.5 0M493.5 1437.5m-1.75 0a1.75 1.75 0 1 0 3.5 0a1.75 1.75 0 1 0 -3.5 0M473.2 1443.2m-1.75 0a1.75 1.75 0 1 0 3.5 0a1.75 1.75 0 1 0 -3.5 0M513.9 1443.2m-1.75 0a1.75 1.75 0 1 0 3.5 0a1.75 1.75 0 1 0 -3.5 0M461.3 1448.2m-1.75 0a1.75 1.75 0 1 0 3.5 0a1.75 1.75 0 1 0 -3.5 0M486.3 1449.8m-1.75 0a1.75 1.75 0 1 0 3.5 0a1.75 1.75 0 1 0 -3.5 0M500.8 1449.8m-1.75 0a1.75 1.75 0 1 0 3.5 0a1.75 1.75 0 1 0 -3.5 0M525.6 1448.2m-1.75 0a1.75 1.75 0 1 0 3.5 0a1.75 1.75 0 1 0 -3.5 0M449.8 1453.2m-1.75 0a1.75 1.75 0 1 0 3.5 0a1.75 1.75 0 1 0 -3.5 0M537.3 1453.2m-1.75 0a1.75 1.75 0 1 0 3.5 0a1.75 1.75 0 1 0 -3.5 0M476.5 1458.9m-1.75 0a1.75 1.75 0 1 0 3.5 0a1.75 1.75 0 1 0 -3.5 0M510.6 1458.9m-1.75 0a1.75 1.75 0 1 0 3.5 0a1.75 1.75 0 1 0 -3.5 0M493.5 1462.7m-1.75 0a1.75 1.75 0 1 0 3.5 0a1.75 1.75 0 1 0 -3.5 0M469.2 1469.3m-1.75 0a1.75 1.75 0 1 0 3.5 0a1.75 1.75 0 1 0 -3.5 0M517.6 1469.3m-1.75 0a1.75 1.75 0 1 0 3.5 0a1.75 1.75 0 1 0 -3.5 0M493.5 1475.5m-1.75 0a1.75 1.75 0 1 0 3.5 0a1.75 1.75 0 1 0 -3.5 0" fill="none" stroke="#2a2a2a" stroke-width="0.95"/>
<ellipse cx="493.50" cy="1413.00" rx="60.60" ry="66.20" fill="none" stroke="#333" stroke-width="1.1"/>
<path d="M487.3 1347.4C488.5 1340.8 490.0 1335.8 493.5 1335.8C497.0 1335.8 498.5 1340.8 499.7 1347.4" fill="none" stroke="#333" stroke-width="1.1"/>
<clipPath id="he4"><ellipse cx="648.30" cy="1413.00" rx="60.60" ry="66.20"/></clipPath>
<g clip-path="url(#he4)">
<ellipse cx="648.30" cy="1413.00" rx="60.60" ry="66.20" fill="#fff"/>
<path d="M593.2 1357.7L596.0 1357.5L598.9 1359.0L601.6 1363.1L603.1 1368.3L603.4 1373.4L602.4 1378.5L601.4 1380.6L599.8 1382.7L597.0 1384.2L595.1 1384.3L593.2 1383.8L590.4 1381.6L588.5 1378.5L587.1 1373.4L587.1 1368.3L588.5 1363.1L590.4 1359.9ZM643.1 1379.5L648.8 1378.8L654.4 1378.8L660.1 1379.6L664.8 1381.1L668.5 1383.3L671.4 1385.8L673.5 1388.8L674.8 1392.9L674.9 1397.1L673.9 1401.2L671.9 1405.3L668.4 1410.4L663.8 1415.4L659.1 1419.2L654.4 1421.9L650.7 1423.1L646.9 1423.5L643.1 1423.0L639.4 1421.7L635.6 1419.4L631.8 1416.0L629.0 1412.4L626.8 1408.4L625.2 1403.2L624.8 1399.1L625.2 1396.0L626.6 1391.9L628.4 1388.8L631.2 1385.7L634.6 1383.0L638.4 1381.0ZM648.8 1450.5L651.6 1450.2L654.4 1450.6L657.2 1451.6L660.1 1453.2L663.1 1455.7L665.7 1458.7L667.7 1461.9L669.0 1465.0L669.7 1468.0L669.9 1471.1L668.7 1476.3L665.7 1480.8L662.9 1483.2L660.5 1484.5L647.8 1484.5L645.0 1482.7L643.1 1480.9L641.2 1478.3L639.8 1475.2L638.9 1472.2L638.5 1468.0L638.8 1463.9L639.9 1459.8L641.3 1456.7L643.6 1453.6L645.9 1451.8Z" fill="#ffc0c0" fill-rule="evenodd"/>
<path d="M651.6 1355.8L658.2 1355.8L663.8 1357.5L666.0 1359.0L667.5 1361.0L667.6 1363.1L667.2 1364.1L665.2 1366.2L663.3 1367.2L660.1 1368.1L656.3 1368.6L652.5 1368.4L648.8 1367.7L645.9 1366.6L643.8 1365.2L642.5 1363.1L642.6 1361.0L643.1 1360.0L645.0 1358.2L646.9 1357.2ZM600.7 1402.8L604.5 1404.2L608.3 1406.5L612.0 1410.0L617.4 1416.6L624.0 1425.9L628.4 1433.1L630.3 1437.2L631.7 1441.3L632.6 1448.5L629.9 1476.7L629.1 1481.4L627.9 1484.5L590.7 1484.5L582.9 1476.7L582.9 1399.1ZM688.3 1402.2L692.1 1401.5L695.9 1401.8L699.6 1403.2L703.4 1405.7L707.2 1409.4L710.0 1413.5L712.5 1418.7L713.7 1423.1L713.7 1438.7L712.0 1444.4L709.3 1449.5L705.2 1454.7L699.6 1459.1L694.0 1461.6L688.3 1462.5L684.6 1462.1L680.8 1460.7L677.0 1458.2L673.3 1454.8L667.4 1448.5L663.3 1443.3L661.2 1439.2L660.5 1435.1L661.0 1432.0L662.8 1427.9L665.4 1423.8L669.5 1418.7L676.1 1411.4L680.8 1406.8L684.6 1404.0Z" fill="#c0c0ff" fill-rule="evenodd"/>
<path d="M645.9 1384.6L649.7 1384.0L654.4 1384.1L658.2 1384.8L662.0 1386.3L664.8 1388.1L667.5 1390.9L668.7 1392.9L669.7 1396.0L669.8 1399.1L669.2 1402.2L667.4 1406.3L665.2 1409.4L662.3 1412.5L659.1 1415.0L656.3 1416.6L652.5 1417.9L649.7 1418.3L645.9 1418.1L642.2 1417.0L639.4 1415.5L636.5 1413.3L634.0 1410.4L632.3 1407.3L631.3 1404.3L631.0 1401.2L631.3 1398.1L632.3 1395.0L634.2 1391.9L636.5 1389.4L639.4 1387.3L642.2 1385.8ZM648.8 1455.6L652.5 1454.8L657.2 1456.0L661.1 1458.8L664.0 1462.9L664.8 1465.0L665.4 1468.0L664.9 1472.2L662.7 1476.3L659.1 1479.2L654.4 1480.6L649.7 1479.8L645.8 1477.3L643.0 1473.2L641.9 1468.0L642.6 1462.9L645.0 1458.5L646.9 1456.7Z" fill="#ff8080" fill-rule="evenodd"/>
<path d="M585.7 1407.2L591.3 1407.2L597.0 1408.3L601.7 1410.1L606.4 1413.0L611.1 1417.3L616.4 1423.8L621.0 1431.0L624.0 1437.2L626.3 1444.4L627.3 1450.5L627.4 1457.7L626.6 1465.0L625.2 1471.2L623.3 1475.8L620.5 1479.6L616.8 1482.3L613.0 1483.5L609.2 1483.8L604.5 1483.1L599.8 1481.3L595.1 1478.6L590.9 1475.2L586.6 1470.9L582.9 1466.1L582.9 1407.9ZM686.4 1409.4L690.2 1408.8L694.0 1409.3L697.7 1411.0L700.6 1413.3L703.4 1416.6L705.6 1420.7L706.9 1424.8L707.6 1430.0L707.3 1435.1L706.3 1439.2L704.5 1443.3L701.7 1447.5L698.7 1450.5L694.9 1452.9L691.1 1454.2L687.4 1454.7L683.6 1454.3L680.8 1453.4L677.0 1451.3L673.7 1448.5L670.4 1444.7L668.4 1441.3L667.2 1438.2L666.6 1434.1L667.0 1431.0L668.4 1426.9L670.1 1423.8L673.1 1419.7L676.1 1416.3L679.8 1413.0L683.6 1410.5Z" fill="#8080ff" fill-rule="evenodd"/>
<path d="M648.8 1388.7L654.4 1388.7L657.2 1389.4L660.1 1390.7L663.6 1394.0L664.7 1396.0L665.2 1398.1L665.3 1400.1L664.7 1403.2L663.2 1406.3L661.7 1408.4L657.2 1412.0L654.4 1413.2L651.6 1413.9L648.8 1414.0L645.9 1413.5L641.6 1411.5L639.4 1409.5L637.8 1407.3L636.3 1403.2L636.3 1400.1L636.7 1398.1L639.1 1394.0L643.1 1390.7ZM650.7 1459.5L653.5 1459.2L656.3 1459.9L658.8 1461.9L660.7 1465.0L661.3 1468.0L660.7 1471.1L659.1 1473.5L656.3 1475.5L653.5 1476.0L650.2 1475.2L647.6 1473.2L646.0 1470.1L645.6 1467.0L646.3 1463.9L647.8 1461.4Z" fill="#ff4040" fill-rule="evenodd"/>
<path d="M588.5 1413.5L592.3 1413.2L597.0 1414.1L601.7 1416.0L605.5 1418.6L609.2 1422.0L613.3 1426.9L616.6 1432.0L619.6 1438.2L621.7 1444.4L622.7 1449.5L623.1 1455.7L622.7 1460.8L621.4 1466.0L619.6 1470.1L617.2 1473.2L613.9 1475.5L610.2 1476.7L606.4 1476.8L602.6 1476.0L597.9 1473.8L593.2 1470.5L589.6 1467.0L586.3 1462.9L582.9 1457.5L582.9 1416.1L585.7 1414.3ZM688.3 1414.5L691.1 1414.8L694.0 1415.8L696.6 1417.6L698.7 1420.0L700.4 1422.8L701.5 1425.9L702.0 1428.9L702.0 1433.1L701.4 1436.1L700.3 1439.2L698.7 1442.0L696.7 1444.4L694.0 1446.5L691.1 1447.8L688.3 1448.5L685.5 1448.5L682.7 1448.0L679.8 1446.7L677.0 1444.6L675.1 1442.6L673.6 1440.3L672.3 1437.2L671.8 1432.0L672.3 1428.9L673.5 1425.9L677.1 1420.7L679.8 1418.1L682.7 1416.2L685.5 1415.0Z" fill="#4444ff" fill-rule="evenodd"/>
<path d="M647.8 1393.8L651.6 1393.1L654.4 1393.5L657.2 1394.8L659.5 1397.1L660.3 1399.1L660.3 1402.2L658.9 1405.3L656.8 1407.3L652.5 1409.3L648.8 1409.4L645.0 1407.8L642.6 1405.3L641.6 1402.2L642.2 1398.8L644.1 1396.0ZM653.5 1465.9L654.4 1466.5L654.7 1468.0L653.5 1469.1L652.5 1468.9L651.9 1468.0L651.9 1467.0L652.5 1466.1Z" fill="#ff0000" fill-rule="evenodd"/>
<path d="M589.4 1419.5L592.3 1418.9L596.0 1419.2L599.8 1420.5L603.6 1422.7L607.2 1425.9L610.2 1429.3L613.0 1433.5L615.4 1438.2L617.3 1443.3L618.5 1448.5L618.9 1453.6L618.6 1457.7L617.6 1461.9L615.8 1465.7L613.8 1468.0L611.1 1469.9L608.3 1470.7L604.5 1470.7L600.7 1469.6L597.0 1467.6L593.2 1464.5L589.8 1460.8L587.0 1456.7L584.3 1451.6L582.9 1447.9L582.9 1425.5L585.7 1421.7ZM686.4 1420.6L690.2 1420.9L693.3 1422.8L694.9 1424.8L695.9 1426.8L696.6 1431.0L695.9 1435.2L694.9 1437.2L693.4 1439.2L690.2 1441.5L686.4 1442.3L682.7 1441.4L679.8 1439.2L677.8 1436.1L677.1 1432.0L677.9 1427.9L679.8 1424.6L682.7 1422.1Z" fill="#0000ff" fill-rule="evenodd"/>
<path d="M593.2 1424.7L596.0 1424.7L598.9 1425.5L601.7 1426.9L604.3 1428.9L609.2 1434.7L612.6 1441.3L614.4 1448.5L614.6 1452.6L614.3 1455.7L613.4 1458.8L612.0 1461.3L610.2 1463.3L608.3 1464.4L605.5 1465.0L602.6 1464.7L599.8 1463.7L597.0 1462.0L594.2 1459.6L591.3 1456.2L589.0 1452.6L587.1 1448.5L585.8 1444.4L585.1 1440.3L585.1 1436.1L585.5 1433.1L586.6 1429.9L588.5 1427.2L590.4 1425.7Z" fill="#0000c8" fill-rule="evenodd"/>
<path d="M593.2 1432.0L595.1 1431.2L597.0 1431.2L600.7 1432.5L604.5 1435.7L607.3 1439.9L609.4 1445.4L609.8 1450.5L608.8 1454.7L607.5 1456.7L606.4 1457.6L604.5 1458.3L602.6 1458.4L598.9 1457.1L595.1 1453.8L592.2 1449.5L590.3 1444.4L589.8 1439.2L590.7 1435.1L592.0 1433.1Z" fill="#00008a" fill-rule="evenodd"/>
</g>
<path d="M631.3 1366.6m-1.75 0a1.75 1.75 0 1 0 3.5 0a1.75 1.75 0 1 0 -3.5 0M665.4 1366.6m-1.75 0a1.75 1.75 0 1 0 3.5 0a1.75 1.75 0 1 0 -3.5 0M616.1 1377.5m-1.75 0a1.75 1.75 0 1 0 3.5 0a1.75 1.75 0 1 0 -3.5 0M634.4 1378.4m-1.75 0a1.75 1.75 0 1 0 3.5 0a1.75 1.75 0 1 0 -3.5 0M648.3 1375.1m-1.75 0a1.75 1.75 0 1 0 3.5 0a1.75 1.75 0 1 0 -3.5 0M662.6 1378.4m-1.75 0a1.75 1.75 0 1 0 3.5 0a1.75 1.75 0 1 0 -3.5 0M680.7 1377.5m-1.75 0a1.75 1.75 0 1 0 3.5 0a1.75 1.75 0 1 0 -3.5 0M622.8 1387.5m-1.75 0a1.75 1.75 0 1 0 3.5 0a1.75 1.75 0 1 0 -3.5 0M636.9 1391.3m-1.75 0a1.75 1.75 0 1 0 3.5 0a1.75 1.75 0 1 0 -3.5 0M648.3 1388.0m-1.75 0a1.75 1.75 0 1 0 3.5 0a1.75 1.75 0 1 0 -3.5 0M659.8 1391.3m-1.75 0a1.75 1.75 0 1 0 3.5 0a1.75 1.75 0 1 0 -3.5 0M673.9 1387.5m-1.75 0a1.75 1.75 0 1 0 3.5 0a1.75 1.75 0 1 0 -3.5 0M606.2 1394.2m-1.75 0a1.75 1.75 0 1 0 3.5 0a1.75 1.75 0 1 0 -3.5 0M690.7 1394.2m-1.75 0a1.75 1.75 0 1 0 3.5 0a1.75 1.75 0 1 0 -3.5 0M592.1 1401.8m-1.75 0a1.75 1.75 0 1 0 3.5 0a1.75 1.75 0 1 0 -3.5 0M615.5 1401.3m-1.75 0a1.75 1.75 0 1 0 3.5 0a1.75 1.75 0 1 0 -3.5 0M628.6 1400.3m-1.75 0a1.75 1.75 0 1 0 3.5 0a1.75 1.75 0 1 0 -3.5 0M648.3 1399.9m-1.75 0a1.75 1.75 0 1 0 3.5 0a1.75 1.75 0 1 0 -3.5 0M668.2 1400.3m-1.75 0a1.75 1.75 0 1 0 3.5 0a1.75 1.75 0 1 0 -3.5 0M681.1 1401.3m-1.75 0a1.75 1.75 0 1 0 3.5 0a1.75 1.75 0 1 0 -3.5 0M704.7 1401.8m-1.75 0a1.75 1.75 0 1 0 3.5 0a1.75 1.75 0 1 0 -3.5 0M602.7 1412.7m-1.75 0a1.75 1.75 0 1 0 3.5 0a1.75 1.75 0 1 0 -3.5 0M625.7 1412.7m-1.75 0a1.75 1.75 0 1 0 3.5 0a1.75 1.75 0 1 0 -3.5 0M638.6 1406.5m-1.75 0a1.75 1.75 0 1 0 3.5 0a1.75 1.75 0 1 0 -3.5 0M648.3 1412.7m-1.75 0a1.75 1.75 0 1 0 3.5 0a1.75 1.75 0 1 0 -3.5 0M658.4 1406.5m-1.75 0a1.75 1.75 0 1 0 3.5 0a1.75 1.75 0 1 0 -3.5 0M671.0 1412.7m-1.75 0a1.75 1.75 0 1 0 3.5 0a1.75 1.75 0 1 0 -3.5 0M694.0 1412.7m-1.75 0a1.75 1.75 0 1 0 3.5 0a1.75 1.75 0 1 0 -3.5 0M614.2 1417.0m-1.75 0a1.75 1.75 0 1 0 3.5 0a1.75 1.75 0 1 0 -3.5 0M638.3 1419.4m-1.75 0a1.75 1.75 0 1 0 3.5 0a1.75 1.75 0 1 0 -3.5 0M658.4 1419.4m-1.75 0a1.75 1.75 0 1 0 3.5 0a1.75 1.75 0 1 0 -3.5 0M682.7 1417.0m-1.75 0a1.75 1.75 0 1 0 3.5 0a1.75 1.75 0 1 0 -3.5 0M593.4 1429.4m-1.75 0a1.75 1.75 0 1 0 3.5 0a1.75 1.75 0 1 0 -3.5 0M628.6 1425.6m-1.75 0a1.75 1.75 0 1 0 3.5 0a1.75 1.75 0 1 0 -3.5 0M648.3 1425.6m-1.75 0a1.75 1.75 0 1 0 3.5 0a1.75 1.75 0 1 0 -3.5 0M668.2 1425.6m-1.75 0a1.75 1.75 0 1 0 3.5 0a1.75 1.75 0 1 0 -3.5 0M703.5 1429.4m-1.75 0a1.75 1.75 0 1 0 3.5 0a1.75 1.75 0 1 0 -3.5 0M606.2 1431.8m-1.75 0a1.75 1.75 0 1 0 3.5 0a1.75 1.75 0 1 0 -3.5 0M618.6 1431.8m-1.75 0a1.75 1.75 0 1 0 3.5 0a1.75 1.75 0 1 0 -3.5 0M636.9 1434.6m-1.75 0a1.75 1.75 0 1 0 3.5 0a1.75 1.75 0 1 0 -3.5 0M659.8 1434.6m-1.75 0a1.75 1.75 0 1 0 3.5 0a1.75 1.75 0 1 0 -3.5 0M678.1 1431.8m-1.75 0a1.75 1.75 0 1 0 3.5 0a1.75 1.75 0 1 0 -3.5 0M690.7 1431.8m-1.75 0a1.75 1.75 0 1 0 3.5 0a1.75 1.75 0 1 0 -3.5 0M648.3 1437.5m-1.75 0a1.75 1.75 0 1 0 3.5 0a1.75 1.75 0 1 0 -3.5 0M628.0 1443.2m-1.75 0a1.75 1.75 0 1 0 3.5 0a1.75 1.75 0 1 0 -3.5 0M668.7 1443.2m-1.75 0a1.75 1.75 0 1 0 3.5 0a1.75 1.75 0 1 0 -3.5 0M616.1 1448.2m-1.75 0a1.75 1.75 0 1 0 3.5 0a1.75 1.75 0 1 0 -3.5 0M641.1 1449.8m-1.75 0a1.75 1.75 0 1 0 3.5 0a1.75 1.75 0 1 0 -3.5 0M655.6 1449.8m-1.75 0a1.75 1.75 0 1 0 3.5 0a1.75 1.75 0 1 0 -3.5 0M680.4 1448.2m-1.75 0a1.75 1.75 0 1 0 3.5 0a1.75 1.75 0 1 0 -3.5 0M604.6 1453.2m-1.75 0a1.75 1.75 0 1 0 3.5 0a1.75 1.75 0 1 0 -3.5 0M692.1 1453.2m-1.75 0a1.75 1.75 0 1 0 3.5 0a1.75 1.75 0 1 0 -3.5 0M631.3 1458.9m-1.75 0a1.75 1.75 0 1 0 3.5 0a1.75 1.75 0 1 0 -3.5 0M665.4 1458.9m-1.75 0a1.75 1.75 0 1 0 3.5 0a1.75 1.75 0 1 0 -3.5 0M648.3 1462.7m-1.75 0a1.75 1.75 0 1 0 3.5 0a1.75 1.75 0 1 0 -3.5 0M624.0 1469.3m-1.75 0a1.75 1.75 0 1 0 3.5 0a1.75 1.75 0 1 0 -3.5 0M672.4 1469.3m-1.75 0a1.75 1.75 0 1 0 3.5 0a1.75 1.75 0 1 0 -3.5 0M648.3 1475.5m-1.75 0a1.75 1.75 0 1 0 3.5 0a1.75 1.75 0 1 0 -3.5 0" fill="none" stroke="#2a2a2a" stroke-width="0.95"/>
<ellipse cx="648.30" cy="1413.00" rx="60.60" ry="66.20" fill="none" stroke="#333" stroke-width="1.1"/>
<path d="M642.1 1347.4C643.3 1340.8 644.8 1335.8 648.3 1335.8C651.8 1335.8 653.3 1340.8 654.5 1347.4" fill="none" stroke="#333" stroke-width="1.1"/>
<clipPath id="hf1"><ellipse cx="961.25" cy="1413.00" rx="60.60" ry="66.20"/></clipPath>
<g clip-path="url(#hf1)">
<ellipse cx="961.25" cy="1413.00" rx="60.60" ry="66.20" fill="#fff"/>
<path d="M1011.6 1352.8L1014.5 1352.9L1016.3 1353.6L1018.2 1354.7L1020.1 1356.6L1022.6 1361.0L1023.4 1364.1L1023.7 1367.2L1023.1 1372.4L1022.0 1375.5L1020.7 1377.5L1017.2 1380.6L1014.7 1381.6L1012.6 1381.9L1008.8 1381.1L1006.9 1380.1L1005.0 1378.4L1002.7 1374.4L1001.6 1369.3L1002.2 1363.1L1004.1 1358.4L1006.0 1355.9L1007.9 1354.3ZM951.4 1387.8L956.1 1387.6L961.7 1388.1L966.4 1389.1L970.2 1390.5L974.0 1392.7L976.4 1395.0L977.8 1397.1L978.8 1400.1L978.8 1403.2L978.0 1406.3L972.2 1416.6L971.2 1419.7L971.0 1421.7L971.6 1425.9L975.7 1439.2L977.3 1447.5L977.9 1456.7L976.9 1466.0L974.9 1473.0L972.1 1478.1L968.3 1481.8L966.4 1482.9L963.6 1483.7L958.9 1483.5L956.1 1482.3L954.2 1481.0L950.4 1476.8L947.5 1471.1L945.3 1462.9L944.5 1452.6L945.1 1443.3L947.6 1427.9L947.5 1422.8L946.7 1420.0L945.2 1417.6L938.0 1410.4L935.5 1407.3L933.9 1404.3L933.3 1402.2L933.3 1399.1L933.9 1397.1L935.1 1395.0L937.2 1392.7L940.1 1390.9L942.9 1389.6L946.7 1388.5Z" fill="#ffc0c0" fill-rule="evenodd"/>
<path d="M954.2 1357.7L961.7 1357.0L965.5 1357.4L969.3 1358.4L972.1 1359.8L973.6 1361.0L974.8 1363.1L974.8 1365.2L973.4 1367.2L972.0 1368.3L966.4 1370.4L958.9 1370.9L952.3 1369.7L949.3 1368.3L947.6 1366.9L946.5 1365.2L946.4 1363.1L947.6 1361.1L948.9 1360.0ZM902.4 1387.0L907.1 1387.5L910.9 1388.9L914.6 1391.6L917.5 1395.1L924.9 1407.3L935.2 1419.7L937.7 1423.8L939.0 1427.9L939.6 1434.1L939.3 1455.7L939.9 1477.3L939.4 1484.5L895.8 1484.5L895.8 1388.3ZM1006.9 1394.0L1021.0 1393.2L1026.7 1393.6L1026.7 1482.9L1025.1 1484.5L987.8 1484.5L985.3 1478.4L984.0 1471.1L981.3 1433.1L981.3 1427.9L981.8 1423.8L982.7 1420.7L984.7 1416.6L995.6 1399.4L997.9 1397.1L1000.3 1395.5L1003.2 1394.5Z" fill="#c0c0ff" fill-rule="evenodd"/>
<path d="M1012.6 1363.0L1014.5 1363.6L1015.4 1364.5L1016.3 1366.2L1016.7 1368.3L1016.5 1370.3L1015.5 1372.4L1014.5 1373.4L1012.6 1374.0L1010.8 1373.4L1009.7 1372.4L1008.8 1370.3L1008.7 1368.3L1009.7 1364.8L1010.7 1363.8ZM952.3 1392.9L958.9 1393.0L965.5 1394.8L968.3 1396.5L970.1 1398.1L971.5 1400.1L972.1 1402.2L972.1 1404.3L971.6 1406.3L966.0 1416.6L965.3 1420.7L966.2 1424.8L971.5 1436.1L974.0 1443.4L975.3 1451.6L975.1 1459.8L973.4 1467.0L970.7 1472.2L967.4 1475.4L965.5 1476.5L962.7 1477.3L959.8 1477.2L958.0 1476.7L954.2 1474.3L950.9 1470.1L948.7 1465.0L947.1 1456.7L947.1 1448.5L948.5 1439.5L952.1 1425.9L952.5 1422.8L952.3 1420.7L951.7 1418.7L949.5 1415.6L941.2 1407.3L940.0 1405.3L939.3 1403.2L939.5 1400.1L940.6 1398.1L941.9 1396.7L946.7 1394.1Z" fill="#ff8080" fill-rule="evenodd"/>
<path d="M899.6 1399.1L903.3 1398.6L907.1 1399.1L910.9 1400.6L913.7 1402.5L919.3 1407.8L928.1 1417.6L931.9 1422.8L933.9 1426.9L935.4 1432.0L936.2 1439.2L936.1 1463.9L935.6 1471.1L934.7 1476.3L933.3 1480.4L931.3 1484.5L895.8 1484.5L895.8 1400.5ZM1008.8 1400.1L1014.5 1399.6L1019.2 1400.0L1022.9 1401.2L1026.7 1403.6L1026.7 1471.1L1022.0 1476.4L1016.3 1480.6L1010.7 1483.0L1005.0 1483.6L1000.3 1482.7L995.6 1480.3L991.9 1476.5L989.0 1471.2L987.3 1465.0L986.0 1456.7L985.0 1443.3L984.9 1434.1L985.6 1427.9L987.1 1422.8L989.6 1417.6L992.8 1412.7L996.6 1407.9L1000.3 1404.2L1004.1 1401.7Z" fill="#8080ff" fill-rule="evenodd"/>
<path d="M952.3 1397.9L956.1 1397.6L959.8 1398.3L962.7 1399.7L964.5 1401.6L965.3 1404.3L965.0 1406.3L963.4 1409.4L960.8 1412.1L958.0 1413.2L955.1 1412.6L950.4 1409.5L947.3 1406.3L946.2 1403.2L946.8 1401.2L949.0 1399.1ZM958.9 1427.7L960.8 1428.0L962.7 1429.4L965.5 1432.6L968.3 1437.0L971.5 1444.4L972.4 1448.5L972.9 1452.6L972.4 1459.8L971.6 1462.9L970.2 1466.2L968.3 1468.9L966.4 1470.7L964.5 1471.7L961.7 1472.3L958.9 1471.9L957.0 1471.1L955.1 1469.6L953.2 1467.4L950.7 1461.9L949.4 1454.7L949.9 1446.4L952.3 1437.2L954.2 1432.8L956.1 1429.7L957.0 1428.7Z" fill="#ff4040" fill-rule="evenodd"/>
<path d="M1008.8 1406.2L1014.5 1405.6L1019.2 1406.7L1022.9 1408.8L1026.7 1412.6L1026.7 1461.8L1022.3 1468.0L1017.3 1472.7L1011.6 1475.7L1006.0 1476.5L1002.2 1475.9L998.4 1474.1L995.1 1471.1L992.4 1467.0L990.4 1461.9L989.0 1455.6L988.1 1447.5L988.0 1439.2L988.6 1433.1L989.7 1427.9L991.2 1423.8L993.7 1419.1L997.5 1414.0L1001.3 1410.2L1005.0 1407.7ZM900.5 1407.1L904.3 1406.5L909.0 1407.3L912.8 1409.0L917.5 1412.4L922.8 1417.6L926.8 1422.8L929.6 1427.9L931.4 1433.1L932.7 1440.3L933.3 1448.5L933.0 1458.8L932.0 1467.0L930.3 1473.2L927.8 1478.0L925.0 1481.5L920.9 1484.5L906.3 1484.5L900.5 1480.7L895.8 1475.7L895.8 1409.6Z" fill="#4444ff" fill-rule="evenodd"/>
<path d="M958.0 1436.0L958.9 1435.5L960.8 1435.4L962.7 1436.3L964.7 1438.2L966.4 1440.5L968.3 1444.1L970.1 1450.5L970.1 1456.7L968.7 1461.9L966.4 1465.3L964.5 1466.8L962.7 1467.5L960.8 1467.7L958.9 1467.2L956.1 1465.2L953.9 1461.9L952.3 1456.6L952.1 1450.5L953.1 1444.4L955.1 1439.4Z" fill="#ff0000" fill-rule="evenodd"/>
<path d="M1010.7 1411.4L1015.4 1411.6L1020.1 1413.7L1023.9 1417.4L1026.7 1422.5L1026.7 1451.9L1022.9 1459.8L1020.1 1463.6L1017.7 1466.0L1014.5 1468.3L1011.6 1469.7L1008.8 1470.4L1006.0 1470.4L1002.2 1469.5L999.4 1467.8L996.6 1465.0L994.7 1461.8L992.8 1456.8L991.7 1451.6L991.1 1445.4L991.2 1439.2L991.9 1434.1L993.3 1428.9L995.1 1424.8L997.5 1420.8L1000.3 1417.3L1004.1 1414.1L1006.9 1412.5ZM903.3 1413.4L907.1 1413.2L910.9 1414.2L915.6 1416.8L919.3 1420.1L923.1 1424.7L925.6 1428.9L927.6 1434.1L928.9 1439.2L929.8 1446.4L929.9 1453.6L929.2 1460.8L927.8 1466.4L925.8 1471.1L923.1 1474.8L919.3 1477.8L915.6 1479.2L910.9 1479.3L908.0 1478.5L905.2 1477.1L900.3 1473.2L895.8 1467.3L895.8 1417.9L899.6 1414.8Z" fill="#0000ff" fill-rule="evenodd"/>
<path d="M959.8 1442.3L961.4 1442.3L962.7 1442.9L964.5 1444.9L966.3 1448.5L967.0 1451.6L966.9 1455.7L966.0 1458.8L964.5 1460.9L963.4 1461.9L961.7 1462.4L958.9 1461.7L957.0 1459.8L955.7 1456.7L955.2 1453.6L955.4 1449.5L956.2 1446.4L958.0 1443.5Z" fill="#c00000" fill-rule="evenodd"/>
<path d="M1008.8 1417.4L1012.6 1416.9L1015.4 1417.5L1018.2 1419.0L1021.0 1421.8L1023.4 1425.9L1024.7 1430.0L1025.4 1434.1L1025.5 1439.2L1024.9 1444.4L1023.5 1449.5L1021.8 1453.6L1019.3 1457.7L1016.3 1461.0L1013.5 1463.1L1010.7 1464.3L1006.9 1464.8L1004.1 1464.1L1001.3 1462.5L999.4 1460.7L997.5 1457.9L996.1 1454.7L995.0 1450.5L994.4 1442.3L995.5 1434.1L996.9 1430.0L998.4 1426.7L1000.4 1423.8L1003.2 1420.7L1006.0 1418.6ZM904.3 1419.6L907.1 1419.3L910.9 1420.1L914.6 1422.2L917.5 1424.7L920.3 1428.1L922.5 1432.0L924.2 1436.1L925.6 1441.3L926.3 1446.4L926.4 1451.6L925.9 1456.7L924.7 1461.9L923.1 1465.6L920.8 1469.1L917.5 1471.7L914.6 1472.8L911.8 1473.0L909.0 1472.5L904.3 1469.9L899.6 1464.9L895.8 1457.9L895.8 1427.3L897.7 1424.3L899.6 1422.2L901.6 1420.7Z" fill="#0000c8" fill-rule="evenodd"/>
<path d="M1007.9 1423.6L1010.7 1422.8L1012.6 1422.9L1015.2 1423.8L1017.3 1425.4L1019.2 1427.9L1020.5 1431.0L1021.3 1434.1L1021.6 1438.2L1020.7 1445.4L1019.2 1449.5L1017.5 1452.6L1015.4 1455.3L1012.6 1457.5L1009.7 1458.6L1007.9 1458.8L1004.1 1457.6L1001.1 1454.7L998.8 1449.5L998.0 1443.3L998.7 1437.2L1000.8 1431.0L1004.1 1426.3ZM904.3 1426.7L906.2 1426.1L909.0 1426.0L911.8 1427.0L914.6 1428.9L916.6 1431.0L918.6 1434.1L920.3 1437.6L921.4 1441.3L922.2 1445.4L922.4 1449.5L922.1 1453.6L921.2 1457.4L920.3 1459.9L918.4 1462.9L916.5 1464.7L913.7 1466.1L911.8 1466.3L909.0 1465.9L906.2 1464.4L904.3 1462.8L900.5 1457.6L897.9 1450.5L896.9 1443.3L897.7 1436.1L898.8 1433.1L900.5 1430.0L902.4 1427.9Z" fill="#00008a" fill-rule="evenodd"/>
<path d="M1008.8 1430.6L1011.6 1430.3L1014.5 1432.0L1016.1 1435.1L1016.7 1439.2L1016.2 1443.3L1014.5 1447.6L1011.6 1450.5L1008.8 1451.4L1006.2 1450.5L1004.3 1448.5L1003.2 1445.5L1002.8 1442.3L1003.2 1438.8L1004.4 1435.1L1006.7 1432.0ZM906.2 1434.8L909.0 1434.2L911.8 1435.3L914.6 1438.4L916.5 1442.8L917.2 1447.5L916.6 1452.6L915.1 1455.7L912.8 1457.7L909.9 1457.9L907.1 1456.5L904.7 1453.6L903.0 1449.5L902.2 1445.4L902.4 1441.3L903.9 1437.2Z" fill="#0a0a40" fill-rule="evenodd"/>
</g>
<path d="M944.2 1366.6m-1.75 0a1.75 1.75 0 1 0 3.5 0a1.75 1.75 0 1 0 -3.5 0M978.4 1366.6m-1.75 0a1.75 1.75 0 1 0 3.5 0a1.75 1.75 0 1 0 -3.5 0M929.1 1377.5m-1.75 0a1.75 1.75 0 1 0 3.5 0a1.75 1.75 0 1 0 -3.5 0M947.3 1378.4m-1.75 0a1.75 1.75 0 1 0 3.5 0a1.75 1.75 0 1 0 -3.5 0M961.2 1375.1m-1.75 0a1.75 1.75 0 1 0 3.5 0a1.75 1.75 0 1 0 -3.5 0M975.6 1378.4m-1.75 0a1.75 1.75 0 1 0 3.5 0a1.75 1.75 0 1 0 -3.5 0M993.6 1377.5m-1.75 0a1.75 1.75 0 1 0 3.5 0a1.75 1.75 0 1 0 -3.5 0M935.8 1387.5m-1.75 0a1.75 1.75 0 1 0 3.5 0a1.75 1.75 0 1 0 -3.5 0M949.8 1391.3m-1.75 0a1.75 1.75 0 1 0 3.5 0a1.75 1.75 0 1 0 -3.5 0M961.2 1388.0m-1.75 0a1.75 1.75 0 1 0 3.5 0a1.75 1.75 0 1 0 -3.5 0M972.8 1391.3m-1.75 0a1.75 1.75 0 1 0 3.5 0a1.75 1.75 0 1 0 -3.5 0M986.8 1387.5m-1.75 0a1.75 1.75 0 1 0 3.5 0a1.75 1.75 0 1 0 -3.5 0M919.1 1394.2m-1.75 0a1.75 1.75 0 1 0 3.5 0a1.75 1.75 0 1 0 -3.5 0M1003.6 1394.2m-1.75 0a1.75 1.75 0 1 0 3.5 0a1.75 1.75 0 1 0 -3.5 0M905.1 1401.8m-1.75 0a1.75 1.75 0 1 0 3.5 0a1.75 1.75 0 1 0 -3.5 0M928.5 1401.3m-1.75 0a1.75 1.75 0 1 0 3.5 0a1.75 1.75 0 1 0 -3.5 0M941.6 1400.3m-1.75 0a1.75 1.75 0 1 0 3.5 0a1.75 1.75 0 1 0 -3.5 0M961.2 1399.9m-1.75 0a1.75 1.75 0 1 0 3.5 0a1.75 1.75 0 1 0 -3.5 0M981.2 1400.3m-1.75 0a1.75 1.75 0 1 0 3.5 0a1.75 1.75 0 1 0 -3.5 0M994.0 1401.3m-1.75 0a1.75 1.75 0 1 0 3.5 0a1.75 1.75 0 1 0 -3.5 0M1017.7 1401.8m-1.75 0a1.75 1.75 0 1 0 3.5 0a1.75 1.75 0 1 0 -3.5 0M915.7 1412.7m-1.75 0a1.75 1.75 0 1 0 3.5 0a1.75 1.75 0 1 0 -3.5 0M938.6 1412.7m-1.75 0a1.75 1.75 0 1 0 3.5 0a1.75 1.75 0 1 0 -3.5 0M951.5 1406.5m-1.75 0a1.75 1.75 0 1 0 3.5 0a1.75 1.75 0 1 0 -3.5 0M961.2 1412.7m-1.75 0a1.75 1.75 0 1 0 3.5 0a1.75 1.75 0 1 0 -3.5 0M971.4 1406.5m-1.75 0a1.75 1.75 0 1 0 3.5 0a1.75 1.75 0 1 0 -3.5 0M984.0 1412.7m-1.75 0a1.75 1.75 0 1 0 3.5 0a1.75 1.75 0 1 0 -3.5 0M1006.9 1412.7m-1.75 0a1.75 1.75 0 1 0 3.5 0a1.75 1.75 0 1 0 -3.5 0M927.2 1417.0m-1.75 0a1.75 1.75 0 1 0 3.5 0a1.75 1.75 0 1 0 -3.5 0M951.2 1419.4m-1.75 0a1.75 1.75 0 1 0 3.5 0a1.75 1.75 0 1 0 -3.5 0M971.4 1419.4m-1.75 0a1.75 1.75 0 1 0 3.5 0a1.75 1.75 0 1 0 -3.5 0M995.7 1417.0m-1.75 0a1.75 1.75 0 1 0 3.5 0a1.75 1.75 0 1 0 -3.5 0M906.3 1429.4m-1.75 0a1.75 1.75 0 1 0 3.5 0a1.75 1.75 0 1 0 -3.5 0M941.6 1425.6m-1.75 0a1.75 1.75 0 1 0 3.5 0a1.75 1.75 0 1 0 -3.5 0M961.2 1425.6m-1.75 0a1.75 1.75 0 1 0 3.5 0a1.75 1.75 0 1 0 -3.5 0M981.2 1425.6m-1.75 0a1.75 1.75 0 1 0 3.5 0a1.75 1.75 0 1 0 -3.5 0M1016.5 1429.4m-1.75 0a1.75 1.75 0 1 0 3.5 0a1.75 1.75 0 1 0 -3.5 0M919.1 1431.8m-1.75 0a1.75 1.75 0 1 0 3.5 0a1.75 1.75 0 1 0 -3.5 0M931.6 1431.8m-1.75 0a1.75 1.75 0 1 0 3.5 0a1.75 1.75 0 1 0 -3.5 0M949.8 1434.6m-1.75 0a1.75 1.75 0 1 0 3.5 0a1.75 1.75 0 1 0 -3.5 0M972.8 1434.6m-1.75 0a1.75 1.75 0 1 0 3.5 0a1.75 1.75 0 1 0 -3.5 0M991.0 1431.8m-1.75 0a1.75 1.75 0 1 0 3.5 0a1.75 1.75 0 1 0 -3.5 0M1003.6 1431.8m-1.75 0a1.75 1.75 0 1 0 3.5 0a1.75 1.75 0 1 0 -3.5 0M961.2 1437.5m-1.75 0a1.75 1.75 0 1 0 3.5 0a1.75 1.75 0 1 0 -3.5 0M940.9 1443.2m-1.75 0a1.75 1.75 0 1 0 3.5 0a1.75 1.75 0 1 0 -3.5 0M981.7 1443.2m-1.75 0a1.75 1.75 0 1 0 3.5 0a1.75 1.75 0 1 0 -3.5 0M929.1 1448.2m-1.75 0a1.75 1.75 0 1 0 3.5 0a1.75 1.75 0 1 0 -3.5 0M954.0 1449.8m-1.75 0a1.75 1.75 0 1 0 3.5 0a1.75 1.75 0 1 0 -3.5 0M968.6 1449.8m-1.75 0a1.75 1.75 0 1 0 3.5 0a1.75 1.75 0 1 0 -3.5 0M993.4 1448.2m-1.75 0a1.75 1.75 0 1 0 3.5 0a1.75 1.75 0 1 0 -3.5 0M917.5 1453.2m-1.75 0a1.75 1.75 0 1 0 3.5 0a1.75 1.75 0 1 0 -3.5 0M1005.1 1453.2m-1.75 0a1.75 1.75 0 1 0 3.5 0a1.75 1.75 0 1 0 -3.5 0M944.2 1458.9m-1.75 0a1.75 1.75 0 1 0 3.5 0a1.75 1.75 0 1 0 -3.5 0M978.4 1458.9m-1.75 0a1.75 1.75 0 1 0 3.5 0a1.75 1.75 0 1 0 -3.5 0M961.2 1462.7m-1.75 0a1.75 1.75 0 1 0 3.5 0a1.75 1.75 0 1 0 -3.5 0M936.9 1469.3m-1.75 0a1.75 1.75 0 1 0 3.5 0a1.75 1.75 0 1 0 -3.5 0M985.4 1469.3m-1.75 0a1.75 1.75 0 1 0 3.5 0a1.75 1.75 0 1 0 -3.5 0M961.2 1475.5m-1.75 0a1.75 1.75 0 1 0 3.5 0a1.75 1.75 0 1 0 -3.5 0" fill="none" stroke="#2a2a2a" stroke-width="0.95"/>
<ellipse cx="961.25" cy="1413.00" rx="60.60" ry="66.20" fill="none" stroke="#333" stroke-width="1.1"/>
<path d="M955.0 1347.4C956.2 1340.8 957.8 1335.8 961.2 1335.8C964.8 1335.8 966.2 1340.8 967.5 1347.4" fill="none" stroke="#333" stroke-width="1.1"/>
<clipPath id="hf2"><ellipse cx="1124.50" cy="1413.00" rx="60.60" ry="66.20"/></clipPath>
<g clip-path="url(#hf2)">
<ellipse cx="1124.50" cy="1413.00" rx="60.60" ry="66.20" fill="#fff"/>
<path d="M1172.1 1354.7L1173.9 1354.4L1175.8 1354.6L1178.6 1356.0L1180.4 1358.0L1181.5 1359.8L1182.7 1364.1L1182.5 1368.3L1181.0 1372.4L1178.3 1375.5L1174.9 1376.9L1172.1 1376.7L1169.2 1375.2L1166.9 1372.4L1165.6 1368.3L1165.5 1364.1L1166.7 1360.0L1169.2 1356.4ZM1115.6 1387.7L1119.3 1387.3L1124.0 1388.0L1127.8 1389.3L1131.6 1391.6L1134.4 1394.3L1136.4 1397.1L1138.4 1401.2L1139.4 1405.3L1139.8 1411.5L1138.7 1423.8L1138.7 1428.9L1142.2 1450.5L1142.6 1456.7L1142.5 1462.9L1141.3 1470.1L1139.1 1476.4L1136.3 1480.9L1132.2 1484.5L1118.7 1484.5L1117.4 1483.7L1114.6 1480.9L1111.6 1476.3L1109.5 1471.1L1108.1 1465.0L1107.3 1454.7L1108.2 1439.2L1108.1 1434.1L1106.9 1427.9L1102.3 1413.5L1101.5 1408.4L1101.6 1403.2L1102.1 1400.1L1103.2 1397.1L1106.1 1392.7L1108.0 1391.0L1110.8 1389.2Z" fill="#ffc0c0" fill-rule="evenodd"/>
<path d="M1112.7 1363.1L1117.4 1362.4L1122.1 1363.3L1125.1 1365.2L1125.7 1366.2L1125.6 1368.3L1123.4 1370.3L1120.3 1371.4L1115.6 1371.6L1111.8 1370.7L1109.5 1369.3L1108.5 1367.2L1109.3 1365.2L1110.5 1364.1ZM1061.9 1388.7L1066.6 1388.2L1071.3 1388.7L1076.0 1390.3L1079.8 1392.6L1083.5 1396.3L1086.4 1400.3L1092.0 1412.1L1098.9 1428.9L1101.3 1438.2L1101.9 1446.4L1102.6 1478.3L1102.3 1484.5L1059.1 1484.5L1059.1 1389.5ZM1176.8 1391.8L1184.3 1391.1L1189.9 1392.4L1189.9 1484.5L1153.0 1484.5L1151.3 1480.4L1149.9 1474.2L1147.9 1447.5L1147.6 1435.1L1148.1 1430.0L1149.2 1424.8L1151.3 1417.7L1154.2 1410.9L1157.0 1405.6L1160.1 1401.2L1163.6 1397.5L1167.3 1394.9L1171.1 1393.2Z" fill="#c0c0ff" fill-rule="evenodd"/>
<path d="M1173.0 1363.5L1173.9 1363.1L1174.9 1363.3L1175.8 1364.1L1176.3 1365.2L1176.2 1367.2L1175.8 1368.3L1174.9 1369.0L1173.9 1369.2L1173.0 1368.8L1172.0 1367.2L1172.0 1365.2ZM1114.6 1398.0L1119.3 1397.1L1124.0 1398.1L1128.3 1401.2L1131.1 1405.3L1132.2 1408.4L1132.8 1412.5L1132.6 1423.8L1132.9 1427.9L1134.0 1432.0L1137.9 1443.3L1139.4 1450.5L1139.9 1455.7L1139.7 1460.8L1138.8 1466.0L1137.5 1470.1L1135.3 1473.9L1133.3 1476.3L1130.6 1478.3L1126.9 1479.7L1124.0 1479.8L1121.2 1479.1L1118.4 1477.5L1116.5 1475.9L1114.6 1473.6L1112.7 1470.1L1111.2 1466.0L1110.4 1461.9L1109.9 1456.7L1110.0 1451.6L1112.3 1436.1L1112.5 1431.0L1111.6 1425.9L1108.2 1415.6L1107.5 1409.4L1108.2 1405.3L1109.6 1402.2L1111.8 1399.7Z" fill="#ff8080" fill-rule="evenodd"/>
<path d="M1062.8 1400.1L1067.5 1399.4L1072.2 1400.0L1076.9 1402.0L1080.7 1404.8L1084.5 1409.0L1088.2 1414.8L1092.0 1422.0L1095.4 1430.0L1097.4 1436.1L1098.4 1441.3L1099.0 1447.5L1099.1 1455.7L1098.8 1467.0L1098.1 1474.2L1097.1 1479.4L1095.0 1484.5L1059.1 1484.5L1059.1 1401.7ZM1174.9 1401.2L1178.6 1400.5L1182.4 1400.6L1186.2 1401.5L1189.9 1403.4L1189.9 1476.2L1184.3 1481.1L1178.6 1484.0L1177.1 1484.5L1167.3 1484.5L1163.6 1482.9L1159.8 1480.0L1156.9 1476.3L1154.5 1471.1L1152.9 1465.0L1151.6 1455.7L1150.9 1445.4L1151.2 1437.2L1152.1 1431.0L1153.9 1424.8L1156.5 1418.7L1159.4 1413.5L1162.6 1409.3L1166.4 1405.6L1170.2 1403.1Z" fill="#8080ff" fill-rule="evenodd"/>
<path d="M1119.3 1410.4L1121.2 1411.1L1122.3 1413.5L1122.0 1416.6L1121.2 1417.8L1120.3 1418.1L1118.4 1416.6L1117.4 1414.0L1117.4 1412.5L1117.9 1411.5ZM1122.1 1430.9L1124.0 1431.0L1125.9 1432.1L1128.7 1434.7L1131.6 1438.4L1133.4 1441.6L1135.3 1446.1L1136.9 1453.6L1137.1 1457.7L1136.6 1461.9L1134.5 1468.0L1132.5 1471.0L1130.6 1472.7L1128.7 1473.9L1125.9 1474.7L1123.1 1474.5L1121.2 1473.9L1117.4 1471.0L1114.4 1466.0L1113.4 1462.9L1112.7 1458.8L1112.8 1451.6L1114.6 1443.3L1118.4 1435.0L1120.3 1432.3Z" fill="#ff4040" fill-rule="evenodd"/>
<path d="M1063.8 1408.2L1067.5 1407.4L1072.2 1407.9L1076.9 1409.9L1080.7 1412.9L1084.5 1417.2L1088.2 1423.0L1091.6 1430.0L1093.9 1436.1L1095.3 1442.3L1096.0 1449.5L1096.0 1458.8L1095.1 1467.0L1093.9 1472.6L1092.0 1477.4L1089.4 1481.4L1086.2 1484.5L1067.1 1484.5L1062.8 1481.2L1059.1 1477.0L1059.1 1410.8ZM1174.9 1408.2L1178.6 1407.6L1182.4 1407.9L1186.2 1409.3L1189.9 1411.9L1189.9 1467.7L1186.2 1472.0L1181.5 1475.5L1176.8 1477.5L1172.1 1478.0L1168.3 1477.3L1164.5 1475.4L1161.0 1472.2L1158.4 1468.0L1156.4 1462.9L1155.1 1457.0L1154.4 1450.5L1154.2 1443.3L1154.8 1437.2L1156.0 1431.3L1158.0 1425.9L1160.6 1420.7L1163.6 1416.3L1167.3 1412.4L1171.1 1409.8Z" fill="#4444ff" fill-rule="evenodd"/>
<path d="M1122.1 1441.0L1124.0 1440.5L1125.9 1440.8L1127.8 1441.8L1129.7 1443.5L1132.5 1448.2L1133.9 1453.6L1133.9 1458.8L1132.5 1464.0L1129.7 1467.9L1127.8 1469.2L1125.9 1469.8L1124.0 1469.8L1122.1 1469.3L1119.3 1467.3L1117.1 1463.9L1115.6 1458.8L1115.5 1453.6L1116.6 1448.5L1119.3 1443.3Z" fill="#ff0000" fill-rule="evenodd"/>
<path d="M1066.6 1414.5L1070.4 1414.2L1074.1 1415.2L1077.9 1417.3L1081.7 1420.8L1085.4 1425.9L1088.2 1431.0L1090.6 1437.2L1092.0 1442.9L1092.8 1449.5L1092.8 1456.7L1092.0 1463.0L1090.4 1469.1L1088.2 1473.5L1085.4 1477.0L1082.6 1479.1L1078.8 1480.5L1074.1 1480.6L1071.3 1479.8L1068.5 1478.5L1063.8 1474.7L1059.1 1468.6L1059.1 1419.2L1062.8 1416.0ZM1174.9 1414.3L1179.6 1413.8L1183.4 1414.6L1187.1 1417.0L1189.9 1420.0L1189.9 1459.6L1186.3 1465.0L1182.4 1468.6L1177.7 1471.1L1173.0 1471.8L1169.2 1471.1L1166.4 1469.6L1163.6 1467.0L1161.4 1463.9L1159.6 1459.8L1158.3 1454.7L1157.6 1449.5L1157.5 1444.4L1158.0 1439.2L1159.1 1434.1L1160.8 1429.2L1162.6 1425.4L1165.5 1421.2L1168.3 1418.2L1171.1 1416.1Z" fill="#0000ff" fill-rule="evenodd"/>
<path d="M1122.1 1448.4L1124.0 1447.5L1126.9 1448.3L1128.7 1450.4L1130.0 1453.6L1130.3 1456.7L1129.7 1459.9L1127.8 1462.9L1125.9 1464.1L1124.0 1464.2L1122.1 1463.3L1120.3 1461.0L1119.5 1458.8L1119.1 1455.7L1119.6 1452.6L1120.4 1450.5Z" fill="#c00000" fill-rule="evenodd"/>
<path d="M1177.7 1419.6L1181.5 1420.2L1184.4 1421.7L1187.3 1424.8L1189.5 1428.9L1189.9 1430.3L1189.9 1449.4L1187.1 1456.3L1185.2 1459.2L1182.9 1461.9L1180.5 1463.8L1177.7 1465.3L1173.0 1465.9L1170.2 1465.2L1167.9 1463.9L1165.5 1461.5L1163.8 1458.8L1162.5 1455.7L1161.5 1451.6L1161.1 1447.5L1161.2 1442.3L1161.8 1438.2L1162.9 1434.1L1164.5 1430.3L1166.6 1426.9L1169.2 1423.7L1172.1 1421.5L1174.9 1420.1ZM1069.4 1420.6L1073.2 1421.1L1076.0 1422.4L1078.8 1424.5L1081.7 1427.7L1084.5 1432.0L1086.4 1436.0L1087.8 1440.3L1088.9 1445.4L1089.4 1450.5L1089.2 1455.7L1088.4 1460.8L1087.3 1464.6L1085.6 1468.0L1083.5 1470.8L1080.7 1473.0L1077.9 1474.1L1075.1 1474.4L1072.2 1473.8L1067.5 1471.2L1062.8 1466.2L1059.1 1459.2L1059.1 1428.6L1060.9 1425.6L1063.8 1422.8L1066.6 1421.2Z" fill="#0000c8" fill-rule="evenodd"/>
<path d="M1177.7 1425.8L1179.6 1426.1L1181.5 1427.0L1183.4 1428.5L1185.2 1431.3L1186.3 1434.1L1187.0 1437.2L1187.2 1440.3L1186.9 1444.4L1185.2 1450.5L1183.5 1453.6L1181.5 1456.3L1177.7 1459.0L1174.9 1459.7L1173.0 1459.6L1171.1 1458.9L1169.2 1457.5L1167.7 1455.7L1166.4 1453.1L1165.1 1447.5L1165.2 1441.3L1166.9 1435.1L1170.0 1430.0L1172.1 1428.0L1173.9 1426.7ZM1068.5 1427.7L1070.4 1427.3L1073.2 1427.7L1076.0 1429.1L1078.2 1431.0L1080.7 1434.1L1082.4 1437.2L1084.8 1444.4L1085.4 1448.5L1085.4 1452.6L1084.9 1456.7L1084.0 1459.8L1082.6 1462.8L1080.9 1465.0L1078.8 1466.6L1076.9 1467.4L1075.1 1467.7L1072.2 1467.2L1069.8 1466.0L1067.5 1464.1L1065.6 1461.9L1063.7 1458.8L1061.9 1454.7L1060.9 1451.1L1060.2 1443.3L1060.6 1439.2L1061.4 1436.1L1062.6 1433.1L1064.0 1431.0L1066.0 1428.9Z" fill="#00008a" fill-rule="evenodd"/>
<path d="M1176.8 1434.1L1178.6 1434.6L1180.5 1436.5L1181.6 1439.2L1181.6 1443.3L1180.5 1447.2L1179.0 1449.5L1176.8 1451.2L1174.9 1451.5L1173.0 1450.7L1171.2 1448.5L1170.4 1445.4L1170.4 1442.3L1171.2 1439.2L1173.0 1436.1L1174.9 1434.6ZM1070.4 1435.8L1073.2 1435.9L1076.0 1437.7L1078.5 1441.3L1079.9 1445.4L1080.3 1450.5L1079.5 1454.7L1077.9 1457.5L1075.1 1459.2L1072.2 1458.9L1069.4 1456.9L1067.3 1453.6L1065.9 1449.5L1065.5 1444.4L1066.3 1440.3L1068.2 1437.2Z" fill="#0a0a40" fill-rule="evenodd"/>
</g>
<path d="M1107.5 1366.6m-1.75 0a1.75 1.75 0 1 0 3.5 0a1.75 1.75 0 1 0 -3.5 0M1141.6 1366.6m-1.75 0a1.75 1.75 0 1 0 3.5 0a1.75 1.75 0 1 0 -3.5 0M1092.3 1377.5m-1.75 0a1.75 1.75 0 1 0 3.5 0a1.75 1.75 0 1 0 -3.5 0M1110.6 1378.4m-1.75 0a1.75 1.75 0 1 0 3.5 0a1.75 1.75 0 1 0 -3.5 0M1124.5 1375.1m-1.75 0a1.75 1.75 0 1 0 3.5 0a1.75 1.75 0 1 0 -3.5 0M1138.8 1378.4m-1.75 0a1.75 1.75 0 1 0 3.5 0a1.75 1.75 0 1 0 -3.5 0M1156.9 1377.5m-1.75 0a1.75 1.75 0 1 0 3.5 0a1.75 1.75 0 1 0 -3.5 0M1099.0 1387.5m-1.75 0a1.75 1.75 0 1 0 3.5 0a1.75 1.75 0 1 0 -3.5 0M1113.1 1391.3m-1.75 0a1.75 1.75 0 1 0 3.5 0a1.75 1.75 0 1 0 -3.5 0M1124.5 1388.0m-1.75 0a1.75 1.75 0 1 0 3.5 0a1.75 1.75 0 1 0 -3.5 0M1136.0 1391.3m-1.75 0a1.75 1.75 0 1 0 3.5 0a1.75 1.75 0 1 0 -3.5 0M1150.1 1387.5m-1.75 0a1.75 1.75 0 1 0 3.5 0a1.75 1.75 0 1 0 -3.5 0M1082.4 1394.2m-1.75 0a1.75 1.75 0 1 0 3.5 0a1.75 1.75 0 1 0 -3.5 0M1166.9 1394.2m-1.75 0a1.75 1.75 0 1 0 3.5 0a1.75 1.75 0 1 0 -3.5 0M1068.3 1401.8m-1.75 0a1.75 1.75 0 1 0 3.5 0a1.75 1.75 0 1 0 -3.5 0M1091.7 1401.3m-1.75 0a1.75 1.75 0 1 0 3.5 0a1.75 1.75 0 1 0 -3.5 0M1104.8 1400.3m-1.75 0a1.75 1.75 0 1 0 3.5 0a1.75 1.75 0 1 0 -3.5 0M1124.5 1399.9m-1.75 0a1.75 1.75 0 1 0 3.5 0a1.75 1.75 0 1 0 -3.5 0M1144.4 1400.3m-1.75 0a1.75 1.75 0 1 0 3.5 0a1.75 1.75 0 1 0 -3.5 0M1157.3 1401.3m-1.75 0a1.75 1.75 0 1 0 3.5 0a1.75 1.75 0 1 0 -3.5 0M1180.9 1401.8m-1.75 0a1.75 1.75 0 1 0 3.5 0a1.75 1.75 0 1 0 -3.5 0M1078.9 1412.7m-1.75 0a1.75 1.75 0 1 0 3.5 0a1.75 1.75 0 1 0 -3.5 0M1101.9 1412.7m-1.75 0a1.75 1.75 0 1 0 3.5 0a1.75 1.75 0 1 0 -3.5 0M1114.8 1406.5m-1.75 0a1.75 1.75 0 1 0 3.5 0a1.75 1.75 0 1 0 -3.5 0M1124.5 1412.7m-1.75 0a1.75 1.75 0 1 0 3.5 0a1.75 1.75 0 1 0 -3.5 0M1134.6 1406.5m-1.75 0a1.75 1.75 0 1 0 3.5 0a1.75 1.75 0 1 0 -3.5 0M1147.2 1412.7m-1.75 0a1.75 1.75 0 1 0 3.5 0a1.75 1.75 0 1 0 -3.5 0M1170.2 1412.7m-1.75 0a1.75 1.75 0 1 0 3.5 0a1.75 1.75 0 1 0 -3.5 0M1090.4 1417.0m-1.75 0a1.75 1.75 0 1 0 3.5 0a1.75 1.75 0 1 0 -3.5 0M1114.5 1419.4m-1.75 0a1.75 1.75 0 1 0 3.5 0a1.75 1.75 0 1 0 -3.5 0M1134.6 1419.4m-1.75 0a1.75 1.75 0 1 0 3.5 0a1.75 1.75 0 1 0 -3.5 0M1158.9 1417.0m-1.75 0a1.75 1.75 0 1 0 3.5 0a1.75 1.75 0 1 0 -3.5 0M1069.6 1429.4m-1.75 0a1.75 1.75 0 1 0 3.5 0a1.75 1.75 0 1 0 -3.5 0M1104.8 1425.6m-1.75 0a1.75 1.75 0 1 0 3.5 0a1.75 1.75 0 1 0 -3.5 0M1124.5 1425.6m-1.75 0a1.75 1.75 0 1 0 3.5 0a1.75 1.75 0 1 0 -3.5 0M1144.4 1425.6m-1.75 0a1.75 1.75 0 1 0 3.5 0a1.75 1.75 0 1 0 -3.5 0M1179.7 1429.4m-1.75 0a1.75 1.75 0 1 0 3.5 0a1.75 1.75 0 1 0 -3.5 0M1082.4 1431.8m-1.75 0a1.75 1.75 0 1 0 3.5 0a1.75 1.75 0 1 0 -3.5 0M1094.8 1431.8m-1.75 0a1.75 1.75 0 1 0 3.5 0a1.75 1.75 0 1 0 -3.5 0M1113.1 1434.6m-1.75 0a1.75 1.75 0 1 0 3.5 0a1.75 1.75 0 1 0 -3.5 0M1136.0 1434.6m-1.75 0a1.75 1.75 0 1 0 3.5 0a1.75 1.75 0 1 0 -3.5 0M1154.3 1431.8m-1.75 0a1.75 1.75 0 1 0 3.5 0a1.75 1.75 0 1 0 -3.5 0M1166.9 1431.8m-1.75 0a1.75 1.75 0 1 0 3.5 0a1.75 1.75 0 1 0 -3.5 0M1124.5 1437.5m-1.75 0a1.75 1.75 0 1 0 3.5 0a1.75 1.75 0 1 0 -3.5 0M1104.2 1443.2m-1.75 0a1.75 1.75 0 1 0 3.5 0a1.75 1.75 0 1 0 -3.5 0M1144.9 1443.2m-1.75 0a1.75 1.75 0 1 0 3.5 0a1.75 1.75 0 1 0 -3.5 0M1092.3 1448.2m-1.75 0a1.75 1.75 0 1 0 3.5 0a1.75 1.75 0 1 0 -3.5 0M1117.3 1449.8m-1.75 0a1.75 1.75 0 1 0 3.5 0a1.75 1.75 0 1 0 -3.5 0M1131.8 1449.8m-1.75 0a1.75 1.75 0 1 0 3.5 0a1.75 1.75 0 1 0 -3.5 0M1156.6 1448.2m-1.75 0a1.75 1.75 0 1 0 3.5 0a1.75 1.75 0 1 0 -3.5 0M1080.8 1453.2m-1.75 0a1.75 1.75 0 1 0 3.5 0a1.75 1.75 0 1 0 -3.5 0M1168.3 1453.2m-1.75 0a1.75 1.75 0 1 0 3.5 0a1.75 1.75 0 1 0 -3.5 0M1107.5 1458.9m-1.75 0a1.75 1.75 0 1 0 3.5 0a1.75 1.75 0 1 0 -3.5 0M1141.6 1458.9m-1.75 0a1.75 1.75 0 1 0 3.5 0a1.75 1.75 0 1 0 -3.5 0M1124.5 1462.7m-1.75 0a1.75 1.75 0 1 0 3.5 0a1.75 1.75 0 1 0 -3.5 0M1100.2 1469.3m-1.75 0a1.75 1.75 0 1 0 3.5 0a1.75 1.75 0 1 0 -3.5 0M1148.6 1469.3m-1.75 0a1.75 1.75 0 1 0 3.5 0a1.75 1.75 0 1 0 -3.5 0M1124.5 1475.5m-1.75 0a1.75 1.75 0 1 0 3.5 0a1.75 1.75 0 1 0 -3.5 0" fill="none" stroke="#2a2a2a" stroke-width="0.95"/>
<ellipse cx="1124.50" cy="1413.00" rx="60.60" ry="66.20" fill="none" stroke="#333" stroke-width="1.1"/>
<path d="M1118.3 1347.4C1119.5 1340.8 1121.0 1335.8 1124.5 1335.8C1128.0 1335.8 1129.5 1340.8 1130.7 1347.4" fill="none" stroke="#333" stroke-width="1.1"/>
<clipPath id="hf3"><ellipse cx="1283.75" cy="1413.00" rx="60.60" ry="66.20"/></clipPath>
<g clip-path="url(#hf3)">
<ellipse cx="1283.75" cy="1413.00" rx="60.60" ry="66.20" fill="#fff"/>
<path d="M1327.5 1355.6L1332.2 1355.1L1336.0 1356.3L1339.4 1359.0L1341.6 1363.1L1342.2 1367.2L1341.4 1371.3L1338.8 1375.2L1335.1 1377.7L1330.4 1378.7L1325.7 1377.7L1321.9 1375.2L1320.5 1373.4L1319.5 1371.3L1319.0 1367.2L1319.5 1364.1L1320.3 1362.1L1321.5 1360.0L1323.4 1358.0ZM1296.5 1377.3L1299.3 1376.8L1301.2 1376.9L1303.1 1377.6L1304.9 1379.0L1307.1 1382.7L1307.9 1385.7L1308.3 1388.8L1308.0 1394.0L1307.2 1399.1L1302.1 1416.8L1300.3 1425.9L1299.6 1435.1L1299.4 1455.7L1298.3 1466.0L1297.2 1471.1L1295.5 1475.9L1293.6 1479.4L1290.8 1482.8L1288.4 1484.5L1278.9 1484.5L1275.7 1482.1L1272.9 1478.4L1270.9 1474.2L1269.2 1468.8L1268.1 1462.9L1267.5 1455.7L1267.7 1449.5L1268.6 1442.3L1270.1 1435.0L1277.2 1407.3L1281.1 1396.0L1284.8 1388.8L1288.4 1383.7L1292.7 1379.4Z" fill="#ffc0c0" fill-rule="evenodd"/>
<path d="M1223.0 1388.6L1227.7 1388.1L1233.4 1388.7L1239.0 1390.6L1243.7 1393.3L1248.4 1397.0L1253.4 1402.2L1257.1 1407.3L1260.3 1413.5L1262.4 1420.7L1263.3 1428.9L1262.7 1455.7L1263.3 1477.3L1263.1 1484.5L1218.3 1484.5L1218.3 1390.3ZM1334.1 1391.8L1338.8 1391.4L1342.6 1391.5L1346.4 1392.4L1349.2 1393.7L1349.2 1484.5L1308.6 1484.5L1307.0 1480.4L1305.8 1475.2L1305.0 1468.0L1304.6 1457.7L1304.4 1446.4L1304.8 1437.2L1305.6 1430.0L1306.9 1423.8L1308.7 1418.0L1311.5 1411.4L1315.3 1404.4L1319.1 1399.1L1321.9 1396.3L1324.7 1394.4L1328.5 1393.0Z" fill="#c0c0ff" fill-rule="evenodd"/>
<path d="M1329.4 1362.8L1331.3 1362.5L1333.2 1363.1L1334.4 1364.1L1335.4 1366.2L1335.4 1368.3L1335.1 1369.5L1334.1 1370.8L1332.2 1372.1L1330.4 1372.3L1328.5 1371.7L1326.5 1369.3L1326.2 1367.2L1326.8 1365.2L1327.5 1364.0ZM1295.5 1386.7L1298.3 1386.4L1300.9 1387.8L1302.6 1390.9L1303.2 1395.0L1302.5 1402.2L1299.0 1416.6L1297.6 1424.8L1297.1 1433.1L1297.2 1451.6L1296.6 1459.8L1294.7 1468.0L1291.8 1473.9L1289.9 1476.1L1287.0 1478.1L1285.2 1478.8L1282.3 1478.9L1279.5 1478.1L1276.7 1476.0L1273.9 1472.3L1272.0 1468.2L1270.6 1462.9L1269.9 1457.7L1269.8 1452.6L1270.4 1446.4L1272.6 1437.2L1277.0 1423.8L1281.6 1408.4L1284.2 1401.2L1287.0 1395.5L1289.9 1391.3L1292.7 1388.4Z" fill="#ff8080" fill-rule="evenodd"/>
<path d="M1224.0 1400.0L1227.7 1399.3L1232.4 1399.6L1237.1 1400.9L1241.8 1403.5L1246.6 1407.3L1250.3 1411.5L1254.1 1417.0L1256.8 1422.8L1258.6 1428.9L1259.6 1435.1L1260.0 1443.3L1260.1 1455.7L1259.8 1467.0L1259.1 1474.2L1257.9 1480.1L1256.1 1484.5L1218.6 1484.5L1218.3 1484.1L1218.3 1402.8ZM1335.1 1400.1L1338.8 1400.2L1342.6 1401.2L1346.4 1403.1L1349.2 1405.3L1349.2 1473.1L1346.4 1476.5L1342.6 1480.0L1339.8 1482.1L1336.0 1484.0L1334.7 1484.5L1322.1 1484.5L1318.1 1482.4L1314.4 1479.0L1311.5 1474.6L1309.5 1469.1L1308.1 1461.9L1307.3 1452.6L1307.3 1442.3L1308.1 1434.1L1309.6 1426.9L1311.5 1421.3L1314.4 1415.5L1318.1 1409.9L1321.9 1405.9L1325.7 1403.1L1330.4 1401.0Z" fill="#8080ff" fill-rule="evenodd"/>
<path d="M1293.6 1396.9L1295.5 1396.5L1296.5 1396.9L1297.4 1398.4L1297.8 1401.2L1297.6 1405.3L1295.2 1417.6L1294.4 1424.8L1294.3 1432.0L1294.9 1448.5L1294.4 1457.7L1292.7 1464.7L1289.9 1470.0L1288.0 1471.9L1286.1 1473.1L1284.2 1473.7L1282.3 1473.7L1279.5 1472.7L1277.6 1471.2L1275.7 1468.9L1273.9 1465.0L1272.7 1460.8L1272.2 1456.7L1272.5 1448.5L1274.8 1439.3L1280.5 1424.8L1287.0 1406.3L1289.9 1400.8L1291.8 1398.4Z" fill="#ff4040" fill-rule="evenodd"/>
<path d="M1228.7 1407.3L1233.4 1407.6L1237.1 1408.8L1240.9 1411.0L1244.7 1414.1L1248.4 1418.4L1251.3 1422.9L1253.6 1427.9L1255.5 1434.1L1256.7 1441.3L1257.2 1449.5L1257.0 1458.8L1256.2 1467.0L1255.0 1472.4L1253.1 1477.3L1250.5 1481.4L1247.3 1484.5L1228.2 1484.5L1223.0 1480.3L1218.3 1474.5L1218.3 1412.3L1223.0 1408.9L1225.8 1407.8ZM1333.2 1407.2L1337.9 1407.2L1341.7 1408.3L1345.4 1410.6L1349.2 1414.6L1349.2 1463.8L1344.5 1470.4L1338.8 1475.4L1333.2 1477.9L1327.5 1478.5L1323.8 1477.6L1320.0 1475.6L1316.5 1472.2L1314.0 1468.0L1312.1 1462.9L1310.8 1456.7L1310.2 1449.5L1310.3 1441.3L1311.2 1435.1L1312.7 1428.9L1314.7 1423.8L1317.6 1418.7L1320.9 1414.3L1324.7 1410.9L1328.5 1408.7Z" fill="#4444ff" fill-rule="evenodd"/>
<path d="M1287.0 1424.7L1288.0 1424.5L1288.9 1425.3L1289.9 1427.9L1290.8 1432.5L1292.4 1445.4L1292.2 1454.7L1290.9 1460.8L1288.9 1465.1L1286.1 1467.9L1284.2 1468.7L1282.3 1468.8L1280.5 1468.1L1278.6 1466.6L1276.2 1462.9L1274.8 1457.4L1274.8 1450.5L1276.1 1444.4L1278.6 1438.0L1283.3 1429.5L1285.2 1426.7Z" fill="#ff0000" fill-rule="evenodd"/>
<path d="M1332.2 1413.4L1337.0 1413.2L1341.7 1415.0L1345.8 1418.7L1349.2 1424.4L1349.2 1453.9L1345.4 1461.7L1340.7 1467.5L1337.9 1469.7L1335.1 1471.3L1331.3 1472.4L1328.5 1472.4L1324.7 1471.5L1321.9 1469.9L1319.1 1467.2L1317.0 1463.9L1315.2 1459.8L1314.0 1454.7L1313.4 1449.5L1313.4 1443.3L1314.0 1438.2L1315.1 1433.1L1317.0 1427.9L1319.2 1423.8L1321.9 1420.1L1325.5 1416.6L1328.5 1414.7ZM1227.7 1414.4L1231.5 1414.1L1236.2 1415.2L1240.0 1417.3L1243.7 1420.6L1246.6 1424.1L1249.4 1428.9L1251.5 1434.1L1253.1 1440.3L1253.9 1447.5L1254.0 1454.7L1253.3 1461.9L1251.9 1468.0L1250.1 1472.2L1247.3 1476.3L1243.7 1479.1L1240.0 1480.5L1237.1 1480.8L1234.3 1480.4L1231.5 1479.5L1228.7 1477.9L1225.8 1475.7L1223.0 1472.7L1218.3 1465.3L1218.3 1421.5L1220.6 1418.7L1222.9 1416.6Z" fill="#0000ff" fill-rule="evenodd"/>
<path d="M1285.2 1438.1L1286.1 1438.3L1287.0 1439.1L1288.8 1443.3L1289.5 1448.5L1289.4 1453.6L1288.5 1457.7L1287.0 1460.9L1285.2 1462.8L1282.3 1463.3L1280.5 1462.2L1278.6 1459.4L1277.6 1455.7L1277.6 1451.4L1278.6 1446.9L1280.5 1442.5L1283.3 1439.0Z" fill="#c00000" fill-rule="evenodd"/>
<path d="M1330.4 1419.6L1334.1 1418.8L1337.0 1419.1L1339.8 1420.3L1342.6 1422.6L1344.9 1425.9L1346.7 1430.0L1347.7 1434.1L1348.1 1439.2L1347.7 1444.4L1346.7 1449.5L1344.8 1454.7L1342.6 1458.5L1339.8 1462.1L1337.0 1464.5L1334.1 1466.0L1330.4 1466.8L1327.5 1466.5L1325.7 1465.8L1322.9 1463.9L1320.9 1461.7L1319.1 1458.4L1317.7 1454.7L1316.9 1450.5L1316.7 1446.4L1317.4 1438.2L1318.6 1434.1L1320.2 1430.0L1322.0 1426.9L1324.7 1423.5L1327.5 1421.1ZM1229.6 1420.6L1232.4 1420.5L1236.2 1421.6L1239.0 1423.2L1241.9 1425.9L1244.7 1429.4L1246.7 1433.1L1248.7 1438.2L1249.9 1443.3L1250.5 1448.5L1250.5 1454.7L1249.8 1459.8L1248.7 1463.9L1246.8 1468.0L1244.7 1470.8L1241.8 1473.0L1239.0 1474.1L1236.2 1474.4L1232.4 1473.5L1229.6 1472.0L1226.8 1469.6L1224.0 1466.3L1221.8 1462.9L1220.0 1458.8L1218.3 1453.6L1218.3 1433.3L1218.7 1432.0L1220.5 1427.9L1223.0 1424.4L1225.8 1422.0Z" fill="#0000c8" fill-rule="evenodd"/>
<path d="M1333.2 1424.8L1336.0 1425.1L1337.9 1425.9L1339.8 1427.4L1341.7 1429.9L1343.0 1433.1L1343.8 1436.1L1344.1 1439.2L1344.0 1443.3L1343.2 1447.5L1342.1 1450.5L1340.7 1453.5L1338.8 1456.2L1337.0 1458.2L1334.1 1460.0L1331.3 1460.8L1329.4 1460.7L1327.5 1460.2L1325.7 1459.0L1323.8 1457.1L1322.4 1454.7L1321.2 1451.6L1320.6 1448.5L1320.6 1442.3L1321.9 1436.1L1324.7 1430.6L1328.5 1426.7L1330.4 1425.6ZM1229.6 1427.6L1231.5 1427.2L1234.3 1427.5L1237.1 1428.8L1239.0 1430.3L1241.5 1433.1L1243.4 1436.1L1244.7 1439.2L1245.9 1443.3L1246.5 1447.5L1246.6 1451.6L1245.5 1458.8L1244.2 1461.9L1242.8 1464.1L1240.9 1466.0L1238.1 1467.4L1236.2 1467.7L1233.4 1467.2L1230.9 1466.0L1228.7 1464.2L1226.7 1461.9L1224.7 1458.8L1223.0 1454.7L1222.1 1451.4L1221.4 1447.5L1221.3 1443.3L1221.7 1439.2L1222.4 1436.1L1225.0 1431.0L1227.0 1428.9Z" fill="#00008a" fill-rule="evenodd"/>
<path d="M1330.4 1433.0L1333.2 1432.2L1336.0 1433.1L1338.3 1436.1L1339.2 1440.3L1338.7 1445.4L1337.0 1449.5L1334.1 1452.5L1331.3 1453.4L1329.4 1453.0L1327.5 1451.6L1325.9 1448.5L1325.3 1445.4L1325.5 1441.3L1326.4 1438.2L1328.2 1435.1ZM1230.5 1436.1L1233.4 1435.5L1236.2 1436.7L1239.0 1439.8L1240.9 1444.4L1241.5 1449.5L1240.9 1453.9L1239.0 1457.5L1236.2 1459.2L1233.4 1459.0L1230.5 1457.0L1228.3 1453.6L1226.9 1449.5L1226.5 1445.4L1227.1 1441.3L1228.4 1438.2Z" fill="#0a0a40" fill-rule="evenodd"/>
</g>
<path d="M1266.7 1366.6m-1.75 0a1.75 1.75 0 1 0 3.5 0a1.75 1.75 0 1 0 -3.5 0M1300.9 1366.6m-1.75 0a1.75 1.75 0 1 0 3.5 0a1.75 1.75 0 1 0 -3.5 0M1251.6 1377.5m-1.75 0a1.75 1.75 0 1 0 3.5 0a1.75 1.75 0 1 0 -3.5 0M1269.8 1378.4m-1.75 0a1.75 1.75 0 1 0 3.5 0a1.75 1.75 0 1 0 -3.5 0M1283.8 1375.1m-1.75 0a1.75 1.75 0 1 0 3.5 0a1.75 1.75 0 1 0 -3.5 0M1298.1 1378.4m-1.75 0a1.75 1.75 0 1 0 3.5 0a1.75 1.75 0 1 0 -3.5 0M1316.1 1377.5m-1.75 0a1.75 1.75 0 1 0 3.5 0a1.75 1.75 0 1 0 -3.5 0M1258.3 1387.5m-1.75 0a1.75 1.75 0 1 0 3.5 0a1.75 1.75 0 1 0 -3.5 0M1272.3 1391.3m-1.75 0a1.75 1.75 0 1 0 3.5 0a1.75 1.75 0 1 0 -3.5 0M1283.8 1388.0m-1.75 0a1.75 1.75 0 1 0 3.5 0a1.75 1.75 0 1 0 -3.5 0M1295.3 1391.3m-1.75 0a1.75 1.75 0 1 0 3.5 0a1.75 1.75 0 1 0 -3.5 0M1309.3 1387.5m-1.75 0a1.75 1.75 0 1 0 3.5 0a1.75 1.75 0 1 0 -3.5 0M1241.6 1394.2m-1.75 0a1.75 1.75 0 1 0 3.5 0a1.75 1.75 0 1 0 -3.5 0M1326.1 1394.2m-1.75 0a1.75 1.75 0 1 0 3.5 0a1.75 1.75 0 1 0 -3.5 0M1227.6 1401.8m-1.75 0a1.75 1.75 0 1 0 3.5 0a1.75 1.75 0 1 0 -3.5 0M1251.0 1401.3m-1.75 0a1.75 1.75 0 1 0 3.5 0a1.75 1.75 0 1 0 -3.5 0M1264.1 1400.3m-1.75 0a1.75 1.75 0 1 0 3.5 0a1.75 1.75 0 1 0 -3.5 0M1283.8 1399.9m-1.75 0a1.75 1.75 0 1 0 3.5 0a1.75 1.75 0 1 0 -3.5 0M1303.7 1400.3m-1.75 0a1.75 1.75 0 1 0 3.5 0a1.75 1.75 0 1 0 -3.5 0M1316.5 1401.3m-1.75 0a1.75 1.75 0 1 0 3.5 0a1.75 1.75 0 1 0 -3.5 0M1340.2 1401.8m-1.75 0a1.75 1.75 0 1 0 3.5 0a1.75 1.75 0 1 0 -3.5 0M1238.2 1412.7m-1.75 0a1.75 1.75 0 1 0 3.5 0a1.75 1.75 0 1 0 -3.5 0M1261.1 1412.7m-1.75 0a1.75 1.75 0 1 0 3.5 0a1.75 1.75 0 1 0 -3.5 0M1274.0 1406.5m-1.75 0a1.75 1.75 0 1 0 3.5 0a1.75 1.75 0 1 0 -3.5 0M1283.8 1412.7m-1.75 0a1.75 1.75 0 1 0 3.5 0a1.75 1.75 0 1 0 -3.5 0M1293.9 1406.5m-1.75 0a1.75 1.75 0 1 0 3.5 0a1.75 1.75 0 1 0 -3.5 0M1306.5 1412.7m-1.75 0a1.75 1.75 0 1 0 3.5 0a1.75 1.75 0 1 0 -3.5 0M1329.4 1412.7m-1.75 0a1.75 1.75 0 1 0 3.5 0a1.75 1.75 0 1 0 -3.5 0M1249.7 1417.0m-1.75 0a1.75 1.75 0 1 0 3.5 0a1.75 1.75 0 1 0 -3.5 0M1273.7 1419.4m-1.75 0a1.75 1.75 0 1 0 3.5 0a1.75 1.75 0 1 0 -3.5 0M1293.9 1419.4m-1.75 0a1.75 1.75 0 1 0 3.5 0a1.75 1.75 0 1 0 -3.5 0M1318.2 1417.0m-1.75 0a1.75 1.75 0 1 0 3.5 0a1.75 1.75 0 1 0 -3.5 0M1228.8 1429.4m-1.75 0a1.75 1.75 0 1 0 3.5 0a1.75 1.75 0 1 0 -3.5 0M1264.1 1425.6m-1.75 0a1.75 1.75 0 1 0 3.5 0a1.75 1.75 0 1 0 -3.5 0M1283.8 1425.6m-1.75 0a1.75 1.75 0 1 0 3.5 0a1.75 1.75 0 1 0 -3.5 0M1303.7 1425.6m-1.75 0a1.75 1.75 0 1 0 3.5 0a1.75 1.75 0 1 0 -3.5 0M1339.0 1429.4m-1.75 0a1.75 1.75 0 1 0 3.5 0a1.75 1.75 0 1 0 -3.5 0M1241.6 1431.8m-1.75 0a1.75 1.75 0 1 0 3.5 0a1.75 1.75 0 1 0 -3.5 0M1254.1 1431.8m-1.75 0a1.75 1.75 0 1 0 3.5 0a1.75 1.75 0 1 0 -3.5 0M1272.3 1434.6m-1.75 0a1.75 1.75 0 1 0 3.5 0a1.75 1.75 0 1 0 -3.5 0M1295.3 1434.6m-1.75 0a1.75 1.75 0 1 0 3.5 0a1.75 1.75 0 1 0 -3.5 0M1313.5 1431.8m-1.75 0a1.75 1.75 0 1 0 3.5 0a1.75 1.75 0 1 0 -3.5 0M1326.1 1431.8m-1.75 0a1.75 1.75 0 1 0 3.5 0a1.75 1.75 0 1 0 -3.5 0M1283.8 1437.5m-1.75 0a1.75 1.75 0 1 0 3.5 0a1.75 1.75 0 1 0 -3.5 0M1263.4 1443.2m-1.75 0a1.75 1.75 0 1 0 3.5 0a1.75 1.75 0 1 0 -3.5 0M1304.2 1443.2m-1.75 0a1.75 1.75 0 1 0 3.5 0a1.75 1.75 0 1 0 -3.5 0M1251.6 1448.2m-1.75 0a1.75 1.75 0 1 0 3.5 0a1.75 1.75 0 1 0 -3.5 0M1276.5 1449.8m-1.75 0a1.75 1.75 0 1 0 3.5 0a1.75 1.75 0 1 0 -3.5 0M1291.1 1449.8m-1.75 0a1.75 1.75 0 1 0 3.5 0a1.75 1.75 0 1 0 -3.5 0M1315.9 1448.2m-1.75 0a1.75 1.75 0 1 0 3.5 0a1.75 1.75 0 1 0 -3.5 0M1240.0 1453.2m-1.75 0a1.75 1.75 0 1 0 3.5 0a1.75 1.75 0 1 0 -3.5 0M1327.6 1453.2m-1.75 0a1.75 1.75 0 1 0 3.5 0a1.75 1.75 0 1 0 -3.5 0M1266.7 1458.9m-1.75 0a1.75 1.75 0 1 0 3.5 0a1.75 1.75 0 1 0 -3.5 0M1300.9 1458.9m-1.75 0a1.75 1.75 0 1 0 3.5 0a1.75 1.75 0 1 0 -3.5 0M1283.8 1462.7m-1.75 0a1.75 1.75 0 1 0 3.5 0a1.75 1.75 0 1 0 -3.5 0M1259.4 1469.3m-1.75 0a1.75 1.75 0 1 0 3.5 0a1.75 1.75 0 1 0 -3.5 0M1307.9 1469.3m-1.75 0a1.75 1.75 0 1 0 3.5 0a1.75 1.75 0 1 0 -3.5 0M1283.8 1475.5m-1.75 0a1.75 1.75 0 1 0 3.5 0a1.75 1.75 0 1 0 -3.5 0" fill="none" stroke="#2a2a2a" stroke-width="0.95"/>
<ellipse cx="1283.75" cy="1413.00" rx="60.60" ry="66.20" fill="none" stroke="#333" stroke-width="1.1"/>
<path d="M1277.5 1347.4C1278.8 1340.8 1280.2 1335.8 1283.8 1335.8C1287.2 1335.8 1288.8 1340.8 1290.0 1347.4" fill="none" stroke="#333" stroke-width="1.1"/>
<clipPath id="hf4"><ellipse cx="1438.25" cy="1413.00" rx="60.60" ry="66.20"/></clipPath>
<g clip-path="url(#hf4)">
<ellipse cx="1438.25" cy="1413.00" rx="60.60" ry="66.20" fill="#fff"/>
<path d="M1429.3 1379.6L1435.0 1379.1L1440.6 1379.4L1446.3 1380.5L1451.0 1382.1L1455.5 1384.7L1458.5 1387.5L1460.6 1390.9L1461.5 1394.0L1461.6 1398.1L1460.2 1403.2L1458.1 1407.3L1452.2 1416.6L1450.6 1421.7L1450.4 1424.8L1450.7 1428.9L1454.7 1450.5L1455.2 1456.7L1455.1 1462.9L1454.2 1470.1L1452.4 1476.3L1450.0 1481.0L1446.9 1484.5L1430.9 1484.5L1427.4 1480.4L1425.2 1476.3L1423.7 1471.7L1422.6 1467.0L1421.7 1456.7L1422.5 1446.4L1425.5 1428.9L1425.4 1422.8L1424.6 1420.2L1423.2 1417.6L1416.2 1409.4L1413.3 1405.3L1411.4 1401.2L1410.7 1398.1L1410.5 1395.0L1411.1 1391.9L1412.4 1389.0L1414.2 1386.5L1417.1 1384.1L1420.8 1382.0L1424.6 1380.6Z" fill="#ffc0c0" fill-rule="evenodd"/>
<path d="M1414.2 1363.0L1418.0 1362.5L1419.9 1362.9L1420.8 1363.9L1420.8 1366.2L1418.8 1369.3L1415.0 1372.4L1410.5 1374.8L1405.8 1375.9L1403.9 1375.7L1402.9 1375.1L1402.5 1374.4L1402.6 1372.4L1404.6 1369.3L1408.6 1365.8ZM1375.6 1387.7L1380.3 1387.5L1384.1 1388.2L1387.9 1389.9L1391.6 1392.9L1396.3 1398.5L1410.5 1417.6L1413.2 1421.7L1415.2 1425.6L1416.5 1430.0L1417.0 1436.1L1416.3 1457.7L1416.3 1477.3L1415.7 1484.5L1372.8 1484.5L1372.8 1388.5ZM1490.5 1388.8L1493.3 1388.5L1497.1 1388.7L1499.9 1389.3L1503.7 1390.9L1503.7 1484.1L1503.3 1484.5L1466.2 1484.5L1464.6 1481.4L1463.3 1477.3L1461.7 1467.0L1459.0 1437.2L1459.1 1431.0L1459.9 1425.9L1461.4 1421.7L1464.2 1416.6L1472.6 1404.0L1477.3 1397.7L1480.2 1394.6L1483.9 1391.5L1486.7 1390.0Z" fill="#c0c0ff" fill-rule="evenodd"/>
<path d="M1430.2 1386.7L1434.0 1386.2L1438.7 1386.3L1442.5 1387.0L1446.3 1388.4L1449.1 1390.0L1451.9 1392.7L1453.3 1395.0L1454.1 1398.1L1454.1 1400.1L1453.3 1403.2L1447.1 1414.5L1446.1 1417.6L1445.8 1420.7L1446.7 1427.9L1450.5 1442.3L1452.0 1449.5L1452.6 1457.7L1452.0 1465.0L1450.2 1471.1L1447.2 1476.3L1443.4 1479.5L1439.7 1480.7L1436.8 1480.5L1435.0 1480.0L1431.2 1477.4L1428.0 1473.2L1425.6 1467.0L1424.4 1459.8L1424.4 1451.6L1425.8 1443.3L1429.6 1427.9L1430.2 1423.8L1430.2 1420.7L1429.5 1417.6L1427.8 1414.5L1421.5 1407.3L1419.4 1404.3L1418.1 1401.2L1417.7 1399.1L1418.3 1395.0L1419.4 1392.9L1420.8 1391.2L1424.6 1388.6Z" fill="#ff8080" fill-rule="evenodd"/>
<path d="M1377.5 1399.0L1381.3 1398.8L1386.0 1399.8L1389.8 1401.8L1393.5 1404.6L1399.2 1410.4L1405.1 1417.6L1409.1 1423.8L1411.4 1428.9L1412.8 1434.1L1413.5 1441.3L1413.1 1462.9L1412.5 1470.1L1411.4 1476.1L1410.1 1480.4L1408.1 1484.5L1372.8 1484.5L1372.8 1400.6ZM1488.6 1399.0L1492.4 1398.4L1496.2 1398.7L1499.9 1400.0L1503.7 1402.3L1503.7 1472.7L1499.0 1477.5L1493.3 1481.3L1488.6 1483.1L1483.0 1483.6L1478.3 1482.6L1473.6 1480.1L1469.9 1476.3L1467.5 1472.2L1465.5 1466.0L1463.9 1457.7L1462.7 1445.4L1462.6 1436.1L1463.2 1431.0L1464.6 1425.9L1466.9 1420.7L1470.7 1414.5L1475.4 1408.5L1480.2 1403.8L1484.9 1400.5Z" fill="#8080ff" fill-rule="evenodd"/>
<path d="M1431.2 1393.8L1435.0 1393.0L1439.7 1393.6L1443.4 1395.6L1445.3 1398.1L1445.8 1401.2L1445.0 1404.3L1441.5 1410.0L1438.7 1412.9L1436.8 1413.1L1434.0 1411.0L1429.3 1406.2L1426.7 1402.2L1426.3 1399.1L1427.0 1397.1L1428.9 1395.0ZM1437.8 1422.6L1438.7 1422.7L1440.6 1424.7L1442.5 1428.2L1445.3 1435.2L1448.8 1446.4L1450.0 1455.7L1449.4 1462.9L1448.6 1466.0L1447.2 1469.2L1445.3 1472.0L1443.4 1473.7L1441.5 1474.8L1438.7 1475.4L1435.9 1474.9L1434.0 1474.0L1432.1 1472.4L1430.2 1470.0L1427.7 1463.9L1426.8 1456.7L1427.4 1448.5L1429.8 1439.2L1434.0 1428.0L1435.9 1424.4Z" fill="#ff4040" fill-rule="evenodd"/>
<path d="M1487.7 1406.1L1492.4 1405.4L1496.2 1406.1L1499.9 1407.9L1503.7 1411.2L1503.7 1463.8L1499.0 1469.7L1494.3 1473.5L1489.6 1475.8L1483.9 1476.5L1479.2 1475.5L1475.4 1473.2L1472.6 1470.4L1470.0 1466.0L1467.9 1460.2L1466.6 1453.6L1465.9 1446.4L1465.9 1439.2L1466.4 1434.1L1467.7 1428.9L1469.8 1423.8L1472.6 1418.9L1476.4 1414.1L1480.2 1410.4L1483.9 1407.7ZM1377.5 1407.2L1381.3 1406.6L1386.0 1407.3L1389.8 1408.9L1394.5 1412.3L1399.2 1417.0L1403.5 1422.8L1406.4 1427.9L1408.6 1434.1L1410.0 1441.3L1410.4 1449.5L1409.9 1459.8L1408.7 1468.0L1407.2 1473.2L1404.8 1477.9L1402.0 1481.5L1397.9 1484.5L1383.3 1484.5L1377.5 1480.7L1372.8 1475.7L1372.8 1409.6Z" fill="#4444ff" fill-rule="evenodd"/>
<path d="M1438.7 1433.7L1440.6 1434.9L1443.4 1439.6L1446.2 1447.5L1447.3 1454.7L1446.8 1460.8L1445.3 1465.2L1442.5 1468.8L1440.6 1469.9L1438.7 1470.3L1436.8 1470.1L1435.0 1469.2L1432.1 1466.2L1430.2 1461.7L1429.5 1455.7L1430.2 1448.5L1432.1 1442.0L1435.0 1436.2L1436.8 1434.1Z" fill="#ff0000" fill-rule="evenodd"/>
<path d="M1490.5 1411.4L1494.3 1411.8L1498.0 1413.5L1500.9 1416.0L1503.7 1420.0L1503.7 1455.0L1499.9 1461.5L1495.2 1466.6L1492.4 1468.5L1489.6 1469.8L1486.7 1470.4L1483.9 1470.4L1480.2 1469.4L1477.3 1467.6L1474.5 1464.6L1472.3 1460.8L1470.7 1456.6L1469.5 1450.5L1469.0 1444.4L1469.3 1438.2L1470.3 1433.1L1472.0 1427.9L1474.1 1423.8L1476.9 1419.7L1480.2 1416.3L1483.9 1413.5L1487.7 1411.9ZM1380.3 1413.4L1384.1 1413.2L1387.9 1414.2L1392.6 1416.9L1396.3 1420.3L1400.0 1424.8L1402.9 1430.0L1404.9 1435.1L1406.2 1440.3L1407.0 1447.5L1406.9 1454.7L1406.2 1460.8L1404.6 1467.0L1402.7 1471.1L1399.7 1475.2L1396.3 1477.8L1392.6 1479.2L1387.9 1479.3L1385.0 1478.5L1382.2 1477.1L1377.3 1473.2L1372.8 1467.3L1372.8 1417.9L1376.6 1414.8Z" fill="#0000ff" fill-rule="evenodd"/>
<path d="M1436.8 1443.0L1438.7 1442.5L1439.7 1442.9L1441.0 1444.4L1442.9 1448.5L1443.9 1453.6L1443.8 1457.7L1442.9 1460.8L1441.5 1463.0L1440.5 1463.9L1438.7 1464.6L1436.8 1464.2L1435.0 1462.7L1433.5 1459.8L1432.8 1456.7L1432.8 1452.6L1433.7 1448.5L1435.0 1445.4Z" fill="#c00000" fill-rule="evenodd"/>
<path d="M1487.7 1417.4L1491.5 1417.1L1494.3 1417.8L1497.1 1419.5L1499.9 1422.8L1501.6 1425.9L1502.9 1430.0L1503.7 1435.0L1503.7 1439.9L1503.1 1444.4L1501.7 1449.5L1499.9 1453.8L1497.1 1458.2L1494.3 1461.2L1491.5 1463.2L1488.6 1464.4L1484.9 1464.7L1482.0 1464.1L1479.2 1462.4L1477.3 1460.5L1475.4 1457.6L1474.2 1454.7L1473.1 1450.5L1472.5 1446.4L1472.5 1441.3L1473.0 1437.2L1474.0 1433.1L1475.4 1429.3L1477.3 1425.9L1479.7 1422.8L1482.0 1420.4L1484.9 1418.5ZM1382.2 1419.5L1385.0 1419.5L1388.8 1420.6L1392.2 1422.8L1395.4 1425.9L1397.7 1428.9L1399.9 1433.1L1401.5 1437.2L1402.8 1442.3L1403.3 1447.5L1403.3 1453.6L1402.5 1458.8L1401.3 1462.9L1399.3 1467.0L1397.3 1469.6L1394.5 1471.7L1391.6 1472.8L1388.8 1473.0L1386.0 1472.5L1381.3 1469.9L1376.6 1464.9L1372.8 1457.9L1372.8 1427.3L1374.7 1424.3L1376.6 1422.3L1379.4 1420.4Z" fill="#0000c8" fill-rule="evenodd"/>
<path d="M1486.7 1423.5L1489.6 1422.9L1491.5 1423.1L1494.3 1424.4L1496.2 1426.2L1497.9 1428.9L1499.0 1432.0L1499.6 1435.1L1499.8 1439.2L1498.6 1446.4L1497.1 1450.2L1495.2 1453.4L1493.2 1455.7L1490.5 1457.7L1487.7 1458.7L1485.8 1458.8L1482.0 1457.5L1480.2 1455.8L1478.6 1453.6L1476.7 1448.5L1476.2 1442.3L1477.1 1436.1L1479.2 1430.8L1481.1 1427.9L1483.0 1425.9ZM1381.3 1426.7L1383.2 1426.1L1386.0 1426.1L1388.8 1427.1L1391.5 1428.9L1393.5 1431.1L1395.6 1434.1L1397.3 1437.7L1398.4 1441.3L1399.2 1445.4L1399.4 1449.5L1399.1 1453.6L1398.2 1457.4L1397.3 1459.9L1395.4 1462.9L1393.5 1464.7L1390.7 1466.1L1388.8 1466.3L1386.0 1465.9L1383.2 1464.4L1381.3 1462.8L1377.5 1457.6L1374.9 1450.5L1373.9 1443.3L1374.7 1436.1L1375.8 1433.1L1377.5 1430.0L1379.4 1427.9Z" fill="#00008a" fill-rule="evenodd"/>
<path d="M1486.7 1430.8L1489.6 1430.3L1492.4 1431.8L1494.3 1435.0L1494.9 1439.2L1494.3 1443.9L1492.4 1448.0L1489.6 1450.7L1486.7 1451.4L1484.4 1450.5L1482.5 1448.5L1481.3 1445.4L1481.0 1442.3L1481.5 1438.2L1482.7 1435.1L1484.9 1432.1ZM1383.2 1434.9L1386.0 1434.2L1388.8 1435.4L1391.6 1438.5L1393.5 1442.8L1394.2 1447.5L1393.6 1452.6L1392.1 1455.7L1389.8 1457.7L1386.9 1457.9L1384.1 1456.5L1381.7 1453.6L1380.0 1449.5L1379.2 1445.4L1379.4 1441.3L1380.9 1437.2Z" fill="#0a0a40" fill-rule="evenodd"/>
</g>
<path d="M1421.2 1366.6m-1.75 0a1.75 1.75 0 1 0 3.5 0a1.75 1.75 0 1 0 -3.5 0M1455.4 1366.6m-1.75 0a1.75 1.75 0 1 0 3.5 0a1.75 1.75 0 1 0 -3.5 0M1406.1 1377.5m-1.75 0a1.75 1.75 0 1 0 3.5 0a1.75 1.75 0 1 0 -3.5 0M1424.3 1378.4m-1.75 0a1.75 1.75 0 1 0 3.5 0a1.75 1.75 0 1 0 -3.5 0M1438.2 1375.1m-1.75 0a1.75 1.75 0 1 0 3.5 0a1.75 1.75 0 1 0 -3.5 0M1452.6 1378.4m-1.75 0a1.75 1.75 0 1 0 3.5 0a1.75 1.75 0 1 0 -3.5 0M1470.6 1377.5m-1.75 0a1.75 1.75 0 1 0 3.5 0a1.75 1.75 0 1 0 -3.5 0M1412.8 1387.5m-1.75 0a1.75 1.75 0 1 0 3.5 0a1.75 1.75 0 1 0 -3.5 0M1426.8 1391.3m-1.75 0a1.75 1.75 0 1 0 3.5 0a1.75 1.75 0 1 0 -3.5 0M1438.2 1388.0m-1.75 0a1.75 1.75 0 1 0 3.5 0a1.75 1.75 0 1 0 -3.5 0M1449.8 1391.3m-1.75 0a1.75 1.75 0 1 0 3.5 0a1.75 1.75 0 1 0 -3.5 0M1463.8 1387.5m-1.75 0a1.75 1.75 0 1 0 3.5 0a1.75 1.75 0 1 0 -3.5 0M1396.1 1394.2m-1.75 0a1.75 1.75 0 1 0 3.5 0a1.75 1.75 0 1 0 -3.5 0M1480.6 1394.2m-1.75 0a1.75 1.75 0 1 0 3.5 0a1.75 1.75 0 1 0 -3.5 0M1382.1 1401.8m-1.75 0a1.75 1.75 0 1 0 3.5 0a1.75 1.75 0 1 0 -3.5 0M1405.5 1401.3m-1.75 0a1.75 1.75 0 1 0 3.5 0a1.75 1.75 0 1 0 -3.5 0M1418.6 1400.3m-1.75 0a1.75 1.75 0 1 0 3.5 0a1.75 1.75 0 1 0 -3.5 0M1438.2 1399.9m-1.75 0a1.75 1.75 0 1 0 3.5 0a1.75 1.75 0 1 0 -3.5 0M1458.2 1400.3m-1.75 0a1.75 1.75 0 1 0 3.5 0a1.75 1.75 0 1 0 -3.5 0M1471.0 1401.3m-1.75 0a1.75 1.75 0 1 0 3.5 0a1.75 1.75 0 1 0 -3.5 0M1494.7 1401.8m-1.75 0a1.75 1.75 0 1 0 3.5 0a1.75 1.75 0 1 0 -3.5 0M1392.7 1412.7m-1.75 0a1.75 1.75 0 1 0 3.5 0a1.75 1.75 0 1 0 -3.5 0M1415.6 1412.7m-1.75 0a1.75 1.75 0 1 0 3.5 0a1.75 1.75 0 1 0 -3.5 0M1428.5 1406.5m-1.75 0a1.75 1.75 0 1 0 3.5 0a1.75 1.75 0 1 0 -3.5 0M1438.2 1412.7m-1.75 0a1.75 1.75 0 1 0 3.5 0a1.75 1.75 0 1 0 -3.5 0M1448.4 1406.5m-1.75 0a1.75 1.75 0 1 0 3.5 0a1.75 1.75 0 1 0 -3.5 0M1461.0 1412.7m-1.75 0a1.75 1.75 0 1 0 3.5 0a1.75 1.75 0 1 0 -3.5 0M1483.9 1412.7m-1.75 0a1.75 1.75 0 1 0 3.5 0a1.75 1.75 0 1 0 -3.5 0M1404.2 1417.0m-1.75 0a1.75 1.75 0 1 0 3.5 0a1.75 1.75 0 1 0 -3.5 0M1428.2 1419.4m-1.75 0a1.75 1.75 0 1 0 3.5 0a1.75 1.75 0 1 0 -3.5 0M1448.4 1419.4m-1.75 0a1.75 1.75 0 1 0 3.5 0a1.75 1.75 0 1 0 -3.5 0M1472.7 1417.0m-1.75 0a1.75 1.75 0 1 0 3.5 0a1.75 1.75 0 1 0 -3.5 0M1383.3 1429.4m-1.75 0a1.75 1.75 0 1 0 3.5 0a1.75 1.75 0 1 0 -3.5 0M1418.6 1425.6m-1.75 0a1.75 1.75 0 1 0 3.5 0a1.75 1.75 0 1 0 -3.5 0M1438.2 1425.6m-1.75 0a1.75 1.75 0 1 0 3.5 0a1.75 1.75 0 1 0 -3.5 0M1458.2 1425.6m-1.75 0a1.75 1.75 0 1 0 3.5 0a1.75 1.75 0 1 0 -3.5 0M1493.5 1429.4m-1.75 0a1.75 1.75 0 1 0 3.5 0a1.75 1.75 0 1 0 -3.5 0M1396.1 1431.8m-1.75 0a1.75 1.75 0 1 0 3.5 0a1.75 1.75 0 1 0 -3.5 0M1408.6 1431.8m-1.75 0a1.75 1.75 0 1 0 3.5 0a1.75 1.75 0 1 0 -3.5 0M1426.8 1434.6m-1.75 0a1.75 1.75 0 1 0 3.5 0a1.75 1.75 0 1 0 -3.5 0M1449.8 1434.6m-1.75 0a1.75 1.75 0 1 0 3.5 0a1.75 1.75 0 1 0 -3.5 0M1468.0 1431.8m-1.75 0a1.75 1.75 0 1 0 3.5 0a1.75 1.75 0 1 0 -3.5 0M1480.6 1431.8m-1.75 0a1.75 1.75 0 1 0 3.5 0a1.75 1.75 0 1 0 -3.5 0M1438.2 1437.5m-1.75 0a1.75 1.75 0 1 0 3.5 0a1.75 1.75 0 1 0 -3.5 0M1417.9 1443.2m-1.75 0a1.75 1.75 0 1 0 3.5 0a1.75 1.75 0 1 0 -3.5 0M1458.7 1443.2m-1.75 0a1.75 1.75 0 1 0 3.5 0a1.75 1.75 0 1 0 -3.5 0M1406.1 1448.2m-1.75 0a1.75 1.75 0 1 0 3.5 0a1.75 1.75 0 1 0 -3.5 0M1431.0 1449.8m-1.75 0a1.75 1.75 0 1 0 3.5 0a1.75 1.75 0 1 0 -3.5 0M1445.6 1449.8m-1.75 0a1.75 1.75 0 1 0 3.5 0a1.75 1.75 0 1 0 -3.5 0M1470.4 1448.2m-1.75 0a1.75 1.75 0 1 0 3.5 0a1.75 1.75 0 1 0 -3.5 0M1394.5 1453.2m-1.75 0a1.75 1.75 0 1 0 3.5 0a1.75 1.75 0 1 0 -3.5 0M1482.1 1453.2m-1.75 0a1.75 1.75 0 1 0 3.5 0a1.75 1.75 0 1 0 -3.5 0M1421.2 1458.9m-1.75 0a1.75 1.75 0 1 0 3.5 0a1.75 1.75 0 1 0 -3.5 0M1455.4 1458.9m-1.75 0a1.75 1.75 0 1 0 3.5 0a1.75 1.75 0 1 0 -3.5 0M1438.2 1462.7m-1.75 0a1.75 1.75 0 1 0 3.5 0a1.75 1.75 0 1 0 -3.5 0M1413.9 1469.3m-1.75 0a1.75 1.75 0 1 0 3.5 0a1.75 1.75 0 1 0 -3.5 0M1462.4 1469.3m-1.75 0a1.75 1.75 0 1 0 3.5 0a1.75 1.75 0 1 0 -3.5 0M1438.2 1475.5m-1.75 0a1.75 1.75 0 1 0 3.5 0a1.75 1.75 0 1 0 -3.5 0" fill="none" stroke="#2a2a2a" stroke-width="0.95"/>
<ellipse cx="1438.25" cy="1413.00" rx="60.60" ry="66.20" fill="none" stroke="#333" stroke-width="1.1"/>
<path d="M1432.0 1347.4C1433.2 1340.8 1434.8 1335.8 1438.2 1335.8C1441.8 1335.8 1443.2 1340.8 1444.5 1347.4" fill="none" stroke="#333" stroke-width="1.1"/>
<rect x="638.20" y="1911.6" width="16.92" height="8.2" fill="#0a0a40"/>
<rect x="654.82" y="1911.6" width="16.92" height="8.2" fill="#00008a"/>
<rect x="671.44" y="1911.6" width="16.92" height="8.2" fill="#0000c8"/>
<rect x="688.06" y="1911.6" width="16.92" height="8.2" fill="#0000ff"/>
<rect x="704.68" y="1911.6" width="16.92" height="8.2" fill="#4444ff"/>
<rect x="721.29" y="1911.6" width="16.92" height="8.2" fill="#8080ff"/>
<rect x="737.91" y="1911.6" width="16.92" height="8.2" fill="#c0c0ff"/>
<rect x="754.53" y="1911.6" width="16.92" height="8.2" fill="#ffffff"/>
<rect x="771.15" y="1911.6" width="16.92" height="8.2" fill="#ffffff"/>
<rect x="787.77" y="1911.6" width="16.92" height="8.2" fill="#ffc0c0"/>
<rect x="804.39" y="1911.6" width="16.92" height="8.2" fill="#ff8080"/>
<rect x="821.01" y="1911.6" width="16.92" height="8.2" fill="#ff4040"/>
<rect x="837.62" y="1911.6" width="16.92" height="8.2" fill="#ff0000"/>
<rect x="854.24" y="1911.6" width="16.92" height="8.2" fill="#c00000"/>
<rect x="870.86" y="1911.6" width="16.92" height="8.2" fill="#800000"/>
<rect x="887.48" y="1911.6" width="16.92" height="8.2" fill="#400000"/>
<path d="M638.2 1920.6H904.1M638.8 1919V1923M771.2 1919V1923M903.5 1919V1923" stroke="#000" stroke-width="1.3" fill="none"/>
<text transform="translate(595.64 1940.00) scale(0.1944 0.1962)" font-size="100" fill="#000">-20 µV/m²</text>
<text transform="translate(737.26 1940.00) scale(0.1906 0.1962)" font-size="100" fill="#000">0 µV/m²</text>
<text transform="translate(863.01 1940.00) scale(0.1971 0.1962)" font-size="100" fill="#000">20 µV/m²</text>
<path d="M310.3 2004.5H364.7" stroke="#7f0000" stroke-width="6.3" stroke-linecap="round"/>
<text transform="translate(370.06 2011.40) scale(0.2603 0.2558)" font-size="100" fill="#000">No overlap/</text>
<text transform="translate(372.15 2044.30) scale(0.2614 0.2558)" font-size="100" fill="#000">Alternation</text>
<text transform="translate(370.57 2075.30) scale(0.2632 0.2558)" font-size="100" fill="#000">(incomp/alt)</text>
<path d="M540.8 2004.5H595.1" stroke="#ff5555" stroke-width="6.3" stroke-linecap="round"/>
<text transform="translate(600.87 2011.40) scale(0.2598 0.2558)" font-size="100" fill="#000">No overlap/</text>
<text transform="translate(600.83 2044.30) scale(0.2640 0.2558)" font-size="100" fill="#000">Repetition</text>
<text transform="translate(601.36 2075.30) scale(0.2638 0.2558)" font-size="100" fill="#000">(incomp/rep)</text>
<path d="M771.9 2004.5H825.9" stroke="#00007f" stroke-width="6.3" stroke-linecap="round"/>
<text transform="translate(832.15 2011.40) scale(0.2619 0.2558)" font-size="100" fill="#000">Full overlap/</text>
<text transform="translate(834.25 2044.30) scale(0.2594 0.2558)" font-size="100" fill="#000">Alternation</text>
<text transform="translate(832.66 2075.30) scale(0.2650 0.2558)" font-size="100" fill="#000">(comp/alt)</text>
<path d="M1003.0 2004.5H1057.0" stroke="#9fc5e8" stroke-width="6.3" stroke-linecap="round"/>
<text transform="translate(1062.97 2011.40) scale(0.2600 0.2558)" font-size="100" fill="#000">Full overlap/</text>
<text transform="translate(1062.93 2044.30) scale(0.2642 0.2558)" font-size="100" fill="#000">Repetition</text>
<text transform="translate(1063.47 2075.30) scale(0.2630 0.2558)" font-size="100" fill="#000">(comp/rep)</text>
</svg></body></html>
